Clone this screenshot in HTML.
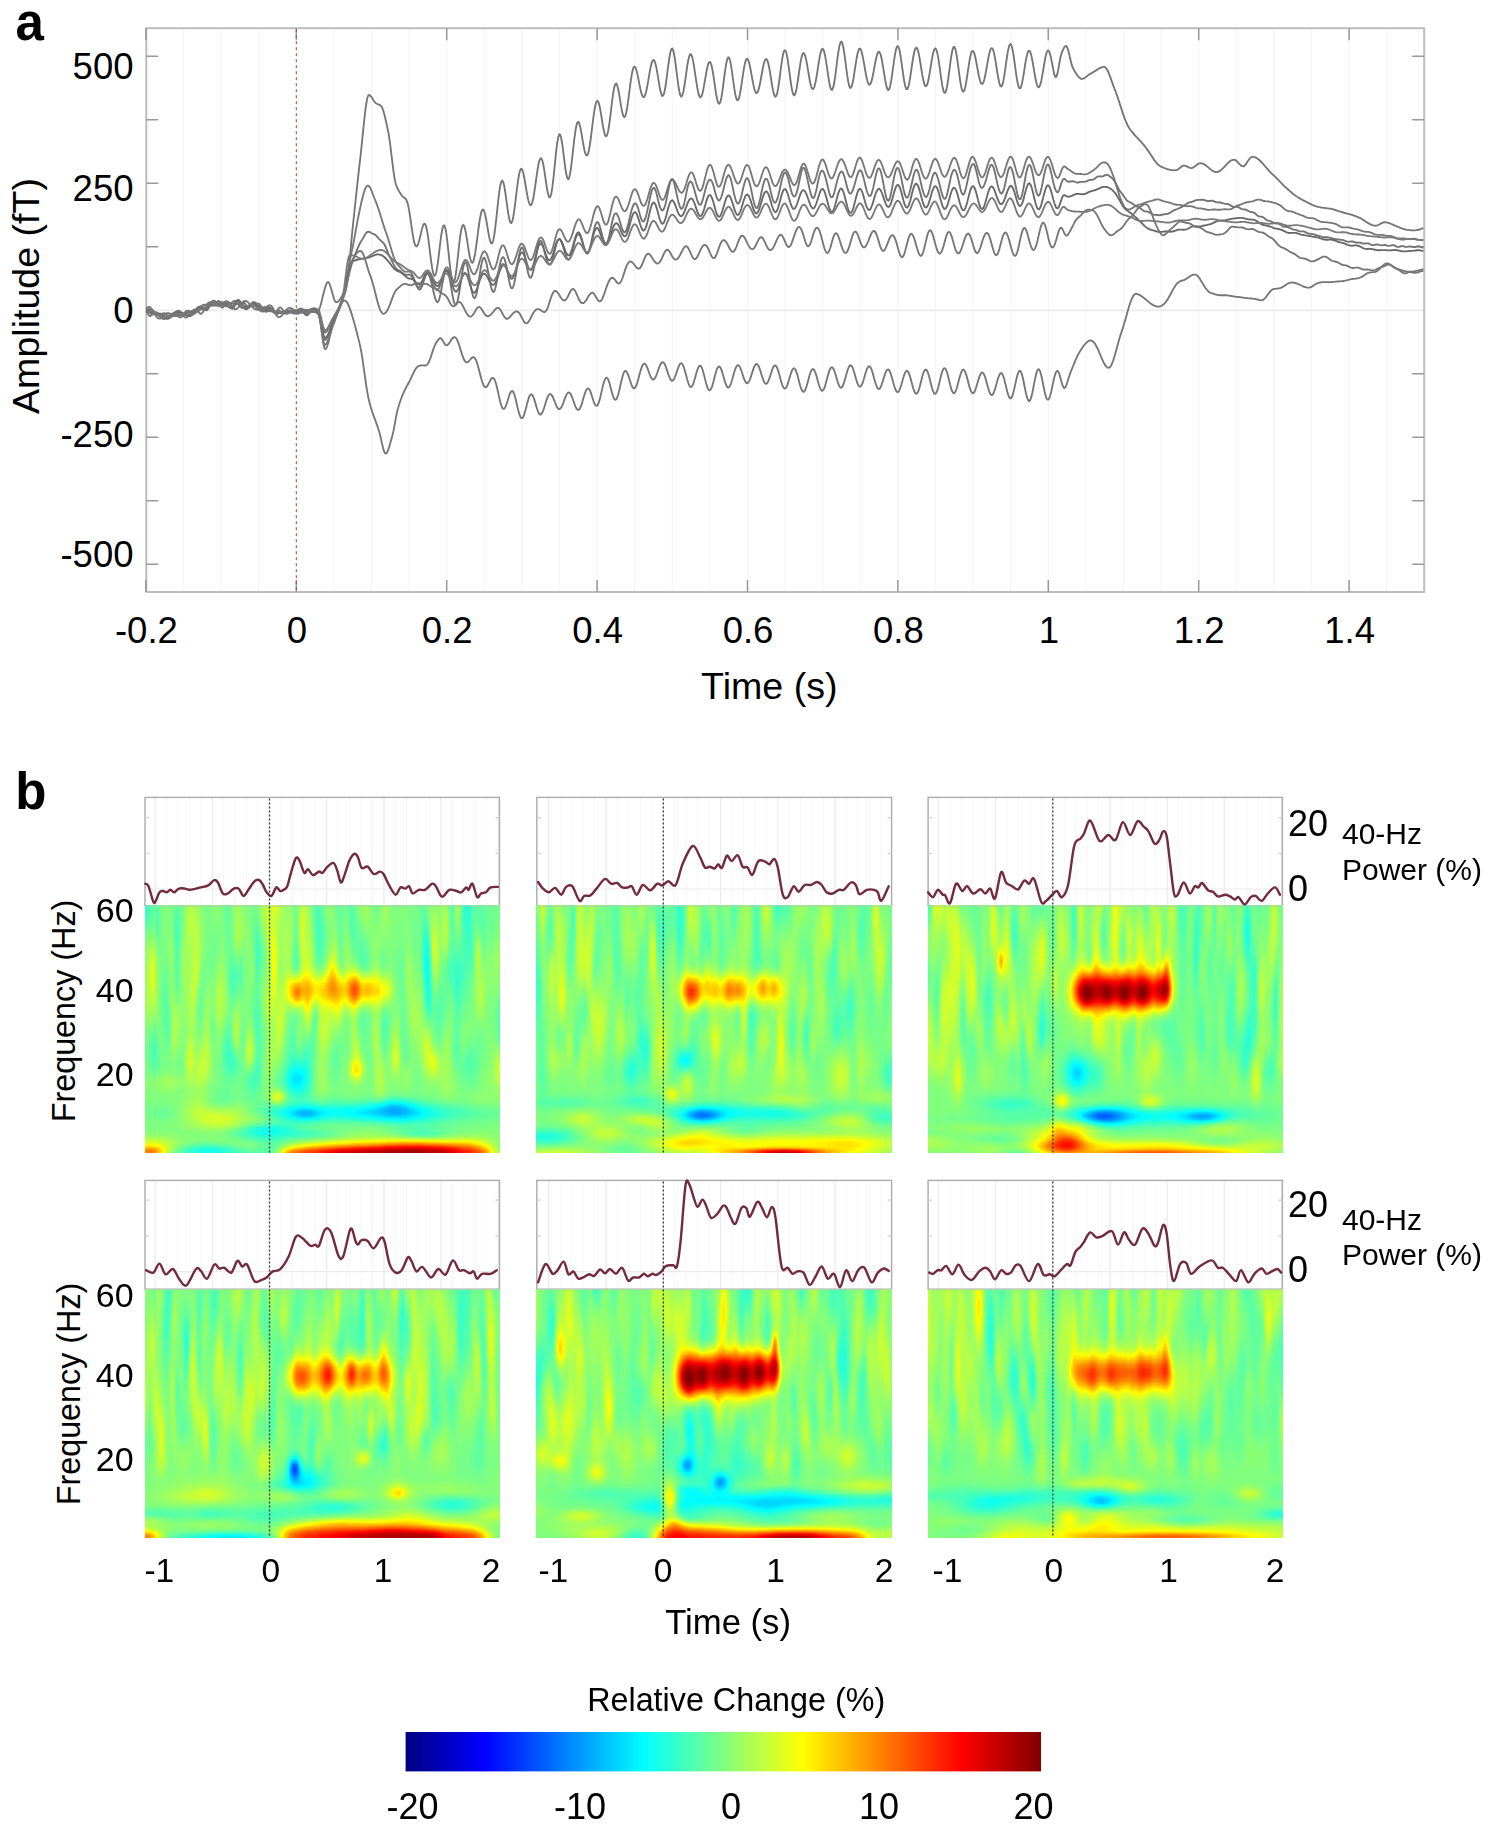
<!DOCTYPE html><html><head><meta charset="utf-8"><style>html,body{margin:0;padding:0;background:#fff}body{width:1499px;height:1834px;overflow:hidden;position:relative}svg{position:absolute;left:0;top:0;display:block}text{font-family:"Liberation Sans",sans-serif;fill:#000}.w{fill:url(#gw)}.k{fill:url(#gk)}</style></head><body><svg width="1499" height="1834" viewBox="0 0 1499 1834"><defs><radialGradient id="gw"><stop offset="0.00" stop-color="#fff" stop-opacity="1.000"/><stop offset="0.10" stop-color="#fff" stop-opacity="0.956"/><stop offset="0.20" stop-color="#fff" stop-opacity="0.835"/><stop offset="0.30" stop-color="#fff" stop-opacity="0.667"/><stop offset="0.40" stop-color="#fff" stop-opacity="0.487"/><stop offset="0.50" stop-color="#fff" stop-opacity="0.325"/><stop offset="0.60" stop-color="#fff" stop-opacity="0.198"/><stop offset="0.70" stop-color="#fff" stop-opacity="0.110"/><stop offset="0.80" stop-color="#fff" stop-opacity="0.056"/><stop offset="0.90" stop-color="#fff" stop-opacity="0.026"/><stop offset="1.00" stop-color="#fff" stop-opacity="0.000"/></radialGradient><radialGradient id="gk"><stop offset="0.00" stop-color="#000" stop-opacity="1.000"/><stop offset="0.10" stop-color="#000" stop-opacity="0.956"/><stop offset="0.20" stop-color="#000" stop-opacity="0.835"/><stop offset="0.30" stop-color="#000" stop-opacity="0.667"/><stop offset="0.40" stop-color="#000" stop-opacity="0.487"/><stop offset="0.50" stop-color="#000" stop-opacity="0.325"/><stop offset="0.60" stop-color="#000" stop-opacity="0.198"/><stop offset="0.70" stop-color="#000" stop-opacity="0.110"/><stop offset="0.80" stop-color="#000" stop-opacity="0.056"/><stop offset="0.90" stop-color="#000" stop-opacity="0.026"/><stop offset="1.00" stop-color="#000" stop-opacity="0.000"/></radialGradient><filter id="jet" x="0" y="0" width="1" height="1" color-interpolation-filters="sRGB"><feComponentTransfer><feFuncR type="table" tableValues="0 0 0 0 .5 1 1 1 .5"/><feFuncG type="table" tableValues="0 0 .5 1 1 1 .5 0 0"/><feFuncB type="table" tableValues=".5 1 1 1 .5 0 0 0 0"/></feComponentTransfer></filter><clipPath id="hc0"><rect x="145.0" y="905.8" width="354.5" height="246.6"/></clipPath><clipPath id="hc1"><rect x="536.8" y="905.8" width="354.8" height="246.6"/></clipPath><clipPath id="hc2"><rect x="928.1" y="905.8" width="354.3" height="246.6"/></clipPath><clipPath id="hc3"><rect x="145.0" y="1289.2" width="354.5" height="248.0"/></clipPath><clipPath id="hc4"><rect x="536.8" y="1289.2" width="354.8" height="248.0"/></clipPath><clipPath id="hc5"><rect x="928.1" y="1289.2" width="354.3" height="248.0"/></clipPath><linearGradient id="cb" x1="0" x2="1" y1="0" y2="0"><stop offset="0" stop-color="#000080"/><stop offset=".125" stop-color="#0000ff"/><stop offset=".375" stop-color="#00ffff"/><stop offset=".5" stop-color="#80ff80"/><stop offset=".625" stop-color="#ffff00"/><stop offset=".875" stop-color="#ff0000"/><stop offset="1" stop-color="#800000"/></linearGradient></defs><path d="M183.5 28.2V592.0M221.1 28.2V592.0M258.7 28.2V592.0M333.9 28.2V592.0M371.5 28.2V592.0M409.1 28.2V592.0M446.7 28.2V592.0M484.3 28.2V592.0M521.9 28.2V592.0M559.5 28.2V592.0M597.1 28.2V592.0M634.7 28.2V592.0M672.3 28.2V592.0M709.9 28.2V592.0M747.5 28.2V592.0M785.1 28.2V592.0M822.7 28.2V592.0M860.3 28.2V592.0M897.9 28.2V592.0M935.5 28.2V592.0M973.1 28.2V592.0M1010.7 28.2V592.0M1048.3 28.2V592.0M1085.9 28.2V592.0M1123.5 28.2V592.0M1161.1 28.2V592.0M1198.7 28.2V592.0M1236.3 28.2V592.0M1273.9 28.2V592.0M1311.5 28.2V592.0M1349.1 28.2V592.0M1386.7 28.2V592.0" stroke="#f5f5f5" stroke-width="1.2" fill="none"/>
<path d="M146.3 310.3H1424.2" stroke="#ececec" stroke-width="1.8" fill="none"/>
<rect x="146.3" y="28.2" width="1277.9" height="563.8" fill="none" stroke="#bdbdbd" stroke-width="2"/>
<path d="M146.3 56.3h12M1424.2 56.3h-12M146.3 119.8h12M1424.2 119.8h-12M146.3 183.3h12M1424.2 183.3h-12M146.3 246.8h12M1424.2 246.8h-12M146.3 373.8h12M1424.2 373.8h-12M146.3 437.3h12M1424.2 437.3h-12M146.3 500.8h12M1424.2 500.8h-12M146.3 564.3h12M1424.2 564.3h-12M145.9 28.2v12M145.9 592.0v-12M296.3 28.2v12M296.3 592.0v-12M446.7 28.2v12M446.7 592.0v-12M597.1 28.2v12M597.1 592.0v-12M747.5 28.2v12M747.5 592.0v-12M897.9 28.2v12M897.9 592.0v-12M1048.3 28.2v12M1048.3 592.0v-12M1198.7 28.2v12M1198.7 592.0v-12M1349.1 28.2v12M1349.1 592.0v-12" stroke="#999" stroke-width="1.5" fill="none"/>
<path d="M296.3 29.2V591.0" stroke="#b23a3a" stroke-width="1" stroke-dasharray="3 3" fill="none"/>
<path d="M146.3 309.4L147.3 309.2L148.3 309.1L149.3 309.1L150.3 309.3L151.3 309.6L152.3 310.0L153.3 310.6L154.3 311.4L155.3 312.2L156.3 313.2L157.3 314.2L158.3 315.2L159.3 316.2L160.3 317.1L161.3 317.9L162.3 318.5L163.3 318.8L164.3 319.0L165.3 318.8L166.3 318.5L167.3 318.0L168.3 317.3L169.3 316.6L170.3 315.7L171.3 314.9L172.3 314.0L173.3 313.2L174.3 312.5L175.3 312.0L176.3 311.6L177.3 311.4L178.3 311.4L179.3 311.6L180.3 311.9L181.3 312.4L182.3 313.0L183.3 313.6L184.3 314.3L185.3 314.9L186.3 315.5L187.3 315.9L188.3 316.2L189.3 316.2L190.3 316.0L191.3 315.6L192.3 315.1L193.3 314.3L194.3 313.3L195.3 312.3L196.3 311.2L197.3 310.0L198.3 308.9L199.3 307.9L200.3 307.0L201.3 306.3L202.3 305.7L203.3 305.3L204.3 305.1L205.3 305.0L206.3 305.0L207.3 304.9L208.3 304.7L209.3 304.5L210.3 304.3L211.3 304.2L212.3 304.2L213.3 304.4L214.3 304.9L215.3 305.3L216.3 305.6L217.3 305.8L218.3 305.9L219.3 305.8L220.3 305.6L221.3 305.3L222.3 304.9L223.3 304.4L224.3 303.9L225.3 303.5L226.3 303.3L227.3 303.1L228.3 303.0L229.3 303.1L230.3 303.2L231.3 303.4L232.3 303.6L233.3 303.7L234.3 303.7L235.3 303.7L236.3 303.8L237.3 303.9L238.3 304.1L239.3 304.4L240.3 304.9L241.3 305.6L242.3 306.3L243.3 306.9L244.3 307.4L245.3 307.7L246.3 307.7L247.3 307.4L248.3 306.9L249.3 306.2L250.3 305.5L251.3 304.8L252.3 304.2L253.3 303.8L254.3 303.6L255.3 303.8L256.3 304.3L257.3 305.1L258.3 306.0L259.3 306.9L260.3 307.9L261.3 308.7L262.3 309.3L263.3 309.6L264.3 309.7L265.3 309.9L266.3 309.9L267.3 309.9L268.3 309.9L269.3 309.8L270.3 309.7L271.3 309.7L272.3 309.7L273.3 310.2L274.3 311.1L275.3 312.1L276.3 312.7L277.3 312.9L278.3 312.8L279.3 312.7L280.3 312.5L281.3 312.4L282.3 312.2L283.3 312.0L284.3 311.8L285.3 311.7L286.3 311.6L287.3 311.5L288.3 311.4L289.3 311.2L290.3 311.1L291.3 311.0L292.3 310.9L293.3 310.8L294.3 310.8L295.3 310.7L296.3 310.8L297.3 310.8L298.3 310.9L299.3 311.1L300.3 311.2L301.3 311.4L302.3 311.6L303.3 311.8L304.3 312.0L305.3 312.2L306.3 312.3L307.3 312.4L308.3 312.4L309.3 312.3L310.3 312.1L311.3 311.8L312.3 311.4L313.3 311.1L314.3 311.0L315.3 311.1L316.3 311.4L317.3 311.9L318.3 312.6L319.3 314.7L320.3 318.0L321.3 322.1L322.3 326.1L323.3 329.6L324.3 332.0L325.3 332.6L326.3 332.0L327.3 330.6L328.3 328.6L329.3 326.2L330.3 323.7L331.3 321.4L332.3 319.5L333.3 317.7L334.3 316.0L335.3 314.2L336.3 312.4L337.3 310.6L338.3 308.7L339.3 306.6L340.3 304.5L341.3 302.4L342.3 300.3L343.3 298.0L344.3 295.3L345.3 292.2L346.3 288.2L347.3 282.1L348.3 273.6L349.3 263.7L350.3 252.9L351.3 241.9L352.3 231.4L353.3 221.9L354.3 212.6L355.3 203.2L356.3 193.7L357.3 184.4L358.3 175.3L359.3 166.5L360.3 158.1L361.3 148.9L362.3 139.1L363.3 129.1L364.3 119.5L365.3 110.8L366.3 103.5L367.3 98.1L368.3 95.3L369.3 95.0L370.3 95.7L371.3 96.8L372.3 98.3L373.3 100.0L374.3 101.5L375.3 102.8L376.3 103.5L377.3 104.0L378.3 104.4L379.3 104.9L380.3 105.4L381.3 106.2L382.3 108.0L383.3 110.7L384.3 114.3L385.3 118.3L386.3 122.8L387.3 127.4L388.3 132.1L389.3 138.1L390.3 145.4L391.3 153.6L392.3 161.9L393.3 169.9L394.3 176.8L395.3 182.2L396.3 185.6L397.3 188.0L398.3 190.0L399.3 191.7L400.3 193.3L401.3 194.8L402.3 196.1L403.3 197.0L404.3 197.7L405.3 198.5L406.3 199.9L407.3 202.3L408.3 206.0L409.3 211.3L410.3 217.8L411.3 224.9L412.3 231.9L413.3 237.9L414.3 242.5L415.3 245.4L416.3 246.5L417.3 245.8L418.3 243.6L419.3 240.2L420.3 236.0L421.3 231.6L422.3 227.7L423.3 224.9L424.3 223.6L425.3 224.3L426.3 227.2L427.3 232.1L428.3 238.7L429.3 246.5L430.3 254.7L431.3 262.4L432.3 269.0L433.3 273.6L434.3 275.8L435.3 275.3L436.3 272.2L437.3 266.7L438.3 259.3L439.3 251.0L440.3 242.5L441.3 234.9L442.3 229.1L443.3 225.7L444.3 225.4L445.3 228.0L446.3 233.5L447.3 241.2L448.3 250.3L449.3 259.8L450.3 268.7L451.3 276.0L452.3 280.8L453.3 282.7L454.3 281.4L455.3 277.2L456.3 270.5L457.3 262.0L458.3 252.8L459.3 243.7L460.3 235.7L461.3 229.6L462.3 225.9L463.3 224.8L464.3 226.2L465.3 229.9L466.3 235.3L467.3 241.7L468.3 248.3L469.3 254.3L470.3 259.0L471.3 262.0L472.3 262.9L473.3 261.4L474.3 257.8L475.3 252.4L476.3 245.5L477.3 237.8L478.3 230.0L479.3 222.8L480.3 216.6L481.3 212.2L482.3 209.8L483.3 209.5L484.3 211.4L485.3 215.1L486.3 220.2L487.3 226.2L488.3 232.2L489.3 237.5L490.3 241.5L491.3 243.5L492.3 243.1L493.3 240.2L494.3 234.8L495.3 227.4L496.3 218.6L497.3 209.1L498.3 199.8L499.3 191.7L500.3 185.4L501.3 181.6L502.3 180.5L503.3 182.2L504.3 186.4L505.3 192.5L506.3 199.7L507.3 207.1L508.3 213.9L509.3 219.2L510.3 222.4L511.3 223.1L512.3 221.1L513.3 216.7L514.3 210.2L515.3 202.5L516.3 194.1L517.3 186.0L518.3 178.8L519.3 173.3L520.3 169.9L521.3 168.7L522.3 169.9L523.3 173.0L524.3 177.8L525.3 183.5L526.3 189.6L527.3 195.4L528.3 200.2L529.3 203.6L530.3 205.2L531.3 204.8L532.3 202.3L533.3 198.0L534.3 192.2L535.3 185.4L536.3 178.2L537.3 171.3L538.3 165.3L539.3 160.9L540.3 158.5L541.3 158.3L542.3 160.4L543.3 164.5L544.3 170.4L545.3 177.1L546.3 184.1L547.3 190.3L548.3 194.9L549.3 197.3L550.3 196.9L551.3 193.7L552.3 187.7L553.3 179.5L554.3 169.9L555.3 159.8L556.3 150.3L557.3 142.4L558.3 136.9L559.3 134.3L560.3 134.9L561.3 138.5L562.3 144.5L563.3 152.2L564.3 160.4L565.3 168.1L566.3 174.3L567.3 178.2L568.3 179.3L569.3 177.3L570.3 172.6L571.3 165.6L572.3 157.1L573.3 148.0L574.3 139.2L575.3 131.6L576.3 125.9L577.3 122.6L578.3 121.8L579.3 123.5L580.3 127.2L581.3 132.4L582.3 138.3L583.3 144.3L584.3 149.5L585.3 153.4L586.3 155.4L587.3 155.3L588.3 152.9L589.3 148.3L590.3 142.0L591.3 134.4L592.3 126.2L593.3 118.2L594.3 111.1L595.3 105.5L596.3 102.0L597.3 100.7L598.3 101.8L599.3 104.9L600.3 109.8L601.3 115.7L602.3 122.1L603.3 128.0L604.3 132.8L605.3 135.8L606.3 136.4L607.3 134.6L608.3 130.4L609.3 124.0L610.3 116.3L611.3 107.8L612.3 99.6L613.3 92.4L614.3 87.1L615.3 84.0L616.3 83.5L617.3 85.5L618.3 89.5L619.3 95.1L620.3 101.3L621.3 107.4L622.3 112.6L623.3 116.0L624.3 117.2L625.3 116.0L626.3 112.5L627.3 106.9L628.3 99.9L629.3 92.1L630.3 84.3L631.3 77.3L632.3 71.7L633.3 68.1L634.3 66.6L635.3 67.2L636.3 69.6L637.3 73.6L638.3 78.4L639.3 83.7L640.3 88.7L641.3 92.9L642.3 95.8L643.3 97.2L644.3 96.8L645.3 94.7L646.3 91.0L647.3 86.0L648.3 80.3L649.3 74.4L650.3 68.9L651.3 64.4L652.3 61.2L653.3 59.9L654.3 60.5L655.3 63.0L656.3 67.2L657.3 72.8L658.3 78.9L659.3 85.0L660.3 90.3L661.3 94.2L662.3 96.0L663.3 95.5L664.3 92.6L665.3 87.5L666.3 80.7L667.3 73.0L668.3 65.1L669.3 58.0L670.3 52.5L671.3 49.3L672.3 48.6L673.3 50.7L674.3 55.3L675.3 61.8L676.3 69.6L677.3 77.7L678.3 85.2L679.3 91.2L680.3 95.2L681.3 96.7L682.3 95.5L683.3 92.0L684.3 86.5L685.3 79.8L686.3 72.6L687.3 65.7L688.3 60.0L689.3 56.0L690.3 54.2L691.3 54.7L692.3 57.4L693.3 62.1L694.3 68.1L695.3 74.9L696.3 81.7L697.3 87.9L698.3 92.9L699.3 96.1L700.3 97.4L701.3 96.6L702.3 94.0L703.3 89.7L704.3 84.2L705.3 78.3L706.3 72.5L707.3 67.5L708.3 63.8L709.3 62.0L710.3 62.2L711.3 64.6L712.3 69.0L713.3 74.9L714.3 81.6L715.3 88.6L716.3 95.0L717.3 100.0L718.3 103.1L719.3 103.8L720.3 102.1L721.3 97.9L722.3 91.8L723.3 84.5L724.3 76.7L725.3 69.3L726.3 63.2L727.3 59.0L728.3 57.3L729.3 58.2L730.3 61.6L731.3 67.1L732.3 73.9L733.3 81.3L734.3 88.4L735.3 94.4L736.3 98.5L737.3 100.4L738.3 99.8L739.3 96.9L740.3 92.1L741.3 85.9L742.3 79.0L743.3 72.3L744.3 66.4L745.3 61.9L746.3 59.3L747.3 58.7L748.3 60.2L749.3 63.4L750.3 68.0L751.3 73.5L752.3 79.1L753.3 84.4L754.3 88.8L755.3 91.8L756.3 93.1L757.3 92.7L758.3 90.5L759.3 86.8L760.3 82.0L761.3 76.5L762.3 71.0L763.3 66.0L764.3 62.0L765.3 59.6L766.3 59.0L767.3 60.4L768.3 63.5L769.3 68.3L770.3 74.2L771.3 80.5L772.3 86.6L773.3 91.8L774.3 95.3L775.3 96.8L776.3 95.9L777.3 92.7L778.3 87.3L779.3 80.5L780.3 72.8L781.3 65.1L782.3 58.4L783.3 53.3L784.3 50.5L785.3 50.3L786.3 52.7L787.3 57.4L788.3 63.8L789.3 71.3L790.3 78.9L791.3 85.8L792.3 91.2L793.3 94.5L794.3 95.4L795.3 93.8L796.3 89.9L797.3 84.2L798.3 77.5L799.3 70.4L800.3 63.8L801.3 58.3L802.3 54.6L803.3 53.0L804.3 53.5L805.3 56.1L806.3 60.4L807.3 65.9L808.3 71.9L809.3 77.8L810.3 83.0L811.3 86.8L812.3 88.9L813.3 89.0L814.3 87.1L815.3 83.3L816.3 78.1L817.3 72.0L818.3 65.4L819.3 59.3L820.3 54.1L821.3 50.5L822.3 48.8L823.3 49.4L824.3 52.1L825.3 56.8L826.3 62.8L827.3 69.7L828.3 76.6L829.3 82.7L830.3 87.3L831.3 89.7L832.3 89.7L833.3 87.2L834.3 82.3L835.3 75.6L836.3 67.8L837.3 59.7L838.3 52.3L839.3 46.4L840.3 42.7L841.3 41.5L842.3 43.1L843.3 47.2L844.3 53.3L845.3 60.7L846.3 68.5L847.3 75.9L848.3 82.0L849.3 86.2L850.3 88.0L851.3 87.3L852.3 84.4L853.3 79.5L854.3 73.4L855.3 66.7L856.3 60.2L857.3 54.7L858.3 50.8L859.3 48.7L860.3 48.7L861.3 50.7L862.3 54.4L863.3 59.4L864.3 65.1L865.3 71.0L866.3 76.3L867.3 80.7L868.3 83.6L869.3 84.8L870.3 84.2L871.3 81.9L872.3 78.1L873.3 73.3L874.3 67.9L875.3 62.5L876.3 57.7L877.3 54.1L878.3 52.0L879.3 51.8L880.3 53.6L881.3 57.2L882.3 62.2L883.3 68.3L884.3 74.7L885.3 80.7L886.3 85.7L887.3 88.9L888.3 90.1L889.3 88.9L890.3 85.5L891.3 80.1L892.3 73.4L893.3 66.0L894.3 58.8L895.3 52.7L896.3 48.3L897.3 46.1L898.3 46.5L899.3 49.3L900.3 54.3L901.3 60.8L902.3 68.1L903.3 75.4L904.3 81.7L905.3 86.4L906.3 89.0L907.3 89.2L908.3 86.9L909.3 82.6L910.3 76.7L911.3 69.9L912.3 63.0L913.3 56.7L914.3 51.7L915.3 48.6L916.3 47.5L917.3 48.7L918.3 51.8L919.3 56.6L920.3 62.5L921.3 68.8L922.3 74.9L923.3 80.1L924.3 84.0L925.3 86.1L926.3 86.1L927.3 84.2L928.3 80.5L929.3 75.3L930.3 69.3L931.3 63.0L932.3 57.1L933.3 52.4L934.3 49.3L935.3 48.3L936.3 49.5L937.3 52.9L938.3 58.2L939.3 64.8L940.3 72.1L941.3 79.3L942.3 85.6L943.3 90.3L944.3 92.7L945.3 92.7L946.3 90.1L947.3 85.1L948.3 78.5L949.3 70.8L950.3 63.0L951.3 56.0L952.3 50.6L953.3 47.4L954.3 46.8L955.3 48.8L956.3 53.3L957.3 59.6L958.3 67.0L959.3 74.6L960.3 81.6L961.3 87.2L962.3 90.7L963.3 91.8L964.3 90.5L965.3 87.0L966.3 81.7L967.3 75.2L968.3 68.4L969.3 61.9L970.3 56.6L971.3 52.8L972.3 50.9L973.3 51.2L974.3 53.3L975.3 57.1L976.3 62.1L977.3 67.6L978.3 73.0L979.3 77.9L980.3 81.6L981.3 83.7L982.3 84.1L983.3 82.6L984.3 79.5L985.3 75.0L986.3 69.6L987.3 63.8L988.3 58.2L989.3 53.4L990.3 49.9L991.3 48.1L992.3 48.3L993.3 50.4L994.3 54.4L995.3 59.8L996.3 66.0L997.3 72.4L998.3 78.3L999.3 83.0L1000.3 85.9L1001.3 86.6L1002.3 85.0L1003.3 81.2L1004.3 75.6L1005.3 68.8L1006.3 61.6L1007.3 54.8L1008.3 49.2L1009.3 45.4L1010.3 43.9L1011.3 44.9L1012.3 48.3L1013.3 53.7L1014.3 60.5L1015.3 67.9L1016.3 75.1L1017.3 81.3L1018.3 85.8L1019.3 88.2L1020.3 88.3L1021.3 86.1L1022.3 81.9L1023.3 76.4L1024.3 70.1L1025.3 63.7L1026.3 58.1L1027.3 53.8L1028.3 51.2L1029.3 50.6L1030.3 52.1L1031.3 55.4L1032.3 60.1L1033.3 65.8L1034.3 71.8L1035.3 77.5L1036.3 82.3L1037.3 85.7L1038.3 87.3L1039.3 86.9L1040.3 84.7L1041.3 80.7L1042.3 75.4L1043.3 69.4L1044.3 63.3L1045.3 57.9L1046.3 53.6L1047.3 51.0L1048.3 50.4L1049.3 51.8L1050.3 54.9L1051.3 59.4L1052.3 64.5L1053.3 69.8L1054.3 74.4L1055.3 77.0L1056.3 76.9L1057.3 74.1L1058.3 69.6L1059.3 63.5L1060.3 58.0L1061.3 54.1L1062.3 51.4L1063.3 49.1L1064.3 47.3L1065.3 46.2L1066.3 46.0L1067.3 47.6L1068.3 50.7L1069.3 54.6L1070.3 59.0L1071.3 63.1L1072.3 66.5L1073.3 68.7L1074.3 70.5L1075.3 72.2L1076.3 73.8L1077.3 75.3L1078.3 76.5L1079.3 77.6L1080.3 78.3L1081.3 78.8L1082.3 78.8L1083.3 78.6L1084.3 78.1L1085.3 77.4L1086.3 76.7L1087.3 75.9L1088.3 75.1L1089.3 74.4L1090.3 73.9L1091.3 73.3L1092.3 72.8L1093.3 72.1L1094.3 71.5L1095.3 70.9L1096.3 70.2L1097.3 69.6L1098.3 69.0L1099.3 68.4L1100.3 67.9L1101.3 67.5L1102.3 67.1L1103.3 66.9L1104.3 66.8L1105.3 67.3L1106.3 68.4L1107.3 70.0L1108.3 72.0L1109.3 74.4L1110.3 77.1L1111.3 79.9L1112.3 82.7L1113.3 85.6L1114.3 88.3L1115.3 90.8L1116.3 93.5L1117.3 96.3L1118.3 99.2L1119.3 102.3L1120.3 105.4L1121.3 108.5L1122.3 111.6L1123.3 114.6L1124.3 117.4L1125.3 120.1L1126.3 122.5L1127.3 124.7L1128.3 126.6L1129.3 128.2L1130.3 129.7L1131.3 131.0L1132.3 132.2L1133.3 133.4L1134.3 134.6L1135.3 135.7L1136.3 136.8L1137.3 137.8L1138.3 138.9L1139.3 140.0L1140.3 141.0L1141.3 142.1L1142.3 143.3L1143.3 144.4L1144.3 145.6L1145.3 146.8L1146.3 148.2L1147.3 149.6L1148.3 151.0L1149.3 152.6L1150.3 154.1L1151.3 155.6L1152.3 157.1L1153.3 158.6L1154.3 160.0L1155.3 161.4L1156.3 162.6L1157.3 163.8L1158.3 164.8L1159.3 165.6L1160.3 166.3L1161.3 166.7L1162.3 167.1L1163.3 167.5L1164.3 168.0L1165.3 168.4L1166.3 168.7L1167.3 169.1L1168.3 169.4L1169.3 169.7L1170.3 169.9L1171.3 170.1L1172.3 170.2L1173.3 170.3L1174.3 170.3L1175.3 170.2L1176.3 170.1L1177.3 169.8L1178.3 169.2L1179.3 168.4L1180.3 167.5L1181.3 166.8L1182.3 166.1L1183.3 165.7L1184.3 165.6L1185.3 165.8L1186.3 166.2L1187.3 166.7L1188.3 167.2L1189.3 167.6L1190.3 167.9L1191.3 168.1L1192.3 167.9L1193.3 167.4L1194.3 166.8L1195.3 166.0L1196.3 165.2L1197.3 164.4L1198.3 163.8L1199.3 163.3L1200.3 163.2L1201.3 163.3L1202.3 163.5L1203.3 163.9L1204.3 164.4L1205.3 165.1L1206.3 165.8L1207.3 166.6L1208.3 167.4L1209.3 168.3L1210.3 169.1L1211.3 169.9L1212.3 170.6L1213.3 171.2L1214.3 171.7L1215.3 172.0L1216.3 172.1L1217.3 172.0L1218.3 171.7L1219.3 171.2L1220.3 170.6L1221.3 169.8L1222.3 168.9L1223.3 167.9L1224.3 166.9L1225.3 165.8L1226.3 164.7L1227.3 163.7L1228.3 162.7L1229.3 161.8L1230.3 161.0L1231.3 160.4L1232.3 160.0L1233.3 159.8L1234.3 159.7L1235.3 160.1L1236.3 160.8L1237.3 161.7L1238.3 162.8L1239.3 163.9L1240.3 164.9L1241.3 165.7L1242.3 166.2L1243.3 166.3L1244.3 165.8L1245.3 164.9L1246.3 163.6L1247.3 162.0L1248.3 160.5L1249.3 159.0L1250.3 157.9L1251.3 157.1L1252.3 156.9L1253.3 156.9L1254.3 157.1L1255.3 157.4L1256.3 157.9L1257.3 158.5L1258.3 159.2L1259.3 160.0L1260.3 161.0L1261.3 162.0L1262.3 163.0L1263.3 164.2L1264.3 165.3L1265.3 166.5L1266.3 167.7L1267.3 168.8L1268.3 170.0L1269.3 171.1L1270.3 172.2L1271.3 173.2L1272.3 174.1L1273.3 175.0L1274.3 175.9L1275.3 176.8L1276.3 177.8L1277.3 178.8L1278.3 179.9L1279.3 180.9L1280.3 182.0L1281.3 183.1L1282.3 184.1L1283.3 185.1L1284.3 186.1L1285.3 187.0L1286.3 187.9L1287.3 188.8L1288.3 189.7L1289.3 190.6L1290.3 191.5L1291.3 192.3L1292.3 193.2L1293.3 194.0L1294.3 194.7L1295.3 195.5L1296.3 196.2L1297.3 196.8L1298.3 197.5L1299.3 198.1L1300.3 198.6L1301.3 199.2L1302.3 199.8L1303.3 200.3L1304.3 200.8L1305.3 201.3L1306.3 201.9L1307.3 202.4L1308.3 202.9L1309.3 203.4L1310.3 203.9L1311.3 204.4L1312.3 204.9L1313.3 205.3L1314.3 205.7L1315.3 206.0L1316.3 206.4L1317.3 206.7L1318.3 206.9L1319.3 207.2L1320.3 207.4L1321.3 207.5L1322.3 207.7L1323.3 207.8L1324.3 207.9L1325.3 208.1L1326.3 208.2L1327.3 208.3L1328.3 208.4L1329.3 208.6L1330.3 208.7L1331.3 208.9L1332.3 209.1L1333.3 209.4L1334.3 209.7L1335.3 210.0L1336.3 210.3L1337.3 210.6L1338.3 210.9L1339.3 211.3L1340.3 211.6L1341.3 211.9L1342.3 212.2L1343.3 212.5L1344.3 212.8L1345.3 213.0L1346.3 213.3L1347.3 213.6L1348.3 213.8L1349.3 214.1L1350.3 214.4L1351.3 214.7L1352.3 215.0L1353.3 215.3L1354.3 215.7L1355.3 216.0L1356.3 216.4L1357.3 216.8L1358.3 217.3L1359.3 217.7L1360.3 218.2L1361.3 218.7L1362.3 219.3L1363.3 219.9L1364.3 220.6L1365.3 221.2L1366.3 221.9L1367.3 222.6L1368.3 223.2L1369.3 223.7L1370.3 224.3L1371.3 224.7L1372.3 225.1L1373.3 225.4L1374.3 225.6L1375.3 225.7L1376.3 225.7L1377.3 225.4L1378.3 225.0L1379.3 224.5L1380.3 223.9L1381.3 223.3L1382.3 222.8L1383.3 222.4L1384.3 222.2L1385.3 222.2L1386.3 222.3L1387.3 222.6L1388.3 222.9L1389.3 223.2L1390.3 223.6L1391.3 224.0L1392.3 224.4L1393.3 224.8L1394.3 225.3L1395.3 225.7L1396.3 226.1L1397.3 226.6L1398.3 227.0L1399.3 227.4L1400.3 227.8L1401.3 228.2L1402.3 228.6L1403.3 228.9L1404.3 229.2L1405.3 229.5L1406.3 229.7L1407.3 229.8L1408.3 229.9L1409.3 230.1L1410.3 230.2L1411.3 230.3L1412.3 230.3L1413.3 230.4L1414.3 230.4L1415.3 230.3L1416.3 230.2L1417.3 230.0L1418.3 229.8L1419.3 229.5L1420.3 229.2L1421.3 228.9L1422.3 228.5L1423.3 228.1" stroke="#757575" stroke-width="1.85" fill="none" stroke-linejoin="round"/>
<path d="M146.3 309.1L147.3 310.1L148.3 311.4L149.3 312.6L150.3 313.5L151.3 314.0L152.3 314.0L153.3 313.7L154.3 313.2L155.3 312.7L156.3 312.5L157.3 312.7L158.3 313.3L159.3 314.2L160.3 315.2L161.3 316.2L162.3 316.9L163.3 317.3L164.3 317.4L165.3 317.2L166.3 316.9L167.3 316.7L168.3 316.5L169.3 316.4L170.3 316.4L171.3 316.2L172.3 315.8L173.3 315.0L174.3 314.0L175.3 312.8L176.3 311.7L177.3 310.9L178.3 310.6L179.3 310.9L180.3 311.7L181.3 313.0L182.3 314.5L183.3 315.9L184.3 317.0L185.3 317.5L186.3 317.5L187.3 317.0L188.3 316.1L189.3 315.0L190.3 314.0L191.3 313.0L192.3 312.2L193.3 311.4L194.3 310.6L195.3 309.8L196.3 308.9L197.3 307.9L198.3 307.1L199.3 306.6L200.3 306.5L201.3 306.8L202.3 307.6L203.3 308.5L204.3 309.5L205.3 310.1L206.3 310.3L207.3 309.6L208.3 308.2L209.3 306.3L210.3 304.3L211.3 302.4L212.3 301.1L213.3 300.5L214.3 300.8L215.3 301.5L216.3 302.4L217.3 303.4L218.3 304.2L219.3 304.8L220.3 305.1L221.3 305.2L222.3 305.3L223.3 305.4L224.3 305.6L225.3 305.8L226.3 306.0L227.3 306.0L228.3 305.7L229.3 305.1L230.3 304.2L231.3 303.1L232.3 302.1L233.3 301.3L234.3 300.9L235.3 301.1L236.3 301.8L237.3 302.9L238.3 304.3L239.3 305.6L240.3 306.7L241.3 307.6L242.3 308.0L243.3 308.2L244.3 308.0L245.3 307.7L246.3 307.2L247.3 306.7L248.3 306.2L249.3 305.6L250.3 305.0L251.3 304.2L252.3 303.5L253.3 302.7L254.3 302.3L255.3 302.5L256.3 303.2L257.3 304.5L258.3 306.2L259.3 308.1L260.3 309.8L261.3 311.1L262.3 311.7L263.3 311.5L264.3 310.8L265.3 309.8L266.3 308.8L267.3 308.0L268.3 307.6L269.3 307.7L270.3 308.2L271.3 308.9L272.3 309.8L273.3 311.0L274.3 312.3L275.3 313.4L276.3 314.0L277.3 313.8L278.3 313.5L279.3 313.2L280.3 313.0L281.3 312.9L282.3 312.8L283.3 312.5L284.3 312.0L285.3 311.2L286.3 310.2L287.3 309.3L288.3 308.5L289.3 308.1L290.3 308.2L291.3 308.8L292.3 309.8L293.3 311.1L294.3 312.2L295.3 313.2L296.3 313.7L297.3 313.8L298.3 313.6L299.3 313.1L300.3 312.7L301.3 312.4L302.3 312.2L303.3 312.3L304.3 312.5L305.3 312.6L306.3 312.4L307.3 312.0L308.3 311.3L309.3 310.4L310.3 309.5L311.3 308.8L312.3 308.6L313.3 308.7L314.3 309.4L315.3 310.5L316.3 311.8L317.3 313.2L318.3 314.5L319.3 317.3L320.3 321.6L321.3 326.7L322.3 331.8L323.3 336.2L324.3 339.2L325.3 340.0L326.3 339.3L327.3 337.7L328.3 335.3L329.3 332.5L330.3 329.4L331.3 326.5L332.3 323.7L333.3 321.3L334.3 319.2L335.3 317.2L336.3 315.3L337.3 313.3L338.3 311.3L339.3 309.2L340.3 306.8L341.3 304.1L342.3 301.0L343.3 297.1L344.3 292.4L345.3 287.2L346.3 281.6L347.3 275.8L348.3 270.0L349.3 264.2L350.3 258.7L351.3 253.5L352.3 248.7L353.3 243.7L354.3 238.5L355.3 233.0L356.3 227.6L357.3 222.2L358.3 217.0L359.3 212.0L360.3 207.2L361.3 202.7L362.3 198.5L363.3 194.7L364.3 191.3L365.3 188.6L366.3 186.7L367.3 185.6L368.3 185.6L369.3 186.5L370.3 188.1L371.3 190.2L372.3 192.7L373.3 195.4L374.3 198.0L375.3 200.4L376.3 202.9L377.3 205.6L378.3 208.5L379.3 211.5L380.3 214.7L381.3 218.0L382.3 221.3L383.3 224.5L384.3 227.6L385.3 230.6L386.3 233.3L387.3 236.2L388.3 239.3L389.3 242.5L390.3 245.9L391.3 249.3L392.3 252.7L393.3 255.9L394.3 258.7L395.3 261.0L396.3 262.7L397.3 264.1L398.3 265.4L399.3 266.5L400.3 267.5L401.3 268.6L402.3 269.7L403.3 270.6L404.3 271.3L405.3 271.7L406.3 271.8L407.3 271.6L408.3 271.5L409.3 271.5L410.3 271.9L411.3 273.0L412.3 274.7L413.3 277.0L414.3 279.6L415.3 282.4L416.3 284.8L417.3 286.6L418.3 287.5L419.3 287.4L420.3 286.2L421.3 284.3L422.3 282.0L423.3 279.5L424.3 277.2L425.3 275.2L426.3 273.9L427.3 273.4L428.3 273.6L429.3 274.7L430.3 276.5L431.3 278.8L432.3 281.5L433.3 284.1L434.3 286.6L435.3 288.6L436.3 289.8L437.3 290.1L438.3 289.3L439.3 287.5L440.3 284.7L441.3 281.3L442.3 277.5L443.3 273.9L444.3 270.8L445.3 268.5L446.3 267.4L447.3 267.4L448.3 268.5L449.3 270.6L450.3 273.2L451.3 276.1L452.3 278.7L453.3 280.9L454.3 282.2L455.3 282.5L456.3 281.8L457.3 280.1L458.3 277.7L459.3 274.6L460.3 271.3L461.3 268.0L462.3 265.0L463.3 262.5L464.3 260.8L465.3 260.0L466.3 260.2L467.3 261.3L468.3 263.2L469.3 265.6L470.3 268.3L471.3 270.8L472.3 272.8L473.3 274.0L474.3 274.3L475.3 273.6L476.3 271.8L477.3 269.2L478.3 266.0L479.3 262.5L480.3 259.1L481.3 256.0L482.3 253.5L483.3 251.9L484.3 251.3L485.3 251.8L486.3 253.2L487.3 255.4L488.3 258.3L489.3 261.4L490.3 264.4L491.3 267.0L492.3 268.8L493.3 269.5L494.3 269.0L495.3 267.3L496.3 264.5L497.3 260.9L498.3 256.8L499.3 252.8L500.3 249.3L501.3 246.7L502.3 245.3L503.3 245.3L504.3 246.5L505.3 248.7L506.3 251.7L507.3 255.0L508.3 258.3L509.3 261.1L510.3 263.1L511.3 264.2L512.3 264.2L513.3 263.2L514.3 261.3L515.3 258.7L516.3 255.6L517.3 252.3L518.3 249.3L519.3 246.6L520.3 244.7L521.3 243.7L522.3 243.8L523.3 244.8L524.3 246.7L525.3 249.2L526.3 252.1L527.3 254.9L528.3 257.4L529.3 259.2L530.3 260.0L531.3 259.8L532.3 258.6L533.3 256.4L534.3 253.5L535.3 250.1L536.3 246.6L537.3 243.4L538.3 240.6L539.3 238.6L540.3 237.6L541.3 237.5L542.3 238.4L543.3 240.2L544.3 242.7L545.3 245.6L546.3 248.5L547.3 251.0L548.3 252.9L549.3 253.8L550.3 253.6L551.3 252.2L552.3 249.6L553.3 246.2L554.3 242.4L555.3 238.4L556.3 234.8L557.3 231.9L558.3 230.0L559.3 229.1L560.3 229.3L561.3 230.5L562.3 232.4L563.3 234.6L564.3 236.9L565.3 239.0L566.3 240.6L567.3 241.6L568.3 241.7L569.3 240.9L570.3 239.4L571.3 237.1L572.3 234.3L573.3 231.1L574.3 227.9L575.3 224.8L576.3 222.2L577.3 220.4L578.3 219.4L579.3 219.4L580.3 220.4L581.3 222.3L582.3 224.6L583.3 227.3L584.3 229.7L585.3 231.7L586.3 232.9L587.3 233.1L588.3 232.2L589.3 230.2L590.3 227.3L591.3 223.7L592.3 219.7L593.3 215.7L594.3 212.1L595.3 209.1L596.3 207.1L597.3 206.2L598.3 206.6L599.3 208.1L600.3 210.6L601.3 213.8L602.3 217.2L603.3 220.4L604.3 222.9L605.3 224.5L606.3 224.7L607.3 223.6L608.3 221.1L609.3 217.6L610.3 213.4L611.3 208.9L612.3 204.6L613.3 201.0L614.3 198.3L615.3 196.9L616.3 196.6L617.3 197.4L618.3 199.1L619.3 201.5L620.3 204.1L621.3 206.6L622.3 208.8L623.3 210.4L624.3 211.2L625.3 211.0L626.3 210.0L627.3 208.0L628.3 205.3L629.3 202.1L630.3 198.7L631.3 195.4L632.3 192.5L633.3 190.4L634.3 189.3L635.3 189.2L636.3 190.3L637.3 192.2L638.3 194.9L639.3 197.8L640.3 200.7L641.3 203.3L642.3 205.0L643.3 205.9L644.3 205.7L645.3 204.4L646.3 202.1L647.3 199.2L648.3 195.7L649.3 192.2L650.3 188.8L651.3 186.0L652.3 184.0L653.3 182.9L654.3 183.0L655.3 184.1L656.3 186.1L657.3 188.8L658.3 191.8L659.3 194.8L660.3 197.4L661.3 199.2L662.3 200.0L663.3 199.6L664.3 198.2L665.3 195.9L666.3 192.9L667.3 189.6L668.3 186.4L669.3 183.5L670.3 181.3L671.3 179.9L672.3 179.5L673.3 179.8L674.3 181.0L675.3 182.7L676.3 184.8L677.3 187.0L678.3 189.1L679.3 190.9L680.3 192.2L681.3 192.8L682.3 192.5L683.3 191.4L684.3 189.4L685.3 186.6L686.3 183.5L687.3 180.1L688.3 177.0L689.3 174.4L690.3 172.8L691.3 172.2L692.3 172.8L693.3 174.5L694.3 177.1L695.3 180.2L696.3 183.6L697.3 186.7L698.3 189.1L699.3 190.6L700.3 190.9L701.3 190.0L702.3 187.9L703.3 184.9L704.3 181.1L705.3 176.9L706.3 172.9L707.3 169.3L708.3 166.6L709.3 165.1L710.3 164.8L711.3 165.9L712.3 168.3L713.3 171.5L714.3 175.3L715.3 179.1L716.3 182.6L717.3 185.2L718.3 186.6L719.3 186.7L720.3 185.6L721.3 183.3L722.3 180.2L723.3 176.6L724.3 173.0L725.3 169.7L726.3 167.1L727.3 165.5L728.3 164.8L729.3 165.2L730.3 166.6L731.3 168.8L732.3 171.5L733.3 174.4L734.3 177.4L735.3 180.0L736.3 182.1L737.3 183.3L738.3 183.6L739.3 182.8L740.3 181.0L741.3 178.5L742.3 175.4L743.3 172.1L744.3 169.1L745.3 166.7L746.3 165.2L747.3 164.9L748.3 165.7L749.3 167.7L750.3 170.5L751.3 173.9L752.3 177.5L753.3 180.9L754.3 183.6L755.3 185.5L756.3 186.4L757.3 186.1L758.3 184.8L759.3 182.6L760.3 179.8L761.3 176.7L762.3 173.5L763.3 170.7L764.3 168.6L765.3 167.4L766.3 167.2L767.3 168.1L768.3 170.0L769.3 172.7L770.3 175.8L771.3 179.0L772.3 181.9L773.3 184.3L774.3 185.7L775.3 186.2L776.3 185.7L777.3 184.2L778.3 182.1L779.3 179.6L780.3 176.9L781.3 174.3L782.3 172.1L783.3 170.6L784.3 169.7L785.3 169.6L786.3 170.3L787.3 171.7L788.3 173.7L789.3 176.1L790.3 178.7L791.3 181.2L792.3 183.2L793.3 184.6L794.3 185.1L795.3 184.5L796.3 182.9L797.3 180.3L798.3 177.0L799.3 173.5L800.3 169.9L801.3 166.9L802.3 164.7L803.3 163.7L804.3 163.9L805.3 165.3L806.3 167.7L807.3 170.8L808.3 174.3L809.3 177.6L810.3 180.5L811.3 182.6L812.3 183.6L813.3 183.4L814.3 182.1L815.3 179.7L816.3 176.5L817.3 172.7L818.3 168.9L819.3 165.3L820.3 162.3L821.3 160.3L822.3 159.5L823.3 159.8L824.3 161.4L825.3 163.9L826.3 167.0L827.3 170.3L828.3 173.4L829.3 176.0L830.3 177.8L831.3 178.5L832.3 178.1L833.3 176.7L834.3 174.5L835.3 171.7L836.3 168.7L837.3 165.7L838.3 163.0L839.3 161.0L840.3 159.7L841.3 159.2L842.3 159.7L843.3 161.1L844.3 163.2L845.3 165.8L846.3 168.8L847.3 171.7L848.3 174.3L849.3 176.2L850.3 177.1L851.3 177.0L852.3 175.7L853.3 173.4L854.3 170.4L855.3 167.0L856.3 163.7L857.3 160.8L858.3 158.7L859.3 157.6L860.3 157.7L861.3 159.0L862.3 161.2L863.3 164.2L864.3 167.5L865.3 170.8L866.3 173.7L867.3 176.0L868.3 177.5L869.3 177.9L870.3 177.4L871.3 175.9L872.3 173.6L873.3 170.9L874.3 167.9L875.3 165.0L876.3 162.5L877.3 160.7L878.3 159.9L879.3 160.0L880.3 161.1L881.3 163.1L882.3 165.7L883.3 168.6L884.3 171.5L885.3 174.1L886.3 176.0L887.3 177.2L888.3 177.4L889.3 176.8L890.3 175.5L891.3 173.4L892.3 171.0L893.3 168.5L894.3 166.0L895.3 163.8L896.3 162.2L897.3 161.3L898.3 161.3L899.3 162.2L900.3 164.0L901.3 166.5L902.3 169.5L903.3 172.6L904.3 175.5L905.3 177.9L906.3 179.3L907.3 179.7L908.3 178.8L909.3 176.8L910.3 173.9L911.3 170.4L912.3 166.8L913.3 163.6L914.3 161.0L915.3 159.4L916.3 158.9L917.3 159.6L918.3 161.4L919.3 163.9L920.3 167.0L921.3 170.3L922.3 173.4L923.3 176.0L924.3 177.8L925.3 178.6L926.3 178.5L927.3 177.3L928.3 175.2L929.3 172.5L930.3 169.3L931.3 166.1L932.3 163.1L933.3 160.7L934.3 159.3L935.3 158.8L936.3 159.4L937.3 161.0L938.3 163.4L939.3 166.3L940.3 169.3L941.3 172.1L942.3 174.5L943.3 176.1L944.3 176.8L945.3 176.6L946.3 175.4L947.3 173.5L948.3 170.9L949.3 168.0L950.3 164.9L951.3 162.1L952.3 159.8L953.3 158.3L954.3 157.8L955.3 158.3L956.3 160.0L957.3 162.5L958.3 165.8L959.3 169.3L960.3 172.7L961.3 175.6L962.3 177.6L963.3 178.4L964.3 177.9L965.3 176.1L966.3 173.3L967.3 169.9L968.3 166.2L969.3 162.6L970.3 159.7L971.3 157.7L972.3 156.8L973.3 157.1L974.3 158.5L975.3 160.9L976.3 163.8L977.3 167.1L978.3 170.4L979.3 173.4L980.3 175.6L981.3 177.0L982.3 177.4L983.3 176.7L984.3 175.1L985.3 172.5L986.3 169.5L987.3 166.1L988.3 163.0L989.3 160.3L990.3 158.4L991.3 157.6L992.3 157.9L993.3 159.2L994.3 161.5L995.3 164.3L996.3 167.6L997.3 170.7L998.3 173.5L999.3 175.6L1000.3 176.9L1001.3 177.1L1002.3 176.3L1003.3 174.6L1004.3 172.0L1005.3 168.9L1006.3 165.6L1007.3 162.4L1008.3 159.6L1009.3 157.6L1010.3 156.7L1011.3 156.9L1012.3 158.3L1013.3 160.7L1014.3 163.9L1015.3 167.6L1016.3 171.1L1017.3 174.2L1018.3 176.4L1019.3 177.5L1020.3 177.2L1021.3 175.7L1022.3 173.2L1023.3 170.0L1024.3 166.5L1025.3 163.0L1026.3 160.1L1027.3 158.0L1028.3 156.8L1029.3 156.7L1030.3 157.6L1031.3 159.5L1032.3 161.9L1033.3 164.8L1034.3 167.8L1035.3 170.6L1036.3 172.9L1037.3 174.6L1038.3 175.3L1039.3 175.0L1040.3 173.8L1041.3 171.7L1042.3 169.0L1043.3 165.9L1044.3 162.8L1045.3 160.1L1046.3 158.0L1047.3 156.9L1048.3 156.8L1049.3 157.8L1050.3 159.8L1051.3 162.5L1052.3 165.8L1053.3 169.2L1054.3 172.4L1055.3 175.1L1056.3 177.0L1057.3 177.9L1058.3 177.8L1059.3 176.2L1060.3 173.7L1061.3 170.9L1062.3 168.4L1063.3 166.8L1064.3 166.3L1065.3 166.8L1066.3 167.7L1067.3 168.6L1068.3 169.2L1069.3 169.8L1070.3 170.5L1071.3 171.3L1072.3 172.0L1073.3 172.7L1074.3 173.2L1075.3 173.6L1076.3 173.8L1077.3 173.9L1078.3 173.9L1079.3 173.9L1080.3 174.0L1081.3 174.0L1082.3 174.2L1083.3 174.3L1084.3 174.3L1085.3 174.3L1086.3 174.1L1087.3 173.8L1088.3 173.4L1089.3 172.9L1090.3 172.3L1091.3 171.6L1092.3 171.0L1093.3 170.3L1094.3 169.6L1095.3 168.8L1096.3 167.9L1097.3 166.9L1098.3 165.9L1099.3 164.8L1100.3 163.9L1101.3 163.2L1102.3 162.6L1103.3 162.3L1104.3 162.3L1105.3 162.5L1106.3 162.8L1107.3 163.6L1108.3 164.9L1109.3 166.5L1110.3 168.5L1111.3 170.7L1112.3 173.3L1113.3 176.0L1114.3 179.0L1115.3 182.2L1116.3 185.5L1117.3 188.8L1118.3 192.0L1119.3 195.1L1120.3 198.0L1121.3 200.6L1122.3 202.9L1123.3 205.0L1124.3 206.7L1125.3 208.0L1126.3 208.9L1127.3 209.3L1128.3 209.4L1129.3 209.3L1130.3 209.1L1131.3 208.7L1132.3 208.2L1133.3 207.5L1134.3 206.8L1135.3 206.2L1136.3 205.7L1137.3 205.3L1138.3 204.9L1139.3 204.7L1140.3 204.4L1141.3 204.1L1142.3 203.8L1143.3 203.4L1144.3 203.0L1145.3 202.6L1146.3 202.2L1147.3 201.9L1148.3 201.6L1149.3 201.3L1150.3 201.1L1151.3 200.9L1152.3 200.6L1153.3 200.3L1154.3 200.0L1155.3 199.7L1156.3 199.5L1157.3 199.4L1158.3 199.4L1159.3 199.6L1160.3 200.0L1161.3 200.4L1162.3 200.8L1163.3 201.2L1164.3 201.5L1165.3 201.7L1166.3 201.9L1167.3 202.1L1168.3 202.3L1169.3 202.5L1170.3 202.8L1171.3 203.2L1172.3 203.6L1173.3 204.0L1174.3 204.3L1175.3 204.5L1176.3 204.7L1177.3 204.7L1178.3 204.8L1179.3 204.8L1180.3 204.9L1181.3 205.1L1182.3 205.3L1183.3 205.6L1184.3 205.8L1185.3 206.0L1186.3 206.1L1187.3 206.2L1188.3 206.2L1189.3 206.1L1190.3 206.2L1191.3 206.3L1192.3 206.5L1193.3 206.8L1194.3 207.2L1195.3 207.5L1196.3 207.9L1197.3 208.1L1198.3 208.3L1199.3 208.4L1200.3 208.4L1201.3 208.5L1202.3 208.6L1203.3 208.8L1204.3 209.0L1205.3 209.3L1206.3 209.5L1207.3 209.8L1208.3 209.9L1209.3 209.9L1210.3 209.8L1211.3 209.7L1212.3 209.6L1213.3 209.5L1214.3 209.4L1215.3 209.5L1216.3 209.6L1217.3 209.7L1218.3 209.7L1219.3 209.7L1220.3 209.7L1221.3 209.6L1222.3 209.4L1223.3 209.3L1224.3 209.2L1225.3 209.2L1226.3 209.3L1227.3 209.4L1228.3 209.4L1229.3 209.4L1230.3 209.3L1231.3 208.9L1232.3 208.5L1233.3 207.9L1234.3 207.3L1235.3 206.7L1236.3 206.2L1237.3 205.7L1238.3 205.3L1239.3 205.0L1240.3 204.6L1241.3 204.3L1242.3 203.9L1243.3 203.5L1244.3 203.1L1245.3 202.7L1246.3 202.4L1247.3 202.1L1248.3 202.0L1249.3 201.8L1250.3 201.7L1251.3 201.6L1252.3 201.4L1253.3 201.1L1254.3 200.7L1255.3 200.3L1256.3 200.0L1257.3 199.7L1258.3 199.6L1259.3 199.6L1260.3 199.8L1261.3 200.1L1262.3 200.5L1263.3 200.8L1264.3 201.0L1265.3 201.2L1266.3 201.3L1267.3 201.4L1268.3 201.5L1269.3 201.6L1270.3 201.8L1271.3 202.0L1272.3 202.3L1273.3 202.6L1274.3 202.9L1275.3 203.2L1276.3 203.5L1277.3 203.9L1278.3 204.3L1279.3 204.8L1280.3 205.5L1281.3 206.3L1282.3 207.1L1283.3 208.0L1284.3 208.9L1285.3 209.7L1286.3 210.3L1287.3 210.7L1288.3 211.0L1289.3 211.2L1290.3 211.3L1291.3 211.5L1292.3 211.7L1293.3 212.0L1294.3 212.4L1295.3 212.8L1296.3 213.3L1297.3 213.7L1298.3 214.1L1299.3 214.4L1300.3 214.8L1301.3 215.1L1302.3 215.5L1303.3 215.9L1304.3 216.4L1305.3 216.9L1306.3 217.3L1307.3 217.7L1308.3 217.9L1309.3 218.0L1310.3 218.1L1311.3 218.1L1312.3 218.1L1313.3 218.3L1314.3 218.6L1315.3 219.0L1316.3 219.6L1317.3 220.1L1318.3 220.7L1319.3 221.2L1320.3 221.6L1321.3 221.8L1322.3 222.0L1323.3 222.1L1324.3 222.1L1325.3 222.2L1326.3 222.3L1327.3 222.4L1328.3 222.6L1329.3 222.7L1330.3 222.9L1331.3 223.0L1332.3 223.1L1333.3 223.3L1334.3 223.5L1335.3 223.8L1336.3 224.2L1337.3 224.8L1338.3 225.4L1339.3 226.0L1340.3 226.6L1341.3 227.0L1342.3 227.3L1343.3 227.4L1344.3 227.4L1345.3 227.4L1346.3 227.3L1347.3 227.3L1348.3 227.4L1349.3 227.5L1350.3 227.8L1351.3 228.0L1352.3 228.3L1353.3 228.6L1354.3 228.8L1355.3 228.9L1356.3 229.1L1357.3 229.3L1358.3 229.6L1359.3 230.0L1360.3 230.3L1361.3 230.7L1362.3 231.1L1363.3 231.4L1364.3 231.6L1365.3 231.7L1366.3 231.7L1367.3 231.8L1368.3 231.9L1369.3 232.1L1370.3 232.4L1371.3 232.8L1372.3 233.2L1373.3 233.7L1374.3 234.1L1375.3 234.4L1376.3 234.7L1377.3 234.8L1378.3 234.8L1379.3 234.8L1380.3 234.8L1381.3 234.9L1382.3 235.0L1383.3 235.2L1384.3 235.4L1385.3 235.6L1386.3 235.7L1387.3 235.8L1388.3 235.9L1389.3 235.9L1390.3 236.0L1391.3 236.2L1392.3 236.5L1393.3 236.9L1394.3 237.3L1395.3 237.7L1396.3 238.0L1397.3 238.3L1398.3 238.4L1399.3 238.5L1400.3 238.5L1401.3 238.4L1402.3 238.4L1403.3 238.4L1404.3 238.5L1405.3 238.7L1406.3 238.9L1407.3 239.0L1408.3 239.1L1409.3 239.1L1410.3 239.0L1411.3 238.9L1412.3 238.8L1413.3 238.7L1414.3 238.7L1415.3 238.9L1416.3 239.1L1417.3 239.3L1418.3 239.6L1419.3 239.8L1420.3 239.9L1421.3 240.0L1422.3 240.0L1423.3 240.0" stroke="#787878" stroke-width="1.85" fill="none" stroke-linejoin="round"/>
<path d="M146.3 311.5L147.3 311.4L148.3 311.6L149.3 312.0L150.3 312.5L151.3 312.7L152.3 312.8L153.3 312.7L154.3 312.8L155.3 313.3L156.3 314.0L157.3 314.9L158.3 315.4L159.3 315.6L160.3 315.2L161.3 314.5L162.3 313.9L163.3 313.6L164.3 313.8L165.3 314.3L166.3 315.0L167.3 315.6L168.3 316.0L169.3 316.2L170.3 316.3L171.3 316.3L172.3 316.3L173.3 316.2L174.3 315.8L175.3 315.3L176.3 314.7L177.3 314.3L178.3 314.2L179.3 314.6L180.3 315.2L181.3 315.8L182.3 316.0L183.3 315.6L184.3 314.7L185.3 313.7L186.3 312.7L187.3 312.1L188.3 311.9L189.3 311.8L190.3 311.6L191.3 311.3L192.3 310.8L193.3 310.4L194.3 310.2L195.3 310.5L196.3 311.1L197.3 311.5L198.3 311.4L199.3 310.6L200.3 309.4L201.3 308.1L202.3 307.3L203.3 307.3L204.3 308.1L205.3 309.2L206.3 310.0L207.3 309.8L208.3 308.5L209.3 306.5L210.3 304.4L211.3 302.7L212.3 301.9L213.3 301.9L214.3 302.3L215.3 302.5L216.3 302.1L217.3 301.5L218.3 301.0L219.3 301.2L220.3 302.1L221.3 303.7L222.3 305.2L223.3 306.0L224.3 305.8L225.3 304.8L226.3 303.5L227.3 302.8L228.3 303.2L229.3 304.6L230.3 306.5L231.3 308.2L232.3 308.9L233.3 308.3L234.3 306.8L235.3 305.0L236.3 303.7L237.3 303.1L238.3 303.4L239.3 303.9L240.3 304.1L241.3 303.9L242.3 303.3L243.3 302.9L244.3 303.0L245.3 304.0L246.3 305.6L247.3 307.1L248.3 307.8L249.3 307.3L250.3 305.8L251.3 303.9L252.3 302.4L253.3 302.0L254.3 303.0L255.3 305.0L256.3 307.3L257.3 309.0L258.3 309.8L259.3 309.8L260.3 309.5L261.3 309.3L262.3 309.6L263.3 310.1L264.3 310.6L265.3 310.6L266.3 310.0L267.3 308.8L268.3 307.7L269.3 307.1L270.3 307.3L271.3 308.4L272.3 309.7L273.3 311.1L274.3 312.1L275.3 312.2L276.3 311.6L277.3 310.6L278.3 310.1L279.3 310.5L280.3 311.5L281.3 312.7L282.3 313.6L283.3 313.8L284.3 313.4L285.3 312.7L286.3 312.2L287.3 312.1L288.3 312.2L289.3 312.4L290.3 312.2L291.3 311.7L292.3 311.0L293.3 310.3L294.3 310.1L295.3 310.4L296.3 311.2L297.3 312.0L298.3 312.5L299.3 312.4L300.3 311.8L301.3 310.9L302.3 310.1L303.3 309.6L304.3 309.7L305.3 310.1L306.3 310.7L307.3 311.2L308.3 311.6L309.3 311.8L310.3 311.9L311.3 311.9L312.3 311.9L313.3 311.7L314.3 311.5L315.3 311.2L316.3 311.0L317.3 311.1L318.3 311.7L319.3 315.0L320.3 320.8L321.3 327.7L322.3 334.7L323.3 340.5L324.3 344.2L325.3 344.9L326.3 343.9L327.3 342.1L328.3 339.6L329.3 336.7L330.3 333.4L331.3 330.1L332.3 326.9L333.3 324.2L334.3 321.6L335.3 319.0L336.3 316.4L337.3 313.7L338.3 311.0L339.3 308.1L340.3 305.1L341.3 302.0L342.3 298.9L343.3 295.6L344.3 292.2L345.3 288.7L346.3 285.0L347.3 281.1L348.3 277.1L349.3 273.1L350.3 269.2L351.3 265.6L352.3 262.3L353.3 259.4L354.3 256.7L355.3 254.2L356.3 251.7L357.3 249.2L358.3 246.8L359.3 244.6L360.3 242.7L361.3 241.1L362.3 239.4L363.3 237.7L364.3 235.9L365.3 234.3L366.3 232.9L367.3 232.0L368.3 231.7L369.3 231.9L370.3 232.4L371.3 233.0L372.3 233.5L373.3 233.9L374.3 234.3L375.3 234.9L376.3 235.8L377.3 236.9L378.3 238.1L379.3 239.2L380.3 240.2L381.3 241.1L382.3 242.0L383.3 242.9L384.3 244.3L385.3 246.2L386.3 248.6L387.3 251.1L388.3 253.6L389.3 255.8L390.3 257.9L391.3 259.8L392.3 261.8L393.3 263.8L394.3 265.8L395.3 267.5L396.3 268.7L397.3 269.6L398.3 270.2L399.3 270.7L400.3 271.2L401.3 271.9L402.3 272.7L403.3 273.5L404.3 274.2L405.3 274.6L406.3 274.8L407.3 274.8L408.3 274.6L409.3 274.6L410.3 275.0L411.3 275.9L412.3 277.2L413.3 278.9L414.3 280.8L415.3 282.9L416.3 285.0L417.3 287.0L418.3 288.7L419.3 289.5L420.3 289.3L421.3 288.0L422.3 285.7L423.3 282.6L424.3 279.3L425.3 276.4L426.3 274.4L427.3 273.6L428.3 274.0L429.3 275.7L430.3 278.4L431.3 282.0L432.3 286.2L433.3 290.7L434.3 295.0L435.3 298.6L436.3 301.2L437.3 302.2L438.3 301.5L439.3 299.0L440.3 294.9L441.3 289.8L442.3 284.2L443.3 278.9L444.3 274.4L445.3 271.3L446.3 269.8L447.3 270.3L448.3 272.6L449.3 276.6L450.3 282.0L451.3 288.0L452.3 294.1L453.3 299.3L454.3 303.1L455.3 305.0L456.3 304.7L457.3 302.2L458.3 297.8L459.3 292.0L460.3 285.3L461.3 278.4L462.3 272.1L463.3 266.9L464.3 263.5L465.3 262.2L466.3 263.2L467.3 266.3L468.3 271.0L469.3 276.8L470.3 283.0L471.3 288.8L472.3 293.6L473.3 296.9L474.3 298.2L475.3 297.5L476.3 294.7L477.3 290.1L478.3 284.1L479.3 277.4L480.3 270.8L481.3 264.9L482.3 260.6L483.3 258.2L484.3 257.8L485.3 259.4L486.3 262.8L487.3 267.3L488.3 272.7L489.3 278.3L490.3 283.6L491.3 288.0L492.3 290.9L493.3 292.0L494.3 291.1L495.3 288.3L496.3 283.9L497.3 278.4L498.3 272.7L499.3 267.3L500.3 262.7L501.3 259.4L502.3 257.5L503.3 257.2L504.3 258.5L505.3 261.4L506.3 265.7L507.3 270.9L508.3 276.5L509.3 281.7L510.3 285.8L511.3 288.1L512.3 288.4L513.3 286.6L514.3 283.0L515.3 278.0L516.3 272.1L517.3 265.9L518.3 259.8L519.3 254.5L520.3 250.3L521.3 247.9L522.3 247.5L523.3 249.2L524.3 252.9L525.3 258.0L526.3 263.7L527.3 269.2L528.3 273.7L529.3 276.7L530.3 277.8L531.3 277.2L532.3 274.8L533.3 271.1L534.3 266.3L535.3 260.8L536.3 255.0L537.3 249.6L538.3 245.1L539.3 242.0L540.3 240.7L541.3 241.3L542.3 243.5L543.3 246.9L544.3 250.9L545.3 254.9L546.3 258.6L547.3 261.5L548.3 263.6L549.3 264.6L550.3 264.5L551.3 263.1L552.3 260.6L553.3 257.0L554.3 252.7L555.3 248.3L556.3 244.3L557.3 241.3L558.3 239.5L559.3 239.1L560.3 239.9L561.3 241.8L562.3 244.4L563.3 247.5L564.3 250.8L565.3 254.1L566.3 257.0L567.3 259.0L568.3 259.9L569.3 259.4L570.3 257.6L571.3 254.5L572.3 250.7L573.3 246.6L574.3 242.6L575.3 239.2L576.3 236.6L577.3 235.0L578.3 234.4L579.3 234.9L580.3 236.4L581.3 238.9L582.3 242.0L583.3 245.4L584.3 248.7L585.3 251.3L586.3 252.9L587.3 253.2L588.3 252.2L589.3 249.8L590.3 246.4L591.3 242.2L592.3 237.5L593.3 232.9L594.3 228.6L595.3 225.1L596.3 222.9L597.3 222.0L598.3 222.7L599.3 224.9L600.3 228.1L601.3 231.9L602.3 235.8L603.3 239.3L604.3 242.0L605.3 243.4L606.3 243.5L607.3 242.1L608.3 239.3L609.3 235.4L610.3 230.8L611.3 225.8L612.3 221.2L613.3 217.3L614.3 214.6L615.3 213.3L616.3 213.3L617.3 214.6L618.3 216.8L619.3 219.7L620.3 223.0L621.3 226.3L622.3 229.1L623.3 231.3L624.3 232.3L625.3 232.0L626.3 230.3L627.3 227.4L628.3 223.7L629.3 219.4L630.3 215.1L631.3 211.1L632.3 207.8L633.3 205.3L634.3 203.7L635.3 203.3L636.3 204.1L637.3 206.1L638.3 209.0L639.3 212.5L640.3 216.1L641.3 219.1L642.3 221.1L643.3 221.6L644.3 220.7L645.3 218.5L646.3 215.0L647.3 210.8L648.3 206.1L649.3 201.2L650.3 196.6L651.3 192.5L652.3 189.5L653.3 187.9L654.3 187.9L655.3 189.7L656.3 192.8L657.3 196.7L658.3 201.0L659.3 204.9L660.3 207.9L661.3 209.8L662.3 210.5L663.3 209.9L664.3 207.9L665.3 204.8L666.3 200.6L667.3 195.6L668.3 190.4L669.3 185.5L670.3 181.7L671.3 179.4L672.3 179.1L673.3 180.5L674.3 183.6L675.3 187.7L676.3 192.3L677.3 197.1L678.3 201.4L679.3 205.1L680.3 207.6L681.3 208.9L682.3 208.5L683.3 206.5L684.3 203.0L685.3 198.4L686.3 193.4L687.3 188.6L688.3 184.7L689.3 182.3L690.3 181.3L691.3 181.8L692.3 183.5L693.3 186.2L694.3 189.5L695.3 193.2L696.3 196.9L697.3 200.4L698.3 203.1L699.3 204.7L700.3 204.9L701.3 203.7L702.3 201.2L703.3 197.7L704.3 193.8L705.3 189.8L706.3 186.2L707.3 183.3L708.3 181.1L709.3 179.9L710.3 179.7L711.3 180.5L712.3 182.4L713.3 185.3L714.3 188.9L715.3 192.7L716.3 196.2L717.3 198.8L718.3 200.3L719.3 200.5L720.3 199.3L721.3 197.0L722.3 193.7L723.3 189.9L724.3 185.9L725.3 182.0L726.3 178.6L727.3 176.3L728.3 175.2L729.3 175.7L730.3 177.7L731.3 181.1L732.3 185.4L733.3 190.1L734.3 194.7L735.3 198.7L736.3 201.6L737.3 203.3L738.3 203.6L739.3 202.4L740.3 199.9L741.3 196.4L742.3 192.1L743.3 187.7L744.3 183.7L745.3 180.5L746.3 178.6L747.3 178.2L748.3 179.4L749.3 182.0L750.3 185.7L751.3 190.2L752.3 195.1L753.3 199.8L754.3 203.9L755.3 206.8L756.3 208.2L757.3 207.9L758.3 205.9L759.3 202.5L760.3 198.2L761.3 193.3L762.3 188.6L763.3 184.4L764.3 181.1L765.3 179.2L766.3 178.7L767.3 179.6L768.3 182.0L769.3 185.5L770.3 189.7L771.3 194.1L772.3 198.0L773.3 201.0L774.3 202.6L775.3 202.7L776.3 201.4L777.3 198.9L778.3 195.4L779.3 191.2L780.3 186.7L781.3 182.3L782.3 178.2L783.3 174.9L784.3 172.8L785.3 172.3L786.3 173.3L787.3 175.7L788.3 179.3L789.3 183.4L790.3 187.5L791.3 191.2L792.3 194.1L793.3 195.9L794.3 196.6L795.3 195.9L796.3 193.9L797.3 190.6L798.3 186.2L799.3 181.2L800.3 176.2L801.3 171.9L802.3 168.9L803.3 167.7L804.3 168.3L805.3 170.5L806.3 174.1L807.3 178.4L808.3 183.2L809.3 187.9L810.3 192.1L811.3 195.5L812.3 197.7L813.3 198.2L814.3 197.1L815.3 194.3L816.3 190.2L817.3 185.3L818.3 180.3L819.3 176.0L820.3 172.8L821.3 171.0L822.3 170.6L823.3 171.5L824.3 173.6L825.3 176.7L826.3 180.5L827.3 184.8L828.3 189.1L829.3 193.0L830.3 195.9L831.3 197.4L832.3 197.2L833.3 195.5L834.3 192.5L835.3 188.6L836.3 184.4L837.3 180.4L838.3 176.9L839.3 174.1L840.3 172.2L841.3 171.4L842.3 171.8L843.3 173.5L844.3 176.3L845.3 180.0L846.3 184.0L847.3 187.9L848.3 191.0L849.3 193.0L850.3 193.7L851.3 193.1L852.3 191.4L853.3 188.8L854.3 185.6L855.3 182.1L856.3 178.4L857.3 175.1L858.3 172.3L859.3 170.6L860.3 170.1L861.3 171.1L862.3 173.4L863.3 176.8L864.3 180.9L865.3 185.2L866.3 189.2L867.3 192.5L868.3 194.9L869.3 196.0L870.3 195.9L871.3 194.3L872.3 191.4L873.3 187.4L874.3 182.7L875.3 177.9L876.3 173.5L877.3 170.2L878.3 168.4L879.3 168.4L880.3 170.1L881.3 173.4L882.3 177.9L883.3 183.2L884.3 188.6L885.3 193.5L886.3 197.5L887.3 200.1L888.3 200.8L889.3 199.6L890.3 196.7L891.3 192.3L892.3 187.0L893.3 181.4L894.3 176.3L895.3 172.0L896.3 169.1L897.3 167.8L898.3 168.2L899.3 170.3L900.3 173.8L901.3 178.3L902.3 183.4L903.3 188.3L904.3 192.6L905.3 195.8L906.3 197.5L907.3 197.6L908.3 196.2L909.3 193.5L910.3 189.8L911.3 185.5L912.3 181.0L913.3 176.6L914.3 173.0L915.3 170.6L916.3 169.6L917.3 170.2L918.3 172.5L919.3 175.9L920.3 180.2L921.3 184.7L922.3 189.0L923.3 192.6L924.3 195.2L925.3 196.7L926.3 197.0L927.3 195.8L928.3 193.4L929.3 190.0L930.3 185.8L931.3 181.4L932.3 177.5L933.3 174.5L934.3 172.9L935.3 172.7L936.3 174.0L937.3 176.5L938.3 179.7L939.3 183.5L940.3 187.5L941.3 191.4L942.3 194.9L943.3 197.5L944.3 198.9L945.3 198.7L946.3 196.9L947.3 193.6L948.3 189.2L949.3 184.4L950.3 179.6L951.3 175.4L952.3 172.3L953.3 170.3L954.3 169.7L955.3 170.4L956.3 172.3L957.3 175.4L958.3 179.4L959.3 183.8L960.3 188.2L961.3 191.9L962.3 194.2L963.3 194.7L964.3 193.5L965.3 190.6L966.3 186.6L967.3 181.9L968.3 177.2L969.3 172.7L970.3 168.9L971.3 166.0L972.3 164.3L973.3 163.9L974.3 164.9L975.3 167.4L976.3 171.1L977.3 175.4L978.3 179.7L979.3 183.5L980.3 186.2L981.3 187.7L982.3 187.9L983.3 186.9L984.3 184.9L985.3 182.2L986.3 178.9L987.3 175.3L988.3 171.6L989.3 168.3L990.3 165.9L991.3 164.7L992.3 165.1L993.3 166.9L994.3 170.2L995.3 174.3L996.3 178.9L997.3 183.4L998.3 187.4L999.3 190.7L1000.3 192.8L1001.3 193.6L1002.3 193.1L1003.3 191.0L1004.3 187.7L1005.3 183.3L1006.3 178.5L1007.3 173.9L1008.3 170.1L1009.3 167.7L1010.3 166.9L1011.3 167.9L1012.3 170.5L1013.3 174.3L1014.3 179.1L1015.3 184.2L1016.3 189.3L1017.3 193.8L1018.3 197.2L1019.3 199.1L1020.3 199.2L1021.3 197.4L1022.3 193.9L1023.3 189.1L1024.3 183.5L1025.3 177.8L1026.3 172.6L1027.3 168.5L1028.3 165.8L1029.3 164.8L1030.3 165.6L1031.3 168.0L1032.3 171.9L1033.3 176.8L1034.3 182.2L1035.3 187.3L1036.3 191.6L1037.3 194.5L1038.3 195.7L1039.3 195.1L1040.3 192.8L1041.3 189.1L1042.3 184.4L1043.3 179.2L1044.3 174.2L1045.3 169.7L1046.3 166.4L1047.3 164.6L1048.3 164.5L1049.3 166.2L1050.3 169.2L1051.3 173.3L1052.3 177.8L1053.3 182.3L1054.3 186.3L1055.3 189.4L1056.3 191.4L1057.3 192.3L1058.3 191.8L1059.3 189.8L1060.3 186.6L1061.3 183.4L1062.3 180.7L1063.3 179.1L1064.3 178.8L1065.3 179.5L1066.3 180.6L1067.3 181.4L1068.3 181.7L1069.3 181.7L1070.3 181.5L1071.3 181.3L1072.3 181.2L1073.3 181.3L1074.3 181.6L1075.3 182.0L1076.3 182.4L1077.3 182.6L1078.3 182.5L1079.3 182.2L1080.3 181.9L1081.3 181.8L1082.3 181.7L1083.3 181.8L1084.3 181.8L1085.3 181.7L1086.3 181.4L1087.3 180.9L1088.3 180.4L1089.3 180.1L1090.3 179.9L1091.3 179.8L1092.3 179.8L1093.3 179.5L1094.3 179.0L1095.3 178.2L1096.3 177.4L1097.3 176.8L1098.3 176.4L1099.3 176.3L1100.3 176.4L1101.3 176.5L1102.3 176.4L1103.3 176.1L1104.3 175.6L1105.3 175.1L1106.3 174.8L1107.3 174.8L1108.3 175.2L1109.3 175.9L1110.3 176.7L1111.3 177.5L1112.3 178.4L1113.3 179.5L1114.3 180.8L1115.3 182.5L1116.3 184.5L1117.3 186.5L1118.3 188.5L1119.3 190.1L1120.3 191.5L1121.3 192.8L1122.3 194.0L1123.3 195.4L1124.3 196.9L1125.3 198.4L1126.3 199.8L1127.3 200.8L1128.3 201.5L1129.3 202.0L1130.3 202.4L1131.3 202.9L1132.3 203.6L1133.3 204.3L1134.3 205.1L1135.3 205.8L1136.3 206.3L1137.3 206.7L1138.3 207.1L1139.3 207.6L1140.3 208.2L1141.3 209.0L1142.3 209.9L1143.3 210.6L1144.3 211.1L1145.3 211.4L1146.3 211.5L1147.3 211.6L1148.3 211.9L1149.3 212.4L1150.3 213.0L1151.3 213.7L1152.3 214.2L1153.3 214.6L1154.3 214.8L1155.3 214.8L1156.3 214.9L1157.3 215.0L1158.3 215.1L1159.3 215.2L1160.3 215.2L1161.3 215.0L1162.3 214.7L1163.3 214.5L1164.3 214.2L1165.3 214.1L1166.3 214.0L1167.3 213.8L1168.3 213.6L1169.3 213.1L1170.3 212.6L1171.3 211.9L1172.3 211.3L1173.3 210.7L1174.3 210.2L1175.3 209.8L1176.3 209.4L1177.3 209.0L1178.3 208.5L1179.3 208.1L1180.3 207.6L1181.3 207.1L1182.3 206.6L1183.3 206.0L1184.3 205.4L1185.3 204.7L1186.3 204.0L1187.3 203.4L1188.3 202.9L1189.3 202.5L1190.3 202.2L1191.3 202.0L1192.3 201.7L1193.3 201.3L1194.3 200.9L1195.3 200.5L1196.3 200.2L1197.3 200.0L1198.3 199.9L1199.3 199.8L1200.3 199.8L1201.3 199.7L1202.3 199.7L1203.3 199.8L1204.3 200.0L1205.3 200.3L1206.3 200.7L1207.3 201.0L1208.3 201.1L1209.3 201.0L1210.3 200.9L1211.3 200.7L1212.3 200.7L1213.3 201.0L1214.3 201.4L1215.3 201.8L1216.3 202.2L1217.3 202.4L1218.3 202.5L1219.3 202.5L1220.3 202.5L1221.3 202.7L1222.3 203.0L1223.3 203.4L1224.3 203.7L1225.3 203.9L1226.3 203.9L1227.3 204.0L1228.3 204.1L1229.3 204.6L1230.3 205.2L1231.3 205.9L1232.3 206.5L1233.3 206.8L1234.3 206.9L1235.3 206.8L1236.3 206.7L1237.3 206.8L1238.3 207.2L1239.3 207.7L1240.3 208.3L1241.3 208.9L1242.3 209.2L1243.3 209.3L1244.3 209.4L1245.3 209.5L1246.3 209.9L1247.3 210.4L1248.3 211.0L1249.3 211.5L1250.3 211.8L1251.3 211.9L1252.3 212.1L1253.3 212.3L1254.3 212.8L1255.3 213.6L1256.3 214.5L1257.3 215.4L1258.3 216.1L1259.3 216.4L1260.3 216.6L1261.3 216.7L1262.3 216.9L1263.3 217.4L1264.3 218.1L1265.3 219.0L1266.3 219.7L1267.3 220.3L1268.3 220.6L1269.3 220.9L1270.3 221.1L1271.3 221.5L1272.3 222.1L1273.3 222.6L1274.3 223.1L1275.3 223.4L1276.3 223.6L1277.3 223.6L1278.3 223.7L1279.3 224.1L1280.3 224.6L1281.3 225.3L1282.3 226.0L1283.3 226.6L1284.3 226.8L1285.3 226.9L1286.3 226.9L1287.3 227.0L1288.3 227.2L1289.3 227.7L1290.3 228.2L1291.3 228.8L1292.3 229.2L1293.3 229.5L1294.3 229.6L1295.3 229.8L1296.3 230.1L1297.3 230.5L1298.3 230.8L1299.3 231.1L1300.3 231.3L1301.3 231.3L1302.3 231.3L1303.3 231.4L1304.3 231.7L1305.3 232.1L1306.3 232.6L1307.3 233.1L1308.3 233.5L1309.3 233.7L1310.3 233.9L1311.3 233.9L1312.3 234.1L1313.3 234.2L1314.3 234.5L1315.3 234.8L1316.3 235.2L1317.3 235.5L1318.3 235.7L1319.3 236.0L1320.3 236.3L1321.3 236.6L1322.3 236.9L1323.3 237.1L1324.3 237.2L1325.3 237.2L1326.3 237.2L1327.3 237.2L1328.3 237.3L1329.3 237.6L1330.3 237.8L1331.3 238.2L1332.3 238.4L1333.3 238.6L1334.3 238.8L1335.3 238.9L1336.3 239.1L1337.3 239.3L1338.3 239.5L1339.3 239.6L1340.3 239.7L1341.3 239.8L1342.3 239.9L1343.3 240.1L1344.3 240.5L1345.3 240.9L1346.3 241.4L1347.3 241.7L1348.3 241.8L1349.3 241.7L1350.3 241.6L1351.3 241.5L1352.3 241.5L1353.3 241.7L1354.3 242.0L1355.3 242.3L1356.3 242.5L1357.3 242.6L1358.3 242.6L1359.3 242.6L1360.3 242.7L1361.3 243.0L1362.3 243.3L1363.3 243.5L1364.3 243.6L1365.3 243.5L1366.3 243.4L1367.3 243.3L1368.3 243.4L1369.3 243.7L1370.3 244.3L1371.3 244.8L1372.3 245.1L1373.3 245.2L1374.3 245.0L1375.3 244.7L1376.3 244.5L1377.3 244.5L1378.3 244.7L1379.3 245.0L1380.3 245.2L1381.3 245.3L1382.3 245.3L1383.3 245.1L1384.3 245.0L1385.3 245.0L1386.3 245.3L1387.3 245.6L1388.3 245.8L1389.3 245.9L1390.3 245.7L1391.3 245.4L1392.3 245.2L1393.3 245.1L1394.3 245.4L1395.3 245.9L1396.3 246.4L1397.3 246.8L1398.3 246.9L1399.3 246.8L1400.3 246.5L1401.3 246.2L1402.3 246.1L1403.3 246.2L1404.3 246.5L1405.3 246.8L1406.3 246.9L1407.3 246.8L1408.3 246.6L1409.3 246.5L1410.3 246.4L1411.3 246.6L1412.3 246.9L1413.3 247.1L1414.3 247.2L1415.3 247.0L1416.3 246.6L1417.3 246.3L1418.3 246.2L1419.3 246.3L1420.3 246.6L1421.3 247.1L1422.3 247.5L1423.3 247.6" stroke="#727272" stroke-width="1.85" fill="none" stroke-linejoin="round"/>
<path d="M146.3 309.9L147.3 309.8L148.3 309.9L149.3 310.3L150.3 311.0L151.3 311.8L152.3 312.7L153.3 313.5L154.3 314.0L155.3 314.2L156.3 314.2L157.3 314.0L158.3 313.8L159.3 313.6L160.3 313.7L161.3 314.0L162.3 314.7L163.3 315.6L164.3 316.7L165.3 317.6L166.3 318.3L167.3 318.7L168.3 318.7L169.3 318.2L170.3 317.4L171.3 316.3L172.3 315.1L173.3 314.0L174.3 313.1L175.3 312.5L176.3 312.1L177.3 312.1L178.3 312.2L179.3 312.5L180.3 312.8L181.3 313.1L182.3 313.4L183.3 313.8L184.3 314.1L185.3 314.5L186.3 314.9L187.3 315.3L188.3 315.6L189.3 315.7L190.3 315.5L191.3 315.0L192.3 314.2L193.3 313.1L194.3 311.8L195.3 310.4L196.3 309.1L197.3 308.0L198.3 307.3L199.3 307.0L200.3 307.1L201.3 307.5L202.3 308.0L203.3 308.4L204.3 308.7L205.3 308.7L206.3 308.4L207.3 307.6L208.3 306.4L209.3 305.1L210.3 303.9L211.3 303.0L212.3 302.5L213.3 302.5L214.3 302.9L215.3 303.5L216.3 304.0L217.3 304.3L218.3 304.3L219.3 304.1L220.3 303.7L221.3 303.2L222.3 302.9L223.3 302.8L224.3 303.0L225.3 303.7L226.3 304.6L227.3 305.8L228.3 306.8L229.3 307.6L230.3 307.9L231.3 307.7L232.3 306.9L233.3 305.6L234.3 303.9L235.3 302.3L236.3 300.9L237.3 300.1L238.3 299.9L239.3 300.5L240.3 301.7L241.3 303.4L242.3 305.2L243.3 306.9L244.3 308.3L245.3 309.1L246.3 309.3L247.3 308.9L248.3 308.1L249.3 307.1L250.3 306.2L251.3 305.3L252.3 304.7L253.3 304.4L254.3 304.3L255.3 304.5L256.3 304.9L257.3 305.3L258.3 305.8L259.3 306.2L260.3 306.7L261.3 307.1L262.3 307.6L263.3 308.1L264.3 308.6L265.3 309.3L266.3 310.0L267.3 310.6L268.3 311.1L269.3 311.3L270.3 311.2L271.3 310.9L272.3 310.5L273.3 310.5L274.3 311.0L275.3 311.6L276.3 312.2L277.3 312.3L278.3 312.3L279.3 312.4L280.3 312.4L281.3 312.3L282.3 312.0L283.3 311.7L284.3 311.3L285.3 311.0L286.3 310.8L287.3 310.9L288.3 311.1L289.3 311.4L290.3 311.8L291.3 312.1L292.3 312.2L293.3 312.2L294.3 311.8L295.3 311.2L296.3 310.6L297.3 309.9L298.3 309.4L299.3 309.3L300.3 309.6L301.3 310.3L302.3 311.3L303.3 312.5L304.3 313.7L305.3 314.6L306.3 315.1L307.3 315.1L308.3 314.5L309.3 313.4L310.3 311.9L311.3 310.4L312.3 309.2L313.3 308.4L314.3 308.3L315.3 308.6L316.3 309.3L317.3 310.2L318.3 311.4L319.3 314.3L320.3 318.9L321.3 324.3L322.3 329.7L323.3 334.2L324.3 337.2L325.3 337.9L326.3 337.2L327.3 335.9L328.3 333.9L329.3 331.5L330.3 328.8L331.3 326.2L332.3 323.7L333.3 321.5L334.3 319.3L335.3 317.0L336.3 314.7L337.3 312.2L338.3 309.7L339.3 307.1L340.3 304.4L341.3 301.7L342.3 298.8L343.3 295.2L344.3 291.0L345.3 286.4L346.3 281.6L347.3 276.8L348.3 272.3L349.3 268.3L350.3 265.0L351.3 262.7L352.3 261.7L353.3 261.2L354.3 260.7L355.3 260.3L356.3 260.0L357.3 259.7L358.3 259.5L359.3 259.3L360.3 259.0L361.3 258.8L362.3 258.7L363.3 258.5L364.3 258.3L365.3 258.2L366.3 258.0L367.3 257.9L368.3 257.6L369.3 257.3L370.3 257.0L371.3 256.5L372.3 256.1L373.3 255.6L374.3 255.1L375.3 254.8L376.3 254.5L377.3 254.4L378.3 254.4L379.3 254.6L380.3 254.8L381.3 255.1L382.3 255.6L383.3 256.2L384.3 257.0L385.3 258.0L386.3 259.0L387.3 260.1L388.3 261.3L389.3 262.5L390.3 263.9L391.3 265.2L392.3 266.5L393.3 267.8L394.3 268.8L395.3 269.7L396.3 270.3L397.3 270.8L398.3 271.3L399.3 271.7L400.3 272.2L401.3 272.8L402.3 273.5L403.3 274.3L404.3 275.2L405.3 276.2L406.3 277.1L407.3 277.8L408.3 278.3L409.3 278.5L410.3 278.6L411.3 278.8L412.3 279.2L413.3 279.8L414.3 280.6L415.3 281.7L416.3 282.8L417.3 283.8L418.3 284.4L419.3 284.4L420.3 283.8L421.3 282.5L422.3 280.6L423.3 278.4L424.3 276.2L425.3 274.2L426.3 272.7L427.3 271.8L428.3 271.7L429.3 272.4L430.3 273.8L431.3 275.7L432.3 278.1L433.3 280.5L434.3 282.8L435.3 284.6L436.3 285.7L437.3 286.1L438.3 285.6L439.3 284.3L440.3 282.3L441.3 279.9L442.3 277.2L443.3 274.7L444.3 272.6L445.3 271.2L446.3 270.7L447.3 271.2L448.3 272.6L449.3 275.0L450.3 278.0L451.3 281.4L452.3 284.8L453.3 287.8L454.3 290.1L455.3 291.5L456.3 291.7L457.3 290.8L458.3 288.9L459.3 286.1L460.3 282.9L461.3 279.6L462.3 276.6L463.3 274.4L464.3 273.1L465.3 272.9L466.3 274.0L467.3 276.1L468.3 279.0L469.3 282.3L470.3 285.7L471.3 288.8L472.3 291.1L473.3 292.5L474.3 292.8L475.3 292.0L476.3 290.3L477.3 287.8L478.3 284.9L479.3 281.8L480.3 279.0L481.3 276.6L482.3 274.8L483.3 273.8L484.3 273.6L485.3 274.1L486.3 275.3L487.3 276.9L488.3 278.8L489.3 280.7L490.3 282.5L491.3 283.9L492.3 284.7L493.3 284.9L494.3 284.3L495.3 283.0L496.3 281.0L497.3 278.4L498.3 275.5L499.3 272.5L500.3 269.7L501.3 267.4L502.3 265.8L503.3 265.1L504.3 265.4L505.3 266.5L506.3 268.5L507.3 271.0L508.3 273.6L509.3 276.0L510.3 277.8L511.3 278.8L512.3 278.7L513.3 277.4L514.3 275.0L515.3 271.7L516.3 267.8L517.3 263.6L518.3 259.7L519.3 256.4L520.3 253.9L521.3 252.6L522.3 252.5L523.3 253.6L524.3 255.7L525.3 258.4L526.3 261.5L527.3 264.5L528.3 267.1L529.3 268.9L530.3 269.6L531.3 269.2L532.3 267.6L533.3 265.0L534.3 261.6L535.3 257.7L536.3 253.7L537.3 250.0L538.3 246.9L539.3 244.7L540.3 243.7L541.3 243.9L542.3 245.1L543.3 247.2L544.3 250.0L545.3 253.0L546.3 255.8L547.3 258.2L548.3 259.8L549.3 260.4L550.3 259.9L551.3 258.4L552.3 256.0L553.3 253.0L554.3 249.7L555.3 246.3L556.3 243.4L557.3 241.0L558.3 239.5L559.3 239.0L560.3 239.4L561.3 240.7L562.3 242.8L563.3 245.4L564.3 248.2L565.3 250.8L566.3 253.1L567.3 254.7L568.3 255.4L569.3 255.1L570.3 253.7L571.3 251.4L572.3 248.3L573.3 244.7L574.3 241.0L575.3 237.6L576.3 234.7L577.3 232.9L578.3 232.2L579.3 232.8L580.3 234.7L581.3 237.5L582.3 241.0L583.3 244.7L584.3 248.3L585.3 251.1L586.3 253.0L587.3 253.5L588.3 252.7L589.3 250.6L590.3 247.4L591.3 243.6L592.3 239.4L593.3 235.4L594.3 232.0L595.3 229.5L596.3 228.2L597.3 228.0L598.3 229.0L599.3 231.0L600.3 233.6L601.3 236.5L602.3 239.3L603.3 241.8L604.3 243.6L605.3 244.5L606.3 244.4L607.3 243.4L608.3 241.5L609.3 239.0L610.3 236.0L611.3 232.8L612.3 229.7L613.3 227.0L614.3 224.9L615.3 223.6L616.3 223.2L617.3 223.7L618.3 224.9L619.3 226.9L620.3 229.2L621.3 231.6L622.3 233.8L623.3 235.5L624.3 236.3L625.3 236.2L626.3 235.0L627.3 232.9L628.3 229.9L629.3 226.4L630.3 222.6L631.3 219.0L632.3 215.8L633.3 213.5L634.3 212.3L635.3 212.2L636.3 213.3L637.3 215.4L638.3 218.2L639.3 221.4L640.3 224.7L641.3 227.5L642.3 229.5L643.3 230.5L644.3 230.3L645.3 228.8L646.3 226.2L647.3 222.5L648.3 218.3L649.3 213.9L650.3 209.7L651.3 206.2L652.3 203.7L653.3 202.5L654.3 202.7L655.3 204.2L656.3 206.8L657.3 210.2L658.3 214.0L659.3 217.7L660.3 220.8L661.3 222.9L662.3 223.9L663.3 223.5L664.3 221.8L665.3 219.0L666.3 215.5L667.3 211.6L668.3 207.8L669.3 204.5L670.3 202.0L671.3 200.6L672.3 200.3L673.3 201.1L674.3 202.8L675.3 205.2L676.3 207.9L677.3 210.6L678.3 213.1L679.3 214.9L680.3 216.0L681.3 216.2L682.3 215.5L683.3 214.1L684.3 212.0L685.3 209.4L686.3 206.7L687.3 204.0L688.3 201.6L689.3 199.8L690.3 198.7L691.3 198.4L692.3 199.1L693.3 200.6L694.3 202.9L695.3 205.6L696.3 208.6L697.3 211.4L698.3 213.8L699.3 215.5L700.3 216.2L701.3 215.7L702.3 214.2L703.3 211.7L704.3 208.5L705.3 205.0L706.3 201.5L707.3 198.4L708.3 196.2L709.3 195.1L710.3 195.1L711.3 196.5L712.3 198.8L713.3 202.0L714.3 205.6L715.3 209.3L716.3 212.6L717.3 215.1L718.3 216.5L719.3 216.8L720.3 215.9L721.3 213.9L722.3 211.1L723.3 207.7L724.3 204.2L725.3 200.9L726.3 198.1L727.3 196.2L728.3 195.4L729.3 195.7L730.3 197.1L731.3 199.4L732.3 202.3L733.3 205.6L734.3 208.9L735.3 211.7L736.3 213.8L737.3 214.9L738.3 214.9L739.3 213.7L740.3 211.6L741.3 208.6L742.3 205.3L743.3 201.8L744.3 198.8L745.3 196.3L746.3 194.8L747.3 194.5L748.3 195.2L749.3 197.0L750.3 199.5L751.3 202.6L752.3 205.9L753.3 208.9L754.3 211.3L755.3 212.9L756.3 213.5L757.3 213.0L758.3 211.4L759.3 208.9L760.3 205.8L761.3 202.3L762.3 198.9L763.3 195.8L764.3 193.3L765.3 191.8L766.3 191.4L767.3 192.1L768.3 193.9L769.3 196.6L770.3 199.9L771.3 203.4L772.3 206.7L773.3 209.5L774.3 211.4L775.3 212.2L776.3 211.7L777.3 210.0L778.3 207.2L779.3 203.7L780.3 199.8L781.3 196.1L782.3 192.8L783.3 190.4L784.3 189.1L785.3 189.2L786.3 190.4L787.3 192.7L788.3 195.8L789.3 199.2L790.3 202.6L791.3 205.5L792.3 207.6L793.3 208.8L794.3 208.8L795.3 207.8L796.3 205.9L797.3 203.2L798.3 200.2L799.3 197.2L800.3 194.4L801.3 192.1L802.3 190.7L803.3 190.1L804.3 190.5L805.3 191.8L806.3 193.8L807.3 196.4L808.3 199.3L809.3 202.2L810.3 204.8L811.3 206.9L812.3 208.1L813.3 208.4L814.3 207.7L815.3 206.0L816.3 203.5L817.3 200.5L818.3 197.2L819.3 194.0L820.3 191.4L821.3 189.6L822.3 188.9L823.3 189.4L824.3 191.0L825.3 193.8L826.3 197.2L827.3 201.1L828.3 204.9L829.3 208.2L830.3 210.6L831.3 211.9L832.3 211.8L833.3 210.5L834.3 208.0L835.3 204.6L836.3 200.8L837.3 196.8L838.3 193.3L839.3 190.6L840.3 188.9L841.3 188.5L842.3 189.5L843.3 191.7L844.3 194.9L845.3 198.7L846.3 202.8L847.3 206.6L848.3 209.8L849.3 212.0L850.3 212.9L851.3 212.6L852.3 210.9L853.3 208.1L854.3 204.4L855.3 200.4L856.3 196.5L857.3 193.0L858.3 190.4L859.3 189.0L860.3 188.9L861.3 190.0L862.3 192.3L863.3 195.4L864.3 199.0L865.3 202.6L866.3 205.8L867.3 208.2L868.3 209.7L869.3 210.0L870.3 209.2L871.3 207.3L872.3 204.6L873.3 201.4L874.3 198.0L875.3 194.7L876.3 192.0L877.3 190.0L878.3 188.9L879.3 188.8L880.3 189.8L881.3 191.5L882.3 194.0L883.3 196.9L884.3 199.9L885.3 202.7L886.3 205.0L887.3 206.5L888.3 207.0L889.3 206.4L890.3 204.8L891.3 202.3L892.3 199.0L893.3 195.4L894.3 191.8L895.3 188.6L896.3 186.2L897.3 185.0L898.3 185.0L899.3 186.3L900.3 188.7L901.3 192.1L902.3 195.9L903.3 199.8L904.3 203.3L905.3 205.9L906.3 207.4L907.3 207.5L908.3 206.2L909.3 203.7L910.3 200.3L911.3 196.4L912.3 192.4L913.3 188.8L914.3 185.9L915.3 184.2L916.3 183.7L917.3 184.5L918.3 186.4L919.3 189.4L920.3 193.0L921.3 196.8L922.3 200.5L923.3 203.7L924.3 206.1L925.3 207.4L926.3 207.5L927.3 206.4L928.3 204.3L929.3 201.4L930.3 198.0L931.3 194.4L932.3 191.1L933.3 188.5L934.3 186.7L935.3 186.1L936.3 186.7L937.3 188.4L938.3 191.2L939.3 194.6L940.3 198.4L941.3 202.1L942.3 205.3L943.3 207.6L944.3 208.9L945.3 208.9L946.3 207.7L947.3 205.5L948.3 202.4L949.3 198.8L950.3 195.2L951.3 192.0L952.3 189.5L953.3 188.0L954.3 187.7L955.3 188.6L956.3 190.6L957.3 193.6L958.3 197.2L959.3 201.0L960.3 204.5L961.3 207.5L962.3 209.6L963.3 210.4L964.3 210.0L965.3 208.3L966.3 205.5L967.3 201.9L968.3 197.9L969.3 193.9L970.3 190.4L971.3 187.8L972.3 186.3L973.3 186.1L974.3 187.3L975.3 189.7L976.3 193.1L977.3 196.9L978.3 200.9L979.3 204.4L980.3 207.1L981.3 208.7L982.3 209.0L983.3 208.0L984.3 205.8L985.3 202.8L986.3 199.1L987.3 195.4L988.3 191.9L989.3 189.1L990.3 187.2L991.3 186.4L992.3 186.6L993.3 187.8L994.3 189.9L995.3 192.5L996.3 195.4L997.3 198.2L998.3 200.7L999.3 202.7L1000.3 203.9L1001.3 204.2L1002.3 203.6L1003.3 202.2L1004.3 200.0L1005.3 197.4L1006.3 194.4L1007.3 191.6L1008.3 189.0L1009.3 187.1L1010.3 186.0L1011.3 186.0L1012.3 187.0L1013.3 189.0L1014.3 191.8L1015.3 195.1L1016.3 198.6L1017.3 201.7L1018.3 204.3L1019.3 205.8L1020.3 206.2L1021.3 205.2L1022.3 203.1L1023.3 199.9L1024.3 196.1L1025.3 192.2L1026.3 188.5L1027.3 185.6L1028.3 183.7L1029.3 183.3L1030.3 184.2L1031.3 186.4L1032.3 189.8L1033.3 193.9L1034.3 198.2L1035.3 202.3L1036.3 205.8L1037.3 208.2L1038.3 209.3L1039.3 209.1L1040.3 207.5L1041.3 204.7L1042.3 201.1L1043.3 197.1L1044.3 193.2L1045.3 189.7L1046.3 187.0L1047.3 185.5L1048.3 185.3L1049.3 186.4L1050.3 188.7L1051.3 191.9L1052.3 195.6L1053.3 199.5L1054.3 203.0L1055.3 205.8L1056.3 207.7L1057.3 208.4L1058.3 207.9L1059.3 205.9L1060.3 203.0L1061.3 199.9L1062.3 197.2L1063.3 195.6L1064.3 195.1L1065.3 195.4L1066.3 196.1L1067.3 196.6L1068.3 196.7L1069.3 196.6L1070.3 196.3L1071.3 196.0L1072.3 195.6L1073.3 195.1L1074.3 194.7L1075.3 194.3L1076.3 194.0L1077.3 193.8L1078.3 193.8L1079.3 193.8L1080.3 194.0L1081.3 194.1L1082.3 194.2L1083.3 194.2L1084.3 194.0L1085.3 193.8L1086.3 193.4L1087.3 192.9L1088.3 192.4L1089.3 191.9L1090.3 191.5L1091.3 191.2L1092.3 190.9L1093.3 190.6L1094.3 190.3L1095.3 190.0L1096.3 189.7L1097.3 189.2L1098.3 188.8L1099.3 188.3L1100.3 187.8L1101.3 187.4L1102.3 187.1L1103.3 186.9L1104.3 186.8L1105.3 186.9L1106.3 187.0L1107.3 187.2L1108.3 187.5L1109.3 188.0L1110.3 188.6L1111.3 189.3L1112.3 190.1L1113.3 191.0L1114.3 192.1L1115.3 193.3L1116.3 194.7L1117.3 196.3L1118.3 198.0L1119.3 199.8L1120.3 201.6L1121.3 203.4L1122.3 205.1L1123.3 206.6L1124.3 207.9L1125.3 209.0L1126.3 209.9L1127.3 210.6L1128.3 211.3L1129.3 212.0L1130.3 212.7L1131.3 213.5L1132.3 214.4L1133.3 215.2L1134.3 216.1L1135.3 216.9L1136.3 217.8L1137.3 218.7L1138.3 219.6L1139.3 220.6L1140.3 221.6L1141.3 222.6L1142.3 223.6L1143.3 224.7L1144.3 225.7L1145.3 226.6L1146.3 227.4L1147.3 228.1L1148.3 228.7L1149.3 229.1L1150.3 229.5L1151.3 229.8L1152.3 230.1L1153.3 230.4L1154.3 230.7L1155.3 231.0L1156.3 231.3L1157.3 231.6L1158.3 231.8L1159.3 231.9L1160.3 231.9L1161.3 231.9L1162.3 231.8L1163.3 231.6L1164.3 231.5L1165.3 231.5L1166.3 231.5L1167.3 231.5L1168.3 231.6L1169.3 231.7L1170.3 231.7L1171.3 231.7L1172.3 231.5L1173.3 231.3L1174.3 231.0L1175.3 230.7L1176.3 230.3L1177.3 230.0L1178.3 229.7L1179.3 229.6L1180.3 229.6L1181.3 229.6L1182.3 229.7L1183.3 229.7L1184.3 229.7L1185.3 229.6L1186.3 229.4L1187.3 229.0L1188.3 228.5L1189.3 228.0L1190.3 227.4L1191.3 227.0L1192.3 226.6L1193.3 226.3L1194.3 226.2L1195.3 226.2L1196.3 226.2L1197.3 226.3L1198.3 226.3L1199.3 226.3L1200.3 226.3L1201.3 226.2L1202.3 226.0L1203.3 225.7L1204.3 225.5L1205.3 225.3L1206.3 225.1L1207.3 224.9L1208.3 224.6L1209.3 224.4L1210.3 224.1L1211.3 223.8L1212.3 223.4L1213.3 222.9L1214.3 222.4L1215.3 221.9L1216.3 221.5L1217.3 221.1L1218.3 220.8L1219.3 220.7L1220.3 220.5L1221.3 220.5L1222.3 220.4L1223.3 220.4L1224.3 220.3L1225.3 220.2L1226.3 220.0L1227.3 219.8L1228.3 219.5L1229.3 219.3L1230.3 219.1L1231.3 218.9L1232.3 218.7L1233.3 218.6L1234.3 218.5L1235.3 218.4L1236.3 218.2L1237.3 218.1L1238.3 217.9L1239.3 217.8L1240.3 217.8L1241.3 217.8L1242.3 217.9L1243.3 218.1L1244.3 218.3L1245.3 218.6L1246.3 218.9L1247.3 219.1L1248.3 219.3L1249.3 219.4L1250.3 219.5L1251.3 219.6L1252.3 219.6L1253.3 219.7L1254.3 219.9L1255.3 220.3L1256.3 220.8L1257.3 221.4L1258.3 222.1L1259.3 222.8L1260.3 223.5L1261.3 224.1L1262.3 224.6L1263.3 225.0L1264.3 225.2L1265.3 225.4L1266.3 225.6L1267.3 225.8L1268.3 226.0L1269.3 226.3L1270.3 226.6L1271.3 227.0L1272.3 227.4L1273.3 227.8L1274.3 228.2L1275.3 228.5L1276.3 228.7L1277.3 228.9L1278.3 229.0L1279.3 229.2L1280.3 229.4L1281.3 229.8L1282.3 230.2L1283.3 230.7L1284.3 231.2L1285.3 231.7L1286.3 232.2L1287.3 232.6L1288.3 232.8L1289.3 233.0L1290.3 233.0L1291.3 232.9L1292.3 232.8L1293.3 232.8L1294.3 232.8L1295.3 232.9L1296.3 233.0L1297.3 233.3L1298.3 233.6L1299.3 233.9L1300.3 234.3L1301.3 234.6L1302.3 234.8L1303.3 235.0L1304.3 235.2L1305.3 235.3L1306.3 235.5L1307.3 235.6L1308.3 235.8L1309.3 236.0L1310.3 236.2L1311.3 236.4L1312.3 236.6L1313.3 236.8L1314.3 236.9L1315.3 237.1L1316.3 237.2L1317.3 237.4L1318.3 237.7L1319.3 237.9L1320.3 238.3L1321.3 238.6L1322.3 239.0L1323.3 239.3L1324.3 239.5L1325.3 239.7L1326.3 239.7L1327.3 239.7L1328.3 239.7L1329.3 239.6L1330.3 239.6L1331.3 239.6L1332.3 239.8L1333.3 240.0L1334.3 240.3L1335.3 240.7L1336.3 241.1L1337.3 241.5L1338.3 241.8L1339.3 242.1L1340.3 242.4L1341.3 242.6L1342.3 242.9L1343.3 243.2L1344.3 243.5L1345.3 243.9L1346.3 244.3L1347.3 244.7L1348.3 245.1L1349.3 245.4L1350.3 245.6L1351.3 245.7L1352.3 245.7L1353.3 245.6L1354.3 245.5L1355.3 245.4L1356.3 245.4L1357.3 245.5L1358.3 245.8L1359.3 246.2L1360.3 246.7L1361.3 247.2L1362.3 247.8L1363.3 248.2L1364.3 248.6L1365.3 248.8L1366.3 248.9L1367.3 249.0L1368.3 248.9L1369.3 248.9L1370.3 248.9L1371.3 249.0L1372.3 249.1L1373.3 249.3L1374.3 249.5L1375.3 249.8L1376.3 250.0L1377.3 250.1L1378.3 250.2L1379.3 250.2L1380.3 250.2L1381.3 250.1L1382.3 250.1L1383.3 250.1L1384.3 250.1L1385.3 250.1L1386.3 250.2L1387.3 250.3L1388.3 250.3L1389.3 250.3L1390.3 250.3L1391.3 250.2L1392.3 250.2L1393.3 250.1L1394.3 250.0L1395.3 250.0L1396.3 250.1L1397.3 250.2L1398.3 250.5L1399.3 250.7L1400.3 250.9L1401.3 251.1L1402.3 251.3L1403.3 251.4L1404.3 251.4L1405.3 251.4L1406.3 251.3L1407.3 251.2L1408.3 251.1L1409.3 251.0L1410.3 250.9L1411.3 250.9L1412.3 250.8L1413.3 250.7L1414.3 250.6L1415.3 250.5L1416.3 250.3L1417.3 250.2L1418.3 250.2L1419.3 250.2L1420.3 250.4L1421.3 250.6L1422.3 250.9L1423.3 251.2" stroke="#686868" stroke-width="1.85" fill="none" stroke-linejoin="round"/>
<path d="M146.3 310.6L147.3 311.0L148.3 311.3L149.3 311.4L150.3 311.5L151.3 311.5L152.3 311.5L153.3 311.7L154.3 312.0L155.3 312.4L156.3 313.1L157.3 313.9L158.3 314.8L159.3 315.8L160.3 316.6L161.3 317.4L162.3 317.9L163.3 318.1L164.3 318.1L165.3 317.8L166.3 317.2L167.3 316.6L168.3 315.8L169.3 315.1L170.3 314.5L171.3 314.0L172.3 313.6L173.3 313.5L174.3 313.5L175.3 313.6L176.3 313.7L177.3 313.9L178.3 314.1L179.3 314.2L180.3 314.1L181.3 314.0L182.3 313.9L183.3 313.7L184.3 313.5L185.3 313.4L186.3 313.4L187.3 313.5L188.3 313.6L189.3 313.9L190.3 314.1L191.3 314.3L192.3 314.3L193.3 314.2L194.3 313.8L195.3 313.2L196.3 312.3L197.3 311.2L198.3 310.0L199.3 308.7L200.3 307.4L201.3 306.3L202.3 305.5L203.3 304.9L204.3 304.6L205.3 304.7L206.3 305.0L207.3 305.3L208.3 305.6L209.3 305.8L210.3 305.9L211.3 305.9L212.3 305.9L213.3 305.7L214.3 305.6L215.3 305.4L216.3 304.9L217.3 304.2L218.3 303.6L219.3 303.0L220.3 302.5L221.3 302.2L222.3 302.1L223.3 302.3L224.3 302.6L225.3 303.2L226.3 304.0L227.3 304.8L228.3 305.5L229.3 306.1L230.3 306.5L231.3 306.7L232.3 306.6L233.3 306.2L234.3 305.5L235.3 304.7L236.3 304.0L237.3 303.3L238.3 302.9L239.3 302.8L240.3 303.0L241.3 303.5L242.3 304.2L243.3 304.9L244.3 305.6L245.3 306.1L246.3 306.3L247.3 306.2L248.3 305.9L249.3 305.4L250.3 305.0L251.3 304.7L252.3 304.5L253.3 304.6L254.3 305.0L255.3 305.8L256.3 306.8L257.3 308.0L258.3 309.1L259.3 310.1L260.3 310.7L261.3 311.0L262.3 310.8L263.3 310.1L264.3 309.1L265.3 308.1L266.3 307.0L267.3 306.2L268.3 305.5L269.3 305.3L270.3 305.4L271.3 305.9L272.3 306.9L273.3 308.7L274.3 310.9L275.3 313.3L276.3 315.2L277.3 316.4L278.3 317.0L279.3 317.1L280.3 316.8L281.3 316.1L282.3 315.0L283.3 313.8L284.3 312.4L285.3 311.1L286.3 310.0L287.3 309.1L288.3 308.5L289.3 308.2L290.3 308.2L291.3 308.4L292.3 308.9L293.3 309.4L294.3 310.1L295.3 310.7L296.3 311.2L297.3 311.7L298.3 312.0L299.3 312.2L300.3 312.4L301.3 312.5L302.3 312.6L303.3 312.6L304.3 312.7L305.3 312.9L306.3 313.0L307.3 313.0L308.3 313.0L309.3 312.8L310.3 312.4L311.3 311.9L312.3 311.2L313.3 310.6L314.3 310.1L315.3 309.6L316.3 309.4L317.3 309.3L318.3 309.5L319.3 311.3L320.3 314.7L321.3 318.8L322.3 323.2L323.3 326.9L324.3 329.4L325.3 330.1L326.3 329.7L327.3 328.6L328.3 327.1L329.3 325.2L330.3 323.2L331.3 321.2L332.3 319.3L333.3 317.5L334.3 315.8L335.3 314.2L336.3 312.5L337.3 310.8L338.3 309.0L339.3 306.9L340.3 304.7L341.3 302.2L342.3 299.1L343.3 294.0L344.3 287.0L345.3 279.0L346.3 270.9L347.3 263.7L348.3 258.3L349.3 255.6L350.3 255.4L351.3 255.4L352.3 255.4L353.3 255.6L354.3 255.9L355.3 256.2L356.3 256.7L357.3 257.1L358.3 257.6L359.3 258.0L360.3 258.4L361.3 258.6L362.3 258.8L363.3 258.8L364.3 258.7L365.3 258.4L366.3 257.9L367.3 257.3L368.3 256.6L369.3 255.9L370.3 255.1L371.3 254.4L372.3 253.6L373.3 253.0L374.3 252.3L375.3 251.7L376.3 251.2L377.3 250.8L378.3 250.4L379.3 250.2L380.3 250.0L381.3 250.0L382.3 250.1L383.3 250.5L384.3 251.1L385.3 251.8L386.3 252.7L387.3 253.7L388.3 254.8L389.3 255.9L390.3 257.0L391.3 258.1L392.3 259.2L393.3 260.2L394.3 261.0L395.3 261.7L396.3 262.3L397.3 262.8L398.3 263.3L399.3 263.9L400.3 264.4L401.3 265.1L402.3 265.8L403.3 266.5L404.3 267.3L405.3 268.1L406.3 268.8L407.3 269.4L408.3 269.9L409.3 270.2L410.3 270.6L411.3 271.0L412.3 271.5L413.3 272.3L414.3 273.3L415.3 274.6L416.3 275.8L417.3 276.9L418.3 277.8L419.3 278.1L420.3 277.8L421.3 277.0L422.3 275.7L423.3 274.2L424.3 272.7L425.3 271.5L426.3 270.6L427.3 270.4L428.3 270.7L429.3 271.6L430.3 273.0L431.3 274.8L432.3 276.8L433.3 278.8L434.3 280.6L435.3 282.0L436.3 282.8L437.3 283.0L438.3 282.6L439.3 281.7L440.3 280.3L441.3 278.7L442.3 276.9L443.3 275.4L444.3 274.2L445.3 273.5L446.3 273.4L447.3 273.9L448.3 275.1L449.3 276.7L450.3 278.6L451.3 280.7L452.3 282.7L453.3 284.4L454.3 285.6L455.3 286.2L456.3 286.2L457.3 285.5L458.3 284.3L459.3 282.6L460.3 280.6L461.3 278.6L462.3 276.8L463.3 275.2L464.3 274.2L465.3 273.8L466.3 274.1L467.3 275.0L468.3 276.4L469.3 278.1L470.3 280.0L471.3 281.9L472.3 283.5L473.3 284.7L474.3 285.3L475.3 285.2L476.3 284.4L477.3 282.9L478.3 281.0L479.3 278.7L480.3 276.3L481.3 274.1L482.3 272.2L483.3 270.9L484.3 270.2L485.3 270.3L486.3 271.0L487.3 272.4L488.3 274.2L489.3 276.1L490.3 278.0L491.3 279.5L492.3 280.5L493.3 280.8L494.3 280.4L495.3 279.1L496.3 277.2L497.3 274.8L498.3 272.1L499.3 269.4L500.3 267.1L501.3 265.3L502.3 264.2L503.3 264.0L504.3 264.6L505.3 265.9L506.3 267.7L507.3 269.9L508.3 272.1L509.3 274.1L510.3 275.5L511.3 276.2L512.3 276.2L513.3 275.2L514.3 273.5L515.3 271.2L516.3 268.6L517.3 265.8L518.3 263.2L519.3 261.0L520.3 259.5L521.3 258.7L522.3 258.7L523.3 259.5L524.3 260.9L525.3 262.7L526.3 264.7L527.3 266.6L528.3 268.3L529.3 269.4L530.3 270.0L531.3 269.8L532.3 269.0L533.3 267.5L534.3 265.7L535.3 263.5L536.3 261.4L537.3 259.4L538.3 257.7L539.3 256.6L540.3 256.0L541.3 256.0L542.3 256.6L543.3 257.7L544.3 259.0L545.3 260.5L546.3 262.0L547.3 263.2L548.3 264.0L549.3 264.3L550.3 264.0L551.3 263.1L552.3 261.8L553.3 260.0L554.3 258.0L555.3 256.0L556.3 254.1L557.3 252.5L558.3 251.4L559.3 250.8L560.3 250.9L561.3 251.5L562.3 252.6L563.3 254.1L564.3 255.6L565.3 257.2L566.3 258.4L567.3 259.2L568.3 259.4L569.3 259.0L570.3 257.9L571.3 256.2L572.3 254.0L573.3 251.6L574.3 249.2L575.3 246.9L576.3 245.0L577.3 243.8L578.3 243.1L579.3 243.2L580.3 243.9L581.3 245.2L582.3 246.8L583.3 248.5L584.3 250.1L585.3 251.3L586.3 252.0L587.3 252.1L588.3 251.5L589.3 250.1L590.3 248.3L591.3 246.0L592.3 243.5L593.3 241.1L594.3 239.0L595.3 237.3L596.3 236.3L597.3 235.9L598.3 236.2L599.3 237.2L600.3 238.6L601.3 240.3L602.3 242.0L603.3 243.5L604.3 244.6L605.3 245.1L606.3 245.0L607.3 244.2L608.3 242.7L609.3 240.7L610.3 238.3L611.3 235.8L612.3 233.5L613.3 231.4L614.3 230.0L615.3 229.2L616.3 229.2L617.3 229.9L618.3 231.3L619.3 233.2L620.3 235.4L621.3 237.6L622.3 239.5L623.3 241.0L624.3 241.9L625.3 241.9L626.3 241.1L627.3 239.5L628.3 237.3L629.3 234.6L630.3 231.8L631.3 229.1L632.3 226.8L633.3 225.2L634.3 224.3L635.3 224.4L636.3 225.3L637.3 226.9L638.3 229.1L639.3 231.6L640.3 234.1L641.3 236.3L642.3 237.8L643.3 238.6L644.3 238.5L645.3 237.5L646.3 235.8L647.3 233.4L648.3 230.6L649.3 227.8L650.3 225.1L651.3 223.0L652.3 221.5L653.3 220.9L654.3 221.1L655.3 222.0L656.3 223.6L657.3 225.5L658.3 227.5L659.3 229.4L660.3 230.8L661.3 231.6L662.3 231.7L663.3 231.0L664.3 229.5L665.3 227.5L666.3 225.0L667.3 222.4L668.3 219.9L669.3 217.7L670.3 216.0L671.3 214.9L672.3 214.6L673.3 214.9L674.3 215.7L675.3 217.1L676.3 218.6L677.3 220.2L678.3 221.6L679.3 222.6L680.3 223.1L681.3 223.0L682.3 222.3L683.3 221.1L684.3 219.3L685.3 217.3L686.3 215.1L687.3 213.0L688.3 211.2L689.3 209.8L690.3 208.9L691.3 208.6L692.3 209.0L693.3 209.9L694.3 211.3L695.3 213.0L696.3 214.8L697.3 216.5L698.3 217.9L699.3 218.9L700.3 219.3L701.3 219.0L702.3 218.2L703.3 216.9L704.3 215.1L705.3 213.2L706.3 211.3L707.3 209.6L708.3 208.4L709.3 207.8L710.3 207.8L711.3 208.6L712.3 210.0L713.3 211.8L714.3 214.0L715.3 216.2L716.3 218.2L717.3 219.7L718.3 220.7L719.3 220.9L720.3 220.3L721.3 219.1L722.3 217.2L723.3 215.0L724.3 212.7L725.3 210.4L726.3 208.6L727.3 207.3L728.3 206.7L729.3 206.9L730.3 207.9L731.3 209.5L732.3 211.5L733.3 213.8L734.3 216.0L735.3 217.9L736.3 219.3L737.3 220.0L738.3 219.9L739.3 219.0L740.3 217.5L741.3 215.4L742.3 213.1L743.3 210.6L744.3 208.4L745.3 206.6L746.3 205.4L747.3 205.0L748.3 205.3L749.3 206.3L750.3 207.9L751.3 209.9L752.3 212.1L753.3 214.2L754.3 215.9L755.3 217.1L756.3 217.6L757.3 217.4L758.3 216.4L759.3 214.8L760.3 212.8L761.3 210.4L762.3 208.1L763.3 206.1L764.3 204.6L765.3 203.8L766.3 203.7L767.3 204.5L768.3 206.0L769.3 208.1L770.3 210.6L771.3 213.2L772.3 215.6L773.3 217.6L774.3 218.9L775.3 219.3L776.3 218.9L777.3 217.7L778.3 215.7L779.3 213.3L780.3 210.6L781.3 208.0L782.3 205.8L783.3 204.3L784.3 203.5L785.3 203.7L786.3 204.8L787.3 206.7L788.3 209.1L789.3 211.9L790.3 214.8L791.3 217.3L792.3 219.3L793.3 220.5L794.3 220.9L795.3 220.3L796.3 218.9L797.3 216.8L798.3 214.3L799.3 211.7L800.3 209.1L801.3 207.0L802.3 205.5L803.3 204.7L804.3 204.7L805.3 205.4L806.3 206.8L807.3 208.6L808.3 210.6L809.3 212.5L810.3 214.3L811.3 215.5L812.3 216.2L813.3 216.1L814.3 215.5L815.3 214.2L816.3 212.5L817.3 210.6L818.3 208.6L819.3 206.7L820.3 205.2L821.3 204.2L822.3 203.7L823.3 203.8L824.3 204.5L825.3 205.7L826.3 207.2L827.3 208.8L828.3 210.4L829.3 211.8L830.3 212.8L831.3 213.3L832.3 213.2L833.3 212.5L834.3 211.3L835.3 209.7L836.3 207.9L837.3 206.0L838.3 204.2L839.3 202.8L840.3 201.9L841.3 201.6L842.3 202.0L843.3 203.0L844.3 204.6L845.3 206.7L846.3 208.9L847.3 211.2L848.3 213.2L849.3 214.7L850.3 215.6L851.3 215.8L852.3 215.2L853.3 214.0L854.3 212.2L855.3 210.1L856.3 208.0L857.3 206.0L858.3 204.4L859.3 203.5L860.3 203.4L861.3 204.0L862.3 205.4L863.3 207.5L864.3 209.9L865.3 212.5L866.3 214.9L867.3 216.9L868.3 218.4L869.3 219.0L870.3 218.8L871.3 217.8L872.3 216.2L873.3 214.0L874.3 211.5L875.3 209.1L876.3 207.0L877.3 205.5L878.3 204.6L879.3 204.5L880.3 205.2L881.3 206.6L882.3 208.5L883.3 210.7L884.3 212.9L885.3 214.9L886.3 216.4L887.3 217.2L888.3 217.2L889.3 216.5L890.3 215.0L891.3 212.9L892.3 210.4L893.3 207.8L894.3 205.3L895.3 203.2L896.3 201.7L897.3 200.8L898.3 200.8L899.3 201.6L900.3 203.0L901.3 205.0L902.3 207.2L903.3 209.3L904.3 211.3L905.3 212.7L906.3 213.5L907.3 213.5L908.3 212.7L909.3 211.2L910.3 209.2L911.3 206.7L912.3 204.2L913.3 201.9L914.3 200.0L915.3 198.8L916.3 198.4L917.3 198.9L918.3 200.1L919.3 202.1L920.3 204.5L921.3 207.1L922.3 209.7L923.3 211.9L924.3 213.6L925.3 214.5L926.3 214.5L927.3 213.7L928.3 212.2L929.3 210.2L930.3 207.9L931.3 205.6L932.3 203.6L933.3 202.2L934.3 201.5L935.3 201.7L936.3 202.7L937.3 204.5L938.3 206.9L939.3 209.6L940.3 212.4L941.3 215.0L942.3 217.2L943.3 218.6L944.3 219.3L945.3 219.1L946.3 218.2L947.3 216.5L948.3 214.5L949.3 212.2L950.3 209.9L951.3 207.9L952.3 206.4L953.3 205.5L954.3 205.3L955.3 205.9L956.3 207.0L957.3 208.6L958.3 210.5L959.3 212.5L960.3 214.3L961.3 215.8L962.3 216.8L963.3 217.2L964.3 216.9L965.3 216.0L966.3 214.6L967.3 212.8L968.3 210.7L969.3 208.6L970.3 206.7L971.3 205.1L972.3 204.0L973.3 203.5L974.3 203.6L975.3 204.3L976.3 205.4L977.3 206.8L978.3 208.3L979.3 209.8L980.3 211.0L981.3 211.8L982.3 212.0L983.3 211.5L984.3 210.4L985.3 208.8L986.3 206.8L987.3 204.5L988.3 202.3L989.3 200.4L990.3 198.9L991.3 198.1L992.3 198.0L993.3 198.7L994.3 200.1L995.3 202.0L996.3 204.3L997.3 206.7L998.3 208.8L999.3 210.6L1000.3 211.7L1001.3 212.0L1002.3 211.6L1003.3 210.3L1004.3 208.4L1005.3 206.2L1006.3 203.8L1007.3 201.5L1008.3 199.7L1009.3 198.6L1010.3 198.3L1011.3 198.9L1012.3 200.3L1013.3 202.5L1014.3 205.1L1015.3 208.0L1016.3 210.9L1017.3 213.3L1018.3 215.2L1019.3 216.4L1020.3 216.6L1021.3 216.0L1022.3 214.7L1023.3 212.8L1024.3 210.5L1025.3 208.2L1026.3 206.2L1027.3 204.5L1028.3 203.6L1029.3 203.4L1030.3 204.0L1031.3 205.3L1032.3 207.1L1033.3 209.4L1034.3 211.7L1035.3 213.8L1036.3 215.6L1037.3 216.7L1038.3 217.2L1039.3 216.8L1040.3 215.6L1041.3 213.9L1042.3 211.6L1043.3 209.2L1044.3 206.8L1045.3 204.6L1046.3 203.0L1047.3 202.0L1048.3 201.8L1049.3 202.3L1050.3 203.6L1051.3 205.4L1052.3 207.6L1053.3 209.9L1054.3 212.0L1055.3 213.7L1056.3 214.8L1057.3 215.1L1058.3 214.6L1059.3 213.2L1060.3 211.2L1061.3 209.2L1062.3 207.6L1063.3 206.9L1064.3 207.0L1065.3 207.8L1066.3 208.9L1067.3 209.7L1068.3 210.2L1069.3 210.5L1070.3 210.7L1071.3 211.0L1072.3 211.2L1073.3 211.4L1074.3 211.5L1075.3 211.5L1076.3 211.6L1077.3 211.6L1078.3 211.6L1079.3 211.7L1080.3 211.7L1081.3 211.8L1082.3 211.9L1083.3 212.0L1084.3 212.0L1085.3 211.9L1086.3 211.8L1087.3 211.6L1088.3 211.4L1089.3 211.0L1090.3 210.6L1091.3 210.1L1092.3 209.6L1093.3 209.0L1094.3 208.5L1095.3 208.0L1096.3 207.5L1097.3 207.0L1098.3 206.6L1099.3 206.3L1100.3 206.0L1101.3 205.7L1102.3 205.5L1103.3 205.3L1104.3 205.1L1105.3 204.9L1106.3 204.8L1107.3 204.8L1108.3 204.9L1109.3 205.1L1110.3 205.4L1111.3 205.9L1112.3 206.6L1113.3 207.3L1114.3 208.1L1115.3 209.0L1116.3 209.9L1117.3 210.8L1118.3 211.7L1119.3 212.5L1120.3 213.2L1121.3 213.8L1122.3 214.3L1123.3 214.7L1124.3 215.1L1125.3 215.4L1126.3 215.7L1127.3 216.0L1128.3 216.3L1129.3 216.6L1130.3 216.9L1131.3 217.3L1132.3 217.7L1133.3 218.2L1134.3 218.8L1135.3 219.3L1136.3 219.8L1137.3 220.2L1138.3 220.5L1139.3 220.8L1140.3 220.9L1141.3 221.0L1142.3 221.0L1143.3 220.9L1144.3 220.8L1145.3 220.7L1146.3 220.6L1147.3 220.6L1148.3 220.6L1149.3 220.6L1150.3 220.7L1151.3 220.8L1152.3 220.9L1153.3 221.0L1154.3 221.1L1155.3 221.2L1156.3 221.3L1157.3 221.4L1158.3 221.5L1159.3 221.6L1160.3 221.8L1161.3 221.9L1162.3 222.0L1163.3 222.2L1164.3 222.3L1165.3 222.4L1166.3 222.5L1167.3 222.6L1168.3 222.6L1169.3 222.5L1170.3 222.4L1171.3 222.1L1172.3 221.9L1173.3 221.6L1174.3 221.3L1175.3 221.0L1176.3 220.8L1177.3 220.6L1178.3 220.4L1179.3 220.3L1180.3 220.3L1181.3 220.4L1182.3 220.4L1183.3 220.5L1184.3 220.5L1185.3 220.5L1186.3 220.4L1187.3 220.3L1188.3 220.1L1189.3 219.9L1190.3 219.6L1191.3 219.4L1192.3 219.1L1193.3 218.9L1194.3 218.8L1195.3 218.7L1196.3 218.7L1197.3 218.8L1198.3 218.9L1199.3 219.1L1200.3 219.3L1201.3 219.5L1202.3 219.6L1203.3 219.7L1204.3 219.8L1205.3 219.7L1206.3 219.7L1207.3 219.6L1208.3 219.4L1209.3 219.3L1210.3 219.2L1211.3 219.1L1212.3 219.1L1213.3 219.2L1214.3 219.3L1215.3 219.5L1216.3 219.7L1217.3 219.9L1218.3 220.2L1219.3 220.4L1220.3 220.7L1221.3 220.8L1222.3 221.0L1223.3 221.1L1224.3 221.2L1225.3 221.3L1226.3 221.4L1227.3 221.5L1228.3 221.6L1229.3 221.7L1230.3 221.8L1231.3 222.0L1232.3 222.1L1233.3 222.2L1234.3 222.3L1235.3 222.3L1236.3 222.3L1237.3 222.3L1238.3 222.2L1239.3 222.1L1240.3 222.0L1241.3 221.9L1242.3 221.9L1243.3 221.8L1244.3 221.9L1245.3 222.0L1246.3 222.1L1247.3 222.3L1248.3 222.5L1249.3 222.7L1250.3 222.9L1251.3 223.1L1252.3 223.2L1253.3 223.3L1254.3 223.3L1255.3 223.2L1256.3 223.1L1257.3 223.1L1258.3 223.0L1259.3 222.9L1260.3 222.9L1261.3 222.9L1262.3 223.0L1263.3 223.1L1264.3 223.3L1265.3 223.4L1266.3 223.6L1267.3 223.7L1268.3 223.8L1269.3 223.8L1270.3 223.7L1271.3 223.6L1272.3 223.5L1273.3 223.3L1274.3 223.1L1275.3 223.0L1276.3 223.0L1277.3 223.0L1278.3 223.1L1279.3 223.3L1280.3 223.5L1281.3 223.8L1282.3 224.2L1283.3 224.6L1284.3 224.9L1285.3 225.2L1286.3 225.5L1287.3 225.6L1288.3 225.7L1289.3 225.7L1290.3 225.7L1291.3 225.6L1292.3 225.4L1293.3 225.3L1294.3 225.2L1295.3 225.1L1296.3 225.1L1297.3 225.2L1298.3 225.3L1299.3 225.4L1300.3 225.6L1301.3 225.7L1302.3 226.0L1303.3 226.2L1304.3 226.4L1305.3 226.6L1306.3 226.9L1307.3 227.1L1308.3 227.4L1309.3 227.6L1310.3 227.9L1311.3 228.2L1312.3 228.5L1313.3 228.8L1314.3 229.0L1315.3 229.2L1316.3 229.3L1317.3 229.4L1318.3 229.4L1319.3 229.3L1320.3 229.2L1321.3 229.1L1322.3 228.9L1323.3 228.8L1324.3 228.7L1325.3 228.7L1326.3 228.8L1327.3 229.0L1328.3 229.3L1329.3 229.6L1330.3 230.0L1331.3 230.5L1332.3 230.9L1333.3 231.4L1334.3 231.7L1335.3 232.0L1336.3 232.2L1337.3 232.3L1338.3 232.4L1339.3 232.4L1340.3 232.3L1341.3 232.2L1342.3 232.2L1343.3 232.2L1344.3 232.2L1345.3 232.3L1346.3 232.5L1347.3 232.7L1348.3 233.0L1349.3 233.3L1350.3 233.6L1351.3 233.8L1352.3 234.0L1353.3 234.2L1354.3 234.3L1355.3 234.4L1356.3 234.5L1357.3 234.5L1358.3 234.5L1359.3 234.5L1360.3 234.6L1361.3 234.7L1362.3 234.8L1363.3 235.0L1364.3 235.2L1365.3 235.4L1366.3 235.6L1367.3 235.8L1368.3 236.0L1369.3 236.1L1370.3 236.2L1371.3 236.3L1372.3 236.4L1373.3 236.5L1374.3 236.5L1375.3 236.6L1376.3 236.7L1377.3 236.8L1378.3 236.9L1379.3 237.0L1380.3 237.2L1381.3 237.3L1382.3 237.4L1383.3 237.5L1384.3 237.5L1385.3 237.5L1386.3 237.4L1387.3 237.4L1388.3 237.3L1389.3 237.2L1390.3 237.2L1391.3 237.2L1392.3 237.3L1393.3 237.5L1394.3 237.7L1395.3 238.0L1396.3 238.3L1397.3 238.6L1398.3 238.9L1399.3 239.2L1400.3 239.4L1401.3 239.6L1402.3 239.6L1403.3 239.6L1404.3 239.5L1405.3 239.3L1406.3 239.2L1407.3 239.0L1408.3 238.9L1409.3 238.8L1410.3 238.8L1411.3 238.8L1412.3 238.9L1413.3 239.0L1414.3 239.2L1415.3 239.4L1416.3 239.6L1417.3 239.8L1418.3 239.9L1419.3 239.9L1420.3 240.0L1421.3 240.0L1422.3 239.9L1423.3 239.9" stroke="#7a7a7a" stroke-width="1.85" fill="none" stroke-linejoin="round"/>
<path d="M146.3 311.2L147.3 313.2L148.3 314.9L149.3 315.9L150.3 316.0L151.3 315.5L152.3 314.5L153.3 313.5L154.3 312.8L155.3 312.6L156.3 313.0L157.3 313.7L158.3 314.4L159.3 314.9L160.3 314.9L161.3 314.6L162.3 314.0L163.3 313.4L164.3 313.2L165.3 313.5L166.3 314.2L167.3 315.3L168.3 316.3L169.3 317.1L170.3 317.3L171.3 316.9L172.3 316.1L173.3 315.2L174.3 314.4L175.3 314.2L176.3 314.5L177.3 315.4L178.3 316.4L179.3 317.2L180.3 317.5L181.3 317.1L182.3 316.0L183.3 314.6L184.3 313.0L185.3 311.7L186.3 310.9L187.3 310.6L188.3 310.8L189.3 311.2L190.3 311.4L191.3 311.4L192.3 311.0L193.3 310.4L194.3 309.9L195.3 309.7L196.3 309.9L197.3 310.7L198.3 311.8L199.3 312.9L200.3 313.7L201.3 313.7L202.3 312.9L203.3 311.3L204.3 309.3L205.3 307.1L206.3 305.3L207.3 303.8L208.3 302.9L209.3 302.4L210.3 302.2L211.3 302.1L212.3 301.9L213.3 301.7L214.3 301.6L215.3 301.6L216.3 301.9L217.3 302.6L218.3 303.7L219.3 305.1L220.3 306.4L221.3 307.3L222.3 307.6L223.3 307.1L224.3 306.0L225.3 304.6L226.3 303.4L227.3 302.7L228.3 302.7L229.3 303.3L230.3 304.3L231.3 305.4L232.3 306.1L233.3 306.2L234.3 305.5L235.3 304.4L236.3 303.2L237.3 302.3L238.3 301.9L239.3 302.2L240.3 303.2L241.3 304.6L242.3 306.0L243.3 306.9L244.3 307.4L245.3 307.3L246.3 306.7L247.3 306.0L248.3 305.6L249.3 305.5L250.3 305.7L251.3 306.2L252.3 306.5L253.3 306.5L254.3 306.0L255.3 305.3L256.3 304.4L257.3 303.7L258.3 303.5L259.3 303.9L260.3 305.1L261.3 306.8L262.3 308.6L263.3 310.2L264.3 311.2L265.3 311.7L266.3 311.7L267.3 311.4L268.3 311.0L269.3 310.8L270.3 310.9L271.3 311.3L272.3 311.7L273.3 312.3L274.3 312.8L275.3 312.8L276.3 312.0L277.3 310.4L278.3 308.8L279.3 307.7L280.3 307.4L281.3 308.0L282.3 309.2L283.3 310.7L284.3 312.2L285.3 313.2L286.3 313.7L287.3 313.7L288.3 313.3L289.3 312.8L290.3 312.6L291.3 312.7L292.3 313.0L293.3 313.5L294.3 313.7L295.3 313.6L296.3 312.9L297.3 311.8L298.3 310.5L299.3 309.3L300.3 308.6L301.3 308.5L302.3 309.0L303.3 310.0L304.3 311.1L305.3 311.9L306.3 312.2L307.3 311.9L308.3 311.2L309.3 310.2L310.3 309.5L311.3 309.2L312.3 309.6L313.3 310.3L314.3 311.1L315.3 311.8L316.3 312.1L317.3 311.9L318.3 311.3L319.3 309.3L320.3 306.2L321.3 302.5L322.3 298.4L323.3 294.3L324.3 290.4L325.3 286.9L326.3 284.1L327.3 282.3L328.3 282.0L329.3 283.3L330.3 286.0L331.3 289.3L332.3 293.0L333.3 296.6L334.3 299.6L335.3 301.6L336.3 302.2L337.3 302.0L338.3 301.4L339.3 300.4L340.3 299.0L341.3 297.3L342.3 295.4L343.3 293.4L344.3 291.3L345.3 289.2L346.3 286.0L347.3 281.7L348.3 276.8L349.3 271.7L350.3 266.9L351.3 263.0L352.3 260.4L353.3 258.3L354.3 256.5L355.3 255.0L356.3 253.7L357.3 252.6L358.3 251.7L359.3 251.1L360.3 250.8L361.3 251.3L362.3 252.5L363.3 254.4L364.3 256.9L365.3 259.9L366.3 263.3L367.3 266.7L368.3 270.1L369.3 273.1L370.3 275.8L371.3 278.6L372.3 281.7L373.3 285.2L374.3 289.0L375.3 292.9L376.3 297.0L377.3 300.9L378.3 304.5L379.3 307.6L380.3 310.1L381.3 312.0L382.3 313.3L383.3 313.8L384.3 313.6L385.3 312.9L386.3 311.8L387.3 310.3L388.3 308.4L389.3 306.2L390.3 303.7L391.3 300.9L392.3 298.1L393.3 295.4L394.3 293.1L395.3 291.2L396.3 289.9L397.3 288.9L398.3 288.0L399.3 287.1L400.3 286.2L401.3 285.4L402.3 284.6L403.3 284.1L404.3 283.8L405.3 283.9L406.3 284.1L407.3 284.5L408.3 284.8L409.3 285.1L410.3 285.2L411.3 285.1L412.3 284.8L413.3 284.3L414.3 283.8L415.3 283.4L416.3 283.2L417.3 283.1L418.3 283.2L419.3 283.4L420.3 283.6L421.3 283.7L422.3 283.8L423.3 283.8L424.3 283.8L425.3 283.8L426.3 283.9L427.3 284.2L428.3 284.7L429.3 285.4L430.3 286.1L431.3 286.7L432.3 287.2L433.3 287.6L434.3 288.0L435.3 288.4L436.3 288.9L437.3 289.5L438.3 290.3L439.3 291.2L440.3 292.1L441.3 292.9L442.3 293.5L443.3 294.1L444.3 294.7L445.3 295.4L446.3 296.4L447.3 297.8L448.3 299.5L449.3 301.5L450.3 303.3L451.3 304.9L452.3 306.0L453.3 306.3L454.3 306.0L455.3 305.1L456.3 304.0L457.3 302.9L458.3 302.1L459.3 301.9L460.3 302.3L461.3 303.4L462.3 304.9L463.3 306.8L464.3 308.8L465.3 310.8L466.3 312.7L467.3 314.3L468.3 315.6L469.3 316.4L470.3 316.7L471.3 316.4L472.3 315.6L473.3 314.3L474.3 312.7L475.3 310.9L476.3 309.2L477.3 307.9L478.3 307.1L479.3 307.0L480.3 307.6L481.3 308.7L482.3 310.3L483.3 311.9L484.3 313.5L485.3 314.8L486.3 315.7L487.3 316.2L488.3 316.2L489.3 315.8L490.3 315.1L491.3 314.2L492.3 313.0L493.3 311.8L494.3 310.5L495.3 309.3L496.3 308.4L497.3 307.9L498.3 307.9L499.3 308.5L500.3 309.7L501.3 311.4L502.3 313.2L503.3 315.1L504.3 316.8L505.3 318.0L506.3 318.7L507.3 318.7L508.3 318.3L509.3 317.5L510.3 316.5L511.3 315.3L512.3 314.1L513.3 313.1L514.3 312.3L515.3 311.7L516.3 311.4L517.3 311.5L518.3 312.1L519.3 313.1L520.3 314.7L521.3 316.5L522.3 318.5L523.3 320.4L524.3 322.0L525.3 323.0L526.3 323.4L527.3 323.0L528.3 322.0L529.3 320.5L530.3 318.7L531.3 316.8L532.3 314.8L533.3 313.0L534.3 311.5L535.3 310.3L536.3 309.5L537.3 309.1L538.3 309.1L539.3 309.3L540.3 309.9L541.3 310.6L542.3 311.3L543.3 311.9L544.3 312.1L545.3 311.7L546.3 310.5L547.3 308.6L548.3 306.0L549.3 302.9L550.3 299.7L551.3 296.7L552.3 294.2L553.3 292.3L554.3 291.2L555.3 290.9L556.3 291.2L557.3 292.2L558.3 293.5L559.3 295.1L560.3 296.7L561.3 298.2L562.3 299.5L563.3 300.2L564.3 300.5L565.3 300.1L566.3 299.1L567.3 297.6L568.3 295.6L569.3 293.5L570.3 291.5L571.3 290.0L572.3 289.1L573.3 289.0L574.3 289.7L575.3 291.2L576.3 293.3L577.3 295.6L578.3 298.0L579.3 300.1L580.3 301.7L581.3 302.8L582.3 303.2L583.3 303.1L584.3 302.5L585.3 301.4L586.3 299.9L587.3 298.3L588.3 296.6L589.3 295.0L590.3 293.8L591.3 293.0L592.3 292.7L593.3 293.2L594.3 294.2L595.3 295.8L596.3 297.5L597.3 299.2L598.3 300.6L599.3 301.3L600.3 301.3L601.3 300.4L602.3 298.7L603.3 296.4L604.3 293.6L605.3 290.7L606.3 287.7L607.3 284.9L608.3 282.5L609.3 280.5L610.3 278.9L611.3 278.0L612.3 277.8L613.3 278.1L614.3 279.0L615.3 280.3L616.3 281.6L617.3 282.8L618.3 283.5L619.3 283.4L620.3 282.6L621.3 280.9L622.3 278.5L623.3 275.6L624.3 272.5L625.3 269.4L626.3 266.6L627.3 264.4L628.3 262.8L629.3 261.8L630.3 261.5L631.3 261.7L632.3 262.4L633.3 263.4L634.3 264.7L635.3 266.0L636.3 267.3L637.3 268.2L638.3 268.7L639.3 268.5L640.3 267.7L641.3 266.1L642.3 264.0L643.3 261.5L644.3 259.0L645.3 256.7L646.3 255.0L647.3 254.0L648.3 253.7L649.3 254.1L650.3 255.1L651.3 256.5L652.3 258.1L653.3 259.8L654.3 261.2L655.3 262.4L656.3 263.2L657.3 263.6L658.3 263.4L659.3 262.6L660.3 261.3L661.3 259.5L662.3 257.4L663.3 255.1L664.3 252.9L665.3 251.2L666.3 250.1L667.3 249.7L668.3 250.1L669.3 251.2L670.3 252.8L671.3 254.7L672.3 256.5L673.3 258.0L674.3 259.1L675.3 259.6L676.3 259.5L677.3 258.9L678.3 257.8L679.3 256.3L680.3 254.5L681.3 252.5L682.3 250.6L683.3 248.8L684.3 247.3L685.3 246.4L686.3 246.2L687.3 246.8L688.3 248.2L689.3 250.1L690.3 252.4L691.3 254.7L692.3 256.8L693.3 258.3L694.3 259.1L695.3 259.1L696.3 258.2L697.3 256.7L698.3 254.8L699.3 252.6L700.3 250.4L701.3 248.4L702.3 246.7L703.3 245.5L704.3 244.9L705.3 244.9L706.3 245.6L707.3 247.0L708.3 248.9L709.3 251.2L710.3 253.5L711.3 255.7L712.3 257.3L713.3 258.1L714.3 258.0L715.3 257.0L716.3 255.0L717.3 252.5L718.3 249.6L719.3 246.7L720.3 244.1L721.3 242.1L722.3 240.7L723.3 240.1L724.3 240.2L725.3 240.9L726.3 242.2L727.3 243.9L728.3 245.8L729.3 247.8L730.3 249.6L731.3 251.0L732.3 251.8L733.3 251.8L734.3 251.0L735.3 249.3L736.3 247.0L737.3 244.3L738.3 241.6L739.3 239.1L740.3 237.1L741.3 235.9L742.3 235.6L743.3 236.1L744.3 237.3L745.3 239.0L746.3 241.1L747.3 243.1L748.3 245.1L749.3 246.8L750.3 248.1L751.3 248.9L752.3 249.1L753.3 248.8L754.3 247.8L755.3 246.2L756.3 244.3L757.3 242.1L758.3 240.1L759.3 238.4L760.3 237.3L761.3 237.1L762.3 237.6L763.3 239.0L764.3 240.9L765.3 243.1L766.3 245.3L767.3 247.3L768.3 248.9L769.3 249.9L770.3 250.2L771.3 249.8L772.3 248.9L773.3 247.4L774.3 245.5L775.3 243.3L776.3 241.0L777.3 238.8L778.3 236.8L779.3 235.4L780.3 234.8L781.3 234.9L782.3 235.9L783.3 237.7L784.3 239.9L785.3 242.3L786.3 244.5L787.3 246.1L788.3 247.0L789.3 246.9L790.3 245.9L791.3 244.0L792.3 241.4L793.3 238.5L794.3 235.5L795.3 232.6L796.3 230.1L797.3 228.2L798.3 227.1L799.3 226.9L800.3 227.7L801.3 229.4L802.3 231.9L803.3 235.0L804.3 238.3L805.3 241.5L806.3 244.1L807.3 245.8L808.3 246.3L809.3 245.6L810.3 243.7L811.3 241.0L812.3 237.7L813.3 234.3L814.3 231.3L815.3 229.1L816.3 227.8L817.3 227.6L818.3 228.5L819.3 230.4L820.3 233.3L821.3 236.7L822.3 240.5L823.3 244.3L824.3 247.8L825.3 250.6L826.3 252.4L827.3 253.1L828.3 252.4L829.3 250.5L830.3 247.7L831.3 244.3L832.3 240.6L833.3 237.4L834.3 234.9L835.3 233.4L836.3 233.2L837.3 234.2L838.3 236.3L839.3 239.0L840.3 242.2L841.3 245.4L842.3 248.3L843.3 250.7L844.3 252.3L845.3 253.0L846.3 252.7L847.3 251.4L848.3 249.2L849.3 246.3L850.3 242.9L851.3 239.4L852.3 236.2L853.3 233.6L854.3 232.0L855.3 231.5L856.3 232.1L857.3 233.8L858.3 236.2L859.3 239.0L860.3 241.9L861.3 244.4L862.3 246.2L863.3 247.3L864.3 247.4L865.3 246.8L866.3 245.4L867.3 243.4L868.3 241.0L869.3 238.4L870.3 235.9L871.3 233.6L872.3 232.0L873.3 231.0L874.3 231.0L875.3 232.0L876.3 234.0L877.3 236.8L878.3 240.1L879.3 243.5L880.3 246.6L881.3 249.0L882.3 250.6L883.3 251.0L884.3 250.4L885.3 248.9L886.3 246.7L887.3 244.1L888.3 241.4L889.3 239.0L890.3 237.0L891.3 235.7L892.3 235.2L893.3 235.6L894.3 237.0L895.3 239.2L896.3 242.3L897.3 245.8L898.3 249.4L899.3 252.7L900.3 255.3L901.3 256.9L902.3 257.2L903.3 256.1L904.3 253.8L905.3 250.5L906.3 246.6L907.3 242.7L908.3 239.1L909.3 236.2L910.3 234.5L911.3 233.8L912.3 234.4L913.3 236.1L914.3 238.7L915.3 241.9L916.3 245.5L917.3 249.0L918.3 252.1L919.3 254.5L920.3 255.8L921.3 255.8L922.3 254.4L923.3 251.8L924.3 248.1L925.3 243.9L926.3 239.5L927.3 235.5L928.3 232.4L929.3 230.6L930.3 230.2L931.3 231.2L932.3 233.5L933.3 236.6L934.3 240.3L935.3 244.1L936.3 247.6L937.3 250.5L938.3 252.5L939.3 253.5L940.3 253.3L941.3 252.0L942.3 249.8L943.3 246.7L944.3 243.2L945.3 239.5L946.3 236.2L947.3 233.6L948.3 232.1L949.3 231.9L950.3 233.0L951.3 235.3L952.3 238.4L953.3 242.1L954.3 245.7L955.3 249.0L956.3 251.5L957.3 253.1L958.3 253.5L959.3 252.9L960.3 251.4L961.3 249.1L962.3 246.3L963.3 243.2L964.3 240.1L965.3 237.4L966.3 235.2L967.3 233.9L968.3 233.5L969.3 234.3L970.3 236.2L971.3 238.9L972.3 242.2L973.3 245.7L974.3 248.9L975.3 251.4L976.3 252.8L977.3 253.1L978.3 252.3L979.3 250.4L980.3 247.7L981.3 244.6L982.3 241.3L983.3 238.3L984.3 235.7L985.3 233.9L986.3 232.9L987.3 233.0L988.3 234.2L989.3 236.3L990.3 239.2L991.3 242.7L992.3 246.5L993.3 250.0L994.3 252.9L995.3 254.7L996.3 255.3L997.3 254.5L998.3 252.4L999.3 249.2L1000.3 245.5L1001.3 241.5L1002.3 237.9L1003.3 235.0L1004.3 233.1L1005.3 232.4L1006.3 233.0L1007.3 234.7L1008.3 237.4L1009.3 240.8L1010.3 244.5L1011.3 248.2L1012.3 251.6L1013.3 254.2L1014.3 255.7L1015.3 255.9L1016.3 254.7L1017.3 252.1L1018.3 248.3L1019.3 243.8L1020.3 239.1L1021.3 234.7L1022.3 231.1L1023.3 228.8L1024.3 227.9L1025.3 228.5L1026.3 230.4L1027.3 233.4L1028.3 237.0L1029.3 240.8L1030.3 244.3L1031.3 247.2L1032.3 249.2L1033.3 250.0L1034.3 249.6L1035.3 247.9L1036.3 245.1L1037.3 241.4L1038.3 237.1L1039.3 232.7L1040.3 228.6L1041.3 225.3L1042.3 223.2L1043.3 222.6L1044.3 223.6L1045.3 225.9L1046.3 229.4L1047.3 233.5L1048.3 237.8L1049.3 241.7L1050.3 244.8L1051.3 246.8L1052.3 247.6L1053.3 247.1L1054.3 245.4L1055.3 242.8L1056.3 239.5L1057.3 236.0L1058.3 232.4L1059.3 229.5L1060.3 227.9L1061.3 227.7L1062.3 228.8L1063.3 230.9L1064.3 233.1L1065.3 234.9L1066.3 235.6L1067.3 235.3L1068.3 234.1L1069.3 232.4L1070.3 230.7L1071.3 228.8L1072.3 226.8L1073.3 224.8L1074.3 222.8L1075.3 221.0L1076.3 219.6L1077.3 218.5L1078.3 217.6L1079.3 216.8L1080.3 215.8L1081.3 214.8L1082.3 213.7L1083.3 212.6L1084.3 211.6L1085.3 210.8L1086.3 210.2L1087.3 209.8L1088.3 209.7L1089.3 209.6L1090.3 209.7L1091.3 209.8L1092.3 210.1L1093.3 210.6L1094.3 211.4L1095.3 212.5L1096.3 213.9L1097.3 215.6L1098.3 217.6L1099.3 219.7L1100.3 221.8L1101.3 223.8L1102.3 225.7L1103.3 227.4L1104.3 228.9L1105.3 230.3L1106.3 231.7L1107.3 232.9L1108.3 233.9L1109.3 234.7L1110.3 235.2L1111.3 235.3L1112.3 235.0L1113.3 234.5L1114.3 233.7L1115.3 232.9L1116.3 232.0L1117.3 231.3L1118.3 230.6L1119.3 229.9L1120.3 229.2L1121.3 228.3L1122.3 227.3L1123.3 226.0L1124.3 224.7L1125.3 223.2L1126.3 221.8L1127.3 220.5L1128.3 219.3L1129.3 218.4L1130.3 217.6L1131.3 216.7L1132.3 215.7L1133.3 214.5L1134.3 213.2L1135.3 211.8L1136.3 210.4L1137.3 209.2L1138.3 208.1L1139.3 207.3L1140.3 206.6L1141.3 206.0L1142.3 205.5L1143.3 204.9L1144.3 204.5L1145.3 204.1L1146.3 204.2L1147.3 204.9L1148.3 206.1L1149.3 207.8L1150.3 210.1L1151.3 212.6L1152.3 215.3L1153.3 218.0L1154.3 220.7L1155.3 223.2L1156.3 225.5L1157.3 227.7L1158.3 229.7L1159.3 231.5L1160.3 233.1L1161.3 234.3L1162.3 235.1L1163.3 235.3L1164.3 235.0L1165.3 234.4L1166.3 233.5L1167.3 232.4L1168.3 231.4L1169.3 230.4L1170.3 229.4L1171.3 228.6L1172.3 227.8L1173.3 227.0L1174.3 226.1L1175.3 225.1L1176.3 224.1L1177.3 223.1L1178.3 222.3L1179.3 221.7L1180.3 221.6L1181.3 221.7L1182.3 221.9L1183.3 222.2L1184.3 222.4L1185.3 222.7L1186.3 222.8L1187.3 223.0L1188.3 223.2L1189.3 223.4L1190.3 223.8L1191.3 224.4L1192.3 225.0L1193.3 225.7L1194.3 226.3L1195.3 226.7L1196.3 227.0L1197.3 227.2L1198.3 227.3L1199.3 227.4L1200.3 227.7L1201.3 228.2L1202.3 228.8L1203.3 229.5L1204.3 230.3L1205.3 231.0L1206.3 231.6L1207.3 232.0L1208.3 232.3L1209.3 232.5L1210.3 232.8L1211.3 233.1L1212.3 233.5L1213.3 233.9L1214.3 234.3L1215.3 234.7L1216.3 234.8L1217.3 234.8L1218.3 234.7L1219.3 234.5L1220.3 234.4L1221.3 234.3L1222.3 234.2L1223.3 233.8L1224.3 233.3L1225.3 232.7L1226.3 231.8L1227.3 230.8L1228.3 229.6L1229.3 228.5L1230.3 227.5L1231.3 226.8L1232.3 226.6L1233.3 226.6L1234.3 226.8L1235.3 227.0L1236.3 227.2L1237.3 227.4L1238.3 227.4L1239.3 227.4L1240.3 227.4L1241.3 227.4L1242.3 227.5L1243.3 227.8L1244.3 228.2L1245.3 228.6L1246.3 229.0L1247.3 229.2L1248.3 229.3L1249.3 229.2L1250.3 229.1L1251.3 229.0L1252.3 229.0L1253.3 229.2L1254.3 229.6L1255.3 230.1L1256.3 230.7L1257.3 231.3L1258.3 231.7L1259.3 232.0L1260.3 232.2L1261.3 232.3L1262.3 232.5L1263.3 232.8L1264.3 233.3L1265.3 234.0L1266.3 234.7L1267.3 235.5L1268.3 236.2L1269.3 236.8L1270.3 237.3L1271.3 237.9L1272.3 238.5L1273.3 239.3L1274.3 240.3L1275.3 241.4L1276.3 242.6L1277.3 243.8L1278.3 244.9L1279.3 245.9L1280.3 246.6L1281.3 247.1L1282.3 247.5L1283.3 247.9L1284.3 248.3L1285.3 248.8L1286.3 249.4L1287.3 250.1L1288.3 250.8L1289.3 251.4L1290.3 252.0L1291.3 252.4L1292.3 252.8L1293.3 253.3L1294.3 253.8L1295.3 254.4L1296.3 255.2L1297.3 256.0L1298.3 256.8L1299.3 257.4L1300.3 257.9L1301.3 258.1L1302.3 258.3L1303.3 258.4L1304.3 258.5L1305.3 258.8L1306.3 259.2L1307.3 259.7L1308.3 260.2L1309.3 260.7L1310.3 261.1L1311.3 261.3L1312.3 261.3L1313.3 261.2L1314.3 261.0L1315.3 260.6L1316.3 260.1L1317.3 259.6L1318.3 259.1L1319.3 258.6L1320.3 258.0L1321.3 257.5L1322.3 257.0L1323.3 256.7L1324.3 256.6L1325.3 256.7L1326.3 257.0L1327.3 257.5L1328.3 258.2L1329.3 259.0L1330.3 259.7L1331.3 260.3L1332.3 260.8L1333.3 261.1L1334.3 261.3L1335.3 261.5L1336.3 261.8L1337.3 262.2L1338.3 262.7L1339.3 263.3L1340.3 263.9L1341.3 264.4L1342.3 264.8L1343.3 265.0L1344.3 265.1L1345.3 265.3L1346.3 265.5L1347.3 265.8L1348.3 266.3L1349.3 266.8L1350.3 267.3L1351.3 267.7L1352.3 267.9L1353.3 268.0L1354.3 267.9L1355.3 267.7L1356.3 267.6L1357.3 267.6L1358.3 267.7L1359.3 268.0L1360.3 268.4L1361.3 268.9L1362.3 269.2L1363.3 269.5L1364.3 269.6L1365.3 269.6L1366.3 269.5L1367.3 269.5L1368.3 269.6L1369.3 269.7L1370.3 270.0L1371.3 270.2L1372.3 270.3L1373.3 270.3L1374.3 270.2L1375.3 269.9L1376.3 269.3L1377.3 268.8L1378.3 268.3L1379.3 267.8L1380.3 267.5L1381.3 267.2L1382.3 266.9L1383.3 266.6L1384.3 266.1L1385.3 265.6L1386.3 265.1L1387.3 264.8L1388.3 264.6L1389.3 264.7L1390.3 265.0L1391.3 265.6L1392.3 266.2L1393.3 266.9L1394.3 267.6L1395.3 268.2L1396.3 268.7L1397.3 269.2L1398.3 269.7L1399.3 270.3L1400.3 271.0L1401.3 271.7L1402.3 272.4L1403.3 272.9L1404.3 273.3L1405.3 273.3L1406.3 273.1L1407.3 272.8L1408.3 272.4L1409.3 272.1L1410.3 272.0L1411.3 272.1L1412.3 272.3L1413.3 272.6L1414.3 272.8L1415.3 272.8L1416.3 272.7L1417.3 272.5L1418.3 272.2L1419.3 271.8L1420.3 271.5L1421.3 271.2L1422.3 271.0L1423.3 270.7" stroke="#767676" stroke-width="1.85" fill="none" stroke-linejoin="round"/>
<path d="M146.3 308.5L147.3 307.5L148.3 307.0L149.3 306.9L150.3 307.4L151.3 308.4L152.3 309.8L153.3 311.5L154.3 313.2L155.3 315.0L156.3 316.5L157.3 317.7L158.3 318.4L159.3 318.7L160.3 318.5L161.3 317.9L162.3 317.1L163.3 316.1L164.3 315.1L165.3 314.2L166.3 313.5L167.3 313.1L168.3 313.1L169.3 313.3L170.3 313.7L171.3 314.3L172.3 314.9L173.3 315.4L174.3 315.8L175.3 316.1L176.3 316.1L177.3 316.0L178.3 315.7L179.3 315.4L180.3 315.0L181.3 314.6L182.3 314.3L183.3 314.0L184.3 313.9L185.3 313.7L186.3 313.6L187.3 313.5L188.3 313.3L189.3 313.0L190.3 312.6L191.3 312.2L192.3 311.7L193.3 311.1L194.3 310.6L195.3 310.2L196.3 309.9L197.3 309.6L198.3 309.5L199.3 309.4L200.3 309.4L201.3 309.4L202.3 309.3L203.3 309.2L204.3 308.8L205.3 308.4L206.3 307.7L207.3 306.9L208.3 305.8L209.3 304.6L210.3 303.6L211.3 302.9L212.3 302.5L213.3 302.5L214.3 303.0L215.3 303.6L216.3 304.3L217.3 304.8L218.3 305.1L219.3 305.2L220.3 304.9L221.3 304.4L222.3 303.7L223.3 302.9L224.3 302.1L225.3 301.5L226.3 301.2L227.3 301.3L228.3 301.9L229.3 302.8L230.3 304.1L231.3 305.5L232.3 306.9L233.3 308.1L234.3 308.9L235.3 309.3L236.3 309.1L237.3 308.5L238.3 307.4L239.3 306.2L240.3 304.8L241.3 303.5L242.3 302.4L243.3 301.6L244.3 301.1L245.3 301.0L246.3 301.2L247.3 301.7L248.3 302.5L249.3 303.6L250.3 304.8L251.3 306.0L252.3 307.1L253.3 308.0L254.3 308.7L255.3 309.2L256.3 309.5L257.3 309.6L258.3 309.4L259.3 309.1L260.3 308.7L261.3 308.2L262.3 307.8L263.3 307.3L264.3 307.1L265.3 307.1L266.3 307.4L267.3 307.8L268.3 308.3L269.3 308.9L270.3 309.4L271.3 309.8L272.3 310.1L273.3 310.8L274.3 311.8L275.3 312.7L276.3 313.2L277.3 313.2L278.3 313.0L279.3 312.7L280.3 312.5L281.3 312.3L282.3 312.1L283.3 312.0L284.3 311.8L285.3 311.6L286.3 311.4L287.3 311.2L288.3 311.0L289.3 310.9L290.3 310.8L291.3 310.7L292.3 310.8L293.3 311.0L294.3 311.3L295.3 311.7L296.3 312.0L297.3 312.3L298.3 312.5L299.3 312.6L300.3 312.5L301.3 312.2L302.3 311.8L303.3 311.3L304.3 310.7L305.3 310.3L306.3 310.0L307.3 309.8L308.3 309.9L309.3 310.1L310.3 310.5L311.3 311.0L312.3 311.4L313.3 311.8L314.3 312.2L315.3 312.4L316.3 312.5L317.3 312.5L318.3 312.8L319.3 315.8L320.3 321.6L321.3 328.9L322.3 336.7L323.3 343.4L324.3 348.0L325.3 349.2L326.3 348.3L327.3 346.0L328.3 342.8L329.3 338.8L330.3 334.6L331.3 330.6L332.3 327.1L333.3 324.4L334.3 321.9L335.3 319.2L336.3 316.4L337.3 313.6L338.3 310.9L339.3 308.3L340.3 305.9L341.3 303.8L342.3 302.2L343.3 301.1L344.3 300.5L345.3 300.6L346.3 301.4L347.3 302.8L348.3 304.7L349.3 307.1L350.3 309.9L351.3 312.9L352.3 316.1L353.3 319.5L354.3 323.0L355.3 326.7L356.3 330.5L357.3 334.4L358.3 338.4L359.3 342.4L360.3 346.6L361.3 351.7L362.3 357.8L363.3 364.6L364.3 371.8L365.3 379.0L366.3 385.9L367.3 392.1L368.3 397.5L369.3 401.7L370.3 405.5L371.3 408.9L372.3 412.0L373.3 414.9L374.3 417.6L375.3 420.3L376.3 423.1L377.3 425.9L378.3 428.8L379.3 432.1L380.3 436.0L381.3 440.5L382.3 444.9L383.3 448.9L384.3 451.9L385.3 453.5L386.3 453.4L387.3 452.0L388.3 449.6L389.3 446.6L390.3 443.1L391.3 439.5L392.3 436.0L393.3 431.7L394.3 426.6L395.3 421.1L396.3 415.7L397.3 411.0L398.3 407.3L399.3 404.0L400.3 401.0L401.3 398.3L402.3 395.7L403.3 393.3L404.3 391.1L405.3 389.0L406.3 387.1L407.3 385.3L408.3 383.5L409.3 381.7L410.3 379.7L411.3 377.6L412.3 375.4L413.3 373.3L414.3 371.2L415.3 369.4L416.3 367.9L417.3 366.8L418.3 366.2L419.3 365.8L420.3 365.5L421.3 365.3L422.3 365.3L423.3 365.4L424.3 365.5L425.3 365.5L426.3 365.4L427.3 364.6L428.3 363.1L429.3 361.0L430.3 358.4L431.3 355.5L432.3 352.4L433.3 349.4L434.3 346.7L435.3 344.3L436.3 342.5L437.3 341.1L438.3 339.7L439.3 338.6L440.3 338.1L441.3 338.5L442.3 339.8L443.3 341.6L444.3 343.4L445.3 344.8L446.3 345.2L447.3 345.0L448.3 344.2L449.3 343.0L450.3 341.5L451.3 339.9L452.3 338.5L453.3 337.5L454.3 337.1L455.3 337.4L456.3 338.4L457.3 340.2L458.3 342.6L459.3 345.5L460.3 348.7L461.3 352.0L462.3 355.1L463.3 357.9L464.3 360.1L465.3 361.5L466.3 362.3L467.3 362.3L468.3 361.7L469.3 360.7L470.3 359.5L471.3 358.3L472.3 357.5L473.3 357.2L474.3 357.6L475.3 358.9L476.3 360.9L477.3 363.8L478.3 367.2L479.3 371.0L480.3 375.0L481.3 378.8L482.3 382.1L483.3 384.7L484.3 386.5L485.3 387.2L486.3 387.0L487.3 386.0L488.3 384.3L489.3 382.3L490.3 380.3L491.3 378.7L492.3 377.9L493.3 378.0L494.3 379.2L495.3 381.5L496.3 384.8L497.3 388.9L498.3 393.4L499.3 397.9L500.3 402.0L501.3 405.5L502.3 407.8L503.3 408.9L504.3 408.7L505.3 407.2L506.3 404.8L507.3 401.7L508.3 398.3L509.3 395.2L510.3 392.7L511.3 391.2L512.3 391.0L513.3 392.0L514.3 394.3L515.3 397.7L516.3 401.8L517.3 406.2L518.3 410.5L519.3 414.1L520.3 416.7L521.3 418.1L522.3 418.1L523.3 416.8L524.3 414.2L525.3 410.8L526.3 406.9L527.3 402.9L528.3 399.4L529.3 396.5L530.3 394.8L531.3 394.3L532.3 395.0L533.3 396.8L534.3 399.6L535.3 402.8L536.3 406.3L537.3 409.5L538.3 412.1L539.3 413.9L540.3 414.6L541.3 414.1L542.3 412.6L543.3 410.3L544.3 407.3L545.3 404.0L546.3 400.7L547.3 397.9L548.3 395.7L549.3 394.3L550.3 394.0L551.3 394.5L552.3 396.0L553.3 398.1L554.3 400.6L555.3 403.2L556.3 405.6L557.3 407.5L558.3 408.8L559.3 409.2L560.3 408.7L561.3 407.4L562.3 405.3L563.3 402.8L564.3 400.1L565.3 397.4L566.3 395.1L567.3 393.4L568.3 392.5L569.3 392.6L570.3 393.5L571.3 395.3L572.3 397.7L573.3 400.5L574.3 403.4L575.3 406.1L576.3 408.3L577.3 409.6L578.3 410.0L579.3 409.4L580.3 407.8L581.3 405.3L582.3 402.1L583.3 398.6L584.3 395.2L585.3 392.1L586.3 389.9L587.3 388.6L588.3 388.4L589.3 389.4L590.3 391.4L591.3 394.2L592.3 397.3L593.3 400.5L594.3 403.2L595.3 405.1L596.3 405.9L597.3 405.5L598.3 403.8L599.3 400.9L600.3 397.2L601.3 392.9L602.3 388.4L603.3 384.3L604.3 380.9L605.3 378.6L606.3 377.6L607.3 378.0L608.3 379.8L609.3 382.6L610.3 386.2L611.3 390.1L612.3 393.9L613.3 397.0L614.3 399.1L615.3 399.9L616.3 399.3L617.3 397.4L618.3 394.2L619.3 390.2L620.3 385.7L621.3 381.2L622.3 377.2L623.3 373.9L624.3 371.7L625.3 370.8L626.3 371.2L627.3 372.7L628.3 375.1L629.3 378.2L630.3 381.3L631.3 384.3L632.3 386.6L633.3 388.0L634.3 388.3L635.3 387.4L636.3 385.5L637.3 382.6L638.3 379.1L639.3 375.3L640.3 371.6L641.3 368.3L642.3 365.8L643.3 364.2L644.3 363.6L645.3 364.1L646.3 365.6L647.3 367.8L648.3 370.5L649.3 373.2L650.3 375.8L651.3 377.9L652.3 379.2L653.3 379.6L654.3 379.1L655.3 377.6L656.3 375.4L657.3 372.7L658.3 369.8L659.3 367.1L660.3 364.7L661.3 363.0L662.3 362.2L663.3 362.3L664.3 363.5L665.3 365.4L666.3 368.1L667.3 371.1L668.3 374.2L669.3 376.9L670.3 379.1L671.3 380.5L672.3 380.8L673.3 380.2L674.3 378.5L675.3 376.2L676.3 373.3L677.3 370.2L678.3 367.4L679.3 365.1L680.3 363.6L681.3 363.3L682.3 364.0L683.3 365.9L684.3 368.8L685.3 372.3L686.3 376.1L687.3 379.8L688.3 383.1L689.3 385.5L690.3 386.9L691.3 387.0L692.3 385.8L693.3 383.6L694.3 380.5L695.3 376.9L696.3 373.3L697.3 370.0L698.3 367.4L699.3 365.9L700.3 365.7L701.3 366.7L702.3 369.0L703.3 372.2L704.3 376.1L705.3 380.1L706.3 384.0L707.3 387.2L708.3 389.4L709.3 390.4L710.3 390.0L711.3 388.4L712.3 385.7L713.3 382.2L714.3 378.3L715.3 374.4L716.3 371.0L717.3 368.3L718.3 366.8L719.3 366.5L720.3 367.5L721.3 369.5L722.3 372.4L723.3 375.9L724.3 379.4L725.3 382.7L726.3 385.3L727.3 387.0L728.3 387.6L729.3 386.9L730.3 385.2L731.3 382.5L732.3 379.2L733.3 375.5L734.3 372.0L735.3 369.0L736.3 366.7L737.3 365.4L738.3 365.2L739.3 366.1L740.3 367.9L741.3 370.5L742.3 373.5L743.3 376.6L744.3 379.4L745.3 381.6L746.3 383.0L747.3 383.3L748.3 382.6L749.3 380.9L750.3 378.4L751.3 375.4L752.3 372.2L753.3 369.1L754.3 366.6L755.3 364.8L756.3 364.0L757.3 364.2L758.3 365.5L759.3 367.7L760.3 370.6L761.3 373.9L762.3 377.1L763.3 380.0L764.3 382.2L765.3 383.6L766.3 383.8L767.3 383.0L768.3 381.2L769.3 378.6L770.3 375.5L771.3 372.4L772.3 369.4L773.3 367.1L774.3 365.7L775.3 365.4L776.3 366.3L777.3 368.2L778.3 371.1L779.3 374.5L780.3 378.3L781.3 381.9L782.3 385.0L783.3 387.3L784.3 388.5L785.3 388.5L786.3 387.3L787.3 385.1L788.3 382.1L789.3 378.6L790.3 375.2L791.3 372.1L792.3 369.8L793.3 368.5L794.3 368.3L795.3 369.5L796.3 371.7L797.3 374.8L798.3 378.6L799.3 382.4L800.3 386.0L801.3 389.0L802.3 391.0L803.3 391.9L804.3 391.4L805.3 389.8L806.3 387.1L807.3 383.7L808.3 379.9L809.3 376.2L810.3 373.0L811.3 370.6L812.3 369.2L813.3 369.1L814.3 370.2L815.3 372.4L816.3 375.5L817.3 379.0L818.3 382.7L819.3 386.0L820.3 388.6L821.3 390.3L822.3 390.8L823.3 390.0L824.3 388.1L825.3 385.2L826.3 381.6L827.3 377.8L828.3 374.1L829.3 370.9L830.3 368.6L831.3 367.3L832.3 367.3L833.3 368.5L834.3 370.7L835.3 373.7L836.3 377.1L837.3 380.6L838.3 383.7L839.3 386.1L840.3 387.5L841.3 387.7L842.3 386.8L843.3 384.7L844.3 381.8L845.3 378.2L846.3 374.5L847.3 371.0L848.3 368.1L849.3 366.1L850.3 365.2L851.3 365.6L852.3 367.1L853.3 369.5L854.3 372.7L855.3 376.3L856.3 379.8L857.3 382.9L858.3 385.2L859.3 386.5L860.3 386.7L861.3 385.7L862.3 383.6L863.3 380.7L864.3 377.4L865.3 373.9L866.3 370.7L867.3 368.2L868.3 366.7L869.3 366.3L870.3 367.0L871.3 368.9L872.3 371.7L873.3 375.2L874.3 378.9L875.3 382.5L876.3 385.5L877.3 387.8L878.3 388.9L879.3 389.0L880.3 387.8L881.3 385.7L882.3 382.8L883.3 379.5L884.3 376.2L885.3 373.2L886.3 370.9L887.3 369.6L888.3 369.5L889.3 370.5L890.3 372.6L891.3 375.5L892.3 379.1L893.3 382.8L894.3 386.3L895.3 389.2L896.3 391.2L897.3 392.2L898.3 391.9L899.3 390.4L900.3 388.0L901.3 384.8L902.3 381.3L903.3 377.7L904.3 374.6L905.3 372.3L906.3 371.0L907.3 370.9L908.3 372.1L909.3 374.3L910.3 377.5L911.3 381.2L912.3 385.0L913.3 388.5L914.3 391.3L915.3 393.2L916.3 393.8L917.3 393.1L918.3 391.2L919.3 388.2L920.3 384.5L921.3 380.5L922.3 376.6L923.3 373.2L924.3 370.8L925.3 369.6L926.3 369.7L927.3 371.1L928.3 373.7L929.3 377.2L930.3 381.3L931.3 385.3L932.3 389.0L933.3 391.8L934.3 393.5L935.3 393.8L936.3 392.8L937.3 390.4L938.3 387.0L939.3 383.0L940.3 378.7L941.3 374.7L942.3 371.3L943.3 369.1L944.3 368.1L945.3 368.5L946.3 370.3L947.3 373.3L948.3 377.0L949.3 381.2L950.3 385.3L951.3 388.9L952.3 391.6L953.3 393.1L954.3 393.2L955.3 392.0L956.3 389.6L957.3 386.3L958.3 382.5L959.3 378.5L960.3 374.9L961.3 372.0L962.3 370.1L963.3 369.5L964.3 370.2L965.3 372.1L966.3 375.0L967.3 378.6L968.3 382.5L969.3 386.2L970.3 389.4L971.3 391.8L972.3 393.1L973.3 393.2L974.3 392.1L975.3 389.9L976.3 387.0L977.3 383.6L978.3 380.1L979.3 376.9L980.3 374.4L981.3 372.9L982.3 372.4L983.3 373.2L984.3 375.0L985.3 377.8L986.3 381.2L987.3 384.9L988.3 388.5L989.3 391.6L990.3 393.8L991.3 395.0L992.3 394.9L993.3 393.7L994.3 391.4L995.3 388.2L996.3 384.6L997.3 380.9L998.3 377.6L999.3 375.0L1000.3 373.4L1001.3 373.0L1002.3 374.0L1003.3 376.3L1004.3 379.6L1005.3 383.5L1006.3 387.8L1007.3 391.8L1008.3 395.2L1009.3 397.5L1010.3 398.5L1011.3 398.0L1012.3 396.0L1013.3 392.8L1014.3 388.7L1015.3 384.1L1016.3 379.5L1017.3 375.5L1018.3 372.5L1019.3 371.0L1020.3 371.0L1021.3 372.6L1022.3 375.8L1023.3 380.0L1024.3 385.0L1025.3 390.0L1026.3 394.6L1027.3 398.3L1028.3 400.5L1029.3 401.1L1030.3 399.9L1031.3 397.1L1032.3 393.0L1033.3 387.9L1034.3 382.6L1035.3 377.6L1036.3 373.4L1037.3 370.5L1038.3 369.2L1039.3 369.7L1040.3 371.9L1041.3 375.5L1042.3 380.1L1043.3 385.2L1044.3 390.3L1045.3 394.6L1046.3 397.9L1047.3 399.6L1048.3 399.7L1049.3 398.2L1050.3 395.3L1051.3 391.2L1052.3 386.5L1053.3 381.7L1054.3 377.4L1055.3 373.9L1056.3 371.6L1057.3 370.8L1058.3 371.5L1059.3 373.9L1060.3 377.4L1061.3 381.2L1062.3 384.5L1063.3 386.9L1064.3 388.1L1065.3 387.4L1066.3 385.3L1067.3 382.3L1068.3 379.0L1069.3 375.9L1070.3 373.0L1071.3 370.4L1072.3 368.0L1073.3 365.6L1074.3 363.2L1075.3 360.7L1076.3 358.4L1077.3 356.2L1078.3 354.2L1079.3 352.5L1080.3 350.8L1081.3 349.2L1082.3 347.7L1083.3 346.3L1084.3 345.0L1085.3 343.9L1086.3 342.8L1087.3 341.9L1088.3 341.2L1089.3 340.7L1090.3 340.4L1091.3 340.5L1092.3 341.0L1093.3 341.8L1094.3 342.9L1095.3 344.3L1096.3 346.1L1097.3 348.0L1098.3 350.2L1099.3 352.5L1100.3 355.0L1101.3 357.4L1102.3 359.7L1103.3 361.8L1104.3 363.8L1105.3 365.4L1106.3 366.6L1107.3 367.4L1108.3 367.8L1109.3 367.7L1110.3 366.8L1111.3 365.2L1112.3 362.9L1113.3 360.2L1114.3 357.0L1115.3 353.6L1116.3 350.0L1117.3 346.3L1118.3 342.7L1119.3 339.1L1120.3 335.6L1121.3 332.5L1122.3 329.6L1123.3 326.6L1124.3 323.3L1125.3 319.8L1126.3 316.2L1127.3 312.6L1128.3 309.1L1129.3 305.8L1130.3 302.7L1131.3 300.0L1132.3 297.7L1133.3 295.9L1134.3 294.6L1135.3 293.9L1136.3 293.9L1137.3 294.1L1138.3 294.4L1139.3 294.9L1140.3 295.4L1141.3 296.0L1142.3 296.7L1143.3 297.4L1144.3 298.2L1145.3 299.0L1146.3 299.9L1147.3 300.8L1148.3 301.6L1149.3 302.4L1150.3 303.2L1151.3 304.0L1152.3 304.6L1153.3 305.2L1154.3 305.6L1155.3 306.0L1156.3 306.3L1157.3 306.5L1158.3 306.6L1159.3 306.5L1160.3 306.3L1161.3 305.9L1162.3 305.3L1163.3 304.6L1164.3 303.7L1165.3 302.6L1166.3 301.3L1167.3 299.9L1168.3 298.3L1169.3 296.5L1170.3 294.7L1171.3 292.8L1172.3 290.9L1173.3 289.1L1174.3 287.4L1175.3 285.8L1176.3 284.5L1177.3 283.3L1178.3 282.4L1179.3 281.7L1180.3 281.1L1181.3 280.8L1182.3 280.5L1183.3 280.3L1184.3 279.9L1185.3 279.4L1186.3 278.8L1187.3 278.2L1188.3 277.5L1189.3 276.8L1190.3 276.1L1191.3 275.5L1192.3 275.0L1193.3 274.7L1194.3 274.6L1195.3 274.6L1196.3 274.9L1197.3 275.7L1198.3 276.8L1199.3 278.1L1200.3 279.6L1201.3 281.3L1202.3 282.9L1203.3 284.6L1204.3 286.2L1205.3 287.7L1206.3 289.0L1207.3 290.3L1208.3 291.3L1209.3 292.2L1210.3 292.8L1211.3 293.1L1212.3 293.4L1213.3 293.7L1214.3 294.1L1215.3 294.4L1216.3 294.7L1217.3 294.9L1218.3 295.1L1219.3 295.2L1220.3 295.2L1221.3 295.2L1222.3 295.2L1223.3 295.2L1224.3 295.2L1225.3 295.2L1226.3 295.2L1227.3 295.3L1228.3 295.5L1229.3 295.6L1230.3 295.8L1231.3 296.0L1232.3 296.2L1233.3 296.4L1234.3 296.5L1235.3 296.7L1236.3 296.8L1237.3 296.9L1238.3 297.0L1239.3 297.1L1240.3 297.2L1241.3 297.3L1242.3 297.5L1243.3 297.6L1244.3 297.8L1245.3 297.9L1246.3 298.1L1247.3 298.2L1248.3 298.3L1249.3 298.4L1250.3 298.4L1251.3 298.5L1252.3 298.6L1253.3 298.7L1254.3 298.8L1255.3 299.0L1256.3 299.2L1257.3 299.5L1258.3 299.7L1259.3 300.0L1260.3 300.2L1261.3 300.3L1262.3 300.2L1263.3 299.7L1264.3 298.9L1265.3 297.8L1266.3 296.6L1267.3 295.3L1268.3 293.9L1269.3 292.6L1270.3 291.4L1271.3 290.4L1272.3 289.6L1273.3 289.2L1274.3 288.9L1275.3 288.8L1276.3 288.7L1277.3 288.6L1278.3 288.4L1279.3 288.3L1280.3 288.0L1281.3 287.6L1282.3 287.2L1283.3 286.6L1284.3 285.9L1285.3 285.2L1286.3 284.6L1287.3 283.9L1288.3 283.4L1289.3 283.0L1290.3 282.7L1291.3 282.6L1292.3 282.5L1293.3 282.6L1294.3 282.8L1295.3 283.0L1296.3 283.3L1297.3 283.6L1298.3 284.1L1299.3 284.5L1300.3 285.0L1301.3 285.5L1302.3 286.0L1303.3 286.4L1304.3 286.8L1305.3 287.2L1306.3 287.4L1307.3 287.6L1308.3 287.7L1309.3 287.6L1310.3 287.3L1311.3 286.8L1312.3 286.3L1313.3 285.6L1314.3 285.0L1315.3 284.3L1316.3 283.7L1317.3 283.3L1318.3 283.0L1319.3 282.7L1320.3 282.5L1321.3 282.3L1322.3 282.2L1323.3 282.1L1324.3 282.1L1325.3 282.1L1326.3 282.1L1327.3 282.1L1328.3 282.2L1329.3 282.2L1330.3 282.1L1331.3 282.1L1332.3 282.0L1333.3 281.9L1334.3 281.8L1335.3 281.7L1336.3 281.6L1337.3 281.5L1338.3 281.4L1339.3 281.4L1340.3 281.3L1341.3 281.2L1342.3 281.1L1343.3 281.0L1344.3 280.8L1345.3 280.6L1346.3 280.4L1347.3 280.1L1348.3 279.8L1349.3 279.6L1350.3 279.3L1351.3 279.1L1352.3 279.0L1353.3 278.9L1354.3 278.8L1355.3 278.7L1356.3 278.6L1357.3 278.4L1358.3 278.2L1359.3 277.9L1360.3 277.5L1361.3 277.1L1362.3 276.5L1363.3 275.9L1364.3 275.2L1365.3 274.5L1366.3 273.9L1367.3 273.4L1368.3 272.9L1369.3 272.6L1370.3 272.4L1371.3 272.3L1372.3 272.2L1373.3 272.1L1374.3 272.1L1375.3 271.9L1376.3 271.5L1377.3 270.9L1378.3 270.1L1379.3 269.2L1380.3 268.2L1381.3 267.2L1382.3 266.1L1383.3 265.2L1384.3 264.4L1385.3 263.8L1386.3 263.5L1387.3 263.5L1388.3 263.6L1389.3 264.0L1390.3 264.5L1391.3 265.2L1392.3 265.8L1393.3 266.5L1394.3 267.2L1395.3 267.8L1396.3 268.3L1397.3 268.8L1398.3 269.2L1399.3 269.6L1400.3 269.9L1401.3 270.2L1402.3 270.5L1403.3 270.8L1404.3 271.0L1405.3 271.3L1406.3 271.4L1407.3 271.6L1408.3 271.6L1409.3 271.7L1410.3 271.7L1411.3 271.7L1412.3 271.6L1413.3 271.4L1414.3 271.3L1415.3 271.1L1416.3 270.8L1417.3 270.6L1418.3 270.4L1419.3 270.2L1420.3 269.9L1421.3 269.7L1422.3 269.4L1423.3 269.1" stroke="#767676" stroke-width="1.85" fill="none" stroke-linejoin="round"/>
<text x="133.5" y="79.3" font-size="36.5" text-anchor="end">500</text>
<text x="133.5" y="200.5" font-size="36.5" text-anchor="end">250</text>
<text x="133.5" y="322.8" font-size="36.5" text-anchor="end">0</text>
<text x="133.5" y="447.2" font-size="36.5" text-anchor="end">-250</text>
<text x="133.5" y="566.6" font-size="36.5" text-anchor="end">-500</text>
<text x="146.4" y="643.0" font-size="36.5" text-anchor="middle">-0.2</text>
<text x="296.8" y="643.0" font-size="36.5" text-anchor="middle">0</text>
<text x="447.2" y="643.0" font-size="36.5" text-anchor="middle">0.2</text>
<text x="597.6" y="643.0" font-size="36.5" text-anchor="middle">0.4</text>
<text x="748.0" y="643.0" font-size="36.5" text-anchor="middle">0.6</text>
<text x="898.4" y="643.0" font-size="36.5" text-anchor="middle">0.8</text>
<text x="1048.8" y="643.0" font-size="36.5" text-anchor="middle">1</text>
<text x="1199.2" y="643.0" font-size="36.5" text-anchor="middle">1.2</text>
<text x="1349.6" y="643.0" font-size="36.5" text-anchor="middle">1.4</text>
<text x="769.3" y="699.3" font-size="37.6" text-anchor="middle">Time (s)</text>
<text transform="translate(38.8 296) rotate(-90)" font-size="37.6" text-anchor="middle">Amplitude (fT)</text>
<text x="15.6" y="40.0" font-size="51.0" text-anchor="start" font-weight="bold">a</text>
<rect x="145.0" y="797.4" width="354.5" height="108.4" fill="#fff"/>
<path d="M155.1 797.4V905.8M166.6 797.4V905.8M178.0 797.4V905.8M189.5 797.4V905.8M200.9 797.4V905.8M212.3 797.4V905.8M223.8 797.4V905.8M235.2 797.4V905.8M246.6 797.4V905.8M258.1 797.4V905.8M269.5 797.4V905.8M280.9 797.4V905.8M292.4 797.4V905.8M303.8 797.4V905.8M315.2 797.4V905.8M326.7 797.4V905.8M338.1 797.4V905.8M349.5 797.4V905.8M361.0 797.4V905.8M372.4 797.4V905.8M383.9 797.4V905.8M395.3 797.4V905.8M406.7 797.4V905.8M418.2 797.4V905.8M429.6 797.4V905.8M441.0 797.4V905.8M452.5 797.4V905.8M463.9 797.4V905.8M475.3 797.4V905.8M486.8 797.4V905.8M498.2 797.4V905.8" stroke="#f7f7f7" stroke-width="1" fill="none"/>
<path d="M155.1 797.4V905.8M212.3 797.4V905.8M326.7 797.4V905.8M383.9 797.4V905.8M441.0 797.4V905.8M498.2 797.4V905.8" stroke="#ebebeb" stroke-width="1.1" fill="none"/>
<path d="M145.0 889.0H499.5" stroke="#ebebeb" stroke-width="1.2" fill="none"/>
<rect x="145.0" y="797.4" width="354.5" height="108.4" fill="none" stroke="#ababab" stroke-width="1.4"/>
<path d="M145.0 853.3h4M499.5 853.3h-4M145.0 817.6h4M499.5 817.6h-4" stroke="#d0d0d0" stroke-width="1.2" fill="none"/>
<g clip-path="url(#hc0)"><g filter="url(#jet)"><rect x="143.0" y="903.8" width="358.5" height="250.6" fill="#808080"/><ellipse class="k" cx="146.6" cy="900.8" rx="8.1" ry="67.7" opacity=".16"/><ellipse class="k" cx="152.1" cy="907.4" rx="8.7" ry="56.5" opacity=".03"/><ellipse class="k" cx="157.7" cy="909.7" rx="6.8" ry="88.9" opacity=".07"/><ellipse class="k" cx="176.4" cy="906.1" rx="6.7" ry="83.9" opacity=".02"/><ellipse class="k" cx="184.4" cy="911.9" rx="7.4" ry="60.3" opacity=".03"/><ellipse class="w" cx="189.7" cy="920.5" rx="10.3" ry="60.3" opacity=".12"/><ellipse class="w" cx="195.7" cy="905.3" rx="8" ry="89.3" opacity=".05"/><ellipse class="k" cx="207.9" cy="920.1" rx="9.3" ry="69.1" opacity=".02"/><ellipse class="w" cx="215.6" cy="910.2" rx="7.4" ry="84.6" opacity=".07"/><ellipse class="k" cx="228.2" cy="913" rx="7.3" ry="68.4" opacity=".06"/><ellipse class="w" cx="235.6" cy="908.2" rx="10.5" ry="89.4" opacity=".03"/><ellipse class="k" cx="247.9" cy="903.6" rx="8" ry="78.5" opacity=".02"/><ellipse class="k" cx="257.1" cy="913" rx="7.3" ry="68.5" opacity=".02"/><ellipse class="w" cx="262" cy="913.5" rx="9.2" ry="58" opacity=".10"/><ellipse class="w" cx="269.3" cy="910.2" rx="9.9" ry="83.1" opacity=".12"/><ellipse class="w" cx="276.6" cy="898.5" rx="10.3" ry="49.3" opacity=".19"/><ellipse class="w" cx="291" cy="903.8" rx="8.4" ry="84.4" opacity=".02"/><ellipse class="k" cx="297.2" cy="898.6" rx="10.5" ry="72.5" opacity=".04"/><ellipse class="w" cx="303.7" cy="911.8" rx="10.5" ry="54.3" opacity=".12"/><ellipse class="k" cx="316.5" cy="906.1" rx="10.4" ry="87.5" opacity=".08"/><ellipse class="w" cx="330.5" cy="908.4" rx="7.3" ry="57.5" opacity=".04"/><ellipse class="k" cx="336.8" cy="918.3" rx="10.2" ry="79.7" opacity=".04"/><ellipse class="k" cx="341.6" cy="909.2" rx="8.7" ry="77.6" opacity=".03"/><ellipse class="k" cx="350.2" cy="917.5" rx="8.4" ry="83" opacity=".09"/><ellipse class="w" cx="357.6" cy="900.6" rx="9.4" ry="69.7" opacity=".03"/><ellipse class="w" cx="364.8" cy="908.5" rx="9.5" ry="79.1" opacity=".09"/><ellipse class="k" cx="378.9" cy="899.9" rx="7.7" ry="79.9" opacity=".10"/><ellipse class="w" cx="383.9" cy="904.2" rx="10.7" ry="69" opacity=".08"/><ellipse class="k" cx="421.9" cy="910.4" rx="10.4" ry="54.7" opacity=".03"/><ellipse class="w" cx="430.5" cy="914.9" rx="7.2" ry="78.1" opacity=".05"/><ellipse class="w" cx="444.1" cy="909.1" rx="9" ry="67.1" opacity=".03"/><ellipse class="k" cx="452.6" cy="906.9" rx="9.6" ry="86" opacity=".10"/><ellipse class="w" cx="457.4" cy="902.2" rx="6.7" ry="62.9" opacity=".13"/><ellipse class="k" cx="464.6" cy="912.4" rx="9.3" ry="74.6" opacity=".13"/><ellipse class="k" cx="469.2" cy="902.9" rx="7.5" ry="78.7" opacity=".13"/><ellipse class="k" cx="478" cy="917.3" rx="10" ry="66.2" opacity=".08"/><ellipse class="k" cx="483.2" cy="913" rx="9.2" ry="89.8" opacity=".03"/><ellipse class="k" cx="491.9" cy="917.9" rx="8.2" ry="79" opacity=".05"/><ellipse class="k" cx="498.9" cy="917.2" rx="8.8" ry="82.7" opacity=".02"/><ellipse class="w" cx="143.3" cy="952.7" rx="10.2" ry="65.2" opacity=".06"/><ellipse class="k" cx="151.1" cy="949.9" rx="7" ry="62.2" opacity=".06"/><ellipse class="k" cx="155.1" cy="936.1" rx="8.7" ry="68.3" opacity=".03"/><ellipse class="w" cx="171.6" cy="950.6" rx="7" ry="52.8" opacity=".05"/><ellipse class="k" cx="177" cy="933" rx="8.3" ry="60.6" opacity=".11"/><ellipse class="w" cx="182.8" cy="952.6" rx="8.8" ry="51.7" opacity=".03"/><ellipse class="w" cx="197.2" cy="952.8" rx="8" ry="78" opacity=".10"/><ellipse class="w" cx="202.3" cy="937.7" rx="9.7" ry="67" opacity=".03"/><ellipse class="k" cx="216" cy="940.8" rx="7.4" ry="84.7" opacity=".07"/><ellipse class="k" cx="231.8" cy="941.8" rx="9.4" ry="74.5" opacity=".03"/><ellipse class="w" cx="238.1" cy="941.9" rx="9.8" ry="78.1" opacity=".09"/><ellipse class="w" cx="245" cy="931.4" rx="9.8" ry="50" opacity=".04"/><ellipse class="k" cx="257.6" cy="951.6" rx="8.4" ry="79.9" opacity=".12"/><ellipse class="k" cx="262.4" cy="947.2" rx="10.4" ry="62.2" opacity=".04"/><ellipse class="w" cx="270.2" cy="943.1" rx="9.8" ry="50.1" opacity=".05"/><ellipse class="w" cx="275.5" cy="943.5" rx="10" ry="57.7" opacity=".06"/><ellipse class="w" cx="284.6" cy="937.7" rx="10.6" ry="84.2" opacity=".08"/><ellipse class="w" cx="290.9" cy="951.2" rx="6.6" ry="89.9" opacity=".06"/><ellipse class="k" cx="298.1" cy="947.3" rx="8.6" ry="63.6" opacity=".04"/><ellipse class="w" cx="301.4" cy="943" rx="7.2" ry="67" opacity=".14"/><ellipse class="w" cx="310.5" cy="951.7" rx="8.5" ry="80.7" opacity=".08"/><ellipse class="k" cx="320.4" cy="943.5" rx="9.6" ry="70.3" opacity=".11"/><ellipse class="k" cx="327.7" cy="941.5" rx="8.6" ry="49.3" opacity=".03"/><ellipse class="w" cx="334.9" cy="950.6" rx="7.1" ry="74.6" opacity=".05"/><ellipse class="k" cx="340.3" cy="938.6" rx="7.8" ry="72.2" opacity=".02"/><ellipse class="w" cx="348.6" cy="949.3" rx="9.2" ry="83.5" opacity=".09"/><ellipse class="k" cx="353.3" cy="934.8" rx="8.7" ry="75.9" opacity=".08"/><ellipse class="k" cx="359.5" cy="941.1" rx="8.6" ry="65.8" opacity=".05"/><ellipse class="k" cx="364.1" cy="948.4" rx="9.5" ry="81.3" opacity=".06"/><ellipse class="w" cx="371.6" cy="943.5" rx="8.1" ry="68.8" opacity=".02"/><ellipse class="w" cx="379.2" cy="934.9" rx="9" ry="79.8" opacity=".05"/><ellipse class="k" cx="414.5" cy="943.7" rx="7.3" ry="81.1" opacity=".04"/><ellipse class="k" cx="425.6" cy="952.9" rx="8.3" ry="81" opacity=".14"/><ellipse class="w" cx="434" cy="950.5" rx="6.9" ry="56.5" opacity=".16"/><ellipse class="w" cx="436.9" cy="950.9" rx="8.7" ry="85.5" opacity=".06"/><ellipse class="w" cx="445.7" cy="941.3" rx="8.6" ry="80.5" opacity=".12"/><ellipse class="k" cx="471.2" cy="952.2" rx="9.1" ry="54.7" opacity=".10"/><ellipse class="w" cx="477.3" cy="953.5" rx="6.7" ry="48.6" opacity=".13"/><ellipse class="k" cx="484.3" cy="937.8" rx="6.6" ry="72.8" opacity=".05"/><ellipse class="w" cx="501.1" cy="953.3" rx="10.3" ry="50.8" opacity=".06"/><ellipse class="w" cx="152.3" cy="964.4" rx="9.3" ry="65.9" opacity=".19"/><ellipse class="k" cx="176.9" cy="983.8" rx="7.1" ry="60.3" opacity=".11"/><ellipse class="w" cx="183.2" cy="971.7" rx="8.5" ry="48.3" opacity=".03"/><ellipse class="w" cx="189.6" cy="972.3" rx="11" ry="72.3" opacity=".06"/><ellipse class="w" cx="195.6" cy="984.9" rx="9.9" ry="57.4" opacity=".09"/><ellipse class="k" cx="204.1" cy="985" rx="9.5" ry="59.2" opacity=".07"/><ellipse class="k" cx="210.1" cy="970.3" rx="10.1" ry="61.4" opacity=".03"/><ellipse class="k" cx="233.1" cy="979.2" rx="9.1" ry="50.4" opacity=".11"/><ellipse class="k" cx="240.1" cy="971.8" rx="7.8" ry="61" opacity=".12"/><ellipse class="w" cx="252.6" cy="970.2" rx="6.9" ry="55.9" opacity=".04"/><ellipse class="w" cx="274.2" cy="964.6" rx="7.4" ry="68" opacity=".19"/><ellipse class="w" cx="287.7" cy="964.9" rx="11.2" ry="57.3" opacity=".03"/><ellipse class="k" cx="293" cy="976.7" rx="10.2" ry="83.9" opacity=".05"/><ellipse class="k" cx="297.3" cy="969.9" rx="10.3" ry="60.9" opacity=".07"/><ellipse class="w" cx="305.7" cy="971.3" rx="10" ry="68.2" opacity=".13"/><ellipse class="w" cx="324.4" cy="982.4" rx="9.7" ry="83.5" opacity=".03"/><ellipse class="w" cx="330.9" cy="965.6" rx="9.8" ry="65.2" opacity=".05"/><ellipse class="w" cx="336.3" cy="971.7" rx="6.9" ry="77.8" opacity=".05"/><ellipse class="k" cx="342.9" cy="970.8" rx="6.9" ry="58.2" opacity=".02"/><ellipse class="w" cx="356.6" cy="986.7" rx="11.1" ry="79.3" opacity=".05"/><ellipse class="k" cx="362.1" cy="965.8" rx="7.1" ry="55.8" opacity=".05"/><ellipse class="k" cx="368.7" cy="978.6" rx="9.2" ry="80.8" opacity=".05"/><ellipse class="w" cx="377.4" cy="967.6" rx="8.3" ry="75.1" opacity=".03"/><ellipse class="k" cx="382" cy="970.3" rx="8.5" ry="66.6" opacity=".07"/><ellipse class="k" cx="401.8" cy="972.8" rx="10.7" ry="62.7" opacity=".05"/><ellipse class="w" cx="409.4" cy="970.6" rx="10.7" ry="61.4" opacity=".05"/><ellipse class="k" cx="428.1" cy="968.7" rx="9.2" ry="78.5" opacity=".16"/><ellipse class="k" cx="448.3" cy="968.9" rx="11.4" ry="50.5" opacity=".13"/><ellipse class="k" cx="456.8" cy="985.7" rx="7.9" ry="76.4" opacity=".14"/><ellipse class="k" cx="462.9" cy="970.6" rx="10.9" ry="59.2" opacity=".10"/><ellipse class="w" cx="480.9" cy="965.3" rx="7.7" ry="78.2" opacity=".03"/><ellipse class="w" cx="488.5" cy="964.7" rx="10.9" ry="62.4" opacity=".04"/><ellipse class="w" cx="496.4" cy="971.1" rx="9.9" ry="63.2" opacity=".04"/><ellipse class="k" cx="502.4" cy="973.2" rx="8.1" ry="53.6" opacity=".03"/><ellipse class="w" cx="146.1" cy="1004.1" rx="9.8" ry="54.2" opacity=".05"/><ellipse class="w" cx="153.3" cy="995.8" rx="11.3" ry="74.1" opacity=".08"/><ellipse class="k" cx="159.7" cy="1008.5" rx="10.7" ry="61.8" opacity=".02"/><ellipse class="k" cx="165.7" cy="1000" rx="10.5" ry="77.7" opacity=".07"/><ellipse class="w" cx="172.4" cy="1003" rx="8.9" ry="71.7" opacity=".06"/><ellipse class="w" cx="177.2" cy="1017.1" rx="9.3" ry="70.6" opacity=".06"/><ellipse class="w" cx="185.8" cy="1012.6" rx="11" ry="55.7" opacity=".03"/><ellipse class="w" cx="192.8" cy="1009.5" rx="8.3" ry="63.3" opacity=".05"/><ellipse class="k" cx="198.8" cy="1004.1" rx="6.8" ry="50.3" opacity=".07"/><ellipse class="w" cx="207.5" cy="1000.3" rx="8.9" ry="77.8" opacity=".08"/><ellipse class="w" cx="218.9" cy="996.7" rx="9" ry="76.2" opacity=".12"/><ellipse class="w" cx="226.1" cy="1008.1" rx="9.8" ry="69.3" opacity=".07"/><ellipse class="k" cx="230.4" cy="1009.7" rx="9.4" ry="77.6" opacity=".04"/><ellipse class="k" cx="237.4" cy="1009.9" rx="9.3" ry="73.7" opacity=".04"/><ellipse class="w" cx="240.9" cy="1009.8" rx="8.4" ry="75.8" opacity=".04"/><ellipse class="k" cx="256.9" cy="1015.3" rx="10.7" ry="65.5" opacity=".07"/><ellipse class="w" cx="261.5" cy="997.2" rx="8" ry="63.6" opacity=".05"/><ellipse class="w" cx="269" cy="1006.3" rx="9" ry="58.2" opacity=".14"/><ellipse class="w" cx="274.6" cy="995.6" rx="8.6" ry="59.7" opacity=".08"/><ellipse class="w" cx="281.7" cy="1016.2" rx="7.8" ry="53.1" opacity=".14"/><ellipse class="w" cx="288.8" cy="995.3" rx="9.7" ry="54.1" opacity=".04"/><ellipse class="k" cx="294.5" cy="1017.7" rx="7.7" ry="74.5" opacity=".05"/><ellipse class="k" cx="300.8" cy="998.1" rx="8.8" ry="49.9" opacity=".07"/><ellipse class="w" cx="308.6" cy="1011.8" rx="10.6" ry="49.8" opacity=".19"/><ellipse class="k" cx="315.2" cy="1015.2" rx="10.4" ry="45.2" opacity=".13"/><ellipse class="w" cx="320.3" cy="1017" rx="8.2" ry="54.3" opacity=".07"/><ellipse class="w" cx="329.3" cy="1007.3" rx="9.8" ry="63.2" opacity=".06"/><ellipse class="w" cx="336.9" cy="1007.2" rx="10.9" ry="51.9" opacity=".15"/><ellipse class="w" cx="341.8" cy="996.4" rx="8.7" ry="47.8" opacity=".05"/><ellipse class="w" cx="352.8" cy="1007.9" rx="8.5" ry="72.1" opacity=".07"/><ellipse class="k" cx="360.4" cy="1010.2" rx="10.6" ry="69.2" opacity=".07"/><ellipse class="k" cx="374" cy="1011.6" rx="9.6" ry="70.1" opacity=".05"/><ellipse class="w" cx="379.2" cy="1015" rx="11.3" ry="67.6" opacity=".06"/><ellipse class="k" cx="384.1" cy="1006.1" rx="9.7" ry="72.6" opacity=".05"/><ellipse class="k" cx="393.9" cy="1000" rx="11.2" ry="58.9" opacity=".06"/><ellipse class="k" cx="405.1" cy="1013" rx="9.5" ry="46.3" opacity=".03"/><ellipse class="w" cx="409.7" cy="1005.2" rx="8.1" ry="75.4" opacity=".05"/><ellipse class="w" cx="415.4" cy="1017.3" rx="9.6" ry="60.4" opacity=".07"/><ellipse class="w" cx="421" cy="1000.8" rx="10.3" ry="73.6" opacity=".03"/><ellipse class="k" cx="428.6" cy="1004.6" rx="7.8" ry="46.9" opacity=".11"/><ellipse class="k" cx="439.1" cy="1015.1" rx="11.3" ry="73" opacity=".11"/><ellipse class="k" cx="446.6" cy="1007.1" rx="9.3" ry="54.2" opacity=".03"/><ellipse class="w" cx="454.7" cy="1018" rx="11.4" ry="56.7" opacity=".03"/><ellipse class="k" cx="459.4" cy="1013.8" rx="7.6" ry="46.4" opacity=".03"/><ellipse class="k" cx="466.9" cy="1001.5" rx="9.4" ry="55.5" opacity=".03"/><ellipse class="w" cx="480.4" cy="999.9" rx="8.8" ry="52.4" opacity=".12"/><ellipse class="k" cx="497.5" cy="1007.8" rx="11.4" ry="52.3" opacity=".03"/><ellipse class="k" cx="145.4" cy="1034.6" rx="10.8" ry="42.3" opacity=".02"/><ellipse class="k" cx="154.4" cy="1046.4" rx="10.2" ry="48.7" opacity=".11"/><ellipse class="w" cx="159.8" cy="1027.1" rx="8.4" ry="68.9" opacity=".03"/><ellipse class="k" cx="170.3" cy="1027.2" rx="11.8" ry="46.5" opacity=".08"/><ellipse class="w" cx="174.1" cy="1031.9" rx="8.2" ry="53.6" opacity=".10"/><ellipse class="w" cx="191.4" cy="1045.6" rx="7.5" ry="70.1" opacity=".06"/><ellipse class="w" cx="206.8" cy="1047.4" rx="10.5" ry="70.5" opacity=".04"/><ellipse class="k" cx="212.9" cy="1028.4" rx="7.8" ry="43.6" opacity=".06"/><ellipse class="k" cx="227.8" cy="1049.4" rx="11.7" ry="65.4" opacity=".13"/><ellipse class="w" cx="235.9" cy="1027.3" rx="8.5" ry="60.1" opacity=".14"/><ellipse class="k" cx="243.2" cy="1045.1" rx="7.9" ry="56.2" opacity=".09"/><ellipse class="w" cx="249.7" cy="1050.4" rx="9.3" ry="48.1" opacity=".14"/><ellipse class="k" cx="258.6" cy="1029.1" rx="9.9" ry="65.2" opacity=".05"/><ellipse class="k" cx="266" cy="1046.4" rx="11.7" ry="70.3" opacity=".05"/><ellipse class="w" cx="271.5" cy="1051.1" rx="11.1" ry="48.7" opacity=".06"/><ellipse class="w" cx="278.2" cy="1042.2" rx="7.9" ry="64.9" opacity=".11"/><ellipse class="w" cx="299.1" cy="1048.1" rx="9.5" ry="66" opacity=".14"/><ellipse class="k" cx="313.1" cy="1049.8" rx="8.6" ry="45" opacity=".06"/><ellipse class="w" cx="319.3" cy="1033.7" rx="10.7" ry="62.1" opacity=".06"/><ellipse class="w" cx="326" cy="1038" rx="11" ry="70.8" opacity=".12"/><ellipse class="k" cx="340.8" cy="1038.4" rx="10.8" ry="44.3" opacity=".02"/><ellipse class="k" cx="350.9" cy="1036.6" rx="9.9" ry="71.4" opacity=".03"/><ellipse class="w" cx="354.8" cy="1049.4" rx="8.9" ry="64.5" opacity=".09"/><ellipse class="k" cx="364.8" cy="1031.6" rx="7.6" ry="63.2" opacity=".03"/><ellipse class="w" cx="375.8" cy="1045.9" rx="9.9" ry="65.8" opacity=".14"/><ellipse class="k" cx="383.9" cy="1033.2" rx="10.6" ry="60.1" opacity=".10"/><ellipse class="w" cx="390" cy="1048.6" rx="11.1" ry="64.9" opacity=".03"/><ellipse class="w" cx="396.3" cy="1030.1" rx="8.6" ry="58.7" opacity=".08"/><ellipse class="k" cx="404.1" cy="1049.9" rx="11.4" ry="67.2" opacity=".06"/><ellipse class="w" cx="421.5" cy="1037.6" rx="8.6" ry="68.7" opacity=".03"/><ellipse class="w" cx="427.3" cy="1048.7" rx="10.5" ry="50.9" opacity=".16"/><ellipse class="w" cx="440.3" cy="1030.1" rx="9.1" ry="56.9" opacity=".03"/><ellipse class="w" cx="447.4" cy="1048" rx="10.7" ry="54.1" opacity=".07"/><ellipse class="k" cx="454" cy="1047.5" rx="9.5" ry="66" opacity=".06"/><ellipse class="k" cx="458.6" cy="1039" rx="8" ry="47.4" opacity=".02"/><ellipse class="w" cx="463.8" cy="1042.6" rx="8.4" ry="42.7" opacity=".06"/><ellipse class="w" cx="472" cy="1042.4" rx="8.9" ry="55.6" opacity=".03"/><ellipse class="k" cx="480.2" cy="1033.9" rx="9.9" ry="69.5" opacity=".04"/><ellipse class="k" cx="500.6" cy="1036.6" rx="7.3" ry="62.7" opacity=".11"/><ellipse class="k" cx="156.6" cy="1064" rx="18" ry="30.7" opacity=".03"/><ellipse class="k" cx="182.6" cy="1062.1" rx="17.8" ry="53.9" opacity=".04"/><ellipse class="w" cx="188.8" cy="1061" rx="10.6" ry="41.2" opacity=".15"/><ellipse class="w" cx="199.4" cy="1074.5" rx="12.6" ry="48.4" opacity=".10"/><ellipse class="w" cx="206.4" cy="1061.4" rx="16.7" ry="49" opacity=".09"/><ellipse class="k" cx="214.4" cy="1063.8" rx="16.4" ry="34.8" opacity=".03"/><ellipse class="k" cx="235.3" cy="1063.4" rx="11.3" ry="31.4" opacity=".13"/><ellipse class="w" cx="244.9" cy="1059.5" rx="17.7" ry="40.3" opacity=".05"/><ellipse class="k" cx="252" cy="1079.3" rx="16.6" ry="36.7" opacity=".13"/><ellipse class="k" cx="258.1" cy="1064.8" rx="9.2" ry="40.9" opacity=".05"/><ellipse class="w" cx="268.7" cy="1063.8" rx="10.6" ry="53.4" opacity=".08"/><ellipse class="k" cx="276.2" cy="1073.8" rx="12.6" ry="53.9" opacity=".03"/><ellipse class="w" cx="285.3" cy="1077.9" rx="17.3" ry="36.1" opacity=".07"/><ellipse class="w" cx="293.4" cy="1076" rx="16.9" ry="44.4" opacity=".05"/><ellipse class="w" cx="311.9" cy="1065.6" rx="15.9" ry="36.7" opacity=".02"/><ellipse class="w" cx="321.1" cy="1072.8" rx="17.8" ry="50.6" opacity=".10"/><ellipse class="k" cx="326.7" cy="1061.4" rx="17.7" ry="46.7" opacity=".08"/><ellipse class="k" cx="336" cy="1061" rx="11.2" ry="51.1" opacity=".04"/><ellipse class="w" cx="357.2" cy="1056.8" rx="9.7" ry="33.9" opacity=".08"/><ellipse class="k" cx="373.6" cy="1057.9" rx="11.3" ry="48.4" opacity=".07"/><ellipse class="w" cx="380.6" cy="1079.4" rx="11.7" ry="52.8" opacity=".10"/><ellipse class="w" cx="396.3" cy="1058.3" rx="9.8" ry="36.1" opacity=".15"/><ellipse class="w" cx="406.5" cy="1077.3" rx="13.8" ry="32.1" opacity=".07"/><ellipse class="k" cx="414.6" cy="1080.7" rx="13.1" ry="35" opacity=".03"/><ellipse class="w" cx="434.3" cy="1064.1" rx="11.9" ry="30.1" opacity=".19"/><ellipse class="w" cx="444.1" cy="1080.8" rx="12" ry="41.5" opacity=".06"/><ellipse class="w" cx="452.5" cy="1078.9" rx="10.6" ry="51.9" opacity=".05"/><ellipse class="k" cx="460.5" cy="1057.5" rx="15.4" ry="48.6" opacity=".05"/><ellipse class="k" cx="470.7" cy="1061.2" rx="15.1" ry="48.9" opacity=".10"/><ellipse class="w" cx="489.8" cy="1078.5" rx="15.4" ry="32.7" opacity=".03"/><ellipse class="w" cx="500.1" cy="1066.5" rx="12.2" ry="46.9" opacity=".17"/><ellipse class="w" cx="222.3" cy="1143" rx="54.6" ry="16.5" opacity=".06"/><ellipse class="k" cx="263.5" cy="1128" rx="61.9" ry="12.6" opacity=".10"/><ellipse class="k" cx="318" cy="1135.8" rx="61.5" ry="12.2" opacity=".11"/><ellipse class="k" cx="395.1" cy="1115.2" rx="81.2" ry="18.9" opacity=".17"/><ellipse class="k" cx="369.6" cy="1127.6" rx="68.4" ry="19.5" opacity=".01"/><ellipse class="k" cx="231.4" cy="1143" rx="75.1" ry="19.2" opacity=".03"/><ellipse class="w" cx="217.8" cy="1151.9" rx="31" ry="17.4" opacity=".01"/><ellipse class="k" cx="265.4" cy="1108.6" rx="47.8" ry="20.2" opacity=".02"/><ellipse class="k" cx="320.3" cy="1099.5" rx="43.4" ry="13.7" opacity=".02"/><ellipse class="k" cx="163.2" cy="1113.4" rx="34.9" ry="16.6" opacity=".04"/><ellipse class="k" cx="295.1" cy="1149.4" rx="68.2" ry="14.3" opacity=".03"/><ellipse class="w" cx="224.1" cy="1117.3" rx="64.8" ry="20.4" opacity=".16"/><ellipse class="k" cx="292.5" cy="1114" rx="75" ry="14.4" opacity=".07"/><ellipse class="k" cx="280.4" cy="1100.9" rx="45.3" ry="19.1" opacity=".00"/><ellipse class="w" cx="482" cy="1101.2" rx="43.9" ry="19" opacity=".04"/><ellipse class="k" cx="220.6" cy="1127.5" rx="80.8" ry="14.9" opacity=".01"/><ellipse class="w" cx="468.1" cy="1110.1" rx="64.6" ry="14.2" opacity=".00"/><ellipse class="w" cx="238.8" cy="1142.6" rx="58.1" ry="20.2" opacity=".10"/><ellipse class="k" cx="416.9" cy="1128.4" rx="82.4" ry="19.5" opacity=".04"/><ellipse class="w" cx="373.3" cy="1124.9" rx="53.2" ry="17.6" opacity=".04"/><ellipse class="w" cx="235.3" cy="1126.4" rx="48.3" ry="14.4" opacity=".07"/><ellipse class="k" cx="339.4" cy="1152.6" rx="66.7" ry="14.9" opacity=".11"/><ellipse class="k" cx="243" cy="1143" rx="66.5" ry="16.9" opacity=".08"/><ellipse class="w" cx="422.4" cy="1146.1" rx="49.8" ry="14.2" opacity=".04"/><ellipse class="w" cx="247.5" cy="1149.4" rx="47.2" ry="16.8" opacity=".18"/><ellipse class="w" cx="478.7" cy="1138.5" rx="79.4" ry="15.1" opacity=".03"/><ellipse class="w" cx="202" cy="1108.6" rx="39.6" ry="20.8" opacity=".13"/><ellipse class="w" cx="447.4" cy="1150.5" rx="43.5" ry="13.9" opacity=".13"/><ellipse class="w" cx="214" cy="1125.3" rx="61.4" ry="19.1" opacity=".06"/><ellipse class="k" cx="265.2" cy="1133.1" rx="81" ry="19.5" opacity=".18"/><ellipse class="k" cx="339.5" cy="1149.6" rx="55.5" ry="13.1" opacity=".02"/><ellipse class="k" cx="421.8" cy="1135.5" rx="58.9" ry="13.4" opacity=".18"/><ellipse class="k" cx="294.3" cy="1147.3" rx="33.6" ry="20.2" opacity=".07"/><ellipse class="w" cx="465.9" cy="1146.8" rx="39.2" ry="14.1" opacity=".15"/><ellipse class="w" cx="292" cy="990" rx="18" ry="33" opacity=".21"/><ellipse class="w" cx="301.4" cy="990" rx="18" ry="33" opacity=".21"/><ellipse class="w" cx="310.8" cy="990" rx="18" ry="33" opacity=".21"/><ellipse class="w" cx="320.2" cy="990" rx="18" ry="33" opacity=".21"/><ellipse class="w" cx="329.6" cy="990" rx="18" ry="33" opacity=".21"/><ellipse class="w" cx="339" cy="990" rx="18" ry="33" opacity=".21"/><ellipse class="w" cx="348.4" cy="990" rx="18" ry="33" opacity=".21"/><ellipse class="w" cx="357.8" cy="990" rx="18" ry="33" opacity=".21"/><ellipse class="w" cx="367.2" cy="990" rx="18" ry="33" opacity=".21"/><ellipse class="w" cx="376.6" cy="990" rx="18" ry="33" opacity=".21"/><ellipse class="w" cx="386" cy="990" rx="18" ry="33" opacity=".21"/><ellipse class="w" cx="170" cy="1082" rx="42" ry="18" opacity=".07"/><ellipse class="w" cx="205" cy="1097" rx="45" ry="15" opacity=".07"/><ellipse class="w" cx="238" cy="1109" rx="45" ry="15" opacity=".07"/><ellipse class="w" cx="262" cy="1119" rx="30" ry="15" opacity=".06"/><ellipse class="k" cx="215" cy="1100" rx="42" ry="24" opacity=".10"/><ellipse class="k" cx="222" cy="1151" rx="126" ry="15" opacity=".25"/><ellipse class="w" cx="152" cy="1147" rx="60" ry="18" opacity=".25"/><ellipse class="w" cx="150" cy="1152" rx="30" ry="10.5" opacity=".45"/><ellipse class="k" cx="300" cy="1062" rx="27" ry="66" opacity=".17"/><ellipse class="k" cx="295" cy="1080" rx="30" ry="36" opacity=".28"/><ellipse class="k" cx="366" cy="1112" rx="225" ry="21" opacity=".23"/><ellipse class="k" cx="305.6" cy="1114" rx="36" ry="15" opacity=".23"/><ellipse class="k" cx="395.6" cy="1107" rx="42" ry="18" opacity=".20"/><ellipse class="w" cx="356.7" cy="1070" rx="15" ry="21" opacity=".25"/><ellipse class="w" cx="277.6" cy="1097" rx="15" ry="15" opacity=".23"/><ellipse class="w" cx="332" cy="972" rx="9" ry="36" opacity=".17"/><ellipse class="w" cx="297" cy="993" rx="12" ry="27" opacity=".38"/><ellipse class="w" cx="331.6" cy="987" rx="12" ry="30" opacity=".10"/><ellipse class="w" cx="355" cy="990.4" rx="13.5" ry="30" opacity=".40"/><ellipse class="w" cx="368" cy="990.4" rx="12" ry="27" opacity=".17"/><ellipse class="w" cx="292" cy="1150" rx="27" ry="19.5" opacity=".23"/><ellipse class="w" cx="308" cy="1150" rx="27" ry="21" opacity=".23"/><ellipse class="w" cx="324" cy="1150" rx="27" ry="22.5" opacity=".23"/><ellipse class="w" cx="340" cy="1150" rx="27" ry="24" opacity=".23"/><ellipse class="w" cx="356" cy="1150" rx="27" ry="25.5" opacity=".23"/><ellipse class="w" cx="372" cy="1150" rx="27" ry="25.5" opacity=".23"/><ellipse class="w" cx="388" cy="1150" rx="27" ry="27" opacity=".23"/><ellipse class="w" cx="404" cy="1150" rx="27" ry="28.5" opacity=".23"/><ellipse class="w" cx="420" cy="1150" rx="27" ry="28.5" opacity=".23"/><ellipse class="w" cx="436" cy="1150" rx="27" ry="27" opacity=".23"/><ellipse class="w" cx="452" cy="1150" rx="27" ry="24" opacity=".23"/><ellipse class="w" cx="468" cy="1150" rx="27" ry="21" opacity=".23"/><ellipse class="w" cx="482" cy="1150" rx="27" ry="18" opacity=".23"/><ellipse class="w" cx="292" cy="1153" rx="27" ry="10.5" opacity=".35"/><ellipse class="w" cx="308" cy="1153" rx="27" ry="12" opacity=".45"/><ellipse class="w" cx="324" cy="1153" rx="27" ry="13.5" opacity=".50"/><ellipse class="w" cx="340" cy="1153" rx="27" ry="15" opacity=".55"/><ellipse class="w" cx="356" cy="1153" rx="27" ry="16.5" opacity=".57"/><ellipse class="w" cx="372" cy="1153" rx="27" ry="16.5" opacity=".57"/><ellipse class="w" cx="388" cy="1153" rx="27" ry="18" opacity=".60"/><ellipse class="w" cx="404" cy="1153" rx="27" ry="19.5" opacity=".60"/><ellipse class="w" cx="420" cy="1153" rx="27" ry="19.5" opacity=".60"/><ellipse class="w" cx="436" cy="1153" rx="27" ry="18" opacity=".57"/><ellipse class="w" cx="452" cy="1153" rx="27" ry="15" opacity=".50"/><ellipse class="w" cx="468" cy="1153" rx="27" ry="12" opacity=".40"/><ellipse class="w" cx="482" cy="1153" rx="27" ry="9" opacity=".25"/><ellipse class="w" cx="340" cy="1153" rx="36" ry="9" opacity=".40"/><ellipse class="w" cx="365" cy="1153" rx="36" ry="10.5" opacity=".50"/><ellipse class="w" cx="390" cy="1153" rx="36" ry="12" opacity=".65"/><ellipse class="w" cx="415" cy="1153" rx="36" ry="12" opacity=".70"/><ellipse class="w" cx="440" cy="1153" rx="30" ry="10.5" opacity=".50"/></g></g>
<path d="M145.0 906.1H499.5" stroke="#b8c8b8" stroke-width="1.2" opacity=".7" fill="none"/>
<path d="M145.4 883.7C145.9 884.1 147.2 883.1 148.5 886.2C149.9 889.2 152.2 899.6 153.4 902.0C154.6 904.4 154.8 902.4 155.8 900.8C156.8 899.2 158.3 893.9 159.5 892.3C160.7 890.6 161.9 891.0 163.1 891.0C164.3 891.0 165.6 892.5 166.8 892.3C168.0 892.1 169.2 889.8 170.4 889.8C171.7 889.8 172.7 892.5 174.1 892.3C175.5 892.1 177.1 889.2 179.0 888.6C180.8 888.0 183.2 888.4 185.0 888.6C186.9 888.8 187.3 890.0 189.9 889.8C192.6 889.6 197.8 888.1 200.9 887.4C203.9 886.7 205.9 886.7 208.2 885.4C210.4 884.2 212.6 880.6 214.3 880.1C215.9 879.6 216.5 880.3 217.9 882.5C219.3 884.8 221.2 891.7 222.8 893.5C224.4 895.3 225.8 894.3 227.7 893.5C229.5 892.7 231.9 889.4 233.7 888.6C235.6 887.8 237.0 887.4 238.6 888.6C240.2 889.8 241.9 895.7 243.5 895.9C245.1 896.1 246.5 892.3 248.4 889.8C250.2 887.4 252.6 882.9 254.4 881.3C256.3 879.7 257.9 879.5 259.3 880.1C260.7 880.7 261.7 882.9 263.0 885.0C264.2 887.0 265.2 890.4 266.6 892.3C268.0 894.1 269.9 896.7 271.5 895.9C273.1 895.1 274.9 888.2 276.4 887.4C277.8 886.6 278.8 890.6 280.0 891.0C281.2 891.5 282.4 890.6 283.7 889.8C284.9 889.0 286.1 889.0 287.3 886.2C288.5 883.3 289.5 877.5 291.0 872.8C292.4 868.1 294.4 860.2 295.8 858.2C297.3 856.1 298.1 858.2 299.5 860.6C300.9 863.0 302.9 871.4 304.4 872.8C305.8 874.2 306.6 868.7 308.0 869.1C309.4 869.5 311.0 874.8 312.9 875.2C314.7 875.6 317.3 872.0 319.0 871.6C320.6 871.2 321.2 873.6 322.6 872.8C324.0 872.0 325.7 868.3 327.5 866.7C329.3 865.1 331.9 862.4 333.6 863.0C335.2 863.7 336.0 867.1 337.2 870.4C338.4 873.6 339.7 881.7 340.9 882.5C342.1 883.3 343.1 878.9 344.5 875.2C345.9 871.6 347.8 864.2 349.4 860.6C351.0 857.0 352.8 854.4 354.3 853.8C355.7 853.2 356.7 854.6 357.9 857.0C359.1 859.3 359.9 866.3 361.6 867.9C363.2 869.5 365.6 865.7 367.7 866.7C369.7 867.7 371.7 873.2 373.7 874.0C375.8 874.8 378.2 871.6 379.8 871.6C381.5 871.6 381.9 871.6 383.5 874.0C385.1 876.4 387.5 882.7 389.6 886.2C391.6 889.6 393.8 894.5 395.7 894.7C397.5 894.9 398.9 888.4 400.5 887.4C402.2 886.4 404.0 888.8 405.4 888.6C406.8 888.4 407.8 885.4 409.1 886.2C410.3 887.0 411.1 892.9 412.7 893.5C414.3 894.1 416.8 890.4 418.8 889.8C420.8 889.2 422.6 890.8 424.9 889.8C427.1 888.8 430.4 884.4 432.2 883.7C434.0 883.1 434.2 884.0 435.8 886.2C437.5 888.3 439.7 896.0 441.9 896.6C444.2 897.3 446.8 890.8 449.2 889.8C451.7 888.9 454.5 890.6 456.5 891.0C458.6 891.5 459.8 892.9 461.4 892.3C463.0 891.7 465.1 887.8 466.3 887.4C467.5 887.0 467.7 890.4 468.7 889.8C469.7 889.2 470.9 882.5 472.4 883.7C473.8 885.0 475.8 895.5 477.2 897.1C478.6 898.8 479.5 894.3 480.9 893.5C482.3 892.7 484.1 893.3 485.8 892.3C487.4 891.2 488.6 888.3 490.6 887.4C492.6 886.5 496.7 887.0 497.9 886.9" stroke="#722a3e" stroke-width="2.4" fill="none" stroke-linejoin="round" stroke-linecap="round"/>
<path d="M269.5 798.4V1152.4" stroke="#333" stroke-width="1.3" stroke-dasharray="2 2" fill="none"/>
<rect x="536.8" y="797.4" width="354.8" height="108.4" fill="#fff"/>
<path d="M548.8 797.4V905.8M560.3 797.4V905.8M571.7 797.4V905.8M583.2 797.4V905.8M594.6 797.4V905.8M606.1 797.4V905.8M617.5 797.4V905.8M629.0 797.4V905.8M640.4 797.4V905.8M651.9 797.4V905.8M663.3 797.4V905.8M674.7 797.4V905.8M686.2 797.4V905.8M697.6 797.4V905.8M709.1 797.4V905.8M720.5 797.4V905.8M732.0 797.4V905.8M743.4 797.4V905.8M754.9 797.4V905.8M766.3 797.4V905.8M777.8 797.4V905.8M789.2 797.4V905.8M800.6 797.4V905.8M812.1 797.4V905.8M823.5 797.4V905.8M835.0 797.4V905.8M846.4 797.4V905.8M857.9 797.4V905.8M869.3 797.4V905.8M880.8 797.4V905.8" stroke="#f7f7f7" stroke-width="1" fill="none"/>
<path d="M548.8 797.4V905.8M606.1 797.4V905.8M720.5 797.4V905.8M777.8 797.4V905.8M835.0 797.4V905.8" stroke="#ebebeb" stroke-width="1.1" fill="none"/>
<path d="M536.8 889.0H891.6" stroke="#ebebeb" stroke-width="1.2" fill="none"/>
<rect x="536.8" y="797.4" width="354.8" height="108.4" fill="none" stroke="#ababab" stroke-width="1.4"/>
<path d="M536.8 853.3h4M891.6 853.3h-4M536.8 817.6h4M891.6 817.6h-4" stroke="#d0d0d0" stroke-width="1.2" fill="none"/>
<g clip-path="url(#hc1)"><g filter="url(#jet)"><rect x="534.8" y="903.8" width="358.8" height="250.6" fill="#808080"/><ellipse class="k" cx="536.3" cy="903.1" rx="7" ry="61.1" opacity=".02"/><ellipse class="w" cx="542.2" cy="905.4" rx="8.6" ry="84.4" opacity=".14"/><ellipse class="k" cx="563.6" cy="905.3" rx="9" ry="54.1" opacity=".03"/><ellipse class="w" cx="570" cy="906" rx="6.7" ry="71.6" opacity=".05"/><ellipse class="k" cx="573.5" cy="911.7" rx="8.2" ry="70.2" opacity=".12"/><ellipse class="w" cx="578.8" cy="905.4" rx="9.5" ry="54.6" opacity=".11"/><ellipse class="w" cx="592.4" cy="911.9" rx="6.6" ry="74.6" opacity=".07"/><ellipse class="w" cx="599.6" cy="919.8" rx="10.2" ry="72.9" opacity=".02"/><ellipse class="k" cx="607.9" cy="918.9" rx="8.1" ry="71.4" opacity=".03"/><ellipse class="k" cx="616" cy="912.1" rx="8.5" ry="79.2" opacity=".08"/><ellipse class="w" cx="622.7" cy="920.4" rx="8.7" ry="50.2" opacity=".03"/><ellipse class="w" cx="629.8" cy="914.8" rx="7.7" ry="83.5" opacity=".07"/><ellipse class="k" cx="633.5" cy="913.7" rx="7.7" ry="57.2" opacity=".05"/><ellipse class="w" cx="641.7" cy="902.8" rx="9.9" ry="86.7" opacity=".09"/><ellipse class="w" cx="649.8" cy="907.9" rx="7.1" ry="79.3" opacity=".03"/><ellipse class="k" cx="654.5" cy="915.5" rx="10.1" ry="51.7" opacity=".10"/><ellipse class="k" cx="663.1" cy="919.8" rx="9.2" ry="66.5" opacity=".09"/><ellipse class="k" cx="671.6" cy="918.8" rx="6.7" ry="67.1" opacity=".05"/><ellipse class="k" cx="677.6" cy="908.2" rx="10.7" ry="89.3" opacity=".08"/><ellipse class="k" cx="683.5" cy="902.8" rx="10.5" ry="51.3" opacity=".04"/><ellipse class="w" cx="690" cy="915.4" rx="7.5" ry="71.9" opacity=".19"/><ellipse class="w" cx="697.3" cy="915.7" rx="10.3" ry="73.4" opacity=".06"/><ellipse class="w" cx="710.7" cy="917.8" rx="10.2" ry="83.7" opacity=".06"/><ellipse class="k" cx="719.5" cy="921.8" rx="7" ry="74" opacity=".06"/><ellipse class="w" cx="726.9" cy="905.6" rx="8.6" ry="89.5" opacity=".04"/><ellipse class="k" cx="733.5" cy="899" rx="8.9" ry="87.9" opacity=".10"/><ellipse class="w" cx="746.2" cy="903.8" rx="7.1" ry="83.4" opacity=".08"/><ellipse class="k" cx="758.2" cy="900.6" rx="10.6" ry="62.7" opacity=".06"/><ellipse class="w" cx="765.7" cy="903" rx="10.6" ry="67.7" opacity=".16"/><ellipse class="w" cx="772.1" cy="918.1" rx="6.8" ry="77" opacity=".05"/><ellipse class="k" cx="776.8" cy="899.6" rx="10.1" ry="55.5" opacity=".16"/><ellipse class="k" cx="784.1" cy="903.2" rx="8.7" ry="67.9" opacity=".08"/><ellipse class="k" cx="790" cy="905.4" rx="8.5" ry="69.2" opacity=".06"/><ellipse class="w" cx="797.2" cy="914.5" rx="9.9" ry="89.9" opacity=".08"/><ellipse class="w" cx="804" cy="904.5" rx="8.3" ry="88.9" opacity=".05"/><ellipse class="k" cx="814.5" cy="915" rx="7.5" ry="89.9" opacity=".04"/><ellipse class="w" cx="824.3" cy="922.8" rx="7.5" ry="82.7" opacity=".09"/><ellipse class="w" cx="828.5" cy="909.6" rx="9.8" ry="61.3" opacity=".05"/><ellipse class="k" cx="838.6" cy="902" rx="7.2" ry="83.5" opacity=".05"/><ellipse class="w" cx="849.1" cy="907.1" rx="8.1" ry="81.8" opacity=".03"/><ellipse class="k" cx="863.3" cy="912.5" rx="8.6" ry="88" opacity=".04"/><ellipse class="k" cx="867.8" cy="902.2" rx="10.2" ry="80.3" opacity=".05"/><ellipse class="w" cx="875.7" cy="914.5" rx="6.7" ry="57.4" opacity=".19"/><ellipse class="k" cx="889.7" cy="921" rx="9.1" ry="63.8" opacity=".03"/><ellipse class="k" cx="536" cy="937.4" rx="10.3" ry="59.6" opacity=".04"/><ellipse class="k" cx="544.1" cy="948.6" rx="9.6" ry="51.1" opacity=".02"/><ellipse class="k" cx="551.1" cy="943.8" rx="9.4" ry="67.2" opacity=".16"/><ellipse class="w" cx="557.1" cy="931" rx="8" ry="84.5" opacity=".12"/><ellipse class="w" cx="563.1" cy="933.9" rx="8.9" ry="60.6" opacity=".08"/><ellipse class="k" cx="571.9" cy="944.3" rx="9" ry="82.2" opacity=".06"/><ellipse class="w" cx="579.4" cy="947.7" rx="8.7" ry="83.7" opacity=".13"/><ellipse class="w" cx="586.7" cy="953.1" rx="10.8" ry="78.5" opacity=".09"/><ellipse class="w" cx="591.4" cy="940.6" rx="10.1" ry="81.4" opacity=".05"/><ellipse class="k" cx="598.2" cy="932" rx="7.2" ry="48.3" opacity=".07"/><ellipse class="w" cx="626.1" cy="950.4" rx="9.4" ry="59.4" opacity=".06"/><ellipse class="w" cx="634.6" cy="951.9" rx="8.5" ry="71.8" opacity=".08"/><ellipse class="k" cx="641.2" cy="952.8" rx="7.4" ry="54.6" opacity=".06"/><ellipse class="k" cx="647" cy="937.7" rx="7.4" ry="73" opacity=".07"/><ellipse class="w" cx="653.6" cy="946.4" rx="8.9" ry="71.2" opacity=".19"/><ellipse class="k" cx="658.2" cy="941.7" rx="7.7" ry="54.7" opacity=".10"/><ellipse class="k" cx="668" cy="941.5" rx="10.6" ry="65" opacity=".05"/><ellipse class="w" cx="674" cy="949.5" rx="9.3" ry="74.1" opacity=".08"/><ellipse class="k" cx="678.8" cy="938.5" rx="9.9" ry="86.7" opacity=".11"/><ellipse class="k" cx="683.9" cy="933.2" rx="8" ry="68.6" opacity=".06"/><ellipse class="k" cx="691.1" cy="947.6" rx="8.7" ry="78.6" opacity=".09"/><ellipse class="w" cx="696" cy="935.5" rx="10.7" ry="69.2" opacity=".07"/><ellipse class="k" cx="703.1" cy="940.6" rx="9.3" ry="82.6" opacity=".11"/><ellipse class="k" cx="709.2" cy="941.2" rx="6.7" ry="61.6" opacity=".14"/><ellipse class="w" cx="716.1" cy="947.3" rx="8.2" ry="69.9" opacity=".03"/><ellipse class="k" cx="724.2" cy="936.5" rx="7" ry="50" opacity=".04"/><ellipse class="k" cx="729.6" cy="936.4" rx="6.6" ry="52.1" opacity=".03"/><ellipse class="w" cx="739.3" cy="937.2" rx="7.5" ry="74.4" opacity=".03"/><ellipse class="w" cx="743.6" cy="953.3" rx="9" ry="74.6" opacity=".02"/><ellipse class="w" cx="749.4" cy="935.3" rx="9.4" ry="61.6" opacity=".03"/><ellipse class="k" cx="756.3" cy="943.9" rx="8.1" ry="90" opacity=".11"/><ellipse class="k" cx="772" cy="935.5" rx="8.3" ry="85.9" opacity=".02"/><ellipse class="w" cx="783.6" cy="950.3" rx="9.2" ry="74.9" opacity=".02"/><ellipse class="w" cx="789.8" cy="953.4" rx="7.5" ry="59.2" opacity=".05"/><ellipse class="k" cx="797.8" cy="937.4" rx="8.6" ry="89.9" opacity=".04"/><ellipse class="k" cx="802.5" cy="943.9" rx="7.9" ry="57.5" opacity=".06"/><ellipse class="w" cx="816" cy="947.6" rx="7.7" ry="86.7" opacity=".09"/><ellipse class="w" cx="820.9" cy="947.7" rx="7.9" ry="79.8" opacity=".06"/><ellipse class="w" cx="829.2" cy="935.4" rx="7.3" ry="49.6" opacity=".13"/><ellipse class="k" cx="834.7" cy="947.2" rx="8.6" ry="62" opacity=".02"/><ellipse class="k" cx="847.7" cy="939" rx="10.5" ry="78.2" opacity=".08"/><ellipse class="w" cx="853.7" cy="948.6" rx="8.8" ry="67.3" opacity=".10"/><ellipse class="k" cx="859.4" cy="935.7" rx="10.1" ry="54.1" opacity=".08"/><ellipse class="w" cx="881.4" cy="952.6" rx="8.9" ry="52.7" opacity=".06"/><ellipse class="w" cx="888.3" cy="934.8" rx="8.3" ry="49.4" opacity=".05"/><ellipse class="k" cx="892.5" cy="943.1" rx="8.4" ry="49" opacity=".03"/><ellipse class="k" cx="539.2" cy="984.7" rx="11.1" ry="80" opacity=".16"/><ellipse class="w" cx="543" cy="969" rx="10.7" ry="61.7" opacity=".07"/><ellipse class="w" cx="551.4" cy="967.2" rx="6.8" ry="66.5" opacity=".19"/><ellipse class="w" cx="556.3" cy="980.9" rx="7.6" ry="51.9" opacity=".05"/><ellipse class="w" cx="563.2" cy="986.5" rx="9.5" ry="70.7" opacity=".09"/><ellipse class="k" cx="567.8" cy="965.8" rx="8.4" ry="51.6" opacity=".06"/><ellipse class="w" cx="580.4" cy="971.3" rx="9.9" ry="64" opacity=".06"/><ellipse class="w" cx="588.4" cy="969.3" rx="7.9" ry="65.4" opacity=".09"/><ellipse class="k" cx="595.6" cy="965.5" rx="9.2" ry="52.4" opacity=".08"/><ellipse class="k" cx="602.5" cy="978.2" rx="10.6" ry="66.3" opacity=".03"/><ellipse class="w" cx="609.6" cy="971.3" rx="10.8" ry="59.6" opacity=".05"/><ellipse class="k" cx="617.6" cy="964.6" rx="9.5" ry="75.7" opacity=".09"/><ellipse class="k" cx="631.4" cy="985" rx="7.9" ry="75.7" opacity=".04"/><ellipse class="k" cx="639.7" cy="983.5" rx="11" ry="73.2" opacity=".04"/><ellipse class="w" cx="652.1" cy="968.7" rx="10.6" ry="56.4" opacity=".04"/><ellipse class="k" cx="659.7" cy="970.1" rx="10.1" ry="52.7" opacity=".07"/><ellipse class="w" cx="666.4" cy="967.7" rx="9.8" ry="62.2" opacity=".03"/><ellipse class="w" cx="672.1" cy="978.6" rx="8.2" ry="66.6" opacity=".03"/><ellipse class="w" cx="685.9" cy="982" rx="9.5" ry="79.1" opacity=".13"/><ellipse class="k" cx="692.5" cy="986.9" rx="7" ry="53" opacity=".06"/><ellipse class="w" cx="706.9" cy="973.6" rx="7.9" ry="50.9" opacity=".13"/><ellipse class="k" cx="721.5" cy="970.8" rx="9.8" ry="68.3" opacity=".05"/><ellipse class="w" cx="732.7" cy="969.7" rx="9.7" ry="69.4" opacity=".06"/><ellipse class="w" cx="742.8" cy="968" rx="9.3" ry="52.2" opacity=".03"/><ellipse class="k" cx="760.3" cy="982.2" rx="7.2" ry="70" opacity=".07"/><ellipse class="k" cx="768.8" cy="986.6" rx="7.3" ry="64.7" opacity=".05"/><ellipse class="k" cx="777.1" cy="983.5" rx="9.9" ry="57.9" opacity=".16"/><ellipse class="w" cx="783.6" cy="966.5" rx="11.2" ry="72.6" opacity=".06"/><ellipse class="w" cx="791.7" cy="968.6" rx="6.7" ry="56.8" opacity=".02"/><ellipse class="w" cx="795.8" cy="967.7" rx="7.1" ry="82.4" opacity=".03"/><ellipse class="k" cx="808.8" cy="968.9" rx="11.3" ry="57.8" opacity=".06"/><ellipse class="k" cx="821.6" cy="973.9" rx="6.9" ry="65.8" opacity=".07"/><ellipse class="k" cx="827.7" cy="974.6" rx="7.8" ry="68.1" opacity=".07"/><ellipse class="k" cx="833.7" cy="965.5" rx="9.2" ry="68.8" opacity=".10"/><ellipse class="w" cx="841.3" cy="969.7" rx="8" ry="73.3" opacity=".08"/><ellipse class="w" cx="847.1" cy="972.5" rx="9.1" ry="81.4" opacity=".11"/><ellipse class="w" cx="874.2" cy="965.5" rx="10.4" ry="74.6" opacity=".04"/><ellipse class="w" cx="880" cy="968.4" rx="8.7" ry="78.5" opacity=".12"/><ellipse class="k" cx="892.7" cy="964.5" rx="7.7" ry="61.2" opacity=".07"/><ellipse class="w" cx="543.4" cy="1004.2" rx="7.9" ry="70.8" opacity=".05"/><ellipse class="w" cx="550.7" cy="1013.8" rx="8.3" ry="61.5" opacity=".03"/><ellipse class="w" cx="556.8" cy="1014.7" rx="11.3" ry="45.9" opacity=".03"/><ellipse class="w" cx="561.9" cy="999.3" rx="8.6" ry="67.8" opacity=".14"/><ellipse class="w" cx="571.4" cy="997.8" rx="7.5" ry="70.9" opacity=".05"/><ellipse class="k" cx="578.5" cy="996.6" rx="8.6" ry="70.6" opacity=".03"/><ellipse class="k" cx="584.7" cy="1007.4" rx="8" ry="49.8" opacity=".08"/><ellipse class="w" cx="592.8" cy="1011.6" rx="7.6" ry="48.7" opacity=".12"/><ellipse class="w" cx="600.2" cy="999.1" rx="10.7" ry="69.7" opacity=".08"/><ellipse class="w" cx="605.8" cy="1017.1" rx="8.9" ry="45" opacity=".06"/><ellipse class="k" cx="627.1" cy="1004.6" rx="7.8" ry="75" opacity=".11"/><ellipse class="w" cx="632" cy="1011.2" rx="10.7" ry="69.3" opacity=".05"/><ellipse class="k" cx="636.1" cy="1000.9" rx="10.5" ry="66.2" opacity=".07"/><ellipse class="w" cx="658.1" cy="995.8" rx="10.6" ry="65.4" opacity=".10"/><ellipse class="k" cx="665.3" cy="1014.6" rx="7.5" ry="77.2" opacity=".03"/><ellipse class="k" cx="677.7" cy="1017.1" rx="8.2" ry="71.9" opacity=".05"/><ellipse class="k" cx="684.7" cy="1000.2" rx="8" ry="77.2" opacity=".11"/><ellipse class="w" cx="689.9" cy="1012" rx="8" ry="66.9" opacity=".08"/><ellipse class="w" cx="695.7" cy="1007.2" rx="10.6" ry="58.9" opacity=".02"/><ellipse class="k" cx="704.4" cy="1017.7" rx="9.6" ry="51.3" opacity=".12"/><ellipse class="w" cx="711" cy="996.1" rx="8.1" ry="73.5" opacity=".03"/><ellipse class="w" cx="722.7" cy="1007.6" rx="8.4" ry="51.8" opacity=".03"/><ellipse class="k" cx="737.5" cy="1003.2" rx="8.5" ry="76.4" opacity=".09"/><ellipse class="w" cx="744.8" cy="1015.8" rx="8.1" ry="57.1" opacity=".14"/><ellipse class="k" cx="751.3" cy="1000.8" rx="10.8" ry="64.3" opacity=".15"/><ellipse class="k" cx="758.4" cy="1005.2" rx="9.4" ry="71.1" opacity=".03"/><ellipse class="k" cx="767.1" cy="1018.9" rx="7.9" ry="54.5" opacity=".03"/><ellipse class="w" cx="772.6" cy="1011.6" rx="10" ry="66.2" opacity=".05"/><ellipse class="w" cx="778.7" cy="1013.1" rx="7.4" ry="65.4" opacity=".10"/><ellipse class="w" cx="785.2" cy="1009.8" rx="7.9" ry="61.2" opacity=".05"/><ellipse class="w" cx="797.6" cy="1017.9" rx="7.9" ry="74.2" opacity=".05"/><ellipse class="w" cx="804.2" cy="999.3" rx="7.9" ry="72.2" opacity=".14"/><ellipse class="w" cx="821.6" cy="996.7" rx="9.6" ry="71.9" opacity=".11"/><ellipse class="k" cx="840.6" cy="1001.6" rx="8.5" ry="75.3" opacity=".08"/><ellipse class="k" cx="846.2" cy="1007.6" rx="7.1" ry="62.3" opacity=".11"/><ellipse class="k" cx="851.1" cy="1003.4" rx="8.4" ry="68.7" opacity=".14"/><ellipse class="k" cx="870.8" cy="998.6" rx="8.3" ry="68.5" opacity=".06"/><ellipse class="k" cx="878.7" cy="1012.8" rx="10.6" ry="76.5" opacity=".03"/><ellipse class="k" cx="885.5" cy="1002.7" rx="10.2" ry="49.7" opacity=".04"/><ellipse class="w" cx="895.4" cy="1015.5" rx="7.5" ry="70.1" opacity=".03"/><ellipse class="k" cx="542.4" cy="1042.6" rx="10.8" ry="70.7" opacity=".06"/><ellipse class="w" cx="552.1" cy="1049" rx="8.5" ry="52.4" opacity=".03"/><ellipse class="k" cx="559.7" cy="1039.5" rx="8.5" ry="54.7" opacity=".07"/><ellipse class="k" cx="565.1" cy="1038.5" rx="8" ry="68.6" opacity=".05"/><ellipse class="w" cx="569.7" cy="1047.1" rx="9.5" ry="44.9" opacity=".12"/><ellipse class="k" cx="576.3" cy="1043.9" rx="10.3" ry="56.4" opacity=".08"/><ellipse class="w" cx="583.7" cy="1049.8" rx="9.2" ry="46.2" opacity=".08"/><ellipse class="w" cx="592.7" cy="1048.9" rx="11.9" ry="43.1" opacity=".05"/><ellipse class="w" cx="599.8" cy="1032.5" rx="11.5" ry="60.6" opacity=".12"/><ellipse class="k" cx="608.7" cy="1030.3" rx="9.3" ry="55" opacity=".03"/><ellipse class="w" cx="619.5" cy="1035.6" rx="10.5" ry="71.5" opacity=".09"/><ellipse class="w" cx="625.8" cy="1028.9" rx="11.8" ry="67" opacity=".06"/><ellipse class="k" cx="641.7" cy="1039.3" rx="8.9" ry="47.2" opacity=".12"/><ellipse class="k" cx="647.2" cy="1047.6" rx="9" ry="44.4" opacity=".12"/><ellipse class="w" cx="655.7" cy="1050" rx="10.5" ry="56.3" opacity=".07"/><ellipse class="w" cx="661.7" cy="1045" rx="9.2" ry="61.7" opacity=".14"/><ellipse class="w" cx="668" cy="1026.9" rx="10.4" ry="62.9" opacity=".07"/><ellipse class="w" cx="677" cy="1038.3" rx="7.3" ry="64.6" opacity=".03"/><ellipse class="w" cx="684.5" cy="1034.9" rx="8.1" ry="66.1" opacity=".08"/><ellipse class="k" cx="691.9" cy="1031.8" rx="7.9" ry="51" opacity=".09"/><ellipse class="k" cx="697.6" cy="1040" rx="9.1" ry="64.3" opacity=".04"/><ellipse class="w" cx="704.5" cy="1036.1" rx="9.8" ry="50.2" opacity=".09"/><ellipse class="w" cx="713.5" cy="1038.5" rx="10.4" ry="42" opacity=".11"/><ellipse class="w" cx="717.8" cy="1045.4" rx="11.9" ry="47.6" opacity=".16"/><ellipse class="w" cx="731.9" cy="1033.7" rx="9.9" ry="62.6" opacity=".04"/><ellipse class="w" cx="738.7" cy="1045" rx="7.9" ry="63.6" opacity=".03"/><ellipse class="w" cx="744.3" cy="1028" rx="7.8" ry="47.8" opacity=".05"/><ellipse class="k" cx="750.2" cy="1041.3" rx="11.1" ry="59.7" opacity=".08"/><ellipse class="w" cx="758.6" cy="1049.4" rx="11.3" ry="68.1" opacity=".03"/><ellipse class="w" cx="764.8" cy="1037.9" rx="11.7" ry="46.2" opacity=".13"/><ellipse class="k" cx="774.2" cy="1036.2" rx="11.3" ry="66.6" opacity=".05"/><ellipse class="w" cx="781.1" cy="1041.7" rx="8.6" ry="58" opacity=".19"/><ellipse class="k" cx="786.3" cy="1030.4" rx="10.4" ry="44.5" opacity=".02"/><ellipse class="k" cx="794.3" cy="1034.2" rx="8.2" ry="67.9" opacity=".11"/><ellipse class="w" cx="799.5" cy="1036.2" rx="7.5" ry="50.8" opacity=".03"/><ellipse class="k" cx="806" cy="1030.8" rx="8.1" ry="52.6" opacity=".16"/><ellipse class="w" cx="813.4" cy="1049.3" rx="9" ry="47.6" opacity=".13"/><ellipse class="k" cx="830.3" cy="1033.4" rx="10.6" ry="69.2" opacity=".02"/><ellipse class="k" cx="836.5" cy="1028.3" rx="9.8" ry="44.4" opacity=".11"/><ellipse class="w" cx="859.7" cy="1049.2" rx="9.6" ry="64.3" opacity=".03"/><ellipse class="w" cx="892.5" cy="1047.9" rx="11" ry="61.9" opacity=".03"/><ellipse class="k" cx="542.5" cy="1080.6" rx="12.7" ry="50.4" opacity=".06"/><ellipse class="w" cx="553.4" cy="1060.5" rx="16" ry="32.4" opacity=".07"/><ellipse class="w" cx="560.7" cy="1058.1" rx="10.6" ry="32.8" opacity=".07"/><ellipse class="w" cx="580.2" cy="1069.5" rx="12.3" ry="30.4" opacity=".06"/><ellipse class="k" cx="609.8" cy="1076.2" rx="13.7" ry="32.6" opacity=".05"/><ellipse class="k" cx="620" cy="1064" rx="17.4" ry="43.3" opacity=".03"/><ellipse class="k" cx="629.3" cy="1071.5" rx="16.6" ry="36.9" opacity=".14"/><ellipse class="k" cx="635.2" cy="1065.3" rx="13.5" ry="48" opacity=".09"/><ellipse class="k" cx="645.5" cy="1067.7" rx="10.3" ry="49.8" opacity=".07"/><ellipse class="w" cx="654.1" cy="1074.7" rx="11.9" ry="51.3" opacity=".03"/><ellipse class="w" cx="664.7" cy="1068.9" rx="13" ry="44.6" opacity=".05"/><ellipse class="k" cx="672.6" cy="1074.9" rx="14.8" ry="52.2" opacity=".04"/><ellipse class="w" cx="688.4" cy="1080.8" rx="15.5" ry="39.7" opacity=".19"/><ellipse class="k" cx="695.2" cy="1078.4" rx="17.3" ry="43.7" opacity=".07"/><ellipse class="k" cx="708.4" cy="1060.2" rx="14.1" ry="44" opacity=".06"/><ellipse class="w" cx="713.4" cy="1076.9" rx="10.7" ry="46.6" opacity=".05"/><ellipse class="k" cx="721.2" cy="1060.4" rx="11.8" ry="51.4" opacity=".06"/><ellipse class="w" cx="731.8" cy="1069.1" rx="11.9" ry="36.1" opacity=".07"/><ellipse class="w" cx="741.7" cy="1063.5" rx="14.3" ry="33" opacity=".12"/><ellipse class="k" cx="769.9" cy="1062.3" rx="15.5" ry="35.4" opacity=".07"/><ellipse class="w" cx="776.5" cy="1069.9" rx="17.3" ry="49.2" opacity=".12"/><ellipse class="w" cx="787.7" cy="1072.9" rx="17.3" ry="41.2" opacity=".06"/><ellipse class="w" cx="797.2" cy="1058.5" rx="14.1" ry="42.9" opacity=".04"/><ellipse class="w" cx="802.6" cy="1076.6" rx="14.2" ry="35.7" opacity=".08"/><ellipse class="k" cx="814.1" cy="1059.4" rx="13.3" ry="42.4" opacity=".09"/><ellipse class="w" cx="836.3" cy="1075.2" rx="16.7" ry="51.1" opacity=".10"/><ellipse class="w" cx="844.6" cy="1075.3" rx="15.2" ry="48" opacity=".11"/><ellipse class="k" cx="854.4" cy="1072.2" rx="9.1" ry="53.4" opacity=".05"/><ellipse class="w" cx="860.6" cy="1069.8" rx="12.3" ry="52.4" opacity=".07"/><ellipse class="w" cx="869.5" cy="1062.1" rx="17.9" ry="35.1" opacity=".04"/><ellipse class="k" cx="879.9" cy="1060" rx="14.8" ry="34.1" opacity=".02"/><ellipse class="k" cx="888.4" cy="1074.9" rx="11.7" ry="36" opacity=".13"/><ellipse class="k" cx="895.7" cy="1061.9" rx="12.2" ry="49.5" opacity=".09"/><ellipse class="w" cx="792.4" cy="1101.2" rx="54.3" ry="14.2" opacity=".15"/><ellipse class="k" cx="552.3" cy="1133.5" rx="48.9" ry="13.1" opacity=".03"/><ellipse class="k" cx="832" cy="1146.8" rx="57" ry="17.4" opacity=".04"/><ellipse class="k" cx="603.8" cy="1126" rx="72.4" ry="16.6" opacity=".05"/><ellipse class="k" cx="655.3" cy="1129.2" rx="67.3" ry="15.5" opacity=".03"/><ellipse class="w" cx="836.6" cy="1114.2" rx="80.9" ry="16.7" opacity=".01"/><ellipse class="w" cx="658.8" cy="1126.1" rx="30.3" ry="13.6" opacity=".12"/><ellipse class="w" cx="855" cy="1119.9" rx="53.3" ry="20.5" opacity=".18"/><ellipse class="w" cx="583.2" cy="1119.4" rx="37.6" ry="18.3" opacity=".15"/><ellipse class="k" cx="880.5" cy="1118.6" rx="43.5" ry="16.2" opacity=".15"/><ellipse class="k" cx="636.9" cy="1101" rx="47.5" ry="14.6" opacity=".11"/><ellipse class="w" cx="884.1" cy="1099.2" rx="59" ry="21" opacity=".08"/><ellipse class="w" cx="759.8" cy="1105.5" rx="50.5" ry="17.9" opacity=".10"/><ellipse class="w" cx="709.7" cy="1131.3" rx="48.1" ry="15.9" opacity=".03"/><ellipse class="k" cx="545.7" cy="1137.6" rx="69.2" ry="16.9" opacity=".18"/><ellipse class="w" cx="803.2" cy="1109.1" rx="43" ry="12.3" opacity=".14"/><ellipse class="w" cx="700.8" cy="1134.3" rx="32.5" ry="14.1" opacity=".09"/><ellipse class="k" cx="671.9" cy="1120.6" rx="78" ry="17.6" opacity=".01"/><ellipse class="k" cx="718.4" cy="1113.3" rx="77.7" ry="12.3" opacity=".00"/><ellipse class="w" cx="850.5" cy="1145.8" rx="72.8" ry="18.3" opacity=".16"/><ellipse class="w" cx="611.2" cy="1131.1" rx="41.8" ry="19.3" opacity=".09"/><ellipse class="k" cx="760.8" cy="1130.7" rx="40.6" ry="14.3" opacity=".01"/><ellipse class="w" cx="830.6" cy="1117.1" rx="49.8" ry="16.4" opacity=".09"/><ellipse class="k" cx="744.7" cy="1133" rx="42.9" ry="20.5" opacity=".07"/><ellipse class="k" cx="879.1" cy="1106.5" rx="36.6" ry="13" opacity=".05"/><ellipse class="k" cx="565.6" cy="1102.6" rx="64.9" ry="14.4" opacity=".09"/><ellipse class="w" cx="897.5" cy="1126.3" rx="46.5" ry="15.6" opacity=".01"/><ellipse class="w" cx="645.1" cy="1119.4" rx="47.9" ry="12.7" opacity=".18"/><ellipse class="w" cx="600.4" cy="1132.3" rx="45.7" ry="17.8" opacity=".09"/><ellipse class="k" cx="626.8" cy="1146.8" rx="47.3" ry="19" opacity=".10"/><ellipse class="w" cx="838.2" cy="1142.8" rx="79" ry="15.1" opacity=".07"/><ellipse class="k" cx="702.3" cy="1148.2" rx="55.3" ry="16.1" opacity=".13"/><ellipse class="w" cx="723.9" cy="1147.9" rx="33.4" ry="18.1" opacity=".09"/><ellipse class="w" cx="557.2" cy="1153.7" rx="74" ry="12.7" opacity=".16"/><ellipse class="w" cx="684" cy="990" rx="18" ry="33" opacity=".21"/><ellipse class="w" cx="693.4" cy="990" rx="18" ry="33" opacity=".21"/><ellipse class="w" cx="702.8" cy="990" rx="18" ry="33" opacity=".21"/><ellipse class="w" cx="712.2" cy="990" rx="18" ry="33" opacity=".21"/><ellipse class="w" cx="721.6" cy="990" rx="18" ry="33" opacity=".21"/><ellipse class="w" cx="731" cy="990" rx="18" ry="33" opacity=".21"/><ellipse class="w" cx="740.4" cy="990" rx="18" ry="33" opacity=".21"/><ellipse class="w" cx="749.8" cy="990" rx="18" ry="33" opacity=".21"/><ellipse class="w" cx="759.2" cy="990" rx="18" ry="33" opacity=".21"/><ellipse class="w" cx="768.6" cy="990" rx="18" ry="33" opacity=".21"/><ellipse class="w" cx="778" cy="990" rx="18" ry="33" opacity=".21"/><ellipse class="w" cx="672" cy="1094.8" rx="15" ry="18" opacity=".25"/><ellipse class="k" cx="685.4" cy="1060.7" rx="18" ry="27" opacity=".30"/><ellipse class="k" cx="765" cy="1112" rx="195" ry="21" opacity=".25"/><ellipse class="k" cx="702.4" cy="1115.5" rx="42" ry="15" opacity=".45"/><ellipse class="w" cx="765" cy="1143" rx="255" ry="18" opacity=".25"/><ellipse class="w" cx="690" cy="1146" rx="60" ry="15" opacity=".20"/><ellipse class="w" cx="688" cy="1140" rx="48" ry="15" opacity=".10"/><ellipse class="w" cx="780" cy="1152" rx="135" ry="9" opacity=".50"/><ellipse class="w" cx="785" cy="1153" rx="66" ry="7.5" opacity=".75"/><ellipse class="w" cx="692" cy="992.3" rx="16.5" ry="30" opacity=".53"/><ellipse class="w" cx="728.5" cy="991" rx="10.5" ry="27" opacity=".28"/><ellipse class="w" cx="737.8" cy="991" rx="10.5" ry="27" opacity=".30"/><ellipse class="w" cx="762" cy="987" rx="12" ry="27" opacity=".25"/><ellipse class="w" cx="775" cy="987" rx="10.5" ry="27" opacity=".23"/><ellipse class="w" cx="716" cy="991" rx="9" ry="27" opacity=".10"/></g></g>
<path d="M536.8 906.1H891.6" stroke="#b8c8b8" stroke-width="1.2" opacity=".7" fill="none"/>
<path d="M538.1 882.0C538.9 883.1 541.1 886.9 543.0 888.6C544.8 890.3 547.0 892.4 549.0 892.3C551.1 892.1 553.1 887.5 555.1 887.9C557.2 888.3 559.4 894.9 561.2 894.7C563.0 894.5 564.3 888.3 566.1 886.9C567.9 885.5 569.9 883.9 572.2 886.2C574.4 888.5 577.5 899.2 579.5 900.8C581.5 902.4 582.5 896.8 584.3 895.9C586.2 895.0 588.4 896.6 590.4 895.4C592.5 894.2 594.1 891.4 596.5 888.6C599.0 885.9 602.6 879.7 605.0 878.9C607.5 878.1 609.1 883.1 611.1 883.7C613.2 884.4 615.4 882.4 617.2 883.0C619.0 883.6 620.3 886.7 622.1 887.4C623.9 888.1 626.6 887.6 628.2 887.4C629.8 887.2 630.4 885.0 631.8 886.2C633.2 887.4 634.9 894.9 636.7 894.7C638.5 894.5 640.6 885.7 642.8 885.0C645.0 884.2 647.7 890.5 650.1 890.3C652.5 890.1 655.4 884.6 657.4 883.7C659.4 882.9 660.4 885.9 662.3 885.4C664.1 885.0 666.1 881.4 668.4 881.3C670.6 881.2 673.2 888.0 675.7 885.0C678.1 881.9 680.1 869.5 683.0 863.0C685.8 856.6 689.9 847.0 692.7 846.0C695.5 845.0 698.0 853.4 700.0 857.0C702.0 860.5 703.3 865.8 704.9 867.4C706.5 869.1 708.1 866.5 709.7 866.7C711.4 866.9 713.2 868.8 714.6 868.4C716.0 868.0 717.0 864.3 718.3 864.3C719.5 864.2 720.5 869.3 721.9 867.9C723.3 866.5 725.2 856.9 726.8 855.7C728.4 854.6 729.8 861.2 731.7 861.1C733.5 861.0 735.9 854.3 737.7 855.3C739.6 856.2 741.0 864.7 742.6 866.7C744.2 868.7 745.9 866.1 747.5 867.4C749.1 868.8 750.5 875.8 752.4 874.7C754.2 873.7 756.2 863.2 758.4 861.1C760.7 858.9 763.9 861.3 765.7 861.8C767.6 862.4 768.0 864.8 769.4 864.3C770.8 863.8 772.8 858.3 774.3 858.9C775.7 859.5 776.5 862.0 777.9 867.9C779.3 873.9 781.2 889.8 782.8 894.7C784.4 899.6 785.8 898.6 787.7 897.1C789.5 895.7 791.9 887.1 793.7 886.2C795.6 885.3 796.8 892.0 798.6 891.8C800.4 891.6 802.7 886.1 804.7 885.0C806.7 883.8 808.8 885.4 810.8 885.0C812.8 884.5 815.1 882.0 816.9 882.0C818.7 882.0 820.1 883.3 821.7 885.0C823.4 886.7 824.8 890.8 826.6 892.3C828.4 893.7 830.7 893.9 832.7 893.5C834.7 893.1 837.0 890.4 838.8 889.8C840.6 889.2 841.6 891.0 843.7 889.8C845.7 888.6 848.9 883.3 851.0 882.5C853.0 881.7 854.4 883.0 855.8 885.0C857.3 886.9 857.7 893.4 859.5 894.2C861.3 895.0 864.4 890.6 866.8 889.8C869.2 889.1 872.3 889.4 874.1 889.8C875.9 890.2 876.5 890.4 877.8 892.3C879.0 894.1 879.6 901.8 881.4 900.8C883.2 899.8 887.5 888.6 888.7 886.2" stroke="#722a3e" stroke-width="2.4" fill="none" stroke-linejoin="round" stroke-linecap="round"/>
<path d="M663.3 798.4V1152.4" stroke="#333" stroke-width="1.3" stroke-dasharray="2 2" fill="none"/>
<rect x="928.1" y="797.4" width="354.3" height="108.4" fill="#fff"/>
<path d="M938.5 797.4V905.8M949.9 797.4V905.8M961.4 797.4V905.8M972.8 797.4V905.8M984.2 797.4V905.8M995.7 797.4V905.8M1007.1 797.4V905.8M1018.5 797.4V905.8M1029.9 797.4V905.8M1041.4 797.4V905.8M1052.8 797.4V905.8M1064.2 797.4V905.8M1075.7 797.4V905.8M1087.1 797.4V905.8M1098.5 797.4V905.8M1109.9 797.4V905.8M1121.4 797.4V905.8M1132.8 797.4V905.8M1144.2 797.4V905.8M1155.7 797.4V905.8M1167.1 797.4V905.8M1178.5 797.4V905.8M1189.9 797.4V905.8M1201.4 797.4V905.8M1212.8 797.4V905.8M1224.2 797.4V905.8M1235.7 797.4V905.8M1247.1 797.4V905.8M1258.5 797.4V905.8M1270.0 797.4V905.8M1281.4 797.4V905.8" stroke="#f7f7f7" stroke-width="1" fill="none"/>
<path d="M938.5 797.4V905.8M995.7 797.4V905.8M1109.9 797.4V905.8M1167.1 797.4V905.8M1224.2 797.4V905.8M1281.4 797.4V905.8" stroke="#ebebeb" stroke-width="1.1" fill="none"/>
<path d="M928.1 889.0H1282.4" stroke="#ebebeb" stroke-width="1.2" fill="none"/>
<rect x="928.1" y="797.4" width="354.3" height="108.4" fill="none" stroke="#ababab" stroke-width="1.4"/>
<path d="M928.1 853.3h4M1282.4 853.3h-4M928.1 817.6h4M1282.4 817.6h-4" stroke="#d0d0d0" stroke-width="1.2" fill="none"/>
<g clip-path="url(#hc2)"><g filter="url(#jet)"><rect x="926.1" y="903.8" width="358.3" height="250.6" fill="#808080"/><ellipse class="k" cx="929.8" cy="900.5" rx="8.2" ry="57.8" opacity=".15"/><ellipse class="w" cx="934.6" cy="902.3" rx="7.8" ry="67.2" opacity=".19"/><ellipse class="w" cx="940.8" cy="901.5" rx="7.1" ry="58.1" opacity=".14"/><ellipse class="w" cx="947.2" cy="919.9" rx="8.1" ry="48.3" opacity=".11"/><ellipse class="w" cx="956" cy="919.8" rx="8" ry="48.4" opacity=".06"/><ellipse class="k" cx="962.1" cy="902.4" rx="9.7" ry="52" opacity=".07"/><ellipse class="k" cx="968.5" cy="916.1" rx="9.7" ry="87.9" opacity=".03"/><ellipse class="k" cx="974.7" cy="915.9" rx="6.6" ry="88.4" opacity=".06"/><ellipse class="k" cx="987.6" cy="917.5" rx="6.8" ry="72.2" opacity=".02"/><ellipse class="w" cx="994.5" cy="920.7" rx="9.2" ry="81.6" opacity=".10"/><ellipse class="k" cx="1000.3" cy="901.9" rx="7.9" ry="50" opacity=".09"/><ellipse class="w" cx="1006.9" cy="902.9" rx="8.3" ry="88" opacity=".06"/><ellipse class="w" cx="1022.8" cy="915.5" rx="7.4" ry="53.9" opacity=".08"/><ellipse class="w" cx="1030.2" cy="903.5" rx="8.7" ry="86" opacity=".03"/><ellipse class="k" cx="1033.5" cy="907.7" rx="8.8" ry="76.5" opacity=".10"/><ellipse class="k" cx="1041.7" cy="898.7" rx="8.6" ry="50.6" opacity=".10"/><ellipse class="k" cx="1046.7" cy="906.8" rx="9" ry="87.7" opacity=".02"/><ellipse class="k" cx="1052.9" cy="920.6" rx="9.1" ry="85.9" opacity=".03"/><ellipse class="w" cx="1060.3" cy="915.1" rx="9.8" ry="63.1" opacity=".05"/><ellipse class="k" cx="1074.6" cy="918.7" rx="7" ry="81.1" opacity=".14"/><ellipse class="w" cx="1080.5" cy="907.1" rx="8.5" ry="67.7" opacity=".14"/><ellipse class="w" cx="1099.8" cy="900.1" rx="7.5" ry="48.4" opacity=".14"/><ellipse class="w" cx="1115" cy="899.3" rx="6.7" ry="63" opacity=".19"/><ellipse class="w" cx="1121.1" cy="904.3" rx="8.9" ry="63.4" opacity=".14"/><ellipse class="w" cx="1126.3" cy="916.4" rx="8.1" ry="77.6" opacity=".02"/><ellipse class="k" cx="1137.9" cy="920.6" rx="7.2" ry="85.6" opacity=".08"/><ellipse class="k" cx="1145.8" cy="910.3" rx="8.2" ry="72.5" opacity=".06"/><ellipse class="w" cx="1152.7" cy="904.8" rx="6.9" ry="54.2" opacity=".11"/><ellipse class="w" cx="1158.4" cy="910" rx="8.9" ry="80.4" opacity=".04"/><ellipse class="w" cx="1171.8" cy="911.2" rx="8.8" ry="62.1" opacity=".12"/><ellipse class="k" cx="1180.6" cy="906.6" rx="6.9" ry="71.8" opacity=".08"/><ellipse class="k" cx="1185.4" cy="899.9" rx="7.6" ry="70.9" opacity=".08"/><ellipse class="k" cx="1200.8" cy="907.9" rx="9.1" ry="70.5" opacity=".06"/><ellipse class="w" cx="1208.7" cy="919.9" rx="8.9" ry="62.7" opacity=".09"/><ellipse class="k" cx="1214.3" cy="919.1" rx="7.3" ry="64" opacity=".09"/><ellipse class="w" cx="1220.2" cy="912.7" rx="7.2" ry="66.8" opacity=".09"/><ellipse class="k" cx="1233.5" cy="916" rx="7.9" ry="59.7" opacity=".05"/><ellipse class="w" cx="1240.1" cy="903.4" rx="10" ry="89.9" opacity=".02"/><ellipse class="k" cx="1246.6" cy="917.3" rx="8" ry="61" opacity=".10"/><ellipse class="k" cx="1258.4" cy="900.4" rx="6.8" ry="51.4" opacity=".07"/><ellipse class="k" cx="1267" cy="902.9" rx="7.5" ry="86.2" opacity=".04"/><ellipse class="w" cx="1274" cy="903.5" rx="8.8" ry="82.5" opacity=".11"/><ellipse class="k" cx="1278.9" cy="903.6" rx="10" ry="50.4" opacity=".02"/><ellipse class="k" cx="1285.9" cy="915.3" rx="10.7" ry="53.8" opacity=".02"/><ellipse class="w" cx="926.6" cy="943.8" rx="7.9" ry="51.2" opacity=".19"/><ellipse class="w" cx="935.3" cy="955" rx="10.1" ry="68.5" opacity=".07"/><ellipse class="w" cx="941" cy="945.4" rx="10.1" ry="81.7" opacity=".05"/><ellipse class="k" cx="946.3" cy="940.6" rx="8.1" ry="60.1" opacity=".05"/><ellipse class="w" cx="951.3" cy="933" rx="10.8" ry="85.1" opacity=".12"/><ellipse class="w" cx="957.8" cy="948.3" rx="8.5" ry="82.3" opacity=".15"/><ellipse class="w" cx="964.6" cy="946.8" rx="6.7" ry="88.9" opacity=".12"/><ellipse class="w" cx="974.2" cy="954.7" rx="10.8" ry="79.1" opacity=".05"/><ellipse class="k" cx="979.3" cy="951.2" rx="9" ry="80.3" opacity=".06"/><ellipse class="k" cx="988.3" cy="945.5" rx="6.7" ry="66.7" opacity=".04"/><ellipse class="w" cx="992.4" cy="931.3" rx="10.2" ry="75.9" opacity=".11"/><ellipse class="w" cx="1000.1" cy="935.4" rx="7.3" ry="70.3" opacity=".04"/><ellipse class="w" cx="1007.1" cy="950.4" rx="7.8" ry="64" opacity=".19"/><ellipse class="k" cx="1014" cy="939" rx="9.7" ry="67.2" opacity=".16"/><ellipse class="k" cx="1024.3" cy="947.7" rx="6.8" ry="56.7" opacity=".05"/><ellipse class="w" cx="1030.4" cy="943.1" rx="8.5" ry="83.8" opacity=".03"/><ellipse class="w" cx="1034.4" cy="936.4" rx="8.6" ry="68.3" opacity=".03"/><ellipse class="w" cx="1042.4" cy="951.4" rx="9.8" ry="62.4" opacity=".16"/><ellipse class="k" cx="1056.4" cy="952.9" rx="10.1" ry="59.4" opacity=".04"/><ellipse class="w" cx="1060.9" cy="943.5" rx="8.7" ry="62.3" opacity=".14"/><ellipse class="w" cx="1067.2" cy="948.7" rx="7.1" ry="56.3" opacity=".09"/><ellipse class="k" cx="1074.9" cy="939.9" rx="6.9" ry="78.7" opacity=".02"/><ellipse class="w" cx="1079.6" cy="940.8" rx="8.3" ry="87.8" opacity=".03"/><ellipse class="w" cx="1095.4" cy="952.2" rx="10" ry="81.2" opacity=".17"/><ellipse class="k" cx="1103.6" cy="933.8" rx="7.1" ry="53.9" opacity=".10"/><ellipse class="w" cx="1108.8" cy="942.8" rx="7.5" ry="56.6" opacity=".04"/><ellipse class="w" cx="1115.2" cy="945.2" rx="9.3" ry="72" opacity=".18"/><ellipse class="k" cx="1122.8" cy="950.1" rx="8.8" ry="78.3" opacity=".08"/><ellipse class="w" cx="1129" cy="937.8" rx="6.7" ry="54.4" opacity=".16"/><ellipse class="w" cx="1138.7" cy="936.9" rx="9.5" ry="85.1" opacity=".17"/><ellipse class="w" cx="1150" cy="945.9" rx="10.3" ry="49.5" opacity=".09"/><ellipse class="w" cx="1158.5" cy="949.9" rx="6.9" ry="71.7" opacity=".19"/><ellipse class="k" cx="1164.5" cy="954.8" rx="8.1" ry="61.9" opacity=".03"/><ellipse class="w" cx="1171.3" cy="947.5" rx="7.6" ry="88.3" opacity=".03"/><ellipse class="k" cx="1184.1" cy="932.5" rx="8.8" ry="55" opacity=".04"/><ellipse class="w" cx="1189.8" cy="940" rx="8" ry="85.6" opacity=".03"/><ellipse class="k" cx="1196.5" cy="937.9" rx="8.7" ry="81.5" opacity=".12"/><ellipse class="k" cx="1202.3" cy="944.8" rx="10.6" ry="59.7" opacity=".03"/><ellipse class="k" cx="1224" cy="939.3" rx="8.8" ry="54.7" opacity=".06"/><ellipse class="w" cx="1229.5" cy="948" rx="9.9" ry="55.3" opacity=".10"/><ellipse class="k" cx="1243.1" cy="954.7" rx="9.3" ry="50.3" opacity=".03"/><ellipse class="k" cx="1247.8" cy="940.2" rx="8.3" ry="67.2" opacity=".16"/><ellipse class="w" cx="1271" cy="952.8" rx="9.7" ry="60.5" opacity=".07"/><ellipse class="w" cx="1274.7" cy="930.8" rx="7.2" ry="78.5" opacity=".06"/><ellipse class="k" cx="927.2" cy="965" rx="10.1" ry="77.8" opacity=".13"/><ellipse class="w" cx="932.4" cy="971.4" rx="7.4" ry="57.5" opacity=".04"/><ellipse class="k" cx="938.7" cy="969.4" rx="11" ry="82.1" opacity=".06"/><ellipse class="w" cx="947.3" cy="980.1" rx="8" ry="57.7" opacity=".06"/><ellipse class="w" cx="953.8" cy="974.7" rx="9.9" ry="56.8" opacity=".03"/><ellipse class="w" cx="958.6" cy="976.2" rx="7.9" ry="62.3" opacity=".05"/><ellipse class="w" cx="968.4" cy="977.4" rx="8" ry="81.5" opacity=".13"/><ellipse class="w" cx="972.9" cy="970.8" rx="7.7" ry="52.8" opacity=".09"/><ellipse class="w" cx="984.6" cy="962.7" rx="7" ry="80.9" opacity=".08"/><ellipse class="k" cx="991.2" cy="969.4" rx="10" ry="57.8" opacity=".03"/><ellipse class="k" cx="999.6" cy="966.5" rx="9.9" ry="57" opacity=".02"/><ellipse class="w" cx="1012.1" cy="964.5" rx="8.4" ry="58.6" opacity=".09"/><ellipse class="w" cx="1033.6" cy="978.9" rx="7.4" ry="79.7" opacity=".07"/><ellipse class="w" cx="1039.4" cy="969.3" rx="11.3" ry="75.2" opacity=".09"/><ellipse class="w" cx="1054.9" cy="983.8" rx="7.5" ry="54.4" opacity=".16"/><ellipse class="k" cx="1067.8" cy="973.5" rx="10.4" ry="74.1" opacity=".04"/><ellipse class="w" cx="1077.5" cy="964" rx="10.1" ry="67.8" opacity=".05"/><ellipse class="w" cx="1083.6" cy="973" rx="7.2" ry="76.9" opacity=".07"/><ellipse class="k" cx="1090.9" cy="962.8" rx="8.9" ry="51.5" opacity=".08"/><ellipse class="w" cx="1096.3" cy="978.1" rx="10.4" ry="63.3" opacity=".10"/><ellipse class="k" cx="1110.5" cy="976.9" rx="11.3" ry="52.5" opacity=".08"/><ellipse class="w" cx="1115.5" cy="962.6" rx="10.7" ry="64.5" opacity=".05"/><ellipse class="w" cx="1127.5" cy="984.2" rx="11.1" ry="53.3" opacity=".11"/><ellipse class="w" cx="1142" cy="970" rx="11.3" ry="68.7" opacity=".15"/><ellipse class="k" cx="1163.3" cy="970.9" rx="8.7" ry="48" opacity=".03"/><ellipse class="w" cx="1169.3" cy="974.4" rx="8.7" ry="52.4" opacity=".11"/><ellipse class="w" cx="1176.2" cy="975.8" rx="10.9" ry="61.8" opacity=".04"/><ellipse class="k" cx="1182.1" cy="980.2" rx="9.4" ry="80.8" opacity=".07"/><ellipse class="k" cx="1188.3" cy="966.7" rx="11" ry="56.5" opacity=".02"/><ellipse class="k" cx="1196.1" cy="967.9" rx="6.6" ry="55.1" opacity=".10"/><ellipse class="w" cx="1201.4" cy="963.7" rx="10.7" ry="62.1" opacity=".06"/><ellipse class="k" cx="1210.3" cy="965.9" rx="9.7" ry="77.3" opacity=".09"/><ellipse class="w" cx="1213.8" cy="966.6" rx="9.1" ry="70.5" opacity=".03"/><ellipse class="k" cx="1221" cy="979.4" rx="7.8" ry="57.6" opacity=".08"/><ellipse class="k" cx="1227.5" cy="974.6" rx="7.1" ry="60.6" opacity=".04"/><ellipse class="k" cx="1232.9" cy="981.2" rx="10" ry="81.7" opacity=".07"/><ellipse class="w" cx="1241.5" cy="976.4" rx="10" ry="59.3" opacity=".08"/><ellipse class="k" cx="1254.4" cy="976.5" rx="9.5" ry="58" opacity=".13"/><ellipse class="w" cx="1262.1" cy="978.4" rx="8.7" ry="65.9" opacity=".09"/><ellipse class="w" cx="1271.7" cy="977.1" rx="7.1" ry="64.8" opacity=".05"/><ellipse class="k" cx="1277.8" cy="975.3" rx="10.8" ry="80.4" opacity=".05"/><ellipse class="w" cx="1283" cy="975.1" rx="9.9" ry="81.5" opacity=".06"/><ellipse class="w" cx="926.3" cy="1015.4" rx="9.2" ry="70.4" opacity=".06"/><ellipse class="k" cx="937.1" cy="997.5" rx="8.7" ry="76.6" opacity=".10"/><ellipse class="w" cx="942.6" cy="1005.9" rx="8.6" ry="70.9" opacity=".16"/><ellipse class="w" cx="951.2" cy="994.9" rx="11" ry="61.6" opacity=".12"/><ellipse class="w" cx="958.6" cy="1016.5" rx="8.9" ry="67.6" opacity=".06"/><ellipse class="k" cx="962.9" cy="1009.3" rx="7.8" ry="72.3" opacity=".10"/><ellipse class="w" cx="969.1" cy="1015.4" rx="10.2" ry="48" opacity=".06"/><ellipse class="w" cx="973.9" cy="994.9" rx="6.7" ry="48.1" opacity=".12"/><ellipse class="k" cx="980.9" cy="1013.6" rx="10.3" ry="47" opacity=".03"/><ellipse class="k" cx="987.1" cy="996.9" rx="9.8" ry="55.2" opacity=".12"/><ellipse class="k" cx="992.8" cy="1011.1" rx="7.3" ry="71.4" opacity=".02"/><ellipse class="w" cx="998.4" cy="1018.8" rx="11" ry="51.3" opacity=".05"/><ellipse class="k" cx="1005.5" cy="1013.7" rx="8.6" ry="54.1" opacity=".09"/><ellipse class="w" cx="1012.4" cy="1012.2" rx="8.5" ry="50.7" opacity=".11"/><ellipse class="w" cx="1024.2" cy="1015.9" rx="6.9" ry="56.1" opacity=".11"/><ellipse class="k" cx="1041.8" cy="1016.3" rx="7.5" ry="76.6" opacity=".12"/><ellipse class="k" cx="1053.2" cy="1008.9" rx="10.8" ry="76.9" opacity=".04"/><ellipse class="w" cx="1059.7" cy="995.6" rx="7.5" ry="53.2" opacity=".02"/><ellipse class="w" cx="1067.2" cy="1003.7" rx="9.9" ry="57" opacity=".04"/><ellipse class="w" cx="1074.5" cy="1012.8" rx="9.8" ry="75.7" opacity=".07"/><ellipse class="w" cx="1082.7" cy="1015.1" rx="7.6" ry="65.6" opacity=".07"/><ellipse class="k" cx="1089.3" cy="1002.3" rx="8.9" ry="76.9" opacity=".03"/><ellipse class="w" cx="1096.7" cy="1001.8" rx="7.1" ry="55.1" opacity=".03"/><ellipse class="w" cx="1102.4" cy="997.5" rx="8.1" ry="58.8" opacity=".11"/><ellipse class="w" cx="1110" cy="1005.8" rx="8.4" ry="62.7" opacity=".08"/><ellipse class="k" cx="1116" cy="998" rx="11.1" ry="64.5" opacity=".08"/><ellipse class="w" cx="1124.4" cy="1006.2" rx="10.9" ry="45.4" opacity=".10"/><ellipse class="w" cx="1141.4" cy="1015.3" rx="9.7" ry="73.5" opacity=".04"/><ellipse class="k" cx="1154.2" cy="995.5" rx="7.1" ry="61.7" opacity=".14"/><ellipse class="k" cx="1162.6" cy="1000.7" rx="9.2" ry="65.6" opacity=".12"/><ellipse class="k" cx="1167.1" cy="1015.8" rx="9.9" ry="69.6" opacity=".05"/><ellipse class="k" cx="1172.7" cy="999.4" rx="9.4" ry="61.3" opacity=".10"/><ellipse class="k" cx="1200.4" cy="1001.6" rx="8.4" ry="74.3" opacity=".02"/><ellipse class="w" cx="1207.4" cy="1006.4" rx="10.1" ry="65.9" opacity=".02"/><ellipse class="k" cx="1216.1" cy="1005.2" rx="8.5" ry="52.2" opacity=".04"/><ellipse class="w" cx="1221.6" cy="1000.9" rx="6.9" ry="63.9" opacity=".07"/><ellipse class="k" cx="1226.8" cy="1015" rx="9.8" ry="55.4" opacity=".05"/><ellipse class="k" cx="1232.2" cy="1002" rx="6.8" ry="66.6" opacity=".04"/><ellipse class="w" cx="1240.5" cy="1010.7" rx="11.4" ry="76.7" opacity=".05"/><ellipse class="k" cx="1245.8" cy="1015.2" rx="7.5" ry="76.3" opacity=".03"/><ellipse class="k" cx="1254.5" cy="1011.5" rx="9.3" ry="74" opacity=".10"/><ellipse class="w" cx="1260.5" cy="994.8" rx="10.7" ry="47.1" opacity=".08"/><ellipse class="k" cx="1275.6" cy="1007.1" rx="6.8" ry="74.6" opacity=".16"/><ellipse class="w" cx="1280.2" cy="1009.5" rx="9.3" ry="72.6" opacity=".07"/><ellipse class="w" cx="927.2" cy="1037.4" rx="10.1" ry="65.6" opacity=".12"/><ellipse class="w" cx="934.7" cy="1031.6" rx="8.1" ry="62.7" opacity=".06"/><ellipse class="w" cx="945.9" cy="1039.7" rx="9" ry="58.6" opacity=".08"/><ellipse class="w" cx="952.2" cy="1026.9" rx="10.6" ry="58.6" opacity=".08"/><ellipse class="k" cx="964.9" cy="1033.9" rx="10.3" ry="42.2" opacity=".05"/><ellipse class="k" cx="973.1" cy="1036" rx="11.4" ry="59.6" opacity=".04"/><ellipse class="w" cx="979" cy="1033" rx="9.4" ry="60.4" opacity=".10"/><ellipse class="k" cx="988.5" cy="1031.9" rx="7.9" ry="59.3" opacity=".04"/><ellipse class="w" cx="1001.1" cy="1028.3" rx="10" ry="44.1" opacity=".10"/><ellipse class="w" cx="1008.2" cy="1036.1" rx="11.2" ry="45.3" opacity=".12"/><ellipse class="w" cx="1017.5" cy="1038.2" rx="10.5" ry="56.5" opacity=".15"/><ellipse class="k" cx="1022.1" cy="1039.1" rx="10.6" ry="52.1" opacity=".13"/><ellipse class="w" cx="1029.2" cy="1037.6" rx="7.4" ry="46.7" opacity=".14"/><ellipse class="k" cx="1043" cy="1035.8" rx="10.8" ry="50.4" opacity=".10"/><ellipse class="k" cx="1051.9" cy="1031.9" rx="11.5" ry="59.7" opacity=".03"/><ellipse class="k" cx="1073.5" cy="1030.9" rx="8.5" ry="68.6" opacity=".03"/><ellipse class="w" cx="1095.5" cy="1027.3" rx="11.8" ry="53" opacity=".15"/><ellipse class="w" cx="1101.8" cy="1036.5" rx="11.1" ry="44.5" opacity=".12"/><ellipse class="w" cx="1108.6" cy="1051.2" rx="9.2" ry="48.4" opacity=".06"/><ellipse class="w" cx="1117.9" cy="1032.3" rx="8.1" ry="54.1" opacity=".16"/><ellipse class="k" cx="1125.6" cy="1051.1" rx="10.1" ry="44.3" opacity=".03"/><ellipse class="k" cx="1132.2" cy="1034.7" rx="7.8" ry="65.1" opacity=".05"/><ellipse class="w" cx="1139.2" cy="1034" rx="7.3" ry="44.9" opacity=".10"/><ellipse class="k" cx="1143.6" cy="1043.3" rx="10.3" ry="49.7" opacity=".05"/><ellipse class="w" cx="1149.8" cy="1044.3" rx="8.5" ry="66.6" opacity=".03"/><ellipse class="k" cx="1157.7" cy="1028.1" rx="11.7" ry="56.2" opacity=".02"/><ellipse class="k" cx="1173" cy="1042.1" rx="11.7" ry="42.9" opacity=".05"/><ellipse class="k" cx="1193.5" cy="1037.4" rx="7.9" ry="68.3" opacity=".03"/><ellipse class="k" cx="1201.6" cy="1034.6" rx="9.8" ry="66.6" opacity=".10"/><ellipse class="k" cx="1214.5" cy="1048.4" rx="8.5" ry="53.8" opacity=".04"/><ellipse class="k" cx="1228.5" cy="1046.1" rx="7.3" ry="57.9" opacity=".09"/><ellipse class="k" cx="1235.3" cy="1037.1" rx="11.7" ry="46.3" opacity=".08"/><ellipse class="k" cx="1242.4" cy="1042" rx="10.4" ry="47.8" opacity=".08"/><ellipse class="k" cx="1248.3" cy="1037.3" rx="8.1" ry="62.4" opacity=".13"/><ellipse class="k" cx="1252.9" cy="1044.5" rx="9" ry="66.4" opacity=".05"/><ellipse class="w" cx="1261.7" cy="1040.8" rx="7.6" ry="50" opacity=".07"/><ellipse class="w" cx="1268.4" cy="1050.7" rx="9.5" ry="50" opacity=".06"/><ellipse class="w" cx="1285" cy="1034.4" rx="7.4" ry="47.1" opacity=".08"/><ellipse class="w" cx="932.3" cy="1061.4" rx="14.4" ry="35.2" opacity=".06"/><ellipse class="w" cx="940.7" cy="1062.2" rx="11.4" ry="39.1" opacity=".11"/><ellipse class="w" cx="950.3" cy="1078.1" rx="10.3" ry="47.4" opacity=".04"/><ellipse class="w" cx="958.2" cy="1076.8" rx="10.4" ry="51.9" opacity=".19"/><ellipse class="k" cx="976" cy="1057.1" rx="17.8" ry="52" opacity=".05"/><ellipse class="w" cx="985.4" cy="1072.4" rx="17.2" ry="33.1" opacity=".07"/><ellipse class="k" cx="1013.2" cy="1056.8" rx="10.8" ry="52" opacity=".10"/><ellipse class="k" cx="1024.7" cy="1071.6" rx="10.6" ry="45.8" opacity=".09"/><ellipse class="w" cx="1045.3" cy="1060.6" rx="13.4" ry="40.6" opacity=".10"/><ellipse class="k" cx="1051.8" cy="1070.8" rx="16.4" ry="51.7" opacity=".02"/><ellipse class="w" cx="1082.3" cy="1066.5" rx="17.7" ry="48.4" opacity=".05"/><ellipse class="k" cx="1091.2" cy="1069.6" rx="13.5" ry="44" opacity=".02"/><ellipse class="k" cx="1098.5" cy="1074.3" rx="14.2" ry="38.2" opacity=".10"/><ellipse class="k" cx="1109" cy="1062.8" rx="10.7" ry="32.9" opacity=".04"/><ellipse class="w" cx="1118.2" cy="1067.6" rx="16.8" ry="31.2" opacity=".05"/><ellipse class="k" cx="1127.1" cy="1058.5" rx="10.2" ry="36.4" opacity=".03"/><ellipse class="w" cx="1136.7" cy="1066" rx="9.3" ry="44.5" opacity=".04"/><ellipse class="w" cx="1145.9" cy="1069.9" rx="13.4" ry="49.3" opacity=".12"/><ellipse class="w" cx="1156.4" cy="1056.6" rx="11.4" ry="40.7" opacity=".15"/><ellipse class="k" cx="1181.9" cy="1059.2" rx="15.8" ry="43.8" opacity=".07"/><ellipse class="w" cx="1190.9" cy="1062.4" rx="16.2" ry="48.5" opacity=".07"/><ellipse class="k" cx="1217.9" cy="1058.7" rx="15.4" ry="35.1" opacity=".03"/><ellipse class="w" cx="1226" cy="1058.5" rx="12.6" ry="37.6" opacity=".07"/><ellipse class="w" cx="1233.8" cy="1080.7" rx="11.3" ry="39.7" opacity=".04"/><ellipse class="k" cx="1244.1" cy="1063.1" rx="9.9" ry="36" opacity=".09"/><ellipse class="w" cx="1256.2" cy="1078.3" rx="11.9" ry="50.7" opacity=".19"/><ellipse class="k" cx="1263.9" cy="1075.4" rx="9.7" ry="42.3" opacity=".05"/><ellipse class="k" cx="1270.7" cy="1066.8" rx="13.8" ry="42.6" opacity=".12"/><ellipse class="w" cx="1280.7" cy="1063.3" rx="9.2" ry="30.1" opacity=".08"/><ellipse class="k" cx="1217.7" cy="1144" rx="56.4" ry="12.3" opacity=".15"/><ellipse class="w" cx="921.1" cy="1141.8" rx="66.7" ry="18.8" opacity=".11"/><ellipse class="w" cx="938.8" cy="1098.8" rx="70.7" ry="15.3" opacity=".00"/><ellipse class="w" cx="1071.6" cy="1123.9" rx="37.8" ry="15.2" opacity=".06"/><ellipse class="w" cx="1221.7" cy="1126.6" rx="53.2" ry="20.3" opacity=".14"/><ellipse class="k" cx="1094" cy="1137.5" rx="57.6" ry="13.4" opacity=".01"/><ellipse class="k" cx="1209.8" cy="1147.9" rx="83.8" ry="17.4" opacity=".05"/><ellipse class="k" cx="927.9" cy="1127.7" rx="70.7" ry="15.9" opacity=".10"/><ellipse class="w" cx="929.9" cy="1126.9" rx="77" ry="12.2" opacity=".09"/><ellipse class="w" cx="1010.2" cy="1129.2" rx="60.5" ry="16" opacity=".05"/><ellipse class="k" cx="1001.2" cy="1137.7" rx="53.6" ry="20.1" opacity=".08"/><ellipse class="w" cx="1216.9" cy="1153.7" rx="65.2" ry="15.3" opacity=".18"/><ellipse class="k" cx="1078.4" cy="1144.4" rx="44.7" ry="17.5" opacity=".02"/><ellipse class="w" cx="1058.5" cy="1101.6" rx="78.3" ry="13.6" opacity=".07"/><ellipse class="k" cx="1017" cy="1102.6" rx="77" ry="16.4" opacity=".12"/><ellipse class="w" cx="980.8" cy="1128.1" rx="61.2" ry="15.5" opacity=".06"/><ellipse class="k" cx="1021.4" cy="1153.4" rx="42" ry="16.1" opacity=".12"/><ellipse class="k" cx="1108.5" cy="1122.6" rx="52.9" ry="17.3" opacity=".10"/><ellipse class="k" cx="999.7" cy="1121.6" rx="76.9" ry="14.7" opacity=".06"/><ellipse class="w" cx="990.2" cy="1150.2" rx="43.5" ry="16.9" opacity=".05"/><ellipse class="k" cx="1106.8" cy="1113.5" rx="50.6" ry="16.9" opacity=".18"/><ellipse class="k" cx="1006" cy="1107" rx="47.8" ry="16.3" opacity=".04"/><ellipse class="w" cx="1248" cy="1149.4" rx="49.6" ry="18.7" opacity=".02"/><ellipse class="w" cx="1063.7" cy="1134.6" rx="69.7" ry="14.6" opacity=".09"/><ellipse class="w" cx="1095.8" cy="1145.4" rx="63.5" ry="14.6" opacity=".06"/><ellipse class="k" cx="1279.2" cy="1155.3" rx="72.6" ry="20.9" opacity=".04"/><ellipse class="k" cx="1238" cy="1148" rx="77.9" ry="16.6" opacity=".02"/><ellipse class="w" cx="1079.9" cy="1127.5" rx="48.9" ry="17.1" opacity=".11"/><ellipse class="k" cx="1250.4" cy="1107.3" rx="33.4" ry="15.8" opacity=".02"/><ellipse class="w" cx="1262.5" cy="1142.3" rx="39.3" ry="20.1" opacity=".05"/><ellipse class="k" cx="951" cy="1119.9" rx="59.8" ry="18.6" opacity=".00"/><ellipse class="w" cx="1158.6" cy="1150.8" rx="49.1" ry="20.4" opacity=".02"/><ellipse class="w" cx="1164.5" cy="1152.5" rx="78.9" ry="17.3" opacity=".06"/><ellipse class="k" cx="938.8" cy="1139.4" rx="65.3" ry="15" opacity=".01"/><ellipse class="w" cx="1001" cy="965" rx="9" ry="42" opacity=".20"/><ellipse class="w" cx="1001" cy="961" rx="6" ry="21" opacity=".25"/><ellipse class="k" cx="1078" cy="1073" rx="27" ry="39" opacity=".35"/><ellipse class="k" cx="1150" cy="1116" rx="210" ry="21" opacity=".23"/><ellipse class="k" cx="1102" cy="1116.7" rx="45" ry="13.5" opacity=".35"/><ellipse class="k" cx="1204.4" cy="1116.7" rx="45" ry="13.5" opacity=".33"/><ellipse class="w" cx="1062" cy="1100.9" rx="15" ry="18" opacity=".25"/><ellipse class="w" cx="1151" cy="1102" rx="24" ry="15" opacity=".20"/><ellipse class="w" cx="1160" cy="1147" rx="270" ry="15" opacity=".25"/><ellipse class="w" cx="1150" cy="1153" rx="150" ry="7.5" opacity=".50"/><ellipse class="w" cx="1060" cy="1138" rx="60" ry="30" opacity=".20"/><ellipse class="w" cx="1063" cy="1147" rx="54" ry="15" opacity=".45"/><ellipse class="w" cx="1068" cy="1142" rx="30" ry="18" opacity=".45"/><ellipse class="w" cx="1058" cy="1130" rx="15" ry="24" opacity=".15"/><ellipse class="w" cx="1085" cy="990" rx="30" ry="45" opacity=".35"/><ellipse class="w" cx="1105" cy="990" rx="30" ry="45" opacity=".35"/><ellipse class="w" cx="1125" cy="990" rx="30" ry="45" opacity=".35"/><ellipse class="w" cx="1145" cy="990" rx="30" ry="45" opacity=".35"/><ellipse class="w" cx="1163" cy="990" rx="21" ry="45" opacity=".35"/><ellipse class="w" cx="1085" cy="991" rx="24" ry="33" opacity=".70"/><ellipse class="w" cx="1100" cy="991" rx="24" ry="33" opacity=".70"/><ellipse class="w" cx="1115" cy="991" rx="24" ry="33" opacity=".70"/><ellipse class="w" cx="1130" cy="991" rx="24" ry="33" opacity=".70"/><ellipse class="w" cx="1145" cy="991" rx="24" ry="33" opacity=".70"/><ellipse class="w" cx="1160" cy="991" rx="21" ry="33" opacity=".70"/><ellipse class="w" cx="1087.6" cy="993.7" rx="15" ry="24" opacity="1"/><ellipse class="w" cx="1107" cy="993" rx="12" ry="21" opacity=".90"/><ellipse class="w" cx="1124" cy="993" rx="12" ry="21" opacity=".95"/><ellipse class="w" cx="1142.4" cy="993" rx="12" ry="21" opacity=".95"/><ellipse class="w" cx="1165" cy="990" rx="9" ry="24" opacity=".80"/><ellipse class="w" cx="1166" cy="975" rx="7.5" ry="42" opacity=".40"/></g></g>
<path d="M928.1 906.1H1282.4" stroke="#b8c8b8" stroke-width="1.2" opacity=".7" fill="none"/>
<path d="M928.1 892.3C928.9 893.1 931.3 897.5 933.0 897.1C934.6 896.7 936.2 890.2 937.8 889.8C939.4 889.4 941.5 893.8 942.7 894.7C943.9 895.6 943.9 893.8 945.1 895.2C946.3 896.6 948.2 905.1 950.0 903.2C951.8 901.3 954.1 885.8 956.1 883.7C958.1 881.7 960.3 890.6 962.2 891.0C964.0 891.5 965.2 885.8 967.0 886.2C968.9 886.6 970.9 893.0 973.1 893.5C975.4 894.0 978.4 889.3 980.4 889.3C982.5 889.3 983.7 893.6 985.3 893.5C986.9 893.4 988.6 887.8 990.2 888.6C991.8 889.4 993.2 901.1 995.0 898.4C996.9 895.6 999.3 874.9 1001.1 872.3C1003.0 869.7 1004.2 880.2 1006.0 882.5C1007.8 884.8 1010.1 885.0 1012.1 886.2C1014.1 887.3 1016.1 890.3 1018.2 889.3C1020.2 888.4 1022.4 881.5 1024.3 880.6C1026.1 879.6 1027.5 884.0 1029.1 883.7C1030.8 883.5 1032.0 875.8 1034.0 878.9C1036.0 881.9 1039.3 898.4 1041.3 902.0C1043.3 905.7 1044.1 902.2 1046.2 900.8C1048.2 899.4 1051.7 895.1 1053.5 893.5C1055.3 891.9 1055.7 890.4 1057.1 891.0C1058.6 891.7 1060.2 898.1 1062.0 897.1C1063.8 896.1 1066.1 893.5 1068.1 885.0C1070.1 876.4 1072.2 853.7 1074.2 846.0C1076.2 838.3 1078.6 840.7 1080.3 838.7C1081.9 836.7 1082.5 836.7 1083.9 833.8C1085.3 830.9 1087.4 822.8 1088.8 821.2C1090.2 819.5 1090.6 820.8 1092.4 824.1C1094.3 827.4 1097.1 839.3 1099.7 841.1C1102.4 843.0 1105.6 835.2 1108.3 835.0C1110.9 834.8 1113.1 842.1 1115.6 839.9C1118.0 837.8 1120.4 823.0 1122.9 822.1C1125.3 821.3 1127.7 835.2 1130.2 835.0C1132.6 834.9 1135.3 822.6 1137.5 821.2C1139.7 819.7 1141.7 824.8 1143.6 826.5C1145.4 828.2 1146.6 828.6 1148.4 831.4C1150.3 834.2 1152.7 842.1 1154.5 843.6C1156.4 845.0 1158.0 841.9 1159.4 839.9C1160.8 837.9 1161.8 832.0 1163.1 831.4C1164.3 830.8 1165.5 830.6 1166.7 836.3C1167.9 841.9 1169.1 855.9 1170.4 865.5C1171.6 875.0 1172.8 888.6 1174.0 893.5C1175.2 898.4 1176.0 896.5 1177.7 894.7C1179.3 892.9 1181.7 882.7 1183.7 882.5C1185.8 882.3 1188.0 892.9 1189.8 893.5C1191.7 894.1 1193.3 887.2 1194.7 886.2C1196.1 885.2 1197.1 887.9 1198.4 887.4C1199.6 886.9 1200.4 882.5 1202.0 883.0C1203.6 883.5 1206.3 888.9 1208.1 890.3C1209.9 891.8 1211.3 890.8 1213.0 891.8C1214.6 892.8 1215.8 895.9 1217.8 896.4C1219.9 896.9 1223.1 894.7 1225.1 894.7C1227.2 894.7 1228.4 895.6 1230.0 896.4C1231.6 897.2 1233.5 899.4 1234.9 899.6C1236.3 899.7 1236.9 896.3 1238.5 897.1C1240.2 897.9 1242.6 904.4 1244.6 904.4C1246.6 904.4 1248.9 898.6 1250.7 897.1C1252.5 895.7 1253.8 895.3 1255.6 895.9C1257.4 896.5 1259.6 901.2 1261.7 900.8C1263.7 900.4 1265.5 895.7 1267.8 893.5C1270.0 891.2 1273.0 887.2 1275.1 887.4C1277.1 887.6 1279.1 893.5 1279.9 894.7" stroke="#722a3e" stroke-width="2.4" fill="none" stroke-linejoin="round" stroke-linecap="round"/>
<path d="M1052.8 798.4V1152.4" stroke="#333" stroke-width="1.3" stroke-dasharray="2 2" fill="none"/>
<rect x="145.0" y="1180.4" width="354.5" height="108.8" fill="#fff"/>
<path d="M155.1 1180.4V1289.2M166.6 1180.4V1289.2M178.0 1180.4V1289.2M189.5 1180.4V1289.2M200.9 1180.4V1289.2M212.3 1180.4V1289.2M223.8 1180.4V1289.2M235.2 1180.4V1289.2M246.6 1180.4V1289.2M258.1 1180.4V1289.2M269.5 1180.4V1289.2M280.9 1180.4V1289.2M292.4 1180.4V1289.2M303.8 1180.4V1289.2M315.2 1180.4V1289.2M326.7 1180.4V1289.2M338.1 1180.4V1289.2M349.5 1180.4V1289.2M361.0 1180.4V1289.2M372.4 1180.4V1289.2M383.9 1180.4V1289.2M395.3 1180.4V1289.2M406.7 1180.4V1289.2M418.2 1180.4V1289.2M429.6 1180.4V1289.2M441.0 1180.4V1289.2M452.5 1180.4V1289.2M463.9 1180.4V1289.2M475.3 1180.4V1289.2M486.8 1180.4V1289.2M498.2 1180.4V1289.2" stroke="#f7f7f7" stroke-width="1" fill="none"/>
<path d="M155.1 1180.4V1289.2M212.3 1180.4V1289.2M326.7 1180.4V1289.2M383.9 1180.4V1289.2M441.0 1180.4V1289.2M498.2 1180.4V1289.2" stroke="#ebebeb" stroke-width="1.1" fill="none"/>
<path d="M145.0 1271.6H499.5" stroke="#ebebeb" stroke-width="1.2" fill="none"/>
<rect x="145.0" y="1180.4" width="354.5" height="108.8" fill="none" stroke="#ababab" stroke-width="1.4"/>
<path d="M145.0 1235.9h4M499.5 1235.9h-4M145.0 1200.2h4M499.5 1200.2h-4" stroke="#d0d0d0" stroke-width="1.2" fill="none"/>
<g clip-path="url(#hc3)"><g filter="url(#jet)"><rect x="143.0" y="1287.2" width="358.5" height="252.0" fill="#808080"/><ellipse class="k" cx="140.2" cy="1293.5" rx="9.3" ry="58.9" opacity=".02"/><ellipse class="w" cx="149.7" cy="1292.8" rx="9.5" ry="55.4" opacity=".02"/><ellipse class="k" cx="154.6" cy="1297.2" rx="8.6" ry="84.8" opacity=".06"/><ellipse class="w" cx="159.7" cy="1286" rx="8.8" ry="67.3" opacity=".06"/><ellipse class="k" cx="169.3" cy="1288.1" rx="7.1" ry="66.7" opacity=".11"/><ellipse class="k" cx="200.4" cy="1303.6" rx="9.9" ry="57.1" opacity=".10"/><ellipse class="k" cx="207.4" cy="1302.3" rx="8" ry="68" opacity=".04"/><ellipse class="k" cx="214.4" cy="1300.2" rx="8.4" ry="86.6" opacity=".12"/><ellipse class="w" cx="235.5" cy="1293" rx="8.3" ry="59.4" opacity=".06"/><ellipse class="w" cx="240" cy="1288.8" rx="8.1" ry="61.7" opacity=".11"/><ellipse class="k" cx="245.6" cy="1290" rx="9.3" ry="78.9" opacity=".03"/><ellipse class="k" cx="252.9" cy="1293.7" rx="8.9" ry="89" opacity=".04"/><ellipse class="w" cx="256.8" cy="1288" rx="9" ry="56.8" opacity=".10"/><ellipse class="k" cx="262.8" cy="1282" rx="7.3" ry="87.9" opacity=".04"/><ellipse class="w" cx="271.4" cy="1293.7" rx="9.2" ry="77.9" opacity=".09"/><ellipse class="k" cx="277.6" cy="1290.2" rx="6.7" ry="70.1" opacity=".02"/><ellipse class="w" cx="288.6" cy="1296.4" rx="10.7" ry="54.5" opacity=".02"/><ellipse class="k" cx="300.4" cy="1302.1" rx="9.4" ry="66.4" opacity=".04"/><ellipse class="k" cx="306.2" cy="1299.9" rx="6.6" ry="72.9" opacity=".04"/><ellipse class="k" cx="320" cy="1292.7" rx="9.3" ry="59.2" opacity=".06"/><ellipse class="k" cx="331.8" cy="1296.6" rx="7.4" ry="57.5" opacity=".03"/><ellipse class="w" cx="337.5" cy="1306.1" rx="6.9" ry="62.7" opacity=".16"/><ellipse class="w" cx="343.9" cy="1298.4" rx="9.5" ry="77.8" opacity=".04"/><ellipse class="w" cx="356.4" cy="1300.5" rx="9.5" ry="54.6" opacity=".05"/><ellipse class="k" cx="372.6" cy="1282.5" rx="7.9" ry="84.1" opacity=".06"/><ellipse class="w" cx="381.5" cy="1286.8" rx="9.9" ry="68.4" opacity=".07"/><ellipse class="k" cx="388.7" cy="1286.9" rx="9.8" ry="71.5" opacity=".04"/><ellipse class="w" cx="394.7" cy="1283" rx="9.3" ry="53.1" opacity=".19"/><ellipse class="k" cx="400.6" cy="1300.3" rx="7.2" ry="86.3" opacity=".06"/><ellipse class="w" cx="407.9" cy="1285.5" rx="9.7" ry="48.1" opacity=".08"/><ellipse class="w" cx="413.7" cy="1305.1" rx="7" ry="83.6" opacity=".10"/><ellipse class="w" cx="427.6" cy="1295.5" rx="7.9" ry="71.3" opacity=".09"/><ellipse class="w" cx="435.5" cy="1299.9" rx="9.5" ry="55.4" opacity=".10"/><ellipse class="w" cx="444.2" cy="1301.5" rx="7.9" ry="49.3" opacity=".03"/><ellipse class="k" cx="450.8" cy="1282.1" rx="9.5" ry="70" opacity=".04"/><ellipse class="k" cx="457.2" cy="1298.9" rx="9.9" ry="61.7" opacity=".05"/><ellipse class="k" cx="461.7" cy="1301" rx="9.8" ry="51.2" opacity=".06"/><ellipse class="k" cx="467.8" cy="1296.3" rx="9" ry="87.3" opacity=".11"/><ellipse class="k" cx="475" cy="1295.9" rx="7.6" ry="60.7" opacity=".04"/><ellipse class="k" cx="480.8" cy="1282.5" rx="8.3" ry="63.1" opacity=".02"/><ellipse class="w" cx="488.9" cy="1282.7" rx="7.3" ry="53.8" opacity=".12"/><ellipse class="k" cx="494.6" cy="1282.3" rx="10.7" ry="50.3" opacity=".09"/><ellipse class="w" cx="145.6" cy="1338.2" rx="10.1" ry="51.3" opacity=".02"/><ellipse class="w" cx="152.3" cy="1338.2" rx="9" ry="66.2" opacity=".11"/><ellipse class="w" cx="158.5" cy="1317.8" rx="10" ry="89.3" opacity=".04"/><ellipse class="k" cx="165.5" cy="1322.6" rx="8.9" ry="75.9" opacity=".11"/><ellipse class="w" cx="174.7" cy="1322.6" rx="6.9" ry="67.5" opacity=".09"/><ellipse class="k" cx="178.1" cy="1335.6" rx="7.4" ry="64.8" opacity=".02"/><ellipse class="k" cx="186.5" cy="1336.3" rx="9.1" ry="54.4" opacity=".13"/><ellipse class="w" cx="193" cy="1324.5" rx="6.8" ry="73.8" opacity=".04"/><ellipse class="w" cx="204.8" cy="1323.8" rx="7.6" ry="86.3" opacity=".08"/><ellipse class="k" cx="228.7" cy="1334.3" rx="9.9" ry="52" opacity=".06"/><ellipse class="w" cx="233.5" cy="1315.3" rx="7" ry="53.1" opacity=".03"/><ellipse class="w" cx="254.1" cy="1323.4" rx="9.6" ry="57" opacity=".09"/><ellipse class="k" cx="261.5" cy="1327.8" rx="10.7" ry="61.4" opacity=".08"/><ellipse class="k" cx="267.9" cy="1333.5" rx="8.9" ry="73.6" opacity=".11"/><ellipse class="w" cx="283.2" cy="1318.4" rx="9.1" ry="55.8" opacity=".14"/><ellipse class="k" cx="296.4" cy="1323" rx="8.6" ry="66.6" opacity=".08"/><ellipse class="w" cx="308.2" cy="1321.4" rx="9.2" ry="63.9" opacity=".04"/><ellipse class="w" cx="328.4" cy="1324.7" rx="7.4" ry="68.5" opacity=".05"/><ellipse class="w" cx="334.2" cy="1329.8" rx="10.1" ry="74.2" opacity=".05"/><ellipse class="k" cx="342.9" cy="1322.2" rx="9.4" ry="89.6" opacity=".04"/><ellipse class="k" cx="350" cy="1330" rx="10.1" ry="74.2" opacity=".08"/><ellipse class="k" cx="355.9" cy="1319.2" rx="7.8" ry="70.7" opacity=".05"/><ellipse class="k" cx="362.3" cy="1317.4" rx="8.2" ry="88.5" opacity=".16"/><ellipse class="w" cx="368.5" cy="1319.4" rx="9.1" ry="72.7" opacity=".09"/><ellipse class="k" cx="375.5" cy="1317.6" rx="8.9" ry="64.3" opacity=".05"/><ellipse class="k" cx="382.2" cy="1336.5" rx="7" ry="72.2" opacity=".10"/><ellipse class="w" cx="388.1" cy="1336.1" rx="7.3" ry="80.7" opacity=".03"/><ellipse class="k" cx="403.5" cy="1314.1" rx="7.5" ry="56.8" opacity=".11"/><ellipse class="k" cx="409.9" cy="1334.6" rx="8.9" ry="64.2" opacity=".04"/><ellipse class="w" cx="416.6" cy="1338.4" rx="10.2" ry="81.7" opacity=".08"/><ellipse class="w" cx="423.1" cy="1326.3" rx="9.5" ry="56.6" opacity=".04"/><ellipse class="k" cx="428.4" cy="1330" rx="7.3" ry="72.2" opacity=".03"/><ellipse class="k" cx="433.9" cy="1327.1" rx="10" ry="62.4" opacity=".03"/><ellipse class="w" cx="440.6" cy="1320.1" rx="8.9" ry="76.1" opacity=".08"/><ellipse class="w" cx="445.7" cy="1326.7" rx="8.6" ry="59.2" opacity=".05"/><ellipse class="w" cx="453.1" cy="1322.3" rx="8.9" ry="76.7" opacity=".05"/><ellipse class="k" cx="460.1" cy="1337.9" rx="7.1" ry="79.7" opacity=".13"/><ellipse class="w" cx="474" cy="1325" rx="8.5" ry="78" opacity=".05"/><ellipse class="k" cx="481.7" cy="1330.4" rx="8.2" ry="75.6" opacity=".09"/><ellipse class="w" cx="490.4" cy="1327.6" rx="8.1" ry="82.1" opacity=".11"/><ellipse class="w" cx="495.4" cy="1335.5" rx="7.7" ry="78.1" opacity=".04"/><ellipse class="w" cx="503.6" cy="1322.8" rx="8.7" ry="74.2" opacity=".05"/><ellipse class="k" cx="142.4" cy="1350.1" rx="7.4" ry="78.3" opacity=".05"/><ellipse class="w" cx="149.7" cy="1361.1" rx="10.2" ry="68.9" opacity=".05"/><ellipse class="k" cx="167.2" cy="1356.6" rx="7.7" ry="75" opacity=".03"/><ellipse class="k" cx="173.2" cy="1358.2" rx="11.1" ry="81.3" opacity=".02"/><ellipse class="w" cx="180.1" cy="1363" rx="6.9" ry="56.1" opacity=".03"/><ellipse class="k" cx="186.8" cy="1366.6" rx="6.7" ry="69.3" opacity=".12"/><ellipse class="w" cx="192.7" cy="1361.5" rx="9" ry="60.5" opacity=".11"/><ellipse class="k" cx="198.9" cy="1365.1" rx="6.8" ry="81" opacity=".11"/><ellipse class="k" cx="206.6" cy="1347.3" rx="8.7" ry="59.1" opacity=".03"/><ellipse class="w" cx="219.5" cy="1356.8" rx="9.4" ry="63.6" opacity=".16"/><ellipse class="k" cx="224.9" cy="1348" rx="6.6" ry="49.6" opacity=".05"/><ellipse class="w" cx="234.1" cy="1347.4" rx="9.8" ry="75.2" opacity=".02"/><ellipse class="k" cx="240.5" cy="1359.3" rx="8.1" ry="75.9" opacity=".10"/><ellipse class="w" cx="245.9" cy="1370.1" rx="7" ry="81.5" opacity=".06"/><ellipse class="k" cx="252.5" cy="1346.9" rx="10.5" ry="69.1" opacity=".02"/><ellipse class="w" cx="257.4" cy="1347.1" rx="10.7" ry="68.7" opacity=".10"/><ellipse class="w" cx="265.5" cy="1361.7" rx="11.2" ry="72.1" opacity=".12"/><ellipse class="k" cx="278.3" cy="1352.9" rx="10.4" ry="66.8" opacity=".08"/><ellipse class="k" cx="284.1" cy="1360.7" rx="7.1" ry="78.3" opacity=".07"/><ellipse class="k" cx="291.9" cy="1364.3" rx="7.6" ry="69.8" opacity=".07"/><ellipse class="w" cx="296.2" cy="1367.7" rx="7.5" ry="68.2" opacity=".14"/><ellipse class="w" cx="301.7" cy="1355.6" rx="10.6" ry="70.1" opacity=".03"/><ellipse class="w" cx="308.4" cy="1351" rx="8.9" ry="52.1" opacity=".09"/><ellipse class="w" cx="321.8" cy="1356.5" rx="10.9" ry="79.7" opacity=".08"/><ellipse class="w" cx="327.2" cy="1351.6" rx="10.6" ry="83.1" opacity=".07"/><ellipse class="k" cx="334.6" cy="1361.1" rx="9.7" ry="53.4" opacity=".07"/><ellipse class="k" cx="340.8" cy="1357.3" rx="8.2" ry="79.1" opacity=".12"/><ellipse class="w" cx="347.6" cy="1370.8" rx="11.2" ry="63.4" opacity=".08"/><ellipse class="k" cx="357.7" cy="1360.4" rx="10.7" ry="66.7" opacity=".04"/><ellipse class="k" cx="364.9" cy="1355.4" rx="9.5" ry="74.2" opacity=".03"/><ellipse class="w" cx="369.4" cy="1356.3" rx="9.2" ry="74.6" opacity=".04"/><ellipse class="k" cx="376.9" cy="1369.7" rx="6.7" ry="75.6" opacity=".04"/><ellipse class="w" cx="380.5" cy="1367.4" rx="10.5" ry="59.1" opacity=".03"/><ellipse class="w" cx="388.6" cy="1365.5" rx="7.6" ry="56.2" opacity=".02"/><ellipse class="k" cx="401.3" cy="1354.3" rx="6.7" ry="78.5" opacity=".09"/><ellipse class="k" cx="409" cy="1348.9" rx="7.2" ry="77.6" opacity=".07"/><ellipse class="w" cx="412.7" cy="1361.7" rx="9.2" ry="53.1" opacity=".11"/><ellipse class="w" cx="420.8" cy="1357.6" rx="9.3" ry="79.2" opacity=".04"/><ellipse class="w" cx="428" cy="1365.2" rx="9.1" ry="73" opacity=".08"/><ellipse class="k" cx="431.4" cy="1367.2" rx="8.5" ry="67.2" opacity=".07"/><ellipse class="k" cx="439.7" cy="1369.3" rx="9.2" ry="67.8" opacity=".04"/><ellipse class="w" cx="444.8" cy="1367.1" rx="8.6" ry="80.3" opacity=".09"/><ellipse class="w" cx="451.8" cy="1359.1" rx="7.5" ry="67.6" opacity=".07"/><ellipse class="w" cx="459.1" cy="1351.7" rx="8.2" ry="72.8" opacity=".02"/><ellipse class="k" cx="465.5" cy="1354.3" rx="9.1" ry="75.6" opacity=".08"/><ellipse class="k" cx="472.8" cy="1360.3" rx="9.2" ry="80.2" opacity=".03"/><ellipse class="w" cx="478" cy="1358.8" rx="8.1" ry="51.4" opacity=".14"/><ellipse class="k" cx="484.7" cy="1368" rx="9.9" ry="73.5" opacity=".11"/><ellipse class="w" cx="491.1" cy="1350.8" rx="10.9" ry="72.4" opacity=".12"/><ellipse class="k" cx="496.7" cy="1348.7" rx="7.4" ry="66.4" opacity=".06"/><ellipse class="w" cx="144.3" cy="1395.2" rx="8.5" ry="70.8" opacity=".11"/><ellipse class="w" cx="156.1" cy="1401.5" rx="10.1" ry="63.3" opacity=".13"/><ellipse class="w" cx="172.5" cy="1383.8" rx="6.9" ry="57.7" opacity=".10"/><ellipse class="k" cx="177.3" cy="1395.6" rx="6.7" ry="57.5" opacity=".09"/><ellipse class="w" cx="189.1" cy="1386.4" rx="7.1" ry="61.8" opacity=".06"/><ellipse class="w" cx="196.2" cy="1396.6" rx="11.3" ry="77.9" opacity=".11"/><ellipse class="k" cx="210.7" cy="1395.7" rx="6.8" ry="61.4" opacity=".03"/><ellipse class="w" cx="215.5" cy="1395.9" rx="11.2" ry="60.9" opacity=".08"/><ellipse class="w" cx="223.4" cy="1402.2" rx="10.2" ry="60.3" opacity=".02"/><ellipse class="w" cx="227.1" cy="1380.3" rx="10.5" ry="70.3" opacity=".07"/><ellipse class="w" cx="233.8" cy="1401.1" rx="8.8" ry="67" opacity=".10"/><ellipse class="k" cx="241.2" cy="1379.2" rx="9.9" ry="59.6" opacity=".04"/><ellipse class="w" cx="247" cy="1385" rx="9.5" ry="48.8" opacity=".09"/><ellipse class="w" cx="253.1" cy="1397.3" rx="8.2" ry="64.6" opacity=".15"/><ellipse class="w" cx="260.8" cy="1397.3" rx="9.3" ry="47.2" opacity=".13"/><ellipse class="w" cx="267.4" cy="1399.4" rx="8.3" ry="74.9" opacity=".03"/><ellipse class="k" cx="272.9" cy="1391.5" rx="7" ry="65.8" opacity=".06"/><ellipse class="w" cx="279.3" cy="1387.4" rx="7.6" ry="51.1" opacity=".03"/><ellipse class="k" cx="291" cy="1394.4" rx="8.4" ry="72.4" opacity=".04"/><ellipse class="k" cx="298.4" cy="1402" rx="11.2" ry="63.8" opacity=".05"/><ellipse class="k" cx="306.9" cy="1400.8" rx="6.8" ry="67.7" opacity=".02"/><ellipse class="w" cx="320.2" cy="1384.8" rx="11.1" ry="64.2" opacity=".06"/><ellipse class="w" cx="324.8" cy="1398.8" rx="8.4" ry="64.9" opacity=".09"/><ellipse class="k" cx="333.3" cy="1394.2" rx="11" ry="47.1" opacity=".04"/><ellipse class="w" cx="345.5" cy="1392.5" rx="7.3" ry="46.4" opacity=".04"/><ellipse class="w" cx="360.3" cy="1391.2" rx="9.8" ry="66.8" opacity=".09"/><ellipse class="k" cx="366.3" cy="1387.6" rx="8.9" ry="53.5" opacity=".07"/><ellipse class="w" cx="387.2" cy="1390.2" rx="7.9" ry="62.7" opacity=".16"/><ellipse class="w" cx="401.8" cy="1397.2" rx="9.2" ry="66" opacity=".02"/><ellipse class="w" cx="408" cy="1384.3" rx="7.9" ry="46" opacity=".19"/><ellipse class="w" cx="420.8" cy="1383.5" rx="9.5" ry="55.8" opacity=".11"/><ellipse class="w" cx="427.6" cy="1390.6" rx="11.2" ry="76.5" opacity=".04"/><ellipse class="k" cx="432.8" cy="1392.3" rx="9.3" ry="76.9" opacity=".06"/><ellipse class="k" cx="446.5" cy="1386.9" rx="9.8" ry="45.5" opacity=".09"/><ellipse class="k" cx="452.4" cy="1391.3" rx="7.9" ry="51.4" opacity=".10"/><ellipse class="k" cx="461.1" cy="1386.1" rx="7.9" ry="53.3" opacity=".02"/><ellipse class="w" cx="466.1" cy="1397.3" rx="11.3" ry="74.1" opacity=".10"/><ellipse class="w" cx="475.4" cy="1396.3" rx="10.9" ry="70.5" opacity=".08"/><ellipse class="w" cx="480.1" cy="1395.6" rx="9.1" ry="62.2" opacity=".04"/><ellipse class="w" cx="491.4" cy="1398.3" rx="10.5" ry="75.1" opacity=".06"/><ellipse class="k" cx="498.8" cy="1399.8" rx="10.3" ry="66.6" opacity=".03"/><ellipse class="w" cx="142.1" cy="1415.3" rx="9.5" ry="68.1" opacity=".02"/><ellipse class="k" cx="150.2" cy="1415.3" rx="8.9" ry="60.3" opacity=".04"/><ellipse class="w" cx="155.4" cy="1423.4" rx="10.9" ry="52.4" opacity=".03"/><ellipse class="w" cx="161.5" cy="1434" rx="8.3" ry="54.2" opacity=".17"/><ellipse class="w" cx="174.1" cy="1423.5" rx="7.6" ry="57.7" opacity=".07"/><ellipse class="k" cx="181.9" cy="1431" rx="10.6" ry="42.4" opacity=".06"/><ellipse class="k" cx="189.5" cy="1426" rx="10.9" ry="45.3" opacity=".04"/><ellipse class="w" cx="199.2" cy="1416.4" rx="11.5" ry="42.4" opacity=".10"/><ellipse class="w" cx="205.9" cy="1435.2" rx="8.7" ry="55.4" opacity=".18"/><ellipse class="k" cx="213.1" cy="1416.2" rx="9.3" ry="47.3" opacity=".06"/><ellipse class="w" cx="226.2" cy="1416.1" rx="8.4" ry="48.4" opacity=".09"/><ellipse class="w" cx="242.7" cy="1419" rx="11.9" ry="57.1" opacity=".09"/><ellipse class="w" cx="248" cy="1430.2" rx="10.2" ry="60.3" opacity=".10"/><ellipse class="k" cx="256.6" cy="1416.6" rx="10.8" ry="46.8" opacity=".04"/><ellipse class="k" cx="262.7" cy="1424" rx="9.9" ry="59.5" opacity=".06"/><ellipse class="k" cx="272.3" cy="1427.7" rx="11.5" ry="57.5" opacity=".09"/><ellipse class="w" cx="279.1" cy="1428.8" rx="10.6" ry="55" opacity=".06"/><ellipse class="k" cx="293.9" cy="1422.8" rx="10.1" ry="68.2" opacity=".04"/><ellipse class="k" cx="299.5" cy="1413.7" rx="9.2" ry="58.9" opacity=".05"/><ellipse class="w" cx="306.8" cy="1434.7" rx="7.7" ry="61.9" opacity=".05"/><ellipse class="k" cx="314.9" cy="1422.2" rx="11.6" ry="64.7" opacity=".05"/><ellipse class="k" cx="321.8" cy="1411.3" rx="7.4" ry="54.4" opacity=".05"/><ellipse class="w" cx="328.3" cy="1426" rx="8.6" ry="47.5" opacity=".07"/><ellipse class="w" cx="350.5" cy="1411.6" rx="9.2" ry="56" opacity=".05"/><ellipse class="w" cx="370.8" cy="1427.5" rx="7.4" ry="42.3" opacity=".18"/><ellipse class="w" cx="380.2" cy="1417.8" rx="9.3" ry="63.8" opacity=".08"/><ellipse class="k" cx="387.4" cy="1430" rx="10.5" ry="51.7" opacity=".13"/><ellipse class="w" cx="391.4" cy="1418.8" rx="10.5" ry="49.5" opacity=".19"/><ellipse class="k" cx="397.3" cy="1429.8" rx="10.2" ry="55" opacity=".07"/><ellipse class="k" cx="405" cy="1425.3" rx="9.9" ry="59.8" opacity=".03"/><ellipse class="w" cx="409.8" cy="1432.1" rx="11.6" ry="61.1" opacity=".15"/><ellipse class="w" cx="418.4" cy="1416.9" rx="10.3" ry="54" opacity=".16"/><ellipse class="w" cx="427.2" cy="1427.3" rx="8.3" ry="64.6" opacity=".10"/><ellipse class="k" cx="432" cy="1412.8" rx="11.1" ry="51.9" opacity=".05"/><ellipse class="k" cx="438.7" cy="1421.6" rx="10.3" ry="45.7" opacity=".07"/><ellipse class="k" cx="449.2" cy="1429.8" rx="10.1" ry="63.4" opacity=".03"/><ellipse class="k" cx="452.4" cy="1427" rx="9.8" ry="48.4" opacity=".02"/><ellipse class="k" cx="466" cy="1422.9" rx="7.5" ry="50.3" opacity=".03"/><ellipse class="k" cx="476" cy="1420.7" rx="10.7" ry="71.1" opacity=".02"/><ellipse class="k" cx="480.7" cy="1426.3" rx="11.4" ry="59.1" opacity=".08"/><ellipse class="w" cx="486.8" cy="1432.8" rx="8.3" ry="66.9" opacity=".05"/><ellipse class="w" cx="493.5" cy="1412.3" rx="7.4" ry="56.2" opacity=".08"/><ellipse class="k" cx="141.2" cy="1442.5" rx="12" ry="45.3" opacity=".05"/><ellipse class="k" cx="151.5" cy="1445.4" rx="15.1" ry="38.5" opacity=".04"/><ellipse class="w" cx="161.1" cy="1460.6" rx="17.2" ry="36.9" opacity=".09"/><ellipse class="k" cx="171.4" cy="1459.5" rx="13.3" ry="37.1" opacity=".04"/><ellipse class="w" cx="178.8" cy="1458.4" rx="15.9" ry="45.6" opacity=".05"/><ellipse class="w" cx="188.3" cy="1452.5" rx="13.6" ry="33" opacity=".04"/><ellipse class="k" cx="213" cy="1443" rx="9.3" ry="48.9" opacity=".09"/><ellipse class="w" cx="222.7" cy="1456" rx="18" ry="50.9" opacity=".04"/><ellipse class="k" cx="233.9" cy="1453" rx="11.4" ry="52.5" opacity=".05"/><ellipse class="k" cx="242.2" cy="1457.9" rx="15" ry="31.2" opacity=".03"/><ellipse class="w" cx="263.2" cy="1462.8" rx="16.6" ry="43.9" opacity=".14"/><ellipse class="w" cx="268.9" cy="1460.1" rx="13.4" ry="37" opacity=".06"/><ellipse class="k" cx="295.4" cy="1462.5" rx="13.4" ry="47.8" opacity=".03"/><ellipse class="k" cx="311.1" cy="1446.5" rx="12.1" ry="48" opacity=".12"/><ellipse class="w" cx="317.5" cy="1454.8" rx="9.1" ry="51.4" opacity=".09"/><ellipse class="k" cx="328" cy="1459.8" rx="11" ry="32.3" opacity=".06"/><ellipse class="w" cx="354.8" cy="1458.8" rx="10.3" ry="33.3" opacity=".04"/><ellipse class="k" cx="364.5" cy="1447.8" rx="15.6" ry="42.1" opacity=".07"/><ellipse class="k" cx="372" cy="1454.5" rx="10.9" ry="34.2" opacity=".05"/><ellipse class="k" cx="381.6" cy="1443.9" rx="13" ry="34.2" opacity=".15"/><ellipse class="w" cx="397.2" cy="1459.7" rx="12.6" ry="42.4" opacity=".04"/><ellipse class="k" cx="408.3" cy="1451.9" rx="9.7" ry="51.6" opacity=".05"/><ellipse class="k" cx="426.7" cy="1440.6" rx="9.6" ry="34.2" opacity=".16"/><ellipse class="w" cx="435.9" cy="1450.6" rx="15.6" ry="38.1" opacity=".06"/><ellipse class="w" cx="445.1" cy="1447.8" rx="16.2" ry="48.2" opacity=".07"/><ellipse class="k" cx="461.9" cy="1464.6" rx="14" ry="38.8" opacity=".02"/><ellipse class="k" cx="471.1" cy="1451.9" rx="16.3" ry="40.8" opacity=".02"/><ellipse class="k" cx="478.1" cy="1464.3" rx="15.7" ry="33.9" opacity=".04"/><ellipse class="k" cx="487.5" cy="1443.6" rx="14.6" ry="47.6" opacity=".04"/><ellipse class="w" cx="390.7" cy="1532.9" rx="37.8" ry="17.9" opacity=".18"/><ellipse class="k" cx="318.3" cy="1517.3" rx="62.1" ry="21" opacity=".06"/><ellipse class="k" cx="434.6" cy="1492.9" rx="49.6" ry="15.7" opacity=".05"/><ellipse class="w" cx="139.2" cy="1520.2" rx="46.9" ry="12.1" opacity=".12"/><ellipse class="k" cx="251.1" cy="1528.7" rx="74.7" ry="19.7" opacity=".01"/><ellipse class="k" cx="401.2" cy="1501.4" rx="80.8" ry="20.8" opacity=".02"/><ellipse class="k" cx="288.6" cy="1484.6" rx="71" ry="12.3" opacity=".08"/><ellipse class="w" cx="441.1" cy="1491.4" rx="71.9" ry="16.7" opacity=".09"/><ellipse class="w" cx="494.7" cy="1514.1" rx="43.9" ry="18.4" opacity=".13"/><ellipse class="w" cx="214.3" cy="1523.2" rx="59.5" ry="16.3" opacity=".07"/><ellipse class="w" cx="314.4" cy="1533.4" rx="74.9" ry="14.4" opacity=".18"/><ellipse class="w" cx="414.7" cy="1502.5" rx="59.4" ry="17.4" opacity=".05"/><ellipse class="k" cx="479.8" cy="1519.1" rx="52.7" ry="16.1" opacity=".00"/><ellipse class="w" cx="272.1" cy="1537.2" rx="64.6" ry="15.9" opacity=".02"/><ellipse class="w" cx="409.8" cy="1518.6" rx="42.8" ry="20.4" opacity=".13"/><ellipse class="w" cx="212.6" cy="1482.9" rx="80.8" ry="20.8" opacity=".05"/><ellipse class="w" cx="336.5" cy="1523.7" rx="78.5" ry="13" opacity=".18"/><ellipse class="w" cx="199.3" cy="1496.3" rx="80" ry="19.3" opacity=".13"/><ellipse class="w" cx="212" cy="1493.4" rx="38.3" ry="14.6" opacity=".05"/><ellipse class="w" cx="285.3" cy="1496.5" rx="42.7" ry="12.1" opacity=".09"/><ellipse class="k" cx="456.6" cy="1538" rx="59.9" ry="20.9" opacity=".16"/><ellipse class="k" cx="272.2" cy="1515" rx="80.9" ry="20.6" opacity=".10"/><ellipse class="w" cx="275.5" cy="1539" rx="68.2" ry="14.6" opacity=".00"/><ellipse class="k" cx="150.8" cy="1514.3" rx="57.8" ry="12" opacity=".10"/><ellipse class="k" cx="452.3" cy="1504.7" rx="67.2" ry="18.1" opacity=".18"/><ellipse class="k" cx="336.5" cy="1506.7" rx="63.3" ry="18.2" opacity=".16"/><ellipse class="k" cx="315.5" cy="1527.3" rx="54.5" ry="13.6" opacity=".01"/><ellipse class="w" cx="342.9" cy="1495.7" rx="51.3" ry="14.9" opacity=".10"/><ellipse class="w" cx="368.9" cy="1534.2" rx="75.2" ry="12.5" opacity=".18"/><ellipse class="w" cx="160.1" cy="1525.7" rx="34.3" ry="18.9" opacity=".03"/><ellipse class="w" cx="328" cy="1532.5" rx="66.9" ry="19.6" opacity=".01"/><ellipse class="k" cx="258.7" cy="1514.1" rx="30" ry="12.4" opacity=".01"/><ellipse class="k" cx="206.1" cy="1514.3" rx="65.4" ry="14.8" opacity=".13"/><ellipse class="w" cx="190.1" cy="1514" rx="30.9" ry="13.8" opacity=".03"/><ellipse class="w" cx="292" cy="1376" rx="18" ry="36" opacity=".23"/><ellipse class="w" cx="301.6" cy="1376" rx="18" ry="36" opacity=".23"/><ellipse class="w" cx="311.2" cy="1376" rx="18" ry="36" opacity=".23"/><ellipse class="w" cx="320.8" cy="1376" rx="18" ry="36" opacity=".23"/><ellipse class="w" cx="330.4" cy="1376" rx="18" ry="36" opacity=".23"/><ellipse class="w" cx="340" cy="1376" rx="18" ry="36" opacity=".23"/><ellipse class="w" cx="349.6" cy="1376" rx="18" ry="36" opacity=".23"/><ellipse class="w" cx="359.2" cy="1376" rx="18" ry="36" opacity=".23"/><ellipse class="w" cx="368.8" cy="1376" rx="18" ry="36" opacity=".23"/><ellipse class="w" cx="378.4" cy="1376" rx="18" ry="36" opacity=".23"/><ellipse class="w" cx="388" cy="1376" rx="18" ry="36" opacity=".23"/><ellipse class="k" cx="230" cy="1538" rx="105" ry="12" opacity=".30"/><ellipse class="w" cx="146" cy="1537" rx="30" ry="15" opacity=".50"/><ellipse class="k" cx="305" cy="1480" rx="45" ry="30" opacity=".25"/><ellipse class="k" cx="294.6" cy="1469" rx="12" ry="24" opacity=".55"/><ellipse class="w" cx="364" cy="1458" rx="15" ry="18" opacity=".25"/><ellipse class="w" cx="398" cy="1492" rx="27" ry="18" opacity=".23"/><ellipse class="w" cx="398" cy="1494" rx="12" ry="9" opacity=".12"/><ellipse class="w" cx="383" cy="1348" rx="7.5" ry="36" opacity=".20"/><ellipse class="w" cx="302" cy="1378" rx="18" ry="33" opacity=".40"/><ellipse class="w" cx="328.5" cy="1375" rx="15" ry="33" opacity=".53"/><ellipse class="w" cx="352" cy="1374" rx="10.5" ry="30" opacity=".53"/><ellipse class="w" cx="365.5" cy="1375" rx="13.5" ry="30" opacity=".35"/><ellipse class="w" cx="383" cy="1372" rx="10.5" ry="36" opacity=".35"/><ellipse class="w" cx="292" cy="1535" rx="27" ry="24" opacity=".23"/><ellipse class="w" cx="308" cy="1535" rx="27" ry="27" opacity=".23"/><ellipse class="w" cx="324" cy="1535" rx="27" ry="28.5" opacity=".23"/><ellipse class="w" cx="340" cy="1535" rx="27" ry="30" opacity=".23"/><ellipse class="w" cx="356" cy="1535" rx="27" ry="30" opacity=".23"/><ellipse class="w" cx="372" cy="1535" rx="27" ry="31.5" opacity=".23"/><ellipse class="w" cx="388" cy="1535" rx="27" ry="31.5" opacity=".23"/><ellipse class="w" cx="404" cy="1535" rx="27" ry="31.5" opacity=".23"/><ellipse class="w" cx="420" cy="1535" rx="27" ry="31.5" opacity=".23"/><ellipse class="w" cx="436" cy="1535" rx="27" ry="30" opacity=".23"/><ellipse class="w" cx="452" cy="1535" rx="27" ry="28.5" opacity=".23"/><ellipse class="w" cx="466" cy="1535" rx="27" ry="25.5" opacity=".23"/><ellipse class="w" cx="478" cy="1535" rx="27" ry="21" opacity=".23"/><ellipse class="w" cx="292" cy="1538" rx="27" ry="15" opacity=".30"/><ellipse class="w" cx="308" cy="1538" rx="27" ry="18" opacity=".40"/><ellipse class="w" cx="324" cy="1538" rx="27" ry="19.5" opacity=".47"/><ellipse class="w" cx="340" cy="1538" rx="27" ry="21" opacity=".53"/><ellipse class="w" cx="356" cy="1538" rx="27" ry="21" opacity=".55"/><ellipse class="w" cx="372" cy="1538" rx="27" ry="22.5" opacity=".57"/><ellipse class="w" cx="388" cy="1538" rx="27" ry="22.5" opacity=".60"/><ellipse class="w" cx="404" cy="1538" rx="27" ry="22.5" opacity=".60"/><ellipse class="w" cx="420" cy="1538" rx="27" ry="22.5" opacity=".60"/><ellipse class="w" cx="436" cy="1538" rx="27" ry="21" opacity=".57"/><ellipse class="w" cx="452" cy="1538" rx="27" ry="19.5" opacity=".50"/><ellipse class="w" cx="466" cy="1538" rx="27" ry="16.5" opacity=".40"/><ellipse class="w" cx="478" cy="1538" rx="27" ry="12" opacity=".25"/><ellipse class="w" cx="360" cy="1538" rx="36" ry="12" opacity=".35"/><ellipse class="w" cx="385" cy="1538" rx="36" ry="13.5" opacity=".50"/><ellipse class="w" cx="410" cy="1538" rx="36" ry="15" opacity=".65"/><ellipse class="w" cx="430" cy="1538" rx="30" ry="13.5" opacity=".60"/></g></g>
<path d="M145.0 1289.5H499.5" stroke="#b8c8b8" stroke-width="1.2" opacity=".7" fill="none"/>
<path d="M146.1 1270.2C147.3 1270.6 151.2 1273.7 153.4 1272.6C155.6 1271.5 157.4 1263.3 159.5 1263.6C161.5 1263.9 163.3 1273.4 165.6 1274.3C167.8 1275.2 170.6 1268.2 172.9 1269.0C175.1 1269.7 176.7 1275.9 179.0 1278.7C181.2 1281.5 183.4 1287.1 186.3 1285.5C189.1 1283.9 193.6 1271.4 196.0 1269.0C198.4 1266.5 199.0 1269.3 200.9 1270.9C202.7 1272.5 204.7 1279.8 207.0 1278.7C209.2 1277.6 212.2 1266.3 214.3 1264.6C216.3 1262.9 217.5 1267.9 219.1 1268.5C220.8 1269.0 222.0 1267.1 224.0 1267.7C226.0 1268.4 229.1 1273.7 231.3 1272.6C233.5 1271.5 235.6 1261.9 237.4 1260.9C239.2 1259.9 240.6 1265.9 242.3 1266.5C243.9 1267.1 245.1 1262.1 247.1 1264.6C249.2 1267.0 252.0 1278.6 254.4 1281.1C256.9 1283.7 259.7 1280.5 261.7 1279.9C263.8 1279.3 264.8 1278.9 266.6 1277.5C268.4 1276.1 270.5 1272.7 272.7 1271.4C274.9 1270.1 277.4 1271.9 280.0 1269.4C282.6 1267.0 285.9 1262.2 288.5 1256.8C291.2 1251.3 293.6 1240.0 295.8 1236.8C298.1 1233.7 299.5 1236.3 301.9 1237.8C304.4 1239.3 308.2 1244.7 310.4 1245.8C312.7 1247.0 313.9 1244.6 315.3 1244.6C316.7 1244.6 317.3 1248.3 319.0 1245.8C320.6 1243.3 323.0 1231.7 325.0 1229.5C327.1 1227.3 328.9 1228.1 331.1 1232.4C333.4 1236.8 336.4 1251.6 338.4 1255.6C340.5 1259.5 341.3 1260.8 343.3 1256.3C345.3 1251.8 348.6 1231.3 350.6 1228.8C352.6 1226.2 354.3 1238.3 355.5 1241.0C356.7 1243.6 356.9 1244.7 357.9 1244.6C358.9 1244.5 359.9 1240.8 361.6 1240.2C363.2 1239.6 365.6 1239.6 367.7 1241.0C369.7 1242.3 371.5 1248.8 373.7 1248.3C376.0 1247.7 379.2 1238.8 381.1 1237.8C382.9 1236.8 383.3 1237.8 384.7 1242.2C386.1 1246.6 387.7 1259.0 389.6 1264.1C391.4 1269.2 393.6 1271.6 395.7 1272.6C397.7 1273.6 399.7 1272.7 401.7 1270.2C403.8 1267.7 406.2 1259.0 407.8 1257.5C409.5 1256.0 410.1 1258.9 411.5 1261.2C412.9 1263.5 414.5 1270.4 416.4 1271.4C418.2 1272.4 420.0 1266.0 422.4 1267.0C424.9 1268.0 428.3 1277.2 431.0 1277.5C433.6 1277.8 435.8 1269.4 438.3 1269.0C440.7 1268.5 443.1 1276.0 445.6 1274.6C448.0 1273.1 450.6 1261.2 452.9 1260.4C455.1 1259.7 457.1 1268.6 459.0 1270.2C460.8 1271.8 462.0 1269.6 463.8 1270.2C465.7 1270.7 468.3 1273.1 469.9 1273.3C471.5 1273.5 472.4 1270.5 473.6 1271.4C474.8 1272.3 475.8 1278.3 477.2 1278.7C478.6 1279.1 479.9 1274.6 482.1 1273.8C484.3 1273.0 488.2 1274.4 490.6 1273.8C493.1 1273.2 495.7 1270.8 496.7 1270.2" stroke="#722a3e" stroke-width="2.4" fill="none" stroke-linejoin="round" stroke-linecap="round"/>
<path d="M269.5 1181.4V1537.2" stroke="#333" stroke-width="1.3" stroke-dasharray="2 2" fill="none"/>
<rect x="536.8" y="1180.4" width="354.8" height="108.8" fill="#fff"/>
<path d="M548.8 1180.4V1289.2M560.3 1180.4V1289.2M571.7 1180.4V1289.2M583.2 1180.4V1289.2M594.6 1180.4V1289.2M606.1 1180.4V1289.2M617.5 1180.4V1289.2M629.0 1180.4V1289.2M640.4 1180.4V1289.2M651.9 1180.4V1289.2M663.3 1180.4V1289.2M674.7 1180.4V1289.2M686.2 1180.4V1289.2M697.6 1180.4V1289.2M709.1 1180.4V1289.2M720.5 1180.4V1289.2M732.0 1180.4V1289.2M743.4 1180.4V1289.2M754.9 1180.4V1289.2M766.3 1180.4V1289.2M777.8 1180.4V1289.2M789.2 1180.4V1289.2M800.6 1180.4V1289.2M812.1 1180.4V1289.2M823.5 1180.4V1289.2M835.0 1180.4V1289.2M846.4 1180.4V1289.2M857.9 1180.4V1289.2M869.3 1180.4V1289.2M880.8 1180.4V1289.2" stroke="#f7f7f7" stroke-width="1" fill="none"/>
<path d="M548.8 1180.4V1289.2M606.1 1180.4V1289.2M720.5 1180.4V1289.2M777.8 1180.4V1289.2M835.0 1180.4V1289.2" stroke="#ebebeb" stroke-width="1.1" fill="none"/>
<path d="M536.8 1271.6H891.6" stroke="#ebebeb" stroke-width="1.2" fill="none"/>
<rect x="536.8" y="1180.4" width="354.8" height="108.8" fill="none" stroke="#ababab" stroke-width="1.4"/>
<path d="M536.8 1235.9h4M891.6 1235.9h-4M536.8 1200.2h4M891.6 1200.2h-4" stroke="#d0d0d0" stroke-width="1.2" fill="none"/>
<g clip-path="url(#hc4)"><g filter="url(#jet)"><rect x="534.8" y="1287.2" width="358.8" height="252.0" fill="#808080"/><ellipse class="w" cx="534.7" cy="1294.3" rx="8.2" ry="78.5" opacity=".06"/><ellipse class="k" cx="547.6" cy="1306.4" rx="10.2" ry="63.5" opacity=".04"/><ellipse class="w" cx="569.4" cy="1298.3" rx="9.4" ry="76.5" opacity=".13"/><ellipse class="k" cx="583.5" cy="1300.7" rx="7.7" ry="50" opacity=".08"/><ellipse class="k" cx="596.6" cy="1283.1" rx="9.7" ry="51.1" opacity=".16"/><ellipse class="w" cx="607" cy="1282.7" rx="10.8" ry="49.6" opacity=".03"/><ellipse class="k" cx="614.1" cy="1291.8" rx="9.4" ry="68.5" opacity=".09"/><ellipse class="w" cx="620.4" cy="1297.1" rx="6.9" ry="73.8" opacity=".05"/><ellipse class="w" cx="643.5" cy="1305.7" rx="9.4" ry="87.8" opacity=".03"/><ellipse class="k" cx="649.4" cy="1301.6" rx="7.2" ry="87.4" opacity=".08"/><ellipse class="w" cx="653.6" cy="1300.4" rx="10.3" ry="51.8" opacity=".14"/><ellipse class="w" cx="661" cy="1285.8" rx="7" ry="72" opacity=".14"/><ellipse class="w" cx="668.5" cy="1288.3" rx="8.9" ry="60.1" opacity=".07"/><ellipse class="w" cx="676.5" cy="1298.1" rx="8.5" ry="84.4" opacity=".04"/><ellipse class="w" cx="688.5" cy="1306.4" rx="8" ry="61.9" opacity=".13"/><ellipse class="k" cx="695" cy="1303.9" rx="7.9" ry="81.2" opacity=".07"/><ellipse class="k" cx="703.3" cy="1303.4" rx="9.3" ry="73.5" opacity=".10"/><ellipse class="w" cx="716.7" cy="1295.8" rx="6.7" ry="68.5" opacity=".02"/><ellipse class="w" cx="724.3" cy="1303.8" rx="9.6" ry="82.9" opacity=".19"/><ellipse class="k" cx="732.7" cy="1297.7" rx="8.3" ry="85.5" opacity=".03"/><ellipse class="k" cx="737.5" cy="1301.8" rx="8" ry="70.8" opacity=".02"/><ellipse class="k" cx="744.1" cy="1292.7" rx="9.3" ry="73.4" opacity=".11"/><ellipse class="k" cx="749.7" cy="1291.4" rx="8.6" ry="71.3" opacity=".15"/><ellipse class="w" cx="758.9" cy="1292.3" rx="10.5" ry="71.5" opacity=".10"/><ellipse class="w" cx="765.3" cy="1301" rx="6.8" ry="86.7" opacity=".03"/><ellipse class="w" cx="771" cy="1292.2" rx="10.7" ry="67.7" opacity=".09"/><ellipse class="w" cx="777" cy="1291.1" rx="10.7" ry="54.9" opacity=".08"/><ellipse class="k" cx="784.3" cy="1283.2" rx="8.3" ry="74.7" opacity=".04"/><ellipse class="w" cx="789.9" cy="1290.6" rx="9.7" ry="50.7" opacity=".05"/><ellipse class="k" cx="802" cy="1283.8" rx="9.5" ry="70" opacity=".15"/><ellipse class="w" cx="814.7" cy="1283.3" rx="9.2" ry="62.5" opacity=".13"/><ellipse class="k" cx="822.2" cy="1287.8" rx="8.9" ry="65.1" opacity=".08"/><ellipse class="k" cx="830.7" cy="1295" rx="7.7" ry="62.1" opacity=".07"/><ellipse class="k" cx="835.1" cy="1303.1" rx="8.4" ry="53.9" opacity=".10"/><ellipse class="k" cx="841.4" cy="1285.7" rx="8.5" ry="81.6" opacity=".09"/><ellipse class="k" cx="854" cy="1291.2" rx="7.5" ry="60.3" opacity=".02"/><ellipse class="w" cx="859.3" cy="1306.2" rx="8.6" ry="55.3" opacity=".08"/><ellipse class="k" cx="868.9" cy="1296.3" rx="9.3" ry="86.3" opacity=".12"/><ellipse class="k" cx="872.9" cy="1306.1" rx="10.1" ry="49.5" opacity=".06"/><ellipse class="w" cx="884.9" cy="1288.1" rx="9.4" ry="78.5" opacity=".09"/><ellipse class="w" cx="892.9" cy="1288.9" rx="8.6" ry="80.9" opacity=".02"/><ellipse class="w" cx="535.4" cy="1319.8" rx="7" ry="72.6" opacity=".05"/><ellipse class="k" cx="548.9" cy="1320.5" rx="6.9" ry="72.3" opacity=".04"/><ellipse class="k" cx="553" cy="1325.6" rx="7.6" ry="55.4" opacity=".15"/><ellipse class="w" cx="561" cy="1326.9" rx="7.2" ry="73.6" opacity=".10"/><ellipse class="w" cx="567.1" cy="1328.3" rx="10.3" ry="89.7" opacity=".09"/><ellipse class="w" cx="572.6" cy="1330.4" rx="10.7" ry="50" opacity=".09"/><ellipse class="w" cx="580.5" cy="1323.4" rx="7" ry="59.3" opacity=".06"/><ellipse class="w" cx="594.1" cy="1328.8" rx="9.8" ry="61.1" opacity=".06"/><ellipse class="w" cx="600.1" cy="1333.6" rx="6.9" ry="61.2" opacity=".03"/><ellipse class="w" cx="614.7" cy="1318.3" rx="6.8" ry="50.7" opacity=".04"/><ellipse class="w" cx="622.3" cy="1321.6" rx="9" ry="88.8" opacity=".02"/><ellipse class="w" cx="628.4" cy="1333.2" rx="7.3" ry="89.2" opacity=".03"/><ellipse class="k" cx="635.2" cy="1324.7" rx="10.3" ry="68" opacity=".02"/><ellipse class="k" cx="640.3" cy="1325.7" rx="10.4" ry="81.2" opacity=".03"/><ellipse class="w" cx="646.4" cy="1322.3" rx="6.8" ry="50.5" opacity=".03"/><ellipse class="w" cx="667.4" cy="1320.3" rx="9.5" ry="52.2" opacity=".15"/><ellipse class="w" cx="676" cy="1324.8" rx="9.2" ry="53.4" opacity=".13"/><ellipse class="w" cx="682.3" cy="1338.2" rx="8.3" ry="82.9" opacity=".18"/><ellipse class="w" cx="699.1" cy="1319.6" rx="9.6" ry="87.2" opacity=".06"/><ellipse class="k" cx="704.7" cy="1336" rx="8.4" ry="70.4" opacity=".05"/><ellipse class="k" cx="712.1" cy="1327.5" rx="10.6" ry="49.6" opacity=".02"/><ellipse class="w" cx="719.2" cy="1328.7" rx="10.2" ry="53.7" opacity=".09"/><ellipse class="w" cx="723.1" cy="1327.5" rx="7.8" ry="79.1" opacity=".15"/><ellipse class="w" cx="728.8" cy="1316.3" rx="7.7" ry="68.9" opacity=".04"/><ellipse class="w" cx="736" cy="1337" rx="8.4" ry="68.9" opacity=".15"/><ellipse class="k" cx="741.1" cy="1325.6" rx="10" ry="79.8" opacity=".12"/><ellipse class="w" cx="746.7" cy="1320.9" rx="10.5" ry="48.4" opacity=".07"/><ellipse class="w" cx="755.1" cy="1317.8" rx="7.4" ry="62.5" opacity=".05"/><ellipse class="k" cx="761.3" cy="1338.6" rx="7.4" ry="88.9" opacity=".08"/><ellipse class="k" cx="767.5" cy="1316.2" rx="6.8" ry="59.7" opacity=".12"/><ellipse class="w" cx="778.4" cy="1320.9" rx="10.2" ry="82.6" opacity=".10"/><ellipse class="w" cx="794.5" cy="1322.8" rx="7.5" ry="57.3" opacity=".09"/><ellipse class="w" cx="801.2" cy="1335.5" rx="8.2" ry="61.5" opacity=".07"/><ellipse class="w" cx="805.1" cy="1331.3" rx="9.9" ry="81.6" opacity=".07"/><ellipse class="w" cx="823.5" cy="1316.9" rx="8.1" ry="51" opacity=".05"/><ellipse class="k" cx="830.9" cy="1338.2" rx="10.1" ry="63.8" opacity=".03"/><ellipse class="w" cx="838.2" cy="1331.8" rx="9.5" ry="68.9" opacity=".03"/><ellipse class="k" cx="843.4" cy="1335.3" rx="8.8" ry="76.8" opacity=".10"/><ellipse class="k" cx="849" cy="1330.2" rx="6.7" ry="80.1" opacity=".05"/><ellipse class="w" cx="855.5" cy="1334.8" rx="10.6" ry="57.1" opacity=".04"/><ellipse class="w" cx="871.1" cy="1336" rx="9.6" ry="56.5" opacity=".08"/><ellipse class="k" cx="875.2" cy="1318.2" rx="9.4" ry="85.8" opacity=".03"/><ellipse class="w" cx="881.4" cy="1332.7" rx="9.6" ry="58.5" opacity=".08"/><ellipse class="k" cx="888.3" cy="1319.6" rx="9.2" ry="64.3" opacity=".04"/><ellipse class="w" cx="894.2" cy="1317.7" rx="6.9" ry="65" opacity=".09"/><ellipse class="k" cx="537.5" cy="1369" rx="9.3" ry="64.5" opacity=".08"/><ellipse class="k" cx="543.8" cy="1360.1" rx="11" ry="48.9" opacity=".11"/><ellipse class="k" cx="551.6" cy="1368.8" rx="8.6" ry="75.9" opacity=".04"/><ellipse class="w" cx="557.3" cy="1346.4" rx="6.8" ry="66.8" opacity=".13"/><ellipse class="w" cx="570.9" cy="1367.7" rx="6.9" ry="78.1" opacity=".03"/><ellipse class="w" cx="577" cy="1357.6" rx="8.8" ry="80.6" opacity=".05"/><ellipse class="w" cx="580.7" cy="1360.7" rx="10" ry="48.1" opacity=".13"/><ellipse class="w" cx="592.7" cy="1360.4" rx="9.7" ry="77.2" opacity=".04"/><ellipse class="w" cx="604.9" cy="1353.5" rx="11.2" ry="80.4" opacity=".08"/><ellipse class="k" cx="618.9" cy="1359.7" rx="7.5" ry="51" opacity=".06"/><ellipse class="w" cx="626.2" cy="1369.2" rx="11" ry="79" opacity=".03"/><ellipse class="k" cx="632.9" cy="1365.4" rx="11.1" ry="55.8" opacity=".08"/><ellipse class="w" cx="637.6" cy="1370.1" rx="10.2" ry="50" opacity=".07"/><ellipse class="w" cx="645.2" cy="1358.6" rx="7.8" ry="56" opacity=".08"/><ellipse class="k" cx="653.4" cy="1364.3" rx="9.8" ry="62.7" opacity=".08"/><ellipse class="w" cx="658.8" cy="1370.9" rx="8.9" ry="77.8" opacity=".05"/><ellipse class="k" cx="682.8" cy="1358.8" rx="6.8" ry="71.7" opacity=".03"/><ellipse class="w" cx="688.5" cy="1357.7" rx="6.7" ry="63.2" opacity=".03"/><ellipse class="k" cx="701.6" cy="1361.2" rx="7.1" ry="71.8" opacity=".16"/><ellipse class="k" cx="705.5" cy="1361.9" rx="8" ry="82.6" opacity=".02"/><ellipse class="k" cx="712" cy="1347.9" rx="11.3" ry="78.8" opacity=".08"/><ellipse class="w" cx="717.8" cy="1368.3" rx="9.8" ry="64.2" opacity=".05"/><ellipse class="k" cx="725.4" cy="1355.3" rx="10.8" ry="70.5" opacity=".04"/><ellipse class="w" cx="730.8" cy="1358.6" rx="10" ry="57.3" opacity=".04"/><ellipse class="w" cx="738.9" cy="1369.1" rx="8.6" ry="64.6" opacity=".04"/><ellipse class="w" cx="745.7" cy="1346.3" rx="8.5" ry="77" opacity=".04"/><ellipse class="w" cx="759.7" cy="1352.6" rx="8" ry="60.7" opacity=".10"/><ellipse class="k" cx="766" cy="1354" rx="10.9" ry="79.2" opacity=".03"/><ellipse class="k" cx="772.9" cy="1347.9" rx="7.8" ry="66.2" opacity=".06"/><ellipse class="k" cx="778.7" cy="1357.5" rx="11.2" ry="66" opacity=".09"/><ellipse class="w" cx="785.1" cy="1366.2" rx="9.6" ry="58.6" opacity=".05"/><ellipse class="w" cx="790.9" cy="1354.8" rx="11" ry="48.6" opacity=".09"/><ellipse class="k" cx="817.8" cy="1352.3" rx="9.8" ry="51.8" opacity=".05"/><ellipse class="k" cx="826.2" cy="1367.8" rx="8.6" ry="59.6" opacity=".05"/><ellipse class="w" cx="832.2" cy="1351.7" rx="8.5" ry="62.9" opacity=".13"/><ellipse class="k" cx="838.7" cy="1359.9" rx="8.7" ry="50.1" opacity=".12"/><ellipse class="k" cx="844.3" cy="1352.5" rx="9.7" ry="51" opacity=".07"/><ellipse class="w" cx="859.5" cy="1354.4" rx="10.6" ry="67.5" opacity=".10"/><ellipse class="k" cx="864.6" cy="1369.8" rx="7.2" ry="51.2" opacity=".07"/><ellipse class="w" cx="869.8" cy="1362.9" rx="11.3" ry="75.5" opacity=".10"/><ellipse class="w" cx="878.6" cy="1351.4" rx="7.4" ry="78.8" opacity=".09"/><ellipse class="w" cx="885.4" cy="1366.7" rx="9.8" ry="74.2" opacity=".14"/><ellipse class="w" cx="890.5" cy="1360.1" rx="9.1" ry="55.2" opacity=".03"/><ellipse class="k" cx="533" cy="1397.4" rx="7.3" ry="57.2" opacity=".12"/><ellipse class="k" cx="538.2" cy="1383.1" rx="7.9" ry="60" opacity=".08"/><ellipse class="w" cx="546.1" cy="1392.9" rx="10.1" ry="48.9" opacity=".08"/><ellipse class="w" cx="552" cy="1398.3" rx="9.8" ry="68.6" opacity=".10"/><ellipse class="k" cx="556.3" cy="1380.3" rx="8" ry="51.5" opacity=".12"/><ellipse class="w" cx="570.9" cy="1396" rx="7.2" ry="67.3" opacity=".06"/><ellipse class="w" cx="578.3" cy="1402.9" rx="7.2" ry="64.7" opacity=".08"/><ellipse class="w" cx="584.1" cy="1403.3" rx="7.1" ry="46.3" opacity=".12"/><ellipse class="w" cx="608.2" cy="1401.3" rx="10" ry="68.1" opacity=".18"/><ellipse class="k" cx="626.8" cy="1388.4" rx="7.9" ry="74.5" opacity=".05"/><ellipse class="k" cx="636" cy="1388.1" rx="9.9" ry="47.5" opacity=".06"/><ellipse class="k" cx="641.6" cy="1392.3" rx="11.2" ry="45.6" opacity=".07"/><ellipse class="w" cx="654.8" cy="1384.2" rx="9.5" ry="49.8" opacity=".15"/><ellipse class="w" cx="662.7" cy="1396.3" rx="9.7" ry="59.1" opacity=".12"/><ellipse class="w" cx="668.6" cy="1403.1" rx="7.5" ry="47.1" opacity=".09"/><ellipse class="w" cx="675.8" cy="1397.3" rx="10.6" ry="75.2" opacity=".10"/><ellipse class="k" cx="686.4" cy="1396" rx="7.6" ry="65.8" opacity=".05"/><ellipse class="k" cx="693.5" cy="1402.7" rx="9.7" ry="68" opacity=".06"/><ellipse class="k" cx="704.3" cy="1384.6" rx="8.3" ry="47.1" opacity=".03"/><ellipse class="w" cx="717.4" cy="1390.4" rx="8.6" ry="69.5" opacity=".08"/><ellipse class="w" cx="723.5" cy="1402.1" rx="8.3" ry="74.7" opacity=".04"/><ellipse class="w" cx="737.5" cy="1398" rx="10.6" ry="65.1" opacity=".07"/><ellipse class="w" cx="742.3" cy="1395.3" rx="7.9" ry="59.6" opacity=".06"/><ellipse class="w" cx="748.6" cy="1395" rx="8" ry="71.3" opacity=".09"/><ellipse class="k" cx="764.4" cy="1394.1" rx="9.7" ry="75.9" opacity=".09"/><ellipse class="k" cx="768.4" cy="1380.4" rx="8.8" ry="73.5" opacity=".16"/><ellipse class="k" cx="775.4" cy="1379" rx="8.9" ry="73.7" opacity=".03"/><ellipse class="k" cx="780.6" cy="1381.6" rx="7.9" ry="62.2" opacity=".03"/><ellipse class="k" cx="793.8" cy="1401.7" rx="8.3" ry="48.4" opacity=".10"/><ellipse class="w" cx="800.5" cy="1396.7" rx="8.7" ry="52.6" opacity=".05"/><ellipse class="w" cx="819.5" cy="1391.9" rx="8.1" ry="58.2" opacity=".07"/><ellipse class="w" cx="826.5" cy="1383.8" rx="10.9" ry="53.9" opacity=".07"/><ellipse class="k" cx="830.1" cy="1390" rx="8.7" ry="51.7" opacity=".13"/><ellipse class="w" cx="835.9" cy="1391.9" rx="6.6" ry="53.6" opacity=".10"/><ellipse class="k" cx="840.4" cy="1385.8" rx="10.6" ry="58.2" opacity=".06"/><ellipse class="k" cx="846.2" cy="1380.1" rx="8.2" ry="51.1" opacity=".10"/><ellipse class="w" cx="851.9" cy="1403" rx="9.1" ry="50.4" opacity=".08"/><ellipse class="k" cx="861.3" cy="1382.2" rx="10.9" ry="67.2" opacity=".13"/><ellipse class="k" cx="865.8" cy="1398.2" rx="10.1" ry="71" opacity=".02"/><ellipse class="w" cx="876" cy="1396.8" rx="9.5" ry="68.8" opacity=".04"/><ellipse class="k" cx="881.6" cy="1388" rx="10.1" ry="76.5" opacity=".02"/><ellipse class="w" cx="890" cy="1396.7" rx="10.4" ry="59" opacity=".07"/><ellipse class="k" cx="894.7" cy="1398.7" rx="9.3" ry="70.9" opacity=".05"/><ellipse class="k" cx="538.2" cy="1422.9" rx="9.3" ry="60.3" opacity=".04"/><ellipse class="w" cx="552.8" cy="1427.2" rx="11.5" ry="52.1" opacity=".16"/><ellipse class="w" cx="558.5" cy="1433.4" rx="9.5" ry="64.2" opacity=".03"/><ellipse class="w" cx="565.9" cy="1417.1" rx="11.6" ry="47.2" opacity=".15"/><ellipse class="w" cx="572.5" cy="1421.2" rx="9.4" ry="68.9" opacity=".09"/><ellipse class="w" cx="579.3" cy="1422.3" rx="7.5" ry="70.6" opacity=".02"/><ellipse class="k" cx="588.2" cy="1414.9" rx="8.7" ry="69.5" opacity=".06"/><ellipse class="w" cx="594.5" cy="1435.1" rx="11.5" ry="60.9" opacity=".08"/><ellipse class="w" cx="610.7" cy="1414" rx="8.5" ry="49.7" opacity=".10"/><ellipse class="k" cx="617.1" cy="1425.7" rx="10.4" ry="64.8" opacity=".05"/><ellipse class="k" cx="625.6" cy="1432.6" rx="11.4" ry="59" opacity=".02"/><ellipse class="k" cx="633.2" cy="1420.7" rx="10.7" ry="70" opacity=".03"/><ellipse class="k" cx="640.4" cy="1412.1" rx="11.8" ry="69.1" opacity=".02"/><ellipse class="w" cx="643.8" cy="1425.6" rx="10" ry="48.2" opacity=".04"/><ellipse class="k" cx="653.9" cy="1414.4" rx="11.9" ry="47.9" opacity=".03"/><ellipse class="k" cx="660.3" cy="1412.4" rx="9.8" ry="59.7" opacity=".02"/><ellipse class="k" cx="667.6" cy="1434.5" rx="7.8" ry="57.3" opacity=".08"/><ellipse class="k" cx="675.3" cy="1433.5" rx="7.6" ry="48.1" opacity=".08"/><ellipse class="k" cx="683" cy="1425.4" rx="8.3" ry="52.3" opacity=".02"/><ellipse class="k" cx="689.2" cy="1430.5" rx="9.9" ry="46.2" opacity=".16"/><ellipse class="k" cx="696" cy="1414.5" rx="11.8" ry="50.9" opacity=".02"/><ellipse class="k" cx="703" cy="1414.1" rx="8.1" ry="49.7" opacity=".09"/><ellipse class="k" cx="709.1" cy="1421.1" rx="11.3" ry="44.7" opacity=".08"/><ellipse class="w" cx="718.2" cy="1412.5" rx="11" ry="70.1" opacity=".14"/><ellipse class="w" cx="725.6" cy="1426.5" rx="10.8" ry="45.6" opacity=".04"/><ellipse class="w" cx="731.5" cy="1418.3" rx="8.1" ry="62.7" opacity=".09"/><ellipse class="k" cx="741.2" cy="1427.9" rx="11.2" ry="46.2" opacity=".08"/><ellipse class="k" cx="747" cy="1420.2" rx="9.2" ry="52.9" opacity=".02"/><ellipse class="k" cx="752.9" cy="1430.8" rx="9.6" ry="62.2" opacity=".03"/><ellipse class="w" cx="765.4" cy="1413.7" rx="9.6" ry="69.9" opacity=".10"/><ellipse class="w" cx="773.2" cy="1422.5" rx="9.5" ry="67.1" opacity=".13"/><ellipse class="w" cx="790.7" cy="1418.5" rx="8.8" ry="42.3" opacity=".05"/><ellipse class="k" cx="797.6" cy="1430.9" rx="12" ry="51.2" opacity=".02"/><ellipse class="w" cx="805.8" cy="1431.4" rx="11.8" ry="46.2" opacity=".14"/><ellipse class="k" cx="813.7" cy="1417" rx="9.9" ry="60.6" opacity=".09"/><ellipse class="w" cx="821.3" cy="1434.5" rx="7.8" ry="69.4" opacity=".03"/><ellipse class="w" cx="836.8" cy="1413.6" rx="8.3" ry="70.7" opacity=".05"/><ellipse class="k" cx="844.7" cy="1424.4" rx="7.9" ry="66.7" opacity=".04"/><ellipse class="k" cx="850.5" cy="1414.6" rx="7.7" ry="44.2" opacity=".03"/><ellipse class="k" cx="858" cy="1427.5" rx="11.9" ry="49.3" opacity=".05"/><ellipse class="k" cx="866.8" cy="1435.2" rx="10.1" ry="54.4" opacity=".06"/><ellipse class="w" cx="874.7" cy="1434.5" rx="10.1" ry="45.2" opacity=".08"/><ellipse class="w" cx="881.5" cy="1425.7" rx="11.7" ry="48.8" opacity=".04"/><ellipse class="k" cx="887.5" cy="1423" rx="8.7" ry="64.5" opacity=".06"/><ellipse class="w" cx="533.1" cy="1452.5" rx="10.1" ry="31.5" opacity=".04"/><ellipse class="w" cx="543.4" cy="1453.4" rx="17.4" ry="31" opacity=".19"/><ellipse class="k" cx="550.4" cy="1451.1" rx="16.3" ry="51" opacity=".03"/><ellipse class="k" cx="559.6" cy="1461.4" rx="12" ry="40.6" opacity=".02"/><ellipse class="w" cx="566.1" cy="1451.5" rx="17.7" ry="52.6" opacity=".12"/><ellipse class="k" cx="575.2" cy="1461.8" rx="13.7" ry="51" opacity=".05"/><ellipse class="w" cx="585" cy="1450.2" rx="10.6" ry="39.6" opacity=".03"/><ellipse class="w" cx="595.9" cy="1450.1" rx="17.3" ry="47.3" opacity=".03"/><ellipse class="w" cx="603.9" cy="1446.4" rx="17.6" ry="50" opacity=".08"/><ellipse class="k" cx="609" cy="1449.5" rx="14.8" ry="37.7" opacity=".05"/><ellipse class="w" cx="616.8" cy="1444.2" rx="9.1" ry="34.1" opacity=".11"/><ellipse class="w" cx="626.9" cy="1451" rx="15.4" ry="51.1" opacity=".11"/><ellipse class="w" cx="636" cy="1455.8" rx="15.6" ry="47.3" opacity=".03"/><ellipse class="w" cx="650.4" cy="1448.6" rx="16.8" ry="32.5" opacity=".11"/><ellipse class="w" cx="672.1" cy="1451" rx="11.3" ry="33" opacity=".02"/><ellipse class="w" cx="683" cy="1455.4" rx="12" ry="49.3" opacity=".08"/><ellipse class="w" cx="700.8" cy="1446.4" rx="9.8" ry="42.8" opacity=".11"/><ellipse class="w" cx="711.5" cy="1462.3" rx="9.8" ry="41.9" opacity=".09"/><ellipse class="w" cx="718.5" cy="1460.5" rx="15.1" ry="34.7" opacity=".09"/><ellipse class="w" cx="725.6" cy="1456.9" rx="13.3" ry="39.1" opacity=".13"/><ellipse class="w" cx="734" cy="1458.7" rx="10.4" ry="31.1" opacity=".02"/><ellipse class="w" cx="744.3" cy="1443.5" rx="15.1" ry="32.1" opacity=".09"/><ellipse class="w" cx="753.5" cy="1442.1" rx="9.1" ry="35.5" opacity=".13"/><ellipse class="w" cx="761.6" cy="1445.1" rx="11.5" ry="37.2" opacity=".05"/><ellipse class="w" cx="769.4" cy="1459.5" rx="11.4" ry="31.7" opacity=".16"/><ellipse class="w" cx="777.9" cy="1462.8" rx="17.6" ry="50" opacity=".04"/><ellipse class="w" cx="786.7" cy="1461" rx="12" ry="34.1" opacity=".13"/><ellipse class="k" cx="795" cy="1465" rx="13" ry="42.2" opacity=".10"/><ellipse class="w" cx="813.5" cy="1457" rx="11.1" ry="34.8" opacity=".04"/><ellipse class="k" cx="820.3" cy="1464.7" rx="15.4" ry="39.5" opacity=".04"/><ellipse class="w" cx="827.6" cy="1447.3" rx="16.8" ry="31.5" opacity=".09"/><ellipse class="w" cx="838.4" cy="1446.4" rx="13.9" ry="35.2" opacity=".02"/><ellipse class="w" cx="846.4" cy="1456.4" rx="16.7" ry="31.2" opacity=".16"/><ellipse class="w" cx="855" cy="1453.6" rx="17.9" ry="33.5" opacity=".05"/><ellipse class="w" cx="863.3" cy="1447.1" rx="10.8" ry="43.6" opacity=".03"/><ellipse class="k" cx="873.8" cy="1446.6" rx="9.7" ry="49.7" opacity=".10"/><ellipse class="k" cx="881.1" cy="1457.8" rx="12.8" ry="35.4" opacity=".03"/><ellipse class="k" cx="892.5" cy="1457" rx="16.1" ry="49.5" opacity=".06"/><ellipse class="k" cx="578.2" cy="1508.5" rx="55" ry="13" opacity=".01"/><ellipse class="k" cx="768.4" cy="1518.2" rx="64" ry="18.3" opacity=".07"/><ellipse class="k" cx="634.6" cy="1537.3" rx="34.3" ry="17.9" opacity=".16"/><ellipse class="w" cx="581.1" cy="1515.9" rx="41.4" ry="14.8" opacity=".18"/><ellipse class="w" cx="530.7" cy="1510.6" rx="35.6" ry="16.8" opacity=".07"/><ellipse class="k" cx="659.2" cy="1529.5" rx="74.2" ry="15.6" opacity=".03"/><ellipse class="w" cx="833.8" cy="1500.3" rx="82.9" ry="18.4" opacity=".05"/><ellipse class="k" cx="688.1" cy="1490.8" rx="34.2" ry="12.4" opacity=".13"/><ellipse class="k" cx="642.4" cy="1507.7" rx="38.8" ry="13" opacity=".09"/><ellipse class="k" cx="899" cy="1498.1" rx="61.1" ry="16.1" opacity=".11"/><ellipse class="w" cx="562.8" cy="1526.7" rx="45.3" ry="14.6" opacity=".04"/><ellipse class="k" cx="574.1" cy="1512" rx="68.3" ry="19.8" opacity=".02"/><ellipse class="k" cx="764.7" cy="1508.9" rx="55.4" ry="15" opacity=".13"/><ellipse class="w" cx="886.7" cy="1534.8" rx="63.2" ry="15.3" opacity=".12"/><ellipse class="w" cx="598.3" cy="1534.9" rx="54" ry="15.2" opacity=".14"/><ellipse class="w" cx="772.5" cy="1485.3" rx="65.6" ry="13.4" opacity=".04"/><ellipse class="w" cx="868.9" cy="1486.9" rx="72.9" ry="18.7" opacity=".16"/><ellipse class="k" cx="785" cy="1523.7" rx="83.6" ry="14" opacity=".11"/><ellipse class="w" cx="675.4" cy="1493.7" rx="46.9" ry="14.3" opacity=".03"/><ellipse class="w" cx="828.5" cy="1514.1" rx="57.6" ry="18.1" opacity=".10"/><ellipse class="k" cx="687.5" cy="1491.9" rx="83.4" ry="17.3" opacity=".06"/><ellipse class="k" cx="670.9" cy="1509.3" rx="68.9" ry="19.6" opacity=".18"/><ellipse class="k" cx="554.8" cy="1527" rx="80.1" ry="21" opacity=".00"/><ellipse class="k" cx="813" cy="1503.5" rx="83.1" ry="20.9" opacity=".13"/><ellipse class="k" cx="605.4" cy="1493.1" rx="78.2" ry="14.3" opacity=".08"/><ellipse class="w" cx="608.6" cy="1528" rx="62.8" ry="12.8" opacity=".06"/><ellipse class="k" cx="781.7" cy="1491.7" rx="47.7" ry="13.4" opacity=".11"/><ellipse class="w" cx="711.2" cy="1531.3" rx="47.2" ry="18.3" opacity=".11"/><ellipse class="w" cx="742.7" cy="1486.5" rx="59.2" ry="16.4" opacity=".03"/><ellipse class="k" cx="710" cy="1494.9" rx="83.8" ry="17.9" opacity=".02"/><ellipse class="k" cx="874" cy="1523.6" rx="47.5" ry="12.6" opacity=".03"/><ellipse class="k" cx="762.2" cy="1504.8" rx="40.9" ry="13.4" opacity=".04"/><ellipse class="k" cx="686.5" cy="1518.9" rx="55.3" ry="12.3" opacity=".12"/><ellipse class="w" cx="703.5" cy="1487.2" rx="38.8" ry="20.4" opacity=".02"/><ellipse class="w" cx="668" cy="1535" rx="27" ry="30" opacity=".21"/><ellipse class="w" cx="682" cy="1535" rx="27" ry="30" opacity=".21"/><ellipse class="w" cx="698" cy="1535" rx="27" ry="27" opacity=".21"/><ellipse class="w" cx="714" cy="1535" rx="27" ry="24" opacity=".21"/><ellipse class="w" cx="730" cy="1535" rx="27" ry="22.5" opacity=".21"/><ellipse class="w" cx="746" cy="1535" rx="27" ry="22.5" opacity=".21"/><ellipse class="w" cx="762" cy="1535" rx="27" ry="22.5" opacity=".21"/><ellipse class="w" cx="778" cy="1535" rx="27" ry="24" opacity=".21"/><ellipse class="w" cx="794" cy="1535" rx="27" ry="24" opacity=".21"/><ellipse class="w" cx="810" cy="1535" rx="27" ry="24" opacity=".21"/><ellipse class="w" cx="826" cy="1535" rx="27" ry="22.5" opacity=".21"/><ellipse class="w" cx="842" cy="1535" rx="27" ry="21" opacity=".21"/><ellipse class="w" cx="856" cy="1535" rx="27" ry="18" opacity=".21"/><ellipse class="w" cx="668" cy="1538" rx="27" ry="21" opacity=".55"/><ellipse class="w" cx="682" cy="1538" rx="27" ry="21" opacity=".55"/><ellipse class="w" cx="698" cy="1538" rx="27" ry="18" opacity=".50"/><ellipse class="w" cx="714" cy="1538" rx="27" ry="15" opacity=".45"/><ellipse class="w" cx="730" cy="1538" rx="27" ry="13.5" opacity=".45"/><ellipse class="w" cx="746" cy="1538" rx="27" ry="13.5" opacity=".47"/><ellipse class="w" cx="762" cy="1538" rx="27" ry="13.5" opacity=".50"/><ellipse class="w" cx="778" cy="1538" rx="27" ry="15" opacity=".55"/><ellipse class="w" cx="794" cy="1538" rx="27" ry="15" opacity=".57"/><ellipse class="w" cx="810" cy="1538" rx="27" ry="15" opacity=".55"/><ellipse class="w" cx="826" cy="1538" rx="27" ry="13.5" opacity=".50"/><ellipse class="w" cx="842" cy="1538" rx="27" ry="12" opacity=".40"/><ellipse class="w" cx="856" cy="1538" rx="27" ry="9" opacity=".25"/><ellipse class="w" cx="558.8" cy="1461.7" rx="18" ry="18" opacity=".20"/><ellipse class="w" cx="596.5" cy="1472.7" rx="18" ry="18" opacity=".20"/><ellipse class="w" cx="561" cy="1349.7" rx="9" ry="36" opacity=".25"/><ellipse class="k" cx="715" cy="1460" rx="90" ry="75" opacity=".20"/><ellipse class="k" cx="780" cy="1500.7" rx="270" ry="18" opacity=".25"/><ellipse class="k" cx="686.6" cy="1465.4" rx="15" ry="21" opacity=".38"/><ellipse class="k" cx="720.7" cy="1482.4" rx="18" ry="18" opacity=".38"/><ellipse class="w" cx="670" cy="1500" rx="15" ry="36" opacity=".40"/><ellipse class="w" cx="675" cy="1525" rx="18" ry="18" opacity=".25"/><ellipse class="w" cx="780" cy="1538" rx="42" ry="9" opacity=".60"/><ellipse class="w" cx="805" cy="1538" rx="36" ry="9" opacity=".60"/><ellipse class="w" cx="690" cy="1373" rx="27" ry="48" opacity=".35"/><ellipse class="w" cx="708" cy="1373" rx="30" ry="48" opacity=".35"/><ellipse class="w" cx="727" cy="1373" rx="30" ry="48" opacity=".35"/><ellipse class="w" cx="746" cy="1373" rx="30" ry="48" opacity=".35"/><ellipse class="w" cx="765" cy="1373" rx="24" ry="48" opacity=".35"/><ellipse class="w" cx="688" cy="1376" rx="21" ry="39" opacity=".80"/><ellipse class="w" cx="702" cy="1375" rx="21" ry="36" opacity=".80"/><ellipse class="w" cx="716" cy="1374" rx="21" ry="36" opacity=".75"/><ellipse class="w" cx="730" cy="1373" rx="21" ry="36" opacity=".75"/><ellipse class="w" cx="744" cy="1374" rx="21" ry="36" opacity=".75"/><ellipse class="w" cx="758" cy="1373" rx="21" ry="36" opacity=".75"/><ellipse class="w" cx="772" cy="1372" rx="15" ry="36" opacity=".75"/><ellipse class="w" cx="689" cy="1378" rx="15" ry="30" opacity="1"/><ellipse class="w" cx="702" cy="1376" rx="12" ry="24" opacity=".90"/><ellipse class="w" cx="724.4" cy="1373" rx="12" ry="24" opacity=".90"/><ellipse class="w" cx="744" cy="1375" rx="12" ry="24" opacity=".90"/><ellipse class="w" cx="760" cy="1372" rx="12" ry="24" opacity=".90"/><ellipse class="w" cx="775" cy="1367" rx="9" ry="30" opacity=".70"/><ellipse class="w" cx="775" cy="1345" rx="7.5" ry="30" opacity=".45"/></g></g>
<path d="M536.8 1289.5H891.6" stroke="#b8c8b8" stroke-width="1.2" opacity=".7" fill="none"/>
<path d="M538.1 1282.4C539.3 1279.3 543.0 1265.5 545.4 1264.1C547.8 1262.7 550.7 1272.8 552.7 1273.8C554.7 1274.8 555.7 1272.2 557.6 1270.2C559.4 1268.1 561.8 1261.0 563.7 1261.7C565.5 1262.3 566.9 1272.7 568.5 1274.3C570.1 1275.9 571.8 1270.7 573.4 1271.4C575.0 1272.1 576.4 1277.8 578.3 1278.7C580.1 1279.6 582.5 1277.5 584.3 1276.8C586.2 1276.0 587.6 1274.5 589.2 1274.3C590.8 1274.2 592.3 1276.6 594.1 1275.8C595.9 1275.0 598.4 1269.9 600.2 1269.4C602.0 1269.0 603.4 1273.4 605.0 1273.3C606.7 1273.3 608.1 1268.9 609.9 1269.0C611.7 1269.0 614.0 1274.0 616.0 1273.8C618.0 1273.6 620.1 1266.6 622.1 1267.7C624.1 1268.9 626.4 1279.0 628.2 1280.6C630.0 1282.3 631.2 1278.0 633.0 1277.5C634.9 1277.0 637.3 1278.1 639.1 1277.5C641.0 1276.9 642.6 1274.0 644.0 1273.8C645.4 1273.6 646.2 1276.3 647.7 1276.3C649.1 1276.3 651.1 1274.0 652.5 1273.8C653.9 1273.6 654.8 1275.4 656.2 1275.0C657.6 1274.7 659.4 1273.4 661.0 1271.9C662.7 1270.4 663.9 1267.1 665.9 1266.0C667.9 1264.9 671.4 1265.2 673.2 1265.3C675.0 1265.4 675.7 1270.4 676.9 1266.5C678.1 1262.7 679.1 1255.6 680.5 1242.2C681.9 1228.8 684.0 1195.9 685.4 1186.2C686.8 1176.4 687.6 1181.7 689.0 1183.7C690.5 1185.8 692.5 1194.5 693.9 1198.3C695.3 1202.2 696.2 1206.7 697.6 1206.9C699.0 1207.1 701.0 1199.8 702.4 1199.6C703.9 1199.4 704.7 1202.6 706.1 1205.7C707.5 1208.7 709.1 1216.4 711.0 1217.8C712.8 1219.2 715.0 1216.2 717.0 1214.2C719.1 1212.1 721.5 1206.7 723.1 1205.7C724.8 1204.6 725.6 1206.3 726.8 1208.1C728.0 1209.9 729.0 1214.0 730.4 1216.6C731.9 1219.2 733.5 1225.3 735.3 1223.9C737.1 1222.5 739.6 1210.7 741.4 1208.1C743.2 1205.5 744.8 1206.7 746.3 1208.1C747.7 1209.5 748.1 1217.6 749.9 1216.6C751.7 1215.6 755.2 1203.4 757.2 1202.0C759.3 1200.6 760.5 1205.5 762.1 1208.1C763.7 1210.6 765.3 1217.5 767.0 1217.3C768.6 1217.1 770.4 1206.8 771.8 1206.9C773.3 1207.0 773.9 1207.9 775.5 1217.8C777.1 1227.8 779.5 1258.2 781.6 1266.5C783.6 1274.8 785.8 1266.5 787.7 1267.7C789.5 1269.0 790.9 1273.2 792.5 1273.8C794.2 1274.4 795.6 1271.6 797.4 1271.4C799.2 1271.2 801.5 1270.4 803.5 1272.6C805.5 1274.8 807.5 1284.2 809.6 1284.8C811.6 1285.4 813.6 1279.3 815.7 1276.3C817.7 1273.2 819.7 1266.1 821.7 1266.5C823.8 1266.9 825.8 1277.5 827.8 1278.7C829.9 1279.9 831.9 1272.4 833.9 1273.8C836.0 1275.2 838.0 1287.8 840.0 1287.2C842.0 1286.6 844.1 1271.2 846.1 1270.2C848.1 1269.2 850.2 1281.1 852.2 1281.1C854.2 1281.1 856.2 1272.4 858.3 1270.2C860.3 1267.9 862.1 1265.7 864.4 1267.7C866.6 1269.8 869.4 1281.5 871.7 1282.4C873.9 1283.2 875.7 1274.9 877.8 1272.6C879.8 1270.3 882.0 1268.8 883.8 1268.5C885.7 1268.2 887.9 1270.5 888.7 1270.9" stroke="#722a3e" stroke-width="2.4" fill="none" stroke-linejoin="round" stroke-linecap="round"/>
<path d="M663.3 1181.4V1537.2" stroke="#333" stroke-width="1.3" stroke-dasharray="2 2" fill="none"/>
<rect x="928.1" y="1180.4" width="354.3" height="108.8" fill="#fff"/>
<path d="M938.5 1180.4V1289.2M949.9 1180.4V1289.2M961.4 1180.4V1289.2M972.8 1180.4V1289.2M984.2 1180.4V1289.2M995.7 1180.4V1289.2M1007.1 1180.4V1289.2M1018.5 1180.4V1289.2M1029.9 1180.4V1289.2M1041.4 1180.4V1289.2M1052.8 1180.4V1289.2M1064.2 1180.4V1289.2M1075.7 1180.4V1289.2M1087.1 1180.4V1289.2M1098.5 1180.4V1289.2M1109.9 1180.4V1289.2M1121.4 1180.4V1289.2M1132.8 1180.4V1289.2M1144.2 1180.4V1289.2M1155.7 1180.4V1289.2M1167.1 1180.4V1289.2M1178.5 1180.4V1289.2M1189.9 1180.4V1289.2M1201.4 1180.4V1289.2M1212.8 1180.4V1289.2M1224.2 1180.4V1289.2M1235.7 1180.4V1289.2M1247.1 1180.4V1289.2M1258.5 1180.4V1289.2M1270.0 1180.4V1289.2M1281.4 1180.4V1289.2" stroke="#f7f7f7" stroke-width="1" fill="none"/>
<path d="M938.5 1180.4V1289.2M995.7 1180.4V1289.2M1109.9 1180.4V1289.2M1167.1 1180.4V1289.2M1224.2 1180.4V1289.2M1281.4 1180.4V1289.2" stroke="#ebebeb" stroke-width="1.1" fill="none"/>
<path d="M928.1 1271.6H1282.4" stroke="#ebebeb" stroke-width="1.2" fill="none"/>
<rect x="928.1" y="1180.4" width="354.3" height="108.8" fill="none" stroke="#ababab" stroke-width="1.4"/>
<path d="M928.1 1235.9h4M1282.4 1235.9h-4M928.1 1200.2h4M1282.4 1200.2h-4" stroke="#d0d0d0" stroke-width="1.2" fill="none"/>
<g clip-path="url(#hc5)"><g filter="url(#jet)"><rect x="926.1" y="1287.2" width="358.3" height="252.0" fill="#808080"/><ellipse class="w" cx="928.8" cy="1298" rx="9.5" ry="87" opacity=".11"/><ellipse class="w" cx="939.3" cy="1284.7" rx="9.6" ry="58.4" opacity=".07"/><ellipse class="w" cx="947.3" cy="1296.1" rx="7.3" ry="51.4" opacity=".13"/><ellipse class="w" cx="952.9" cy="1293" rx="10.5" ry="81.3" opacity=".06"/><ellipse class="w" cx="960.6" cy="1305.3" rx="8.3" ry="70.7" opacity=".11"/><ellipse class="w" cx="970.1" cy="1297.4" rx="8.7" ry="88.6" opacity=".04"/><ellipse class="w" cx="976.2" cy="1299.7" rx="10.1" ry="62.4" opacity=".04"/><ellipse class="w" cx="980.4" cy="1298.7" rx="10.4" ry="75.9" opacity=".16"/><ellipse class="k" cx="987.2" cy="1293.4" rx="10.7" ry="56.5" opacity=".07"/><ellipse class="k" cx="1001.5" cy="1295" rx="7.5" ry="78.1" opacity=".11"/><ellipse class="k" cx="1009.8" cy="1289.2" rx="7.3" ry="75" opacity=".06"/><ellipse class="w" cx="1014.6" cy="1305.3" rx="10" ry="76.7" opacity=".07"/><ellipse class="k" cx="1029.1" cy="1282.5" rx="8.5" ry="77.5" opacity=".02"/><ellipse class="w" cx="1032.9" cy="1301.4" rx="8.4" ry="56.6" opacity=".10"/><ellipse class="w" cx="1039.9" cy="1291.5" rx="8.9" ry="58.6" opacity=".03"/><ellipse class="k" cx="1051.4" cy="1301" rx="10.4" ry="72.9" opacity=".08"/><ellipse class="k" cx="1057.5" cy="1286.9" rx="6.8" ry="85.6" opacity=".03"/><ellipse class="w" cx="1065.3" cy="1288.9" rx="9.4" ry="89.7" opacity=".03"/><ellipse class="k" cx="1076.9" cy="1294.3" rx="7.4" ry="84.1" opacity=".07"/><ellipse class="w" cx="1089.7" cy="1284.7" rx="7.7" ry="61.5" opacity=".07"/><ellipse class="k" cx="1095.5" cy="1289.2" rx="10.7" ry="86.9" opacity=".06"/><ellipse class="k" cx="1102.6" cy="1285.2" rx="8.6" ry="85.7" opacity=".03"/><ellipse class="k" cx="1107.1" cy="1285.6" rx="7.3" ry="88" opacity=".05"/><ellipse class="w" cx="1112.6" cy="1302.3" rx="8.6" ry="72.3" opacity=".19"/><ellipse class="w" cx="1126.1" cy="1287.3" rx="8.5" ry="65.2" opacity=".08"/><ellipse class="k" cx="1133.5" cy="1295.3" rx="8.1" ry="79.7" opacity=".10"/><ellipse class="w" cx="1140" cy="1295.6" rx="10.6" ry="86.8" opacity=".05"/><ellipse class="w" cx="1146.9" cy="1287.5" rx="8.8" ry="63.6" opacity=".11"/><ellipse class="k" cx="1155.9" cy="1293.8" rx="9.9" ry="62.8" opacity=".11"/><ellipse class="w" cx="1159.1" cy="1290.6" rx="9.8" ry="89" opacity=".19"/><ellipse class="w" cx="1167.2" cy="1302.2" rx="8.6" ry="79.3" opacity=".03"/><ellipse class="w" cx="1174.5" cy="1299.3" rx="10.7" ry="69.3" opacity=".07"/><ellipse class="w" cx="1179" cy="1281.9" rx="8.3" ry="49" opacity=".11"/><ellipse class="k" cx="1198.8" cy="1296.2" rx="8.2" ry="67.6" opacity=".05"/><ellipse class="w" cx="1207" cy="1302.3" rx="9.9" ry="82.7" opacity=".08"/><ellipse class="w" cx="1213.4" cy="1285.6" rx="7.8" ry="63.7" opacity=".03"/><ellipse class="k" cx="1220.8" cy="1300.3" rx="6.6" ry="53" opacity=".05"/><ellipse class="w" cx="1232.7" cy="1294.8" rx="8.2" ry="87.6" opacity=".11"/><ellipse class="k" cx="1246" cy="1283.1" rx="9.3" ry="63.8" opacity=".11"/><ellipse class="w" cx="1263.2" cy="1291.3" rx="9.6" ry="57.1" opacity=".11"/><ellipse class="w" cx="1270.9" cy="1297.9" rx="9.7" ry="79.9" opacity=".04"/><ellipse class="w" cx="1277" cy="1286.3" rx="7.2" ry="62" opacity=".11"/><ellipse class="w" cx="1283" cy="1285.9" rx="8.1" ry="72.6" opacity=".09"/><ellipse class="w" cx="928.1" cy="1338.1" rx="6.6" ry="67.9" opacity=".11"/><ellipse class="w" cx="936" cy="1337.7" rx="8.1" ry="78.2" opacity=".11"/><ellipse class="w" cx="943.1" cy="1314.2" rx="7.6" ry="87.2" opacity=".03"/><ellipse class="w" cx="951.1" cy="1327.4" rx="9.9" ry="53.1" opacity=".05"/><ellipse class="k" cx="956.2" cy="1330.3" rx="8.2" ry="55.3" opacity=".08"/><ellipse class="w" cx="964.3" cy="1335" rx="9.2" ry="70.7" opacity=".08"/><ellipse class="w" cx="978.1" cy="1319.9" rx="8.9" ry="81.6" opacity=".18"/><ellipse class="k" cx="986.3" cy="1331.1" rx="8.2" ry="55" opacity=".04"/><ellipse class="k" cx="991.2" cy="1325.2" rx="8.9" ry="65.1" opacity=".14"/><ellipse class="w" cx="1004.7" cy="1326" rx="8.8" ry="51.8" opacity=".03"/><ellipse class="w" cx="1019.3" cy="1324.3" rx="7.8" ry="63.3" opacity=".08"/><ellipse class="k" cx="1027" cy="1333.4" rx="10.5" ry="71.4" opacity=".09"/><ellipse class="w" cx="1031.9" cy="1324.9" rx="10.2" ry="86.5" opacity=".12"/><ellipse class="k" cx="1040.1" cy="1331.7" rx="8.3" ry="67.1" opacity=".04"/><ellipse class="w" cx="1047.4" cy="1335.2" rx="9.4" ry="60.6" opacity=".06"/><ellipse class="w" cx="1060.8" cy="1324.7" rx="9.5" ry="70.6" opacity=".06"/><ellipse class="w" cx="1067.7" cy="1333.7" rx="8.1" ry="58" opacity=".12"/><ellipse class="w" cx="1074.2" cy="1325.7" rx="7" ry="72.3" opacity=".16"/><ellipse class="w" cx="1078.1" cy="1335.5" rx="7.9" ry="76.3" opacity=".04"/><ellipse class="w" cx="1085.3" cy="1316.6" rx="8.2" ry="80" opacity=".11"/><ellipse class="w" cx="1092.6" cy="1332.6" rx="7.6" ry="70.9" opacity=".05"/><ellipse class="w" cx="1097.9" cy="1321.2" rx="7.9" ry="88.8" opacity=".05"/><ellipse class="k" cx="1107.3" cy="1335.9" rx="9.7" ry="49.3" opacity=".07"/><ellipse class="w" cx="1111.6" cy="1333.9" rx="7.7" ry="69.3" opacity=".06"/><ellipse class="k" cx="1119.8" cy="1317.8" rx="7.3" ry="57.9" opacity=".08"/><ellipse class="w" cx="1127.9" cy="1336.5" rx="7.3" ry="70.8" opacity=".03"/><ellipse class="w" cx="1132.5" cy="1316.5" rx="10.2" ry="66.8" opacity=".08"/><ellipse class="w" cx="1146.7" cy="1320.4" rx="8.7" ry="76.2" opacity=".04"/><ellipse class="k" cx="1155.8" cy="1334.9" rx="8.2" ry="81.6" opacity=".06"/><ellipse class="k" cx="1163.4" cy="1333.7" rx="8.4" ry="70.8" opacity=".03"/><ellipse class="w" cx="1168.8" cy="1319.1" rx="10.1" ry="73.2" opacity=".13"/><ellipse class="k" cx="1187.6" cy="1321.2" rx="10.1" ry="77.5" opacity=".03"/><ellipse class="k" cx="1192.2" cy="1335.4" rx="10.6" ry="53.4" opacity=".07"/><ellipse class="k" cx="1198.5" cy="1320.8" rx="7.8" ry="68.4" opacity=".05"/><ellipse class="k" cx="1205.4" cy="1338.8" rx="7.4" ry="48.8" opacity=".15"/><ellipse class="k" cx="1210.4" cy="1326.8" rx="7" ry="58.4" opacity=".06"/><ellipse class="k" cx="1217.2" cy="1336.7" rx="8.1" ry="62.2" opacity=".03"/><ellipse class="w" cx="1222.7" cy="1327.4" rx="7.6" ry="83.2" opacity=".05"/><ellipse class="w" cx="1242.4" cy="1337.1" rx="10.1" ry="86.5" opacity=".02"/><ellipse class="k" cx="1252" cy="1315.3" rx="7.4" ry="57.2" opacity=".06"/><ellipse class="k" cx="1256.3" cy="1319.7" rx="9.9" ry="83.4" opacity=".03"/><ellipse class="k" cx="1261.8" cy="1322.2" rx="7.9" ry="63.9" opacity=".06"/><ellipse class="w" cx="1268.9" cy="1322.7" rx="8.8" ry="63.8" opacity=".19"/><ellipse class="w" cx="1276.6" cy="1314.9" rx="8.1" ry="48.7" opacity=".06"/><ellipse class="k" cx="1282.7" cy="1329.4" rx="7.5" ry="69.4" opacity=".04"/><ellipse class="k" cx="923.2" cy="1366.6" rx="8.6" ry="67.5" opacity=".03"/><ellipse class="w" cx="933" cy="1367.2" rx="8.4" ry="65.7" opacity=".07"/><ellipse class="k" cx="937.1" cy="1349.8" rx="9.5" ry="77.5" opacity=".05"/><ellipse class="w" cx="946.2" cy="1354.2" rx="8.2" ry="79.5" opacity=".05"/><ellipse class="k" cx="952.5" cy="1363.3" rx="6.6" ry="72.4" opacity=".11"/><ellipse class="w" cx="956.9" cy="1351.8" rx="8.2" ry="78.9" opacity=".19"/><ellipse class="w" cx="964.4" cy="1365.9" rx="7.2" ry="54.1" opacity=".03"/><ellipse class="w" cx="970.2" cy="1368.4" rx="9.1" ry="53.2" opacity=".13"/><ellipse class="k" cx="977.2" cy="1351.5" rx="7" ry="55.9" opacity=".04"/><ellipse class="k" cx="991" cy="1355.6" rx="9.7" ry="57.9" opacity=".11"/><ellipse class="w" cx="998.3" cy="1365.9" rx="8.6" ry="64.6" opacity=".14"/><ellipse class="w" cx="1005.8" cy="1367.9" rx="6.7" ry="62.3" opacity=".05"/><ellipse class="k" cx="1012.1" cy="1365.8" rx="7" ry="52.5" opacity=".02"/><ellipse class="k" cx="1019.6" cy="1362.1" rx="10.1" ry="78.1" opacity=".04"/><ellipse class="k" cx="1030.7" cy="1370.7" rx="9.9" ry="63.8" opacity=".11"/><ellipse class="w" cx="1037.6" cy="1353.4" rx="9.2" ry="76.5" opacity=".11"/><ellipse class="w" cx="1044.7" cy="1365" rx="7.9" ry="52.9" opacity=".03"/><ellipse class="k" cx="1048" cy="1352.5" rx="9.6" ry="73.1" opacity=".02"/><ellipse class="k" cx="1054.2" cy="1360.9" rx="6.8" ry="64.3" opacity=".04"/><ellipse class="w" cx="1060.2" cy="1354.7" rx="11.3" ry="51.5" opacity=".09"/><ellipse class="k" cx="1067.9" cy="1368.3" rx="11.2" ry="60.9" opacity=".04"/><ellipse class="w" cx="1072.9" cy="1354.7" rx="8.9" ry="50.6" opacity=".07"/><ellipse class="k" cx="1088.1" cy="1346.4" rx="10" ry="72.7" opacity=".03"/><ellipse class="w" cx="1092.9" cy="1367.2" rx="8.8" ry="63.2" opacity=".07"/><ellipse class="w" cx="1109" cy="1346.7" rx="8.7" ry="64.9" opacity=".06"/><ellipse class="w" cx="1113.7" cy="1369.3" rx="8.8" ry="83.6" opacity=".03"/><ellipse class="w" cx="1120.9" cy="1360.3" rx="6.9" ry="72.2" opacity=".04"/><ellipse class="k" cx="1132" cy="1359.4" rx="11.1" ry="51.3" opacity=".04"/><ellipse class="w" cx="1140.4" cy="1368.9" rx="9.6" ry="83.2" opacity=".13"/><ellipse class="k" cx="1146.7" cy="1365.9" rx="7.9" ry="69.5" opacity=".05"/><ellipse class="w" cx="1150.5" cy="1357.7" rx="9.2" ry="52.8" opacity=".09"/><ellipse class="w" cx="1158.5" cy="1347.9" rx="8.7" ry="64.5" opacity=".17"/><ellipse class="k" cx="1164" cy="1355.2" rx="9.5" ry="78.4" opacity=".10"/><ellipse class="k" cx="1172.4" cy="1359.8" rx="10.7" ry="57.5" opacity=".06"/><ellipse class="w" cx="1184.6" cy="1360.1" rx="10.7" ry="75.2" opacity=".05"/><ellipse class="w" cx="1194.4" cy="1354.1" rx="8.6" ry="50.5" opacity=".08"/><ellipse class="w" cx="1201.1" cy="1357.6" rx="11.4" ry="64.1" opacity=".03"/><ellipse class="w" cx="1209.3" cy="1355.3" rx="8.6" ry="51.3" opacity=".13"/><ellipse class="w" cx="1214.6" cy="1350.2" rx="10" ry="57.2" opacity=".11"/><ellipse class="k" cx="1219.6" cy="1348.9" rx="8" ry="78" opacity=".07"/><ellipse class="w" cx="1228.7" cy="1362.2" rx="9.9" ry="72.1" opacity=".07"/><ellipse class="w" cx="1235.6" cy="1348.7" rx="8" ry="82.3" opacity=".03"/><ellipse class="k" cx="1243.1" cy="1361.8" rx="9.2" ry="52.1" opacity=".10"/><ellipse class="k" cx="1254.3" cy="1362.9" rx="11.4" ry="62.2" opacity=".05"/><ellipse class="w" cx="1265.3" cy="1369.6" rx="7.3" ry="68.2" opacity=".03"/><ellipse class="k" cx="1273.5" cy="1355.5" rx="10" ry="62.9" opacity=".07"/><ellipse class="k" cx="1279" cy="1356.2" rx="8.5" ry="72.7" opacity=".04"/><ellipse class="k" cx="1285" cy="1355.8" rx="7.3" ry="77.8" opacity=".11"/><ellipse class="k" cx="929.1" cy="1403.2" rx="7.1" ry="53.9" opacity=".02"/><ellipse class="k" cx="937.1" cy="1397.1" rx="7.2" ry="56.4" opacity=".08"/><ellipse class="w" cx="942.5" cy="1380.8" rx="11.4" ry="68.7" opacity=".04"/><ellipse class="w" cx="956.2" cy="1383.4" rx="11.4" ry="55.9" opacity=".09"/><ellipse class="w" cx="962.7" cy="1402.3" rx="9.3" ry="53.1" opacity=".08"/><ellipse class="k" cx="969.3" cy="1381.7" rx="9.8" ry="65.2" opacity=".02"/><ellipse class="w" cx="976.6" cy="1387.9" rx="7.5" ry="74" opacity=".04"/><ellipse class="k" cx="982.2" cy="1401.8" rx="7.9" ry="50.8" opacity=".07"/><ellipse class="w" cx="988" cy="1383.2" rx="10.8" ry="49.4" opacity=".03"/><ellipse class="k" cx="994.7" cy="1389.1" rx="7" ry="46.4" opacity=".08"/><ellipse class="k" cx="1000.5" cy="1395.7" rx="9.4" ry="56.1" opacity=".03"/><ellipse class="k" cx="1009.6" cy="1380.9" rx="10.3" ry="68.4" opacity=".05"/><ellipse class="k" cx="1015.3" cy="1380.2" rx="10.8" ry="61" opacity=".15"/><ellipse class="w" cx="1022.5" cy="1383.6" rx="9.3" ry="59.3" opacity=".09"/><ellipse class="w" cx="1028.2" cy="1402.9" rx="7.3" ry="71.1" opacity=".04"/><ellipse class="k" cx="1033.4" cy="1383.2" rx="7.7" ry="58.2" opacity=".16"/><ellipse class="w" cx="1042.7" cy="1402.3" rx="10" ry="60.3" opacity=".03"/><ellipse class="k" cx="1047.1" cy="1386.4" rx="10.2" ry="64.6" opacity=".04"/><ellipse class="k" cx="1052.4" cy="1384.2" rx="8.4" ry="57" opacity=".05"/><ellipse class="w" cx="1060.2" cy="1381" rx="11.2" ry="46.9" opacity=".03"/><ellipse class="w" cx="1068.7" cy="1398.7" rx="7" ry="65.9" opacity=".07"/><ellipse class="k" cx="1073.5" cy="1402.5" rx="7.8" ry="47.6" opacity=".09"/><ellipse class="w" cx="1079" cy="1395.4" rx="10.1" ry="58.7" opacity=".06"/><ellipse class="w" cx="1084.1" cy="1383.4" rx="9.2" ry="67.6" opacity=".02"/><ellipse class="k" cx="1106.7" cy="1388.6" rx="11.3" ry="60.3" opacity=".05"/><ellipse class="k" cx="1111.4" cy="1397.2" rx="7.1" ry="60.9" opacity=".03"/><ellipse class="w" cx="1118" cy="1395" rx="7.7" ry="70.9" opacity=".09"/><ellipse class="k" cx="1125.9" cy="1395" rx="10.7" ry="59.3" opacity=".04"/><ellipse class="w" cx="1132.7" cy="1381.9" rx="7.9" ry="47.6" opacity=".14"/><ellipse class="w" cx="1139.5" cy="1379.2" rx="7.1" ry="72.6" opacity=".06"/><ellipse class="w" cx="1147.1" cy="1394.3" rx="7.2" ry="68.9" opacity=".04"/><ellipse class="w" cx="1159.2" cy="1383.3" rx="8.5" ry="56.2" opacity=".04"/><ellipse class="w" cx="1166.4" cy="1379.2" rx="8.8" ry="54.7" opacity=".07"/><ellipse class="w" cx="1173.2" cy="1396.1" rx="9.6" ry="52.5" opacity=".13"/><ellipse class="w" cx="1180" cy="1385.9" rx="8.5" ry="59.4" opacity=".07"/><ellipse class="w" cx="1186.3" cy="1386.4" rx="9.3" ry="63.6" opacity=".09"/><ellipse class="w" cx="1193.7" cy="1403" rx="9.6" ry="60.9" opacity=".10"/><ellipse class="w" cx="1197.6" cy="1382.5" rx="8.1" ry="57.2" opacity=".06"/><ellipse class="w" cx="1204.6" cy="1382.4" rx="10" ry="63.6" opacity=".05"/><ellipse class="k" cx="1211.2" cy="1396.7" rx="10.8" ry="70.7" opacity=".05"/><ellipse class="w" cx="1216.3" cy="1389" rx="8.4" ry="75.9" opacity=".04"/><ellipse class="k" cx="1230.2" cy="1392.9" rx="9.4" ry="63.7" opacity=".09"/><ellipse class="k" cx="1234.5" cy="1383.5" rx="8.6" ry="61" opacity=".03"/><ellipse class="k" cx="1240.4" cy="1400.6" rx="7.7" ry="61.3" opacity=".06"/><ellipse class="w" cx="1248.4" cy="1383.3" rx="9.1" ry="46.3" opacity=".04"/><ellipse class="w" cx="1261.7" cy="1383.7" rx="7.1" ry="66.2" opacity=".03"/><ellipse class="k" cx="1267.9" cy="1380.9" rx="10.3" ry="72.3" opacity=".04"/><ellipse class="w" cx="1278.4" cy="1394.6" rx="10.4" ry="63.2" opacity=".05"/><ellipse class="k" cx="1283.7" cy="1387.5" rx="10.4" ry="77.9" opacity=".05"/><ellipse class="w" cx="924.6" cy="1410.7" rx="8.6" ry="68.3" opacity=".10"/><ellipse class="w" cx="930.7" cy="1413.6" rx="11.1" ry="46.2" opacity=".07"/><ellipse class="w" cx="936.8" cy="1432.5" rx="11.8" ry="60.3" opacity=".08"/><ellipse class="k" cx="954.4" cy="1414.2" rx="8.5" ry="50.5" opacity=".12"/><ellipse class="w" cx="959" cy="1426.6" rx="7.9" ry="46.8" opacity=".03"/><ellipse class="w" cx="965" cy="1414.6" rx="11.1" ry="69.1" opacity=".06"/><ellipse class="w" cx="970.8" cy="1420.1" rx="8.2" ry="51.7" opacity=".04"/><ellipse class="w" cx="978.2" cy="1422.5" rx="9.3" ry="67.7" opacity=".08"/><ellipse class="w" cx="986" cy="1434.2" rx="9.1" ry="47.6" opacity=".06"/><ellipse class="k" cx="993.8" cy="1412.2" rx="11.3" ry="44.8" opacity=".04"/><ellipse class="k" cx="999.8" cy="1413.3" rx="11.1" ry="61" opacity=".06"/><ellipse class="w" cx="1008.2" cy="1431" rx="11.6" ry="65.9" opacity=".09"/><ellipse class="k" cx="1021.6" cy="1417.1" rx="10.3" ry="45.1" opacity=".13"/><ellipse class="k" cx="1026.4" cy="1426.3" rx="10.3" ry="57.6" opacity=".07"/><ellipse class="w" cx="1032.9" cy="1432.2" rx="8.1" ry="57.8" opacity=".14"/><ellipse class="w" cx="1041.6" cy="1424.7" rx="8.6" ry="68.3" opacity=".03"/><ellipse class="k" cx="1053.9" cy="1415.6" rx="10.8" ry="69.5" opacity=".07"/><ellipse class="w" cx="1060.7" cy="1428.8" rx="9.8" ry="43.4" opacity=".03"/><ellipse class="w" cx="1067.6" cy="1427.6" rx="10.3" ry="46.4" opacity=".04"/><ellipse class="k" cx="1075.6" cy="1424" rx="9.3" ry="67.9" opacity=".04"/><ellipse class="w" cx="1094" cy="1418.4" rx="7.6" ry="52.2" opacity=".12"/><ellipse class="k" cx="1097.4" cy="1435" rx="9.4" ry="48.5" opacity=".03"/><ellipse class="k" cx="1105.4" cy="1430.3" rx="11.2" ry="69.7" opacity=".09"/><ellipse class="w" cx="1118.9" cy="1426.3" rx="10.3" ry="48.6" opacity=".12"/><ellipse class="w" cx="1125.9" cy="1411.1" rx="11.6" ry="61.7" opacity=".10"/><ellipse class="w" cx="1137" cy="1431.6" rx="9.1" ry="52.9" opacity=".10"/><ellipse class="w" cx="1145.1" cy="1427" rx="7.3" ry="49" opacity=".13"/><ellipse class="k" cx="1157.9" cy="1429.7" rx="11.3" ry="71.8" opacity=".06"/><ellipse class="k" cx="1181.6" cy="1425.7" rx="7.5" ry="52.3" opacity=".03"/><ellipse class="k" cx="1190.6" cy="1420" rx="9.9" ry="54.5" opacity=".04"/><ellipse class="k" cx="1202.5" cy="1428.2" rx="11" ry="58.9" opacity=".08"/><ellipse class="k" cx="1209.2" cy="1433" rx="7.5" ry="60.1" opacity=".06"/><ellipse class="w" cx="1218.6" cy="1425.4" rx="9.3" ry="70.3" opacity=".07"/><ellipse class="k" cx="1223" cy="1418.5" rx="10.5" ry="45.6" opacity=".04"/><ellipse class="k" cx="1233.1" cy="1430.4" rx="8.6" ry="43.4" opacity=".04"/><ellipse class="k" cx="1256.1" cy="1434.6" rx="9.3" ry="66.7" opacity=".04"/><ellipse class="k" cx="1260" cy="1424.5" rx="11.6" ry="48.3" opacity=".05"/><ellipse class="k" cx="1270.1" cy="1429.2" rx="11.2" ry="47" opacity=".02"/><ellipse class="k" cx="1277" cy="1413.2" rx="9.5" ry="63.2" opacity=".11"/><ellipse class="w" cx="1282.8" cy="1421.6" rx="11.7" ry="52.1" opacity=".11"/><ellipse class="k" cx="930" cy="1447.2" rx="15.4" ry="39.7" opacity=".05"/><ellipse class="k" cx="946.3" cy="1462.1" rx="16.5" ry="30.2" opacity=".07"/><ellipse class="k" cx="966.2" cy="1450.6" rx="15.2" ry="52.5" opacity=".03"/><ellipse class="w" cx="982.7" cy="1451.3" rx="9.1" ry="31.2" opacity=".07"/><ellipse class="w" cx="1002.5" cy="1442.1" rx="17.3" ry="46" opacity=".08"/><ellipse class="k" cx="1012.2" cy="1465.3" rx="16.6" ry="33.6" opacity=".02"/><ellipse class="k" cx="1030.4" cy="1449.7" rx="16.8" ry="47.8" opacity=".16"/><ellipse class="w" cx="1040.6" cy="1463.9" rx="12.7" ry="49.9" opacity=".10"/><ellipse class="k" cx="1055.5" cy="1443.8" rx="15.8" ry="52.2" opacity=".05"/><ellipse class="w" cx="1063.7" cy="1458.1" rx="10.6" ry="39.3" opacity=".13"/><ellipse class="k" cx="1084.8" cy="1454.5" rx="11.6" ry="43.1" opacity=".10"/><ellipse class="k" cx="1093.2" cy="1447.6" rx="16.6" ry="36.1" opacity=".02"/><ellipse class="w" cx="1105.2" cy="1463.7" rx="16.2" ry="49.4" opacity=".07"/><ellipse class="w" cx="1124.1" cy="1448.2" rx="13.9" ry="49.4" opacity=".05"/><ellipse class="k" cx="1133.5" cy="1446.9" rx="10.7" ry="38" opacity=".07"/><ellipse class="w" cx="1153.1" cy="1455.4" rx="16.8" ry="31.8" opacity=".11"/><ellipse class="w" cx="1171.2" cy="1454.8" rx="10.5" ry="37" opacity=".12"/><ellipse class="k" cx="1177.7" cy="1448.5" rx="17.7" ry="42.6" opacity=".08"/><ellipse class="k" cx="1188.9" cy="1454.8" rx="17.2" ry="53.3" opacity=".07"/><ellipse class="w" cx="1194.3" cy="1460.8" rx="11.2" ry="36" opacity=".10"/><ellipse class="w" cx="1207" cy="1458.7" rx="10.6" ry="41" opacity=".04"/><ellipse class="w" cx="1213.5" cy="1460.4" rx="16.4" ry="38.8" opacity=".08"/><ellipse class="k" cx="1220.2" cy="1448.7" rx="13.6" ry="41.4" opacity=".07"/><ellipse class="k" cx="1239.5" cy="1444.1" rx="10.7" ry="33.5" opacity=".04"/><ellipse class="w" cx="1256.3" cy="1449.7" rx="17.3" ry="41.7" opacity=".05"/><ellipse class="k" cx="1274.9" cy="1461.3" rx="9.8" ry="34.7" opacity=".03"/><ellipse class="k" cx="1279.2" cy="1514.3" rx="38.7" ry="12" opacity=".18"/><ellipse class="w" cx="1133.2" cy="1501.5" rx="35.3" ry="14.3" opacity=".11"/><ellipse class="w" cx="1120.7" cy="1486.8" rx="55.9" ry="19.5" opacity=".07"/><ellipse class="k" cx="1281.5" cy="1492.2" rx="67.9" ry="14.6" opacity=".05"/><ellipse class="k" cx="970.5" cy="1495.2" rx="70.8" ry="12.6" opacity=".01"/><ellipse class="k" cx="1124.8" cy="1529.4" rx="55" ry="17.8" opacity=".06"/><ellipse class="k" cx="999" cy="1498.3" rx="67.1" ry="13" opacity=".10"/><ellipse class="k" cx="1027.9" cy="1499.4" rx="57.3" ry="19.4" opacity=".07"/><ellipse class="w" cx="1198.2" cy="1500.1" rx="38.9" ry="16.6" opacity=".09"/><ellipse class="k" cx="1122.4" cy="1538.7" rx="67.6" ry="20" opacity=".02"/><ellipse class="k" cx="1139.2" cy="1502.3" rx="67" ry="17.9" opacity=".04"/><ellipse class="w" cx="1099.6" cy="1484.3" rx="46.3" ry="16.4" opacity=".13"/><ellipse class="k" cx="970.9" cy="1489.6" rx="64.2" ry="12.9" opacity=".05"/><ellipse class="w" cx="1083.8" cy="1537.1" rx="58.3" ry="18.7" opacity=".13"/><ellipse class="k" cx="1256.1" cy="1521.9" rx="62" ry="15.2" opacity=".06"/><ellipse class="k" cx="957" cy="1526.6" rx="70.3" ry="16" opacity=".03"/><ellipse class="w" cx="1112.9" cy="1502" rx="38.3" ry="15.1" opacity=".01"/><ellipse class="w" cx="1152" cy="1509.5" rx="30" ry="12.6" opacity=".05"/><ellipse class="k" cx="1039" cy="1492.8" rx="64.5" ry="15.8" opacity=".07"/><ellipse class="w" cx="946.8" cy="1523.4" rx="56.4" ry="12.9" opacity=".03"/><ellipse class="k" cx="934.2" cy="1495.8" rx="70.2" ry="14.2" opacity=".08"/><ellipse class="w" cx="1001.9" cy="1529.6" rx="74" ry="20" opacity=".11"/><ellipse class="w" cx="952.4" cy="1520.9" rx="48.1" ry="14.2" opacity=".02"/><ellipse class="w" cx="1102.4" cy="1521.5" rx="38.7" ry="19.4" opacity=".18"/><ellipse class="k" cx="1100.6" cy="1491.8" rx="71.7" ry="17.4" opacity=".14"/><ellipse class="k" cx="985.8" cy="1505.9" rx="63.9" ry="19.6" opacity=".18"/><ellipse class="k" cx="1192.2" cy="1522.5" rx="69.3" ry="13.8" opacity=".14"/><ellipse class="k" cx="1179.8" cy="1522.8" rx="54.7" ry="17.5" opacity=".09"/><ellipse class="w" cx="1004.9" cy="1537.7" rx="52.2" ry="13.7" opacity=".18"/><ellipse class="w" cx="1110.6" cy="1512.7" rx="67.8" ry="12.7" opacity=".07"/><ellipse class="k" cx="1065.6" cy="1520.5" rx="59.2" ry="15.3" opacity=".18"/><ellipse class="k" cx="984.3" cy="1530.4" rx="71.1" ry="18.8" opacity=".12"/><ellipse class="w" cx="1140" cy="1516.6" rx="83.3" ry="13.7" opacity=".01"/><ellipse class="w" cx="1079.8" cy="1484.4" rx="32.4" ry="13" opacity=".10"/><ellipse class="w" cx="1075" cy="1372" rx="18" ry="45" opacity=".21"/><ellipse class="w" cx="1084.3" cy="1372" rx="18" ry="45" opacity=".21"/><ellipse class="w" cx="1093.6" cy="1372" rx="18" ry="45" opacity=".21"/><ellipse class="w" cx="1102.9" cy="1372" rx="18" ry="45" opacity=".21"/><ellipse class="w" cx="1112.2" cy="1372" rx="18" ry="45" opacity=".21"/><ellipse class="w" cx="1121.5" cy="1372" rx="18" ry="45" opacity=".21"/><ellipse class="w" cx="1130.8" cy="1372" rx="18" ry="45" opacity=".21"/><ellipse class="w" cx="1140.1" cy="1372" rx="18" ry="45" opacity=".21"/><ellipse class="w" cx="1149.4" cy="1372" rx="18" ry="45" opacity=".21"/><ellipse class="w" cx="1158.7" cy="1372" rx="18" ry="45" opacity=".21"/><ellipse class="w" cx="1168" cy="1372" rx="18" ry="45" opacity=".21"/><ellipse class="w" cx="1078" cy="1373" rx="15" ry="30" opacity=".21"/><ellipse class="w" cx="1086" cy="1373" rx="15" ry="30" opacity=".21"/><ellipse class="w" cx="1094" cy="1373" rx="15" ry="30" opacity=".21"/><ellipse class="w" cx="1102" cy="1373" rx="15" ry="30" opacity=".21"/><ellipse class="w" cx="1110" cy="1373" rx="15" ry="30" opacity=".21"/><ellipse class="w" cx="1118" cy="1373" rx="15" ry="30" opacity=".21"/><ellipse class="w" cx="1126" cy="1373" rx="15" ry="30" opacity=".21"/><ellipse class="w" cx="1134" cy="1373" rx="15" ry="30" opacity=".21"/><ellipse class="w" cx="1142" cy="1373" rx="15" ry="30" opacity=".21"/><ellipse class="w" cx="1150" cy="1373" rx="15" ry="30" opacity=".21"/><ellipse class="w" cx="1158" cy="1373" rx="15" ry="30" opacity=".21"/><ellipse class="w" cx="1166" cy="1373" rx="15" ry="30" opacity=".21"/><ellipse class="k" cx="1140" cy="1500" rx="180" ry="18" opacity=".17"/><ellipse class="k" cx="1100" cy="1502" rx="33" ry="15" opacity=".25"/><ellipse class="w" cx="1130" cy="1488" rx="30" ry="15" opacity=".15"/><ellipse class="w" cx="1250" cy="1494" rx="30" ry="15" opacity=".17"/><ellipse class="w" cx="1160" cy="1530" rx="300" ry="21" opacity=".25"/><ellipse class="w" cx="1165" cy="1537" rx="180" ry="9" opacity=".50"/><ellipse class="w" cx="1068" cy="1519" rx="27" ry="18" opacity=".33"/><ellipse class="w" cx="1165" cy="1345" rx="7.5" ry="36" opacity=".25"/><ellipse class="w" cx="1091.4" cy="1378" rx="13.5" ry="30" opacity=".28"/><ellipse class="w" cx="1111" cy="1376" rx="13.5" ry="30" opacity=".28"/><ellipse class="w" cx="1125" cy="1373" rx="9" ry="27" opacity=".12"/><ellipse class="w" cx="1145.6" cy="1372" rx="15" ry="30" opacity=".30"/><ellipse class="w" cx="1165.2" cy="1368" rx="9.6" ry="39" opacity=".38"/></g></g>
<path d="M928.1 1289.5H1282.4" stroke="#b8c8b8" stroke-width="1.2" opacity=".7" fill="none"/>
<path d="M929.3 1272.6C929.9 1272.8 931.5 1274.2 933.0 1273.8C934.4 1273.4 936.4 1270.8 937.8 1270.2C939.2 1269.6 940.1 1270.9 941.5 1270.2C942.9 1269.5 944.5 1265.3 946.3 1266.0C948.2 1266.7 950.4 1274.6 952.4 1274.3C954.5 1274.1 956.5 1264.5 958.5 1264.6C960.6 1264.7 962.4 1272.5 964.6 1275.0C966.8 1277.6 969.5 1280.5 971.9 1279.9C974.3 1279.3 977.0 1273.4 979.2 1271.4C981.5 1269.4 983.5 1267.7 985.3 1267.7C987.1 1267.7 988.6 1269.5 990.2 1271.4C991.8 1273.3 993.2 1279.4 995.0 1279.2C996.9 1279.0 999.3 1271.1 1001.1 1270.2C1003.0 1269.3 1004.4 1273.4 1006.0 1273.8C1007.6 1274.2 1009.2 1274.0 1010.9 1272.6C1012.5 1271.2 1014.1 1266.4 1015.7 1265.3C1017.4 1264.2 1018.4 1263.4 1020.6 1266.0C1022.8 1268.7 1026.3 1281.5 1029.1 1281.1C1032.0 1280.8 1035.2 1265.1 1037.7 1264.1C1040.1 1263.1 1041.7 1273.3 1043.7 1275.0C1045.8 1276.8 1048.0 1274.1 1049.8 1274.3C1051.7 1274.5 1052.9 1277.0 1054.7 1276.3C1056.5 1275.6 1058.8 1272.2 1060.8 1270.2C1062.8 1268.1 1065.3 1264.9 1066.9 1264.1C1068.5 1263.3 1069.1 1267.3 1070.5 1265.3C1071.9 1263.3 1073.8 1255.0 1075.4 1251.9C1077.0 1248.9 1078.8 1248.7 1080.3 1247.0C1081.7 1245.4 1082.3 1244.6 1083.9 1242.2C1085.5 1239.7 1088.0 1233.2 1090.0 1232.4C1092.0 1231.6 1094.1 1236.7 1096.1 1237.3C1098.1 1237.9 1099.5 1237.1 1102.2 1236.1C1104.8 1235.1 1109.3 1229.8 1111.9 1231.2C1114.6 1232.6 1116.0 1244.4 1118.0 1244.6C1120.0 1244.8 1122.3 1233.2 1124.1 1232.4C1125.9 1231.6 1127.1 1237.7 1129.0 1239.7C1130.8 1241.8 1132.8 1246.4 1135.1 1244.6C1137.3 1242.8 1140.1 1230.6 1142.4 1228.8C1144.6 1227.0 1146.4 1230.8 1148.4 1233.7C1150.5 1236.5 1152.9 1244.4 1154.5 1245.8C1156.2 1247.2 1156.8 1245.6 1158.2 1242.2C1159.6 1238.7 1161.6 1226.6 1163.1 1225.1C1164.5 1223.7 1165.5 1226.8 1166.7 1233.7C1167.9 1240.6 1169.1 1258.6 1170.4 1266.5C1171.6 1274.4 1172.4 1281.5 1174.0 1281.1C1175.6 1280.7 1178.1 1267.1 1180.1 1264.1C1182.1 1261.0 1184.4 1261.2 1186.2 1262.9C1188.0 1264.5 1188.8 1273.2 1191.1 1273.8C1193.3 1274.4 1196.1 1268.8 1199.6 1266.5C1203.0 1264.3 1208.7 1260.2 1211.7 1260.4C1214.8 1260.6 1216.0 1266.5 1217.8 1267.7C1219.7 1269.0 1220.9 1266.7 1222.7 1267.7C1224.5 1268.8 1226.6 1271.6 1228.8 1273.8C1231.0 1276.1 1234.1 1281.7 1236.1 1281.1C1238.1 1280.5 1238.9 1270.0 1241.0 1270.2C1243.0 1270.4 1246.0 1281.7 1248.3 1282.4C1250.5 1283.0 1252.1 1276.1 1254.4 1273.8C1256.6 1271.5 1259.6 1268.5 1261.7 1268.5C1263.7 1268.5 1264.7 1273.4 1266.5 1273.8C1268.4 1274.2 1270.8 1271.7 1272.6 1270.9C1274.4 1270.1 1276.1 1268.7 1277.5 1269.0C1278.9 1269.2 1280.5 1272.0 1281.1 1272.6" stroke="#722a3e" stroke-width="2.4" fill="none" stroke-linejoin="round" stroke-linecap="round"/>
<path d="M1052.8 1181.4V1537.2" stroke="#333" stroke-width="1.3" stroke-dasharray="2 2" fill="none"/>
<text x="133.6" y="922.2" font-size="34.0" text-anchor="end">60</text>
<text x="133.6" y="1002.3" font-size="34.0" text-anchor="end">40</text>
<text x="133.6" y="1085.7" font-size="34.0" text-anchor="end">20</text>
<text transform="translate(75.0 1011.0) rotate(-90)" font-size="32.3" text-anchor="middle">Frequency (Hz)</text>
<text x="1288.0" y="836.0" font-size="36.0" text-anchor="start">20</text>
<text x="1288.0" y="901.3" font-size="36.0" text-anchor="start">0</text>
<text x="1342.0" y="844.2" font-size="30.0" text-anchor="start">40-Hz</text>
<text x="1342.0" y="880.0" font-size="30.0" text-anchor="start">Power (%)</text>
<text x="133.6" y="1307.2" font-size="34.0" text-anchor="end">60</text>
<text x="133.6" y="1387.3" font-size="34.0" text-anchor="end">40</text>
<text x="133.6" y="1470.7" font-size="34.0" text-anchor="end">20</text>
<text transform="translate(79.6 1394.0) rotate(-90)" font-size="32.3" text-anchor="middle">Frequency (Hz)</text>
<text x="1288.0" y="1216.7" font-size="36.0" text-anchor="start">20</text>
<text x="1288.0" y="1282.0" font-size="36.0" text-anchor="start">0</text>
<text x="1342.0" y="1229.5" font-size="30.0" text-anchor="start">40-Hz</text>
<text x="1342.0" y="1265.3" font-size="30.0" text-anchor="start">Power (%)</text>
<text x="159.3" y="1582.4" font-size="33.5" text-anchor="middle">-1</text>
<text x="270.7" y="1582.4" font-size="33.5" text-anchor="middle">0</text>
<text x="383.0" y="1582.4" font-size="33.5" text-anchor="middle">1</text>
<text x="491.0" y="1582.4" font-size="33.5" text-anchor="middle">2</text>
<text x="553.3" y="1582.4" font-size="33.5" text-anchor="middle">-1</text>
<text x="663.0" y="1582.4" font-size="33.5" text-anchor="middle">0</text>
<text x="775.5" y="1582.4" font-size="33.5" text-anchor="middle">1</text>
<text x="884.0" y="1582.4" font-size="33.5" text-anchor="middle">2</text>
<text x="947.4" y="1582.4" font-size="33.5" text-anchor="middle">-1</text>
<text x="1053.8" y="1582.4" font-size="33.5" text-anchor="middle">0</text>
<text x="1168.5" y="1582.4" font-size="33.5" text-anchor="middle">1</text>
<text x="1275.0" y="1582.4" font-size="33.5" text-anchor="middle">2</text>
<text x="728.1" y="1634.0" font-size="34.7" text-anchor="middle">Time (s)</text>
<text x="15.2" y="808.6" font-size="51.0" text-anchor="start" font-weight="bold">b</text>
<rect x="405.6" y="1732" width="635.4" height="39.4" fill="url(#cb)"/>
<text x="736.2" y="1710.6" font-size="32.3" text-anchor="middle">Relative Change (%)</text>
<text x="412.5" y="1818.5" font-size="36.0" text-anchor="middle">-20</text>
<text x="580.0" y="1818.5" font-size="36.0" text-anchor="middle">-10</text>
<text x="731.0" y="1818.5" font-size="36.0" text-anchor="middle">0</text>
<text x="879.0" y="1818.5" font-size="36.0" text-anchor="middle">10</text>
<text x="1033.6" y="1818.5" font-size="36.0" text-anchor="middle">20</text></svg></body></html>
